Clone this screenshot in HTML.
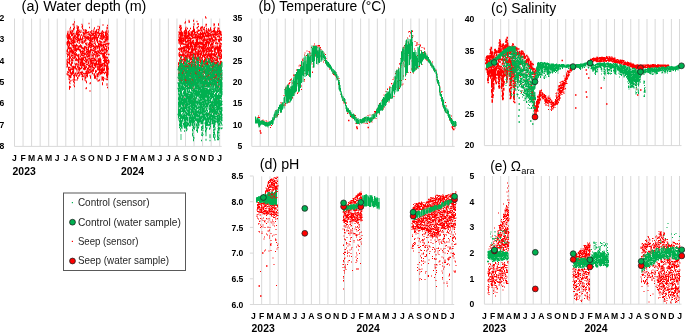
<!DOCTYPE html>
<html><head><meta charset="utf-8"><style>html,body{margin:0;padding:0;background:#fff;width:685px;height:332px;overflow:hidden}svg{display:block;will-change:transform}</style></head>
<body><svg xmlns="http://www.w3.org/2000/svg" width="685" height="332" viewBox="0 0 685 332">
<rect width="685" height="332" fill="#fff"/>
<line x1="14.50" y1="18.5" x2="14.50" y2="146.4" stroke="#d9d9d9" stroke-width="1"/>
<line x1="23.05" y1="18.5" x2="23.05" y2="146.4" stroke="#d9d9d9" stroke-width="1"/>
<line x1="31.60" y1="18.5" x2="31.60" y2="146.4" stroke="#d9d9d9" stroke-width="1"/>
<line x1="40.15" y1="18.5" x2="40.15" y2="146.4" stroke="#d9d9d9" stroke-width="1"/>
<line x1="48.70" y1="18.5" x2="48.70" y2="146.4" stroke="#d9d9d9" stroke-width="1"/>
<line x1="57.25" y1="18.5" x2="57.25" y2="146.4" stroke="#d9d9d9" stroke-width="1"/>
<line x1="65.80" y1="18.5" x2="65.80" y2="146.4" stroke="#d9d9d9" stroke-width="1"/>
<line x1="74.35" y1="18.5" x2="74.35" y2="146.4" stroke="#d9d9d9" stroke-width="1"/>
<line x1="82.90" y1="18.5" x2="82.90" y2="146.4" stroke="#d9d9d9" stroke-width="1"/>
<line x1="91.45" y1="18.5" x2="91.45" y2="146.4" stroke="#d9d9d9" stroke-width="1"/>
<line x1="100.00" y1="18.5" x2="100.00" y2="146.4" stroke="#d9d9d9" stroke-width="1"/>
<line x1="108.55" y1="18.5" x2="108.55" y2="146.4" stroke="#d9d9d9" stroke-width="1"/>
<line x1="117.10" y1="18.5" x2="117.10" y2="146.4" stroke="#d9d9d9" stroke-width="1"/>
<line x1="125.65" y1="18.5" x2="125.65" y2="146.4" stroke="#d9d9d9" stroke-width="1"/>
<line x1="134.20" y1="18.5" x2="134.20" y2="146.4" stroke="#d9d9d9" stroke-width="1"/>
<line x1="142.75" y1="18.5" x2="142.75" y2="146.4" stroke="#d9d9d9" stroke-width="1"/>
<line x1="151.30" y1="18.5" x2="151.30" y2="146.4" stroke="#d9d9d9" stroke-width="1"/>
<line x1="159.85" y1="18.5" x2="159.85" y2="146.4" stroke="#d9d9d9" stroke-width="1"/>
<line x1="168.40" y1="18.5" x2="168.40" y2="146.4" stroke="#d9d9d9" stroke-width="1"/>
<line x1="176.95" y1="18.5" x2="176.95" y2="146.4" stroke="#d9d9d9" stroke-width="1"/>
<line x1="185.50" y1="18.5" x2="185.50" y2="146.4" stroke="#d9d9d9" stroke-width="1"/>
<line x1="194.05" y1="18.5" x2="194.05" y2="146.4" stroke="#d9d9d9" stroke-width="1"/>
<line x1="202.60" y1="18.5" x2="202.60" y2="146.4" stroke="#d9d9d9" stroke-width="1"/>
<line x1="211.15" y1="18.5" x2="211.15" y2="146.4" stroke="#d9d9d9" stroke-width="1"/>
<line x1="219.70" y1="18.5" x2="219.70" y2="146.4" stroke="#d9d9d9" stroke-width="1"/>
<line x1="14.50" y1="146.4" x2="221.70" y2="146.4" stroke="#d9d9d9" stroke-width="1"/>
<text x="4.2" y="21.1" font-size="8.6" font-weight="bold" text-anchor="end" fill="#000" font-family="Liberation Sans, sans-serif">2</text>
<text x="4.2" y="42.43" font-size="8.6" font-weight="bold" text-anchor="end" fill="#000" font-family="Liberation Sans, sans-serif">3</text>
<text x="4.2" y="63.76" font-size="8.6" font-weight="bold" text-anchor="end" fill="#000" font-family="Liberation Sans, sans-serif">4</text>
<text x="4.2" y="85.08999999999999" font-size="8.6" font-weight="bold" text-anchor="end" fill="#000" font-family="Liberation Sans, sans-serif">5</text>
<text x="4.2" y="106.41999999999999" font-size="8.6" font-weight="bold" text-anchor="end" fill="#000" font-family="Liberation Sans, sans-serif">6</text>
<text x="4.2" y="127.74999999999999" font-size="8.6" font-weight="bold" text-anchor="end" fill="#000" font-family="Liberation Sans, sans-serif">7</text>
<text x="4.2" y="149.07999999999998" font-size="8.6" font-weight="bold" text-anchor="end" fill="#000" font-family="Liberation Sans, sans-serif">8</text>
<text x="14.50" y="160.7" font-size="8.6" font-weight="bold" text-anchor="middle" fill="#000" font-family="Liberation Sans, sans-serif">J</text>
<text x="23.05" y="160.7" font-size="8.6" font-weight="bold" text-anchor="middle" fill="#000" font-family="Liberation Sans, sans-serif">F</text>
<text x="31.60" y="160.7" font-size="8.6" font-weight="bold" text-anchor="middle" fill="#000" font-family="Liberation Sans, sans-serif">M</text>
<text x="40.15" y="160.7" font-size="8.6" font-weight="bold" text-anchor="middle" fill="#000" font-family="Liberation Sans, sans-serif">A</text>
<text x="48.70" y="160.7" font-size="8.6" font-weight="bold" text-anchor="middle" fill="#000" font-family="Liberation Sans, sans-serif">M</text>
<text x="57.25" y="160.7" font-size="8.6" font-weight="bold" text-anchor="middle" fill="#000" font-family="Liberation Sans, sans-serif">J</text>
<text x="65.80" y="160.7" font-size="8.6" font-weight="bold" text-anchor="middle" fill="#000" font-family="Liberation Sans, sans-serif">J</text>
<text x="74.35" y="160.7" font-size="8.6" font-weight="bold" text-anchor="middle" fill="#000" font-family="Liberation Sans, sans-serif">A</text>
<text x="82.90" y="160.7" font-size="8.6" font-weight="bold" text-anchor="middle" fill="#000" font-family="Liberation Sans, sans-serif">S</text>
<text x="91.45" y="160.7" font-size="8.6" font-weight="bold" text-anchor="middle" fill="#000" font-family="Liberation Sans, sans-serif">O</text>
<text x="100.00" y="160.7" font-size="8.6" font-weight="bold" text-anchor="middle" fill="#000" font-family="Liberation Sans, sans-serif">N</text>
<text x="108.55" y="160.7" font-size="8.6" font-weight="bold" text-anchor="middle" fill="#000" font-family="Liberation Sans, sans-serif">D</text>
<text x="117.10" y="160.7" font-size="8.6" font-weight="bold" text-anchor="middle" fill="#000" font-family="Liberation Sans, sans-serif">J</text>
<text x="125.65" y="160.7" font-size="8.6" font-weight="bold" text-anchor="middle" fill="#000" font-family="Liberation Sans, sans-serif">F</text>
<text x="134.20" y="160.7" font-size="8.6" font-weight="bold" text-anchor="middle" fill="#000" font-family="Liberation Sans, sans-serif">M</text>
<text x="142.75" y="160.7" font-size="8.6" font-weight="bold" text-anchor="middle" fill="#000" font-family="Liberation Sans, sans-serif">A</text>
<text x="151.30" y="160.7" font-size="8.6" font-weight="bold" text-anchor="middle" fill="#000" font-family="Liberation Sans, sans-serif">M</text>
<text x="159.85" y="160.7" font-size="8.6" font-weight="bold" text-anchor="middle" fill="#000" font-family="Liberation Sans, sans-serif">J</text>
<text x="168.40" y="160.7" font-size="8.6" font-weight="bold" text-anchor="middle" fill="#000" font-family="Liberation Sans, sans-serif">J</text>
<text x="176.95" y="160.7" font-size="8.6" font-weight="bold" text-anchor="middle" fill="#000" font-family="Liberation Sans, sans-serif">A</text>
<text x="185.50" y="160.7" font-size="8.6" font-weight="bold" text-anchor="middle" fill="#000" font-family="Liberation Sans, sans-serif">S</text>
<text x="194.05" y="160.7" font-size="8.6" font-weight="bold" text-anchor="middle" fill="#000" font-family="Liberation Sans, sans-serif">O</text>
<text x="202.60" y="160.7" font-size="8.6" font-weight="bold" text-anchor="middle" fill="#000" font-family="Liberation Sans, sans-serif">N</text>
<text x="211.15" y="160.7" font-size="8.6" font-weight="bold" text-anchor="middle" fill="#000" font-family="Liberation Sans, sans-serif">D</text>
<text x="219.70" y="160.7" font-size="8.6" font-weight="bold" text-anchor="middle" fill="#000" font-family="Liberation Sans, sans-serif">J</text>
<text x="12.6" y="174.6" font-size="10.4" font-weight="bold" text-anchor="start" fill="#000" font-family="Liberation Sans, sans-serif">2023</text>
<text x="121" y="174.6" font-size="10.4" font-weight="bold" text-anchor="start" fill="#000" font-family="Liberation Sans, sans-serif">2024</text>
<text x="21.6" y="10.9" font-size="14" font-weight="normal" text-anchor="start" fill="#000" textLength="124.8" lengthAdjust="spacingAndGlyphs" font-family="Liberation Sans, sans-serif">(a) Water depth (m)</text>
<line x1="251.80" y1="18.5" x2="251.80" y2="146.4" stroke="#d9d9d9" stroke-width="1"/>
<line x1="260.17" y1="18.5" x2="260.17" y2="146.4" stroke="#d9d9d9" stroke-width="1"/>
<line x1="268.54" y1="18.5" x2="268.54" y2="146.4" stroke="#d9d9d9" stroke-width="1"/>
<line x1="276.91" y1="18.5" x2="276.91" y2="146.4" stroke="#d9d9d9" stroke-width="1"/>
<line x1="285.28" y1="18.5" x2="285.28" y2="146.4" stroke="#d9d9d9" stroke-width="1"/>
<line x1="293.65" y1="18.5" x2="293.65" y2="146.4" stroke="#d9d9d9" stroke-width="1"/>
<line x1="302.02" y1="18.5" x2="302.02" y2="146.4" stroke="#d9d9d9" stroke-width="1"/>
<line x1="310.39" y1="18.5" x2="310.39" y2="146.4" stroke="#d9d9d9" stroke-width="1"/>
<line x1="318.76" y1="18.5" x2="318.76" y2="146.4" stroke="#d9d9d9" stroke-width="1"/>
<line x1="327.13" y1="18.5" x2="327.13" y2="146.4" stroke="#d9d9d9" stroke-width="1"/>
<line x1="335.50" y1="18.5" x2="335.50" y2="146.4" stroke="#d9d9d9" stroke-width="1"/>
<line x1="343.87" y1="18.5" x2="343.87" y2="146.4" stroke="#d9d9d9" stroke-width="1"/>
<line x1="352.24" y1="18.5" x2="352.24" y2="146.4" stroke="#d9d9d9" stroke-width="1"/>
<line x1="360.61" y1="18.5" x2="360.61" y2="146.4" stroke="#d9d9d9" stroke-width="1"/>
<line x1="368.98" y1="18.5" x2="368.98" y2="146.4" stroke="#d9d9d9" stroke-width="1"/>
<line x1="377.35" y1="18.5" x2="377.35" y2="146.4" stroke="#d9d9d9" stroke-width="1"/>
<line x1="385.72" y1="18.5" x2="385.72" y2="146.4" stroke="#d9d9d9" stroke-width="1"/>
<line x1="394.09" y1="18.5" x2="394.09" y2="146.4" stroke="#d9d9d9" stroke-width="1"/>
<line x1="402.46" y1="18.5" x2="402.46" y2="146.4" stroke="#d9d9d9" stroke-width="1"/>
<line x1="410.83" y1="18.5" x2="410.83" y2="146.4" stroke="#d9d9d9" stroke-width="1"/>
<line x1="419.20" y1="18.5" x2="419.20" y2="146.4" stroke="#d9d9d9" stroke-width="1"/>
<line x1="427.57" y1="18.5" x2="427.57" y2="146.4" stroke="#d9d9d9" stroke-width="1"/>
<line x1="435.94" y1="18.5" x2="435.94" y2="146.4" stroke="#d9d9d9" stroke-width="1"/>
<line x1="444.31" y1="18.5" x2="444.31" y2="146.4" stroke="#d9d9d9" stroke-width="1"/>
<line x1="452.68" y1="18.5" x2="452.68" y2="146.4" stroke="#d9d9d9" stroke-width="1"/>
<line x1="251.80" y1="146.4" x2="454.68" y2="146.4" stroke="#d9d9d9" stroke-width="1"/>
<text x="242.4" y="21.089999999999982" font-size="8.6" font-weight="bold" text-anchor="end" fill="#000" font-family="Liberation Sans, sans-serif">35</text>
<text x="242.4" y="42.42499999999999" font-size="8.6" font-weight="bold" text-anchor="end" fill="#000" font-family="Liberation Sans, sans-serif">30</text>
<text x="242.4" y="63.76" font-size="8.6" font-weight="bold" text-anchor="end" fill="#000" font-family="Liberation Sans, sans-serif">25</text>
<text x="242.4" y="85.09499999999998" font-size="8.6" font-weight="bold" text-anchor="end" fill="#000" font-family="Liberation Sans, sans-serif">20</text>
<text x="242.4" y="106.42999999999999" font-size="8.6" font-weight="bold" text-anchor="end" fill="#000" font-family="Liberation Sans, sans-serif">15</text>
<text x="242.4" y="127.76499999999999" font-size="8.6" font-weight="bold" text-anchor="end" fill="#000" font-family="Liberation Sans, sans-serif">10</text>
<text x="242.4" y="149.1" font-size="8.6" font-weight="bold" text-anchor="end" fill="#000" font-family="Liberation Sans, sans-serif">5</text>
<text x="258.6" y="10.9" font-size="14" font-weight="normal" text-anchor="start" fill="#000" textLength="127.4" lengthAdjust="spacingAndGlyphs" font-family="Liberation Sans, sans-serif">(b) Temperature (°C)</text>
<line x1="484.40" y1="19" x2="484.40" y2="145.6" stroke="#d9d9d9" stroke-width="1"/>
<line x1="492.53" y1="19" x2="492.53" y2="145.6" stroke="#d9d9d9" stroke-width="1"/>
<line x1="500.66" y1="19" x2="500.66" y2="145.6" stroke="#d9d9d9" stroke-width="1"/>
<line x1="508.79" y1="19" x2="508.79" y2="145.6" stroke="#d9d9d9" stroke-width="1"/>
<line x1="516.92" y1="19" x2="516.92" y2="145.6" stroke="#d9d9d9" stroke-width="1"/>
<line x1="525.05" y1="19" x2="525.05" y2="145.6" stroke="#d9d9d9" stroke-width="1"/>
<line x1="533.18" y1="19" x2="533.18" y2="145.6" stroke="#d9d9d9" stroke-width="1"/>
<line x1="541.31" y1="19" x2="541.31" y2="145.6" stroke="#d9d9d9" stroke-width="1"/>
<line x1="549.44" y1="19" x2="549.44" y2="145.6" stroke="#d9d9d9" stroke-width="1"/>
<line x1="557.57" y1="19" x2="557.57" y2="145.6" stroke="#d9d9d9" stroke-width="1"/>
<line x1="565.70" y1="19" x2="565.70" y2="145.6" stroke="#d9d9d9" stroke-width="1"/>
<line x1="573.83" y1="19" x2="573.83" y2="145.6" stroke="#d9d9d9" stroke-width="1"/>
<line x1="581.96" y1="19" x2="581.96" y2="145.6" stroke="#d9d9d9" stroke-width="1"/>
<line x1="590.09" y1="19" x2="590.09" y2="145.6" stroke="#d9d9d9" stroke-width="1"/>
<line x1="598.22" y1="19" x2="598.22" y2="145.6" stroke="#d9d9d9" stroke-width="1"/>
<line x1="606.35" y1="19" x2="606.35" y2="145.6" stroke="#d9d9d9" stroke-width="1"/>
<line x1="614.48" y1="19" x2="614.48" y2="145.6" stroke="#d9d9d9" stroke-width="1"/>
<line x1="622.61" y1="19" x2="622.61" y2="145.6" stroke="#d9d9d9" stroke-width="1"/>
<line x1="630.74" y1="19" x2="630.74" y2="145.6" stroke="#d9d9d9" stroke-width="1"/>
<line x1="638.87" y1="19" x2="638.87" y2="145.6" stroke="#d9d9d9" stroke-width="1"/>
<line x1="647.00" y1="19" x2="647.00" y2="145.6" stroke="#d9d9d9" stroke-width="1"/>
<line x1="655.13" y1="19" x2="655.13" y2="145.6" stroke="#d9d9d9" stroke-width="1"/>
<line x1="663.26" y1="19" x2="663.26" y2="145.6" stroke="#d9d9d9" stroke-width="1"/>
<line x1="671.39" y1="19" x2="671.39" y2="145.6" stroke="#d9d9d9" stroke-width="1"/>
<line x1="679.52" y1="19" x2="679.52" y2="145.6" stroke="#d9d9d9" stroke-width="1"/>
<line x1="484.40" y1="145.6" x2="681.52" y2="145.6" stroke="#d9d9d9" stroke-width="1"/>
<text x="474.4" y="22.400000000000013" font-size="8.6" font-weight="bold" text-anchor="end" fill="#000" font-family="Liberation Sans, sans-serif">40</text>
<text x="474.4" y="53.90000000000001" font-size="8.6" font-weight="bold" text-anchor="end" fill="#000" font-family="Liberation Sans, sans-serif">35</text>
<text x="474.4" y="85.4" font-size="8.6" font-weight="bold" text-anchor="end" fill="#000" font-family="Liberation Sans, sans-serif">30</text>
<text x="474.4" y="116.9" font-size="8.6" font-weight="bold" text-anchor="end" fill="#000" font-family="Liberation Sans, sans-serif">25</text>
<text x="474.4" y="148.4" font-size="8.6" font-weight="bold" text-anchor="end" fill="#000" font-family="Liberation Sans, sans-serif">20</text>
<text x="491.0" y="12.7" font-size="14" font-weight="normal" text-anchor="start" fill="#000" textLength="65.2" lengthAdjust="spacingAndGlyphs" font-family="Liberation Sans, sans-serif">(c) Salinity</text>
<line x1="253.40" y1="176.3" x2="253.40" y2="304.5" stroke="#d9d9d9" stroke-width="1"/>
<line x1="261.68" y1="176.3" x2="261.68" y2="304.5" stroke="#d9d9d9" stroke-width="1"/>
<line x1="269.97" y1="176.3" x2="269.97" y2="304.5" stroke="#d9d9d9" stroke-width="1"/>
<line x1="278.25" y1="176.3" x2="278.25" y2="304.5" stroke="#d9d9d9" stroke-width="1"/>
<line x1="286.53" y1="176.3" x2="286.53" y2="304.5" stroke="#d9d9d9" stroke-width="1"/>
<line x1="294.81" y1="176.3" x2="294.81" y2="304.5" stroke="#d9d9d9" stroke-width="1"/>
<line x1="303.10" y1="176.3" x2="303.10" y2="304.5" stroke="#d9d9d9" stroke-width="1"/>
<line x1="311.38" y1="176.3" x2="311.38" y2="304.5" stroke="#d9d9d9" stroke-width="1"/>
<line x1="319.66" y1="176.3" x2="319.66" y2="304.5" stroke="#d9d9d9" stroke-width="1"/>
<line x1="327.95" y1="176.3" x2="327.95" y2="304.5" stroke="#d9d9d9" stroke-width="1"/>
<line x1="336.23" y1="176.3" x2="336.23" y2="304.5" stroke="#d9d9d9" stroke-width="1"/>
<line x1="344.51" y1="176.3" x2="344.51" y2="304.5" stroke="#d9d9d9" stroke-width="1"/>
<line x1="352.80" y1="176.3" x2="352.80" y2="304.5" stroke="#d9d9d9" stroke-width="1"/>
<line x1="361.08" y1="176.3" x2="361.08" y2="304.5" stroke="#d9d9d9" stroke-width="1"/>
<line x1="369.36" y1="176.3" x2="369.36" y2="304.5" stroke="#d9d9d9" stroke-width="1"/>
<line x1="377.64" y1="176.3" x2="377.64" y2="304.5" stroke="#d9d9d9" stroke-width="1"/>
<line x1="385.93" y1="176.3" x2="385.93" y2="304.5" stroke="#d9d9d9" stroke-width="1"/>
<line x1="394.21" y1="176.3" x2="394.21" y2="304.5" stroke="#d9d9d9" stroke-width="1"/>
<line x1="402.49" y1="176.3" x2="402.49" y2="304.5" stroke="#d9d9d9" stroke-width="1"/>
<line x1="410.78" y1="176.3" x2="410.78" y2="304.5" stroke="#d9d9d9" stroke-width="1"/>
<line x1="419.06" y1="176.3" x2="419.06" y2="304.5" stroke="#d9d9d9" stroke-width="1"/>
<line x1="427.34" y1="176.3" x2="427.34" y2="304.5" stroke="#d9d9d9" stroke-width="1"/>
<line x1="435.63" y1="176.3" x2="435.63" y2="304.5" stroke="#d9d9d9" stroke-width="1"/>
<line x1="443.91" y1="176.3" x2="443.91" y2="304.5" stroke="#d9d9d9" stroke-width="1"/>
<line x1="452.19" y1="176.3" x2="452.19" y2="304.5" stroke="#d9d9d9" stroke-width="1"/>
<line x1="249.90" y1="304.5" x2="454.19" y2="304.5" stroke="#d9d9d9" stroke-width="1"/>
<line x1="249.9" y1="176.00" x2="253.4" y2="176.00" stroke="#d9d9d9" stroke-width="1"/>
<line x1="249.9" y1="201.70" x2="253.4" y2="201.70" stroke="#d9d9d9" stroke-width="1"/>
<line x1="249.9" y1="227.40" x2="253.4" y2="227.40" stroke="#d9d9d9" stroke-width="1"/>
<line x1="249.9" y1="253.10" x2="253.4" y2="253.10" stroke="#d9d9d9" stroke-width="1"/>
<line x1="249.9" y1="278.80" x2="253.4" y2="278.80" stroke="#d9d9d9" stroke-width="1"/>
<text x="243.4" y="179.1" font-size="8.6" font-weight="bold" text-anchor="end" fill="#000" font-family="Liberation Sans, sans-serif">8.5</text>
<text x="243.4" y="204.79999999999998" font-size="8.6" font-weight="bold" text-anchor="end" fill="#000" font-family="Liberation Sans, sans-serif">8.0</text>
<text x="243.4" y="230.5" font-size="8.6" font-weight="bold" text-anchor="end" fill="#000" font-family="Liberation Sans, sans-serif">7.5</text>
<text x="243.4" y="256.2" font-size="8.6" font-weight="bold" text-anchor="end" fill="#000" font-family="Liberation Sans, sans-serif">7.0</text>
<text x="243.4" y="281.90000000000003" font-size="8.6" font-weight="bold" text-anchor="end" fill="#000" font-family="Liberation Sans, sans-serif">6.5</text>
<text x="243.4" y="307.6" font-size="8.6" font-weight="bold" text-anchor="end" fill="#000" font-family="Liberation Sans, sans-serif">6.0</text>
<text x="253.40" y="318.5" font-size="8.6" font-weight="bold" text-anchor="middle" fill="#000" font-family="Liberation Sans, sans-serif">J</text>
<text x="261.68" y="318.5" font-size="8.6" font-weight="bold" text-anchor="middle" fill="#000" font-family="Liberation Sans, sans-serif">F</text>
<text x="269.97" y="318.5" font-size="8.6" font-weight="bold" text-anchor="middle" fill="#000" font-family="Liberation Sans, sans-serif">M</text>
<text x="278.25" y="318.5" font-size="8.6" font-weight="bold" text-anchor="middle" fill="#000" font-family="Liberation Sans, sans-serif">A</text>
<text x="286.53" y="318.5" font-size="8.6" font-weight="bold" text-anchor="middle" fill="#000" font-family="Liberation Sans, sans-serif">M</text>
<text x="294.81" y="318.5" font-size="8.6" font-weight="bold" text-anchor="middle" fill="#000" font-family="Liberation Sans, sans-serif">J</text>
<text x="303.10" y="318.5" font-size="8.6" font-weight="bold" text-anchor="middle" fill="#000" font-family="Liberation Sans, sans-serif">J</text>
<text x="311.38" y="318.5" font-size="8.6" font-weight="bold" text-anchor="middle" fill="#000" font-family="Liberation Sans, sans-serif">A</text>
<text x="319.66" y="318.5" font-size="8.6" font-weight="bold" text-anchor="middle" fill="#000" font-family="Liberation Sans, sans-serif">S</text>
<text x="327.95" y="318.5" font-size="8.6" font-weight="bold" text-anchor="middle" fill="#000" font-family="Liberation Sans, sans-serif">O</text>
<text x="336.23" y="318.5" font-size="8.6" font-weight="bold" text-anchor="middle" fill="#000" font-family="Liberation Sans, sans-serif">N</text>
<text x="344.51" y="318.5" font-size="8.6" font-weight="bold" text-anchor="middle" fill="#000" font-family="Liberation Sans, sans-serif">D</text>
<text x="352.80" y="318.5" font-size="8.6" font-weight="bold" text-anchor="middle" fill="#000" font-family="Liberation Sans, sans-serif">J</text>
<text x="361.08" y="318.5" font-size="8.6" font-weight="bold" text-anchor="middle" fill="#000" font-family="Liberation Sans, sans-serif">F</text>
<text x="369.36" y="318.5" font-size="8.6" font-weight="bold" text-anchor="middle" fill="#000" font-family="Liberation Sans, sans-serif">M</text>
<text x="377.64" y="318.5" font-size="8.6" font-weight="bold" text-anchor="middle" fill="#000" font-family="Liberation Sans, sans-serif">A</text>
<text x="385.93" y="318.5" font-size="8.6" font-weight="bold" text-anchor="middle" fill="#000" font-family="Liberation Sans, sans-serif">M</text>
<text x="394.21" y="318.5" font-size="8.6" font-weight="bold" text-anchor="middle" fill="#000" font-family="Liberation Sans, sans-serif">J</text>
<text x="402.49" y="318.5" font-size="8.6" font-weight="bold" text-anchor="middle" fill="#000" font-family="Liberation Sans, sans-serif">J</text>
<text x="410.78" y="318.5" font-size="8.6" font-weight="bold" text-anchor="middle" fill="#000" font-family="Liberation Sans, sans-serif">A</text>
<text x="419.06" y="318.5" font-size="8.6" font-weight="bold" text-anchor="middle" fill="#000" font-family="Liberation Sans, sans-serif">S</text>
<text x="427.34" y="318.5" font-size="8.6" font-weight="bold" text-anchor="middle" fill="#000" font-family="Liberation Sans, sans-serif">O</text>
<text x="435.63" y="318.5" font-size="8.6" font-weight="bold" text-anchor="middle" fill="#000" font-family="Liberation Sans, sans-serif">N</text>
<text x="443.91" y="318.5" font-size="8.6" font-weight="bold" text-anchor="middle" fill="#000" font-family="Liberation Sans, sans-serif">D</text>
<text x="452.19" y="318.5" font-size="8.6" font-weight="bold" text-anchor="middle" fill="#000" font-family="Liberation Sans, sans-serif">J</text>
<text x="251.6" y="332.4" font-size="10.4" font-weight="bold" text-anchor="start" fill="#000" font-family="Liberation Sans, sans-serif">2023</text>
<text x="356.6" y="332.4" font-size="10.4" font-weight="bold" text-anchor="start" fill="#000" font-family="Liberation Sans, sans-serif">2024</text>
<text x="259.8" y="168.8" font-size="14" font-weight="normal" text-anchor="start" fill="#000" textLength="39.6" lengthAdjust="spacingAndGlyphs" font-family="Liberation Sans, sans-serif">(d) pH</text>
<line x1="484.40" y1="176" x2="484.40" y2="304.2" stroke="#d9d9d9" stroke-width="1"/>
<line x1="492.53" y1="176" x2="492.53" y2="304.2" stroke="#d9d9d9" stroke-width="1"/>
<line x1="500.66" y1="176" x2="500.66" y2="304.2" stroke="#d9d9d9" stroke-width="1"/>
<line x1="508.79" y1="176" x2="508.79" y2="304.2" stroke="#d9d9d9" stroke-width="1"/>
<line x1="516.92" y1="176" x2="516.92" y2="304.2" stroke="#d9d9d9" stroke-width="1"/>
<line x1="525.05" y1="176" x2="525.05" y2="304.2" stroke="#d9d9d9" stroke-width="1"/>
<line x1="533.18" y1="176" x2="533.18" y2="304.2" stroke="#d9d9d9" stroke-width="1"/>
<line x1="541.31" y1="176" x2="541.31" y2="304.2" stroke="#d9d9d9" stroke-width="1"/>
<line x1="549.44" y1="176" x2="549.44" y2="304.2" stroke="#d9d9d9" stroke-width="1"/>
<line x1="557.57" y1="176" x2="557.57" y2="304.2" stroke="#d9d9d9" stroke-width="1"/>
<line x1="565.70" y1="176" x2="565.70" y2="304.2" stroke="#d9d9d9" stroke-width="1"/>
<line x1="573.83" y1="176" x2="573.83" y2="304.2" stroke="#d9d9d9" stroke-width="1"/>
<line x1="581.96" y1="176" x2="581.96" y2="304.2" stroke="#d9d9d9" stroke-width="1"/>
<line x1="590.09" y1="176" x2="590.09" y2="304.2" stroke="#d9d9d9" stroke-width="1"/>
<line x1="598.22" y1="176" x2="598.22" y2="304.2" stroke="#d9d9d9" stroke-width="1"/>
<line x1="606.35" y1="176" x2="606.35" y2="304.2" stroke="#d9d9d9" stroke-width="1"/>
<line x1="614.48" y1="176" x2="614.48" y2="304.2" stroke="#d9d9d9" stroke-width="1"/>
<line x1="622.61" y1="176" x2="622.61" y2="304.2" stroke="#d9d9d9" stroke-width="1"/>
<line x1="630.74" y1="176" x2="630.74" y2="304.2" stroke="#d9d9d9" stroke-width="1"/>
<line x1="638.87" y1="176" x2="638.87" y2="304.2" stroke="#d9d9d9" stroke-width="1"/>
<line x1="647.00" y1="176" x2="647.00" y2="304.2" stroke="#d9d9d9" stroke-width="1"/>
<line x1="655.13" y1="176" x2="655.13" y2="304.2" stroke="#d9d9d9" stroke-width="1"/>
<line x1="663.26" y1="176" x2="663.26" y2="304.2" stroke="#d9d9d9" stroke-width="1"/>
<line x1="671.39" y1="176" x2="671.39" y2="304.2" stroke="#d9d9d9" stroke-width="1"/>
<line x1="679.52" y1="176" x2="679.52" y2="304.2" stroke="#d9d9d9" stroke-width="1"/>
<line x1="484.40" y1="304.2" x2="681.52" y2="304.2" stroke="#d9d9d9" stroke-width="1"/>
<text x="474.2" y="178.79999999999998" font-size="8.6" font-weight="bold" text-anchor="end" fill="#000" font-family="Liberation Sans, sans-serif">5</text>
<text x="474.2" y="204.49999999999997" font-size="8.6" font-weight="bold" text-anchor="end" fill="#000" font-family="Liberation Sans, sans-serif">4</text>
<text x="474.2" y="230.2" font-size="8.6" font-weight="bold" text-anchor="end" fill="#000" font-family="Liberation Sans, sans-serif">3</text>
<text x="474.2" y="255.89999999999998" font-size="8.6" font-weight="bold" text-anchor="end" fill="#000" font-family="Liberation Sans, sans-serif">2</text>
<text x="474.2" y="281.6" font-size="8.6" font-weight="bold" text-anchor="end" fill="#000" font-family="Liberation Sans, sans-serif">1</text>
<text x="474.2" y="307.3" font-size="8.6" font-weight="bold" text-anchor="end" fill="#000" font-family="Liberation Sans, sans-serif">0</text>
<text x="484.40" y="318.5" font-size="8.6" font-weight="bold" text-anchor="middle" fill="#000" font-family="Liberation Sans, sans-serif">J</text>
<text x="492.53" y="318.5" font-size="8.6" font-weight="bold" text-anchor="middle" fill="#000" font-family="Liberation Sans, sans-serif">F</text>
<text x="500.66" y="318.5" font-size="8.6" font-weight="bold" text-anchor="middle" fill="#000" font-family="Liberation Sans, sans-serif">M</text>
<text x="508.79" y="318.5" font-size="8.6" font-weight="bold" text-anchor="middle" fill="#000" font-family="Liberation Sans, sans-serif">A</text>
<text x="516.92" y="318.5" font-size="8.6" font-weight="bold" text-anchor="middle" fill="#000" font-family="Liberation Sans, sans-serif">M</text>
<text x="525.05" y="318.5" font-size="8.6" font-weight="bold" text-anchor="middle" fill="#000" font-family="Liberation Sans, sans-serif">J</text>
<text x="533.18" y="318.5" font-size="8.6" font-weight="bold" text-anchor="middle" fill="#000" font-family="Liberation Sans, sans-serif">J</text>
<text x="541.31" y="318.5" font-size="8.6" font-weight="bold" text-anchor="middle" fill="#000" font-family="Liberation Sans, sans-serif">A</text>
<text x="549.44" y="318.5" font-size="8.6" font-weight="bold" text-anchor="middle" fill="#000" font-family="Liberation Sans, sans-serif">S</text>
<text x="557.57" y="318.5" font-size="8.6" font-weight="bold" text-anchor="middle" fill="#000" font-family="Liberation Sans, sans-serif">O</text>
<text x="565.70" y="318.5" font-size="8.6" font-weight="bold" text-anchor="middle" fill="#000" font-family="Liberation Sans, sans-serif">N</text>
<text x="573.83" y="318.5" font-size="8.6" font-weight="bold" text-anchor="middle" fill="#000" font-family="Liberation Sans, sans-serif">D</text>
<text x="581.96" y="318.5" font-size="8.6" font-weight="bold" text-anchor="middle" fill="#000" font-family="Liberation Sans, sans-serif">J</text>
<text x="590.09" y="318.5" font-size="8.6" font-weight="bold" text-anchor="middle" fill="#000" font-family="Liberation Sans, sans-serif">F</text>
<text x="598.22" y="318.5" font-size="8.6" font-weight="bold" text-anchor="middle" fill="#000" font-family="Liberation Sans, sans-serif">M</text>
<text x="606.35" y="318.5" font-size="8.6" font-weight="bold" text-anchor="middle" fill="#000" font-family="Liberation Sans, sans-serif">A</text>
<text x="614.48" y="318.5" font-size="8.6" font-weight="bold" text-anchor="middle" fill="#000" font-family="Liberation Sans, sans-serif">M</text>
<text x="622.61" y="318.5" font-size="8.6" font-weight="bold" text-anchor="middle" fill="#000" font-family="Liberation Sans, sans-serif">J</text>
<text x="630.74" y="318.5" font-size="8.6" font-weight="bold" text-anchor="middle" fill="#000" font-family="Liberation Sans, sans-serif">J</text>
<text x="638.87" y="318.5" font-size="8.6" font-weight="bold" text-anchor="middle" fill="#000" font-family="Liberation Sans, sans-serif">A</text>
<text x="647.00" y="318.5" font-size="8.6" font-weight="bold" text-anchor="middle" fill="#000" font-family="Liberation Sans, sans-serif">S</text>
<text x="655.13" y="318.5" font-size="8.6" font-weight="bold" text-anchor="middle" fill="#000" font-family="Liberation Sans, sans-serif">O</text>
<text x="663.26" y="318.5" font-size="8.6" font-weight="bold" text-anchor="middle" fill="#000" font-family="Liberation Sans, sans-serif">N</text>
<text x="671.39" y="318.5" font-size="8.6" font-weight="bold" text-anchor="middle" fill="#000" font-family="Liberation Sans, sans-serif">D</text>
<text x="679.52" y="318.5" font-size="8.6" font-weight="bold" text-anchor="middle" fill="#000" font-family="Liberation Sans, sans-serif">J</text>
<text x="482.8" y="332.4" font-size="10.4" font-weight="bold" text-anchor="start" fill="#000" font-family="Liberation Sans, sans-serif">2023</text>
<text x="584.4" y="332.4" font-size="10.4" font-weight="bold" text-anchor="start" fill="#000" font-family="Liberation Sans, sans-serif">2024</text>
<text x="490.3" y="171" font-size="14" font-weight="normal" text-anchor="start" fill="#000" textLength="30.8" lengthAdjust="spacingAndGlyphs" font-family="Liberation Sans, sans-serif">(e) Ω</text>
<text x="521.3" y="174.4" font-size="9.5" font-weight="normal" text-anchor="start" fill="#000" textLength="13.4" lengthAdjust="spacingAndGlyphs" font-family="Liberation Sans, sans-serif">ara</text>
<path transform="scale(.5)" d="M514 236h2m0-4h2m-2 3h2m-2 12h2m-1 5h2m-1-17h2m3 7h2m-2 2h2m0-4h2m-2 2h2m-1 2h2m1-2h2m1 0h2m-1 9h2m0-7h2m-1 1h2m-1 3h2m-1 0h2m0 7h2m0-4h2m-1-8h2m1-4h2m1-10h2m-2 1h2m-1 4h2m-1-13h2m-2 1h2m0 9h2m-1-1h2m-2 2h2m0-3h2m2-7h2m-2 2h2m-1-19h2m-2 7h2m-1-4h2m-1 2h2m0 1h2m0-20h2m-2 19h2m0-31h2m-2 31h2m-1-33h2m-2 30h2m-2 3h2m-1-35h2m-2 1h2m-2 1h2m0-5h2m-1 17h2m-2 1h2m-1-18h2m-2 33h2m-1-37h2m-2 36h2m-1-34h2m-1-4h2m-2 1h2m-2 12h2m-2 25h2m-1-43h2m-2 4h2m-1-5h2m-1-1h2m-2 16h2m-1-17h2m-2 17h2m0-9h2m-2 29h2m-2 1h2m0-46h2m-2 27h2m-1-26h2m-2 1h2m-2 36h2m-1-23h2m-1-15h2m-1-1h2m-2 2h2m-1 11h2m-1-16h2m-2 35h2m-1-42h2m-2 1h2m-2 1h2m-2 27h2m-1-1h2m-2 20h2m-1-46h2m-2 26h2m-2 18h2m0-53h2m-2 11h2m-1 3h2m-1-16h2m-2 30h2m-1-29h2m-2 27h2m-1-24h2m-1-9h2m-2 47h2m-2 7h2m-1-55h2m-2 4h2m-1-8h2m-1-2h2m-2 3h2m1-11h2m-2 31h2m-2 18h2m-2 3h2m-1-56h2m-2 41h2m1-36h2m-2 35h2m-1-44h2m-2 20h2m-1 3h2m0-12h2m-2 28h2m-2 9h2m-1-47h2m-2 7h2m-2 8h2m-1-14h2m-1 2h2m-2 1h2m-1 33h2m-1-29h2m-2 13h2m-1-29h2m-1 33h2m-1-29h2m-2 45h2m-2 1h2m-1-11h2m-1-42h2m-1 0h2m-1-4h2m-2 4h2m-2 24h2m-1-8h2m-1-14h2m-2 16h2m-1 2h2m0-21h2m-2 2h2m-2 2h2m-2 16h2m0-9h2m-2 16h2m-1-27h2m-1 2h2m-2 0h2m-2 29h2m-2 3h2m-1-34h2m-1 4h2m-2 2h2m-2 5h2m-1-7h2m-2 17h2m-1-13h2m1 4h2m-2 1h2m-1 9h2m-1 11h2m-1-18h2m-2 8h2m-1 7h2m0-12h2m-2 10h2m-2 7h2m-1-9h2m5 21h2m-1-3h2m4 9h2m-2 3h2m-1-2h2m-2 4h2m1 0h2m-2 2h2m-1 1h2m-1-6h2m-1 3h2m-1 7h2m-1 2h2m0 7h2m-2 1h2m-2 1h2m-2 2h2m-1-12h2m-2 4h2m1 22h2m-1 6h2m0 5h2m0 5h2m-2 2h2m0 2h2m-2 1h2m-2 2h2m-1 0h2m2 0h2m-1 16h2m-1 5h2m-1-3h2m0 2h2m1 7h2m-1-2h2m1 5h2m-1-3h2m0 3h2m-1-6h2m0 1h2m-1 4h2m-2 12h2m0-6h2m-2 4h2m-2 2h2m3 1h2m2-6h2m0 2h2m-2 1h2m0-2h2m-1 3h2m0-9h2m-2 4h2m-1-6h2m-2 2h2m-1 10h2m1 0h2m-1-16h2m0 12h2m-1 2h2m-1-15h2m-1 7h2m-1 3h2m-1 0h2m-2 2h2m-1-5h2m-2 7h2m0-15h2m-1 7h2m-2 1h2m0-14h2m-2 0h2m-1 1h2m-2 0h2m-2 1h2m-2 1h2m-2 1h2m-1-4h2m-1 2h2m-2 12h2m-1-4h2m-1-15h2m-1 0h2m0-2h2m-1-2h2m-1-7h2m-2 3h2m-2 0h2m-2 18h2m1-10h2m0-17h2m1 17h2m-1-28h2m-2 0h2m-2 24h2m-1 0h2m-1-5h2m-1 1h2m-1-27h2m-1 21h2m0-26h2m-2 1h2m-2 0h2m-2 0h2m1 11h2m-2 0h2m-2 14h2m-1-30h2m-1 0h2m-2 1h2m1-8h2m-2 29h2m-1-28h2m0-9h2m-1 13h2m-1-16h2m-2 12h2m-2 3h2m-2 22h2m0-18h2m-1-28h2m-2 21h2m-1-11h2m-2 9h2m-1-24h2m-2 1h2m-2 1h2m-1-2h2m-1 21h2m-1-13h2m-2 27h2m-1-41h2m0-8h2m-2 33h2m-2 13h2m-2 3h2m-1-50h2m-1 16h2m-1-26h2m-2 14h2m-2 3h2m-1-9h2m-2 36h2m-1-58h2m-2 2h2m-2 65h2m-1-68h2m-2 5h2m-1-8h2m-2 69h2m-1-72h2m-2 30h2m-2 26h2m-1-58h2m-2 2h2m-2 34h2m-1-39h2m-2 31h2m-1-15h2m-2 26h2m-1 26h2m-1-72h2m-2 45h2m-2 17h2m-1-65h2m-2 0h2m-2 42h2m-1-26h2m-2 13h2m-1-37h2m-2 36h2m-1-28h2m-2 27h2m-2 34h2m-1-81h2m-1 23h2m-1-24h2m-2 9h2m-2 46h2m-1-10h2m-1-42h2m-2 28h2m-2 51h2m-1-81h2m-1 0h2m-2 12h2m-2 9h2m-2 53h2m-1-75h2m-2 8h2m-2 51h2m-1-60h2m-2 1h2m-2 12h2m-1-3h2m-1 43h2m-2 31h2m0-48h2m-2 25h2m-1-40h2m-2 32h2m-1 14h2m-2 9h2m-1-47h2m-2 45h2m-1-50h2m-2 52h2m-1-52h2m-2 3h2m-2 1h2m-2 43h2m-1-47h2m-2 25h2m-1 22h2m-1-10h2m-1-34h2m-1 16h2m-2 27h2m-2 1h2m-1-13h2m-1-30h2m-2 2h2m-2 19h2m-1-10h2m0-6h2m-2 11h2m-2 23h2m1-24h2m-1-9h2m-2 11h2m-1-9h2m-1 6h2m-1 13h2m-1-9h2m-2 11h2m-1-2h2m-1 4h2m-1-1h2m-1-1h2m-1 3h2m-1-1h2m-1 3h2m-1-1h2m1 5h2m-2 3h2m-1 1h2m-1-8h2m-1 9h2m-1 4h2m-2 0h2m-1 3h2m-2 0h2m1 1h2m-1-1h2m-1 8h2m-1 0h2m-2 7h2m-2 4h2m0 7h2m1 15h2m-1-7h2m-2 11h2m0 12h2m-1-13h2m-2 9h2m-1-10h2m-2 15h2m-1 8h2m-1 6h2m1 8h2m-1 0h2m-1-15h2m-2 17h2m0-10h2m-2 13h2m1 2h2m2 14h2m-1-4h2m0-5h2m-2 5h2m-1 11h2m-1 4h2m0-3h2m-2 4h2m-1-6h2m-1 4h2m-2 2h2m-1 3h2m0-6h2" stroke="#ff0000" stroke-width="2.4" fill="none"/>
<path transform="scale(.5)" d="M511 233v14m2-8v8m1-12v11m1-10v11m1-11v10m1-7v12m1-14v18m1-16v15m1-13v11m1-10v8m2-9v8m1-8v8m1-8v8m1-8v8m1-7v8m1-8v8m1-7v8m1-7v8m1-8v9m2-9v8m0-7v8m2-8v8m1-9v11m1-11v8m1-8v8m1-9v8m1-9v8m1-7v8m1-10v8m1-9v8m2-11v13m1-16v11m0-10v13m2-19v12m1-14v12m1-16v8m2-11v16m0-13v10m2-14v16m0-14v8m2-11v12m1-16v9m0-5v8m2-16v8m1-9v13m1-13v16m1-18v18m1-16v16m2-20v14m0-12v12m1-15v9m2-18v22m1-24v13m1-28v11m1-12v16m1-20v34m1-28v24m1-30v35m1-39v37m2-36v33m0-28v30m2-29v23m1-24v30m1-27v25m1-31v30m1-29v27m1-40v37m1-26v22m2-36v35m1-38v38m1-30v24m1-38v39m1-39v36m1-33v29m1-36v39m1-39v24m1-30v21m1-17v31m1-35v46m2-46v45m0-37v21m2-32v41m1-43v28m1-39v44m1-35v18m1-17v19m1-28v41m1-39v27m1-37v27m2-31v43m0-32v21m2-30v35m1-20v24m1-29v19m1-35v43m1-40v35m1-34v29m1-34v45m1-38v41m2-42v24m0-22v41m1-50v22m2-36v30m1-25v28m1-27v20m1-25v43m1-43v43m1-43v30m1-29v21m1-23v17m2-16v29m0-26v33m2-27v15m1-22v35m1-26v22m1-25v16m1-21v31m1-28v17m2-14v23m1-20v17m1-20v14m0-14v18m2-17v19m1-13v8m1-10v8m1-4v8m1-5v9m1-9v14m2-7v8m0-6v9m2-8v10m0-10v10m2-9v11m1-9v8m1-6v8m1-7v8m1-7v8m1-6v8m1-6v8m1-6v8m2-6v8m0-8v10m2-8v8m1-7v9m1-8v8m1-7v8m1-7v8m1-4v8m1-7v12m2-9v8m1 0v8m1-8v19m1-15v17m1-11v13m1-7v8m1-2v8m1-5v9m1-5v8m2-5v10m0-8v8m2-6v8m1-8v10m1-8v8m1-2v8m1-2v8m1-7v11m1-8v10m1-7v8m1-9v8m1-7v8m2-5v8m1-8v11m1-8v8m1-7v8m1-5v8m1-7v8m1-8v8m2-9v11m0-9v8m2-7v10m1-9v8m0-5v8m2-7v10m1-8v10m1-9v8m1-8v10m1-12v12m1-8v8m1-9v9m2-10v8m1-8v8m1-8v8m1-7v8m1-8v8m1-10v8m1-9v10m1-10v9m1-10v9m1-10v11m1-11v8m2-9v8m0-6v10m2-12v13m1-12v8m1-8v8m1-9v8m2-6v9m0-8v8m2-9v10m1-10v8m0-8v9m2-15v12m0-7v8m2-13v10m1-10v8m1-10v10m1-8v8m1-10v9m2-12v8m1-13v15m1-16v9m1-12v11m0-9v10m2-17v16m1-17v18m1-20v20m2-22v16m0-15v15m2-11v10m1-18v20m1-24v23m1-24v21m1-24v21m1-16v15m1-19v16m1-21v20m1-22v24m1-19v17m1-23v19m1-24v22m1-19v19m2-21v18m1-15v17m1-27v25m1-13v9m1-10v10m1-23v24m2-15v13m1-26v25m0-14v16m2-30v15m1-18v21m1-24v28m1-37v33m1-32v27m1-38v34m2-37v44m0-43v17m2-14v38m0-21v23m1-45v44m1-46v41m2-34v29m1-47v50m1-59v55m1-68v26m2-32v27m1-30v25m0-21v62m2-63v24m0-21v22m2-32v45m1-47v65m1-72v56m1-58v68m1-59v49m1-47v56m1-69v54m1-48v25m2-20v42m1-52v30m1-29v40m1-32v30m1-57v32m1-22v72m1-58v61m1-33v29m1-37v41m2-41v39m1-43v42m1-33v23m1-28v36m1-28v25m1-25v24m1-20v20m1-42v44m2-42v28m0-26v27m1-34v41m1-19v15m1-21v19m2-25v29m0-20v17m2-23v19m1-14v11m1-12v11m1-14v12m1-15v15m2-12v13m0-9v8m2-6v8m1-10v11m1-8v8m1-5v8m1-9v10m1-6v8m1-7v8m2-6v8m0-7v9m1-7v8m2-6v8m0-6v8m2-6v8m1-6v8m1-7v9m1-6v8m1-7v8m2-5v8m1-5v10m1-5v8m0-4v11m1-6v10m2-7v11m1-7v8m1-2v14m1-9v16m1-6v8m2-5v11m0-9v13m2-9v16m1-12v15m1-13v17m0-13v12m2-6v11m1-11v13m1-8v10m1-10v11m2-9v11m1-8v8m1-9v13m1-10v13m1-7v8m1-7v11m1-11v12m1-7v9m1-5v8m1-9v11m2-9v13m1-10v8m1-8v8m1-8v11m0-10v10m2-10v11m1-12v11m1-9v8" stroke="#00b050" stroke-width="2" fill="none"/>
<path transform="scale(.5)" d="M133 71h2m-2 3h2m-2 0h2m-2 11h2m-2 3h2m-2 0h2m-2 13h2m-2 1h2m-2 1h2m-2 4h2m-2 13h2m-2 0h2m-2 2h2m-2 4h2m-2 3h2m-2 4h2m-2 1h2m-2 14h2m-1-81h2m-2 1h2m-2 9h2m-2 6h2m-2 1h2m-2 6h2m-2 9h2m-2 3h2m-2 7h2m-2 4h2m-2 10h2m-2 6h2m-2 3h2m-2 12h2m-2 0h2m-2 4h2m-1-85h2m-2 3h2m-2 1h2m-2 3h2m-2 4h2m-2 0h2m-2 1h2m-2 4h2m-2 6h2m-2 3h2m-2 3h2m-2 1h2m-2 2h2m-2 3h2m-2 7h2m-2 5h2m-2 1h2m-2 7h2m-2 1h2m-2 7h2m-2 25h2m-1-78h2m-2 4h2m-2 5h2m-2 3h2m-2 12h2m-2 1h2m-2 12h2m-2 1h2m-2 25h2m-2 3h2m-2 1h2m-2 0h2m-2 6h2m-2 5h2m-2 0h2m-1-80h2m-2 4h2m-2 3h2m-2 8h2m-2 1h2m-2 7h2m-2 3h2m-2 10h2m-2 3h2m-2 11h2m-2 5h2m-2 1h2m-2 9h2m-2 6h2m-2 1h2m-2 12h2m-2 4h2m-1-88h2m-2 2h2m-2 3h2m-2 9h2m-2 5h2m-2 2h2m-2 7h2m-2 0h2m-2 4h2m-2 4h2m-2 1h2m-2 1h2m-2 4h2m-2 3h2m-2 2h2m-2 2h2m-2 0h2m-2 1h2m-2 1h2m-2 2h2m-2 3h2m-2 1h2m-2 13h2m-2 2h2m-2 9h2m-2 2h2m-2 6h2m-2 6h2m-2 8h2m-2 0h2m-2 3h2m-2 2h2m-1-120h2m-2 4h2m-2 4h2m-2 2h2m-2 7h2m-2 0h2m-2 2h2m-2 2h2m-2 6h2m-2 1h2m-2 10h2m-2 1h2m-2 7h2m-2 11h2m-2 2h2m-2 5h2m-2 6h2m-2 7h2m-2 4h2m-2 3h2m-2 0h2m-2 4h2m-2 7h2m-2 1h2m-2 9h2m-2 4h2m-1-112h2m-2 8h2m-2 1h2m-2 10h2m-2 4h2m-2 9h2m-2 9h2m-2 6h2m-2 1h2m-2 12h2m-2 15h2m-2 10h2m-2 3h2m-2 3h2m-2 6h2m-2 1h2m-2 2h2m-2 19h2m-1-111h2m-2 3h2m-2 16h2m-2 5h2m-2 0h2m-2 8h2m-2 4h2m-2 1h2m-2 3h2m-2 1h2m-2 4h2m-2 0h2m-2 4h2m-2 26h2m-2 11h2m-2 1h2m-2 4h2m-2 7h2m-1-95h2m-2 3h2m-2 2h2m-2 7h2m-2 5h2m-2 5h2m-2 10h2m-2 1h2m-2 12h2m-2 1h2m-2 6h2m-2 2h2m-2 5h2m-2 2h2m-2 3h2m-2 0h2m-2 0h2m-2 1h2m-2 7h2m-2 0h2m-2 8h2m-2 4h2m-1-89h2m-2 7h2m-2 13h2m-2 3h2m-2 2h2m-2 4h2m-2 1h2m-2 10h2m-2 2h2m-2 2h2m-2 6h2m-2 9h2m-2 2h2m-2 1h2m-2 3h2m-2 8h2m-2 5h2m-2 9h2m-1-84h2m-2 4h2m-2 2h2m-2 1h2m-2 14h2m-2 18h2m-2 1h2m-2 3h2m-2 8h2m-2 5h2m-2 6h2m-2 12h2m-2 1h2m-2 4h2m-2 3h2m-2 2h2m-1-99h2m-2 13h2m-2 8h2m-2 0h2m-2 5h2m-2 2h2m-2 2h2m-2 2h2m-2 5h2m-2 5h2m-2 1h2m-2 1h2m-2 2h2m-2 5h2m-2 6h2m-2 5h2m-2 6h2m-2 4h2m-2 12h2m-2 2h2m-2 2h2m-2 1h2m-2 8h2m-2 1h2m-2 13h2m-1-103h2m-2 2h2m-2 8h2m-2 7h2m-2 2h2m-2 3h2m-2 4h2m-2 4h2m-2 4h2m-2 4h2m-2 8h2m-2 30h2m-2 5h2m-2 2h2m-2 3h2m-2 3h2m-2 5h2m-2 12h2m-1-115h2m-2 4h2m-2 6h2m-2 19h2m-2 5h2m-2 1h2m-2 0h2m-2 2h2m-2 5h2m-2 2h2m-2 0h2m-2 0h2m-2 4h2m-2 2h2m-2 6h2m-2 2h2m-2 0h2m-2 3h2m-2 5h2m-2 2h2m-2 19h2m-2 1h2m-2 1h2m-2 15h2m-2 4h2m-2 1h2m-2 1h2m-2 6h2m-2 6h2m-1-126h2m-2 11h2m-2 17h2m-2 3h2m-2 7h2m-2 14h2m-2 4h2m-2 15h2m-2 19h2m-2 0h2m-2 1h2m-2 15h2m-2 2h2m-2 3h2m-2 4h2m-2 1h2m-2 6h2m-2 7h2m-1-106h2m-2 0h2m-2 1h2m-2 1h2m-2 0h2m-2 10h2m-2 1h2m-2 0h2m-2 5h2m-2 6h2m-2 3h2m-2 0h2m-2 7h2m-2 0h2m-2 6h2m-2 3h2m-2 2h2m-2 1h2m-2 3h2m-2 11h2m-2 0h2m-2 20h2m-2 2h2m-2 11h2m-1-88h2m-2 5h2m-2 14h2m-2 2h2m-2 2h2m-2 3h2m-2 7h2m-2 0h2m-2 9h2m-2 6h2m-2 9h2m-2 4h2m-2 3h2m-2 11h2m-1-72h2m-2 8h2m-2 13h2m-2 0h2m-2 2h2m-2 3h2m-2 8h2m-2 1h2m-2 9h2m-2 1h2m-2 1h2m-2 8h2m-2 2h2m-2 6h2m-2 1h2m-2 8h2m-2 1h2m-2 4h2m-1-87h2m-2 3h2m-2 2h2m-2 6h2m-2 4h2m-2 10h2m-2 3h2m-2 7h2m-2 1h2m-2 1h2m-2 1h2m-2 0h2m-2 6h2m-2 9h2m-2 3h2m-2 8h2m-2 24h2m-1-100h2m-2 4h2m-2 6h2m-2 2h2m-2 0h2m-2 10h2m-2 17h2m-2 7h2m-2 13h2m-2 8h2m-2 8h2m-2 0h2m-2 1h2m-2 10h2m-2 1h2m-2 2h2m-2 1h2m-2 8h2m-2 10h2m-1-103h2m-2 1h2m-2 3h2m-2 1h2m-2 4h2m-2 1h2m-2 1h2m-2 1h2m-2 3h2m-2 3h2m-2 2h2m-2 4h2m-2 3h2m-2 15h2m-2 0h2m-2 12h2m-2 9h2m-2 13h2m-2 1h2m-2 0h2m-2 13h2m-2 8h2m-2 2h2m-2 0h2m-1-103h2m-2 7h2m-2 0h2m-2 7h2m-2 6h2m-2 6h2m-2 0h2m-2 12h2m-2 3h2m-2 2h2m-2 0h2m-2 13h2m-2 3h2m-2 8h2m-2 1h2m-2 8h2m-2 16h2m-2 0h2m-2 10h2m-1-102h2m-2 2h2m-2 4h2m-2 1h2m-2 4h2m-2 4h2m-2 0h2m-2 3h2m-2 5h2m-2 4h2m-2 14h2m-2 2h2m-2 2h2m-2 12h2m-2 3h2m-2 3h2m-2 2h2m-2 6h2m-2 0h2m-2 5h2m-2 4h2m-2 0h2m-2 4h2m-2 7h2m-2 7h2m-1-92h2m-2 1h2m-2 1h2m-2 1h2m-2 16h2m-2 7h2m-2 8h2m-2 1h2m-2 14h2m-2 0h2m-2 1h2m-2 4h2m-2 7h2m-2 1h2m-2 6h2m-2 8h2m-2 4h2m-2 1h2m-2 1h2m-2 5h2m-2 5h2m-1-89h2m-2 0h2m-2 6h2m-2 13h2m-2 4h2m-2 0h2m-2 6h2m-2 7h2m-2 1h2m-2 18h2m-2 17h2m-2 0h2m-2 1h2m-2 1h2m-2 0h2m-2 2h2m-2 1h2m-2 10h2m-1-85h2m-2 6h2m-2 6h2m-2 1h2m-2 2h2m-2 0h2m-2 13h2m-2 7h2m-2 0h2m-2 2h2m-2 15h2m-2 0h2m-2 1h2m-2 7h2m-2 6h2m-2 8h2m-2 6h2m-1-71h2m-2 3h2m-2 13h2m-2 10h2m-2 5h2m-2 8h2m-2 6h2m-2 1h2m-2 4h2m-2 2h2m-2 2h2m-2 2h2m-2 0h2m-2 1h2m-2 0h2m-2 0h2m-2 6h2m-1-76h2m-2 3h2m-2 14h2m-2 1h2m-2 5h2m-2 0h2m-2 8h2m-2 3h2m-2 0h2m-2 8h2m-2 1h2m-2 1h2m-2 0h2m-2 2h2m-2 3h2m-2 10h2m-2 5h2m-2 3h2m-2 3h2m-2 6h2m-2 8h2m-2 3h2m-2 1h2m-1-79h2m-2 9h2m-2 0h2m-2 13h2m-2 2h2m-2 9h2m-2 7h2m-2 6h2m-2 2h2m-2 5h2m-2 7h2m-2 4h2m-2 1h2m-2 0h2m-2 1h2m-2 12h2m-1-99h2m-2 5h2m-2 26h2m-2 2h2m-2 4h2m-2 9h2m-2 2h2m-2 11h2m-2 3h2m-2 7h2m-2 1h2m-2 1h2m-2 6h2m-2 9h2m-2 8h2m-2 2h2m-2 8h2m-1-101h2m-2 1h2m-2 4h2m-2 18h2m-2 3h2m-2 5h2m-2 19h2m-2 1h2m-2 2h2m-2 6h2m-2 0h2m-2 5h2m-2 1h2m-2 0h2m-2 2h2m-2 2h2m-2 2h2m-2 0h2m-2 1h2m-2 0h2m-2 4h2m-2 3h2m-2 14h2m-2 4h2m-2 3h2m-2 1h2m-2 5h2m-2 1h2m-1-94h2m-2 7h2m-2 14h2m-2 0h2m-2 10h2m-2 1h2m-2 5h2m-2 2h2m-2 2h2m-2 1h2m-2 4h2m-2 5h2m-2 4h2m-2 5h2m-2 2h2m-2 1h2m-2 0h2m-2 1h2m-2 2h2m-2 21h2m-1-92h2m-2 5h2m-2 3h2m-2 4h2m-2 25h2m-2 1h2m-2 5h2m-2 0h2m-2 14h2m-2 0h2m-2 2h2m-2 8h2m-2 3h2m-2 0h2m-2 7h2m-2 1h2m-2 9h2m-1-82h2m-2 6h2m-2 6h2m-2 5h2m-2 2h2m-2 19h2m-2 4h2m-2 4h2m-2 1h2m-2 2h2m-2 16h2m-2 1h2m-2 1h2m-2 15h2m-2 6h2m-1-85h2m-2 5h2m-2 11h2m-2 0h2m-2 10h2m-2 2h2m-2 2h2m-2 2h2m-2 0h2m-2 8h2m-2 7h2m-2 6h2m-2 6h2m-2 0h2m-2 4h2m-2 1h2m-2 1h2m-2 2h2m-2 1h2m-2 3h2m-1-79h2m-2 0h2m-2 2h2m-2 5h2m-2 0h2m-2 7h2m-2 1h2m-2 6h2m-2 2h2m-2 10h2m-2 4h2m-2 0h2m-2 4h2m-2 5h2m-2 3h2m-2 6h2m-2 12h2m-2 0h2m-2 4h2m-2 17h2m-2 3h2m-2 5h2m-2 2h2m-2 2h2m-1-100h2m-2 1h2m-2 2h2m-2 2h2m-2 14h2m-2 8h2m-2 7h2m-2 14h2m-2 7h2m-2 3h2m-2 5h2m-2 12h2m-2 3h2m-2 9h2m-2 0h2m-2 8h2m-2 1h2m-1-94h2m-2 2h2m-2 0h2m-2 2h2m-2 4h2m-2 3h2m-2 2h2m-2 2h2m-2 4h2m-2 7h2m-2 26h2m-2 4h2m-2 3h2m-2 1h2m-2 2h2m-2 0h2m-2 9h2m-2 2h2m-2 8h2m-2 1h2m-2 1h2m-2 2h2m-2 6h2m-2 2h2m-2 7h2m-2 15h2m-1-116h2m-2 0h2m-2 4h2m-2 1h2m-2 0h2m-2 9h2m-2 14h2m-2 6h2m-2 3h2m-2 5h2m-2 2h2m-2 5h2m-2 11h2m-2 8h2m-2 5h2m-2 12h2m-2 5h2m-2 13h2m-2 1h2m-2 11h2m-1-111h2m-2 11h2m-2 1h2m-2 9h2m-2 4h2m-2 1h2m-2 4h2m-2 6h2m-2 6h2m-2 2h2m-2 2h2m-2 0h2m-2 1h2m-2 8h2m-2 2h2m-2 2h2m-2 1h2m-2 15h2m-2 1h2m-2 3h2m-2 5h2m-1-75h2m-2 25h2m-2 4h2m-2 4h2m-2 6h2m-2 0h2m-2 1h2m-2 0h2m-2 6h2m-2 9h2m-2 8h2m-2 9h2m-2 3h2m-2 0h2m-2 3h2m-2 1h2m-1-88h2m-2 4h2m-2 4h2m-2 4h2m-2 0h2m-2 2h2m-2 27h2m-2 2h2m-2 5h2m-2 5h2m-2 19h2m-2 1h2m-2 4h2m-2 4h2m-1-82h2m-2 10h2m-2 2h2m-2 13h2m-2 5h2m-2 2h2m-2 3h2m-2 1h2m-2 1h2m-2 1h2m-2 2h2m-2 7h2m-2 1h2m-2 1h2m-2 11h2m-2 3h2m-2 4h2m-2 5h2m-2 2h2m-2 4h2m-2 3h2m-2 1h2m-1-99h2m-2 17h2m-2 4h2m-2 11h2m-2 8h2m-2 0h2m-2 1h2m-2 3h2m-2 2h2m-2 10h2m-2 3h2m-2 4h2m-2 3h2m-2 0h2m-2 4h2m-2 4h2m-2 10h2m-2 2h2m-2 13h2m-1-91h2m-2 13h2m-2 2h2m-2 6h2m-2 5h2m-2 4h2m-2 5h2m-2 2h2m-2 10h2m-2 1h2m-2 7h2m-2 7h2m-2 16h2m-2 1h2m-2 5h2m-2 1h2m-2 0h2m-2 5h2m-1-74h2m-2 4h2m-2 0h2m-2 11h2m-2 0h2m-2 1h2m-2 4h2m-2 1h2m-2 0h2m-2 0h2m-2 1h2m-2 1h2m-2 12h2m-2 0h2m-2 1h2m-2 5h2m-2 4h2m-2 3h2m-2 5h2m-2 4h2m-2 3h2m-2 0h2m-2 3h2m-2 5h2m-2 1h2m-2 4h2m-2 1h2m-2 6h2m-2 16h2m-2 15h2m-1-118h2m-2 6h2m-2 1h2m-2 1h2m-2 2h2m-2 4h2m-2 1h2m-2 2h2m-2 2h2m-2 2h2m-2 1h2m-2 9h2m-2 4h2m-2 2h2m-2 3h2m-2 18h2m-2 1h2m-2 30h2m-2 1h2m-2 2h2m-2 10h2m-1-100h2m-2 11h2m-2 4h2m-2 1h2m-2 5h2m-2 0h2m-2 1h2m-2 2h2m-2 1h2m-2 10h2m-2 8h2m-2 10h2m-2 4h2m-2 2h2m-2 2h2m-2 1h2m-2 5h2m-2 3h2m-2 1h2m-2 1h2m-2 4h2m-2 1h2m-2 1h2m-1-82h2m-2 4h2m-2 1h2m-2 4h2m-2 9h2m-2 1h2m-2 13h2m-2 5h2m-2 1h2m-2 17h2m-2 4h2m-2 2h2m-2 3h2m-2 1h2m-2 5h2m-2 11h2m-1-77h2m-2 1h2m-2 4h2m-2 4h2m-2 1h2m-2 8h2m-2 4h2m-2 2h2m-2 2h2m-2 0h2m-2 7h2m-2 1h2m-2 0h2m-2 12h2m-2 9h2m-2 3h2m-2 2h2m-2 16h2m-1-74h2m-2 2h2m-2 8h2m-2 1h2m-2 10h2m-2 16h2m-2 6h2m-2 6h2m-2 12h2m-2 1h2m-2 3h2m-2 1h2m-2 6h2m-2 2h2m-2 4h2m-2 1h2m-1-85h2m-2 6h2m-2 1h2m-2 0h2m-2 1h2m-2 0h2m-2 6h2m-2 7h2m-2 10h2m-2 8h2m-2 7h2m-2 3h2m-2 5h2m-2 5h2m-2 5h2m-2 10h2m-1-69h2m-2 0h2m-2 3h2m-2 5h2m-2 16h2m-2 2h2m-2 4h2m-2 4h2m-2 0h2m-2 7h2m-2 4h2m-2 4h2m-2 10h2m-2 9h2m-2 4h2m-2 1h2m-2 2h2m-1-83h2m-2 4h2m-2 3h2m-2 5h2m-2 1h2m-2 1h2m-2 5h2m-2 1h2m-2 8h2m-2 5h2m-2 10h2m-2 17h2m-2 2h2m-2 2h2m-2 4h2m-2 3h2m-2 5h2m-2 0h2m-2 13h2m-2 0h2m-2 2h2m-1-94h2m-2 15h2m-2 5h2m-2 1h2m-2 1h2m-2 1h2m-2 1h2m-2 1h2m-2 14h2m-2 5h2m-2 4h2m-2 0h2m-2 5h2m-2 8h2m-2 3h2m-2 11h2m-2 6h2m-2 11h2m-2 2h2m-2 1h2m-2 2h2m-2 2h2m-2 1h2m-1-89h2m-2 7h2m-2 2h2m-2 0h2m-2 8h2m-2 0h2m-2 2h2m-2 8h2m-2 3h2m-2 1h2m-2 1h2m-2 1h2m-2 0h2m-2 5h2m-2 1h2m-2 21h2m-2 1h2m-2 3h2m-2 20h2m-2 4h2m-2 0h2m-1-92h2m-2 3h2m-2 4h2m-2 19h2m-2 6h2m-2 1h2m-2 7h2m-2 1h2m-2 1h2m-2 5h2m-2 4h2m-2 5h2m-2 2h2m-2 9h2m-2 3h2m-2 1h2m-2 8h2m-2 3h2m-2 0h2m-2 8h2m-2 3h2m-1-88h2m-2 1h2m-2 3h2m-2 0h2m-2 3h2m-2 1h2m-2 3h2m-2 13h2m-2 6h2m-2 14h2m-2 6h2m-2 7h2m-2 2h2m-2 1h2m-2 3h2m-2 10h2m-1-81h2m-2 0h2m-2 3h2m-2 1h2m-2 10h2m-2 2h2m-2 0h2m-2 4h2m-2 12h2m-2 1h2m-2 11h2m-2 0h2m-2 1h2m-2 1h2m-2 2h2m-2 14h2m-2 3h2m-2 18h2m-1-77h2m-2 4h2m-2 6h2m-2 4h2m-2 2h2m-2 0h2m-2 13h2m-2 8h2m-2 6h2m-2 1h2m-2 4h2m-2 13h2m-2 0h2m-2 1h2m-2 1h2m-2 5h2m-2 14h2m-2 0h2m-2 1h2m-2 2h2m-2 2h2m-2 4h2m-2 2h2m-1-94h2m-2 10h2m-2 2h2m-2 3h2m-2 1h2m-2 4h2m-2 8h2m-2 3h2m-2 11h2m-2 6h2m-2 9h2m-2 7h2m-2 0h2m-2 9h2m-2 12h2m-2 2h2m-1-99h2m-2 6h2m-2 6h2m-2 1h2m-2 17h2m-2 0h2m-2 9h2m-2 1h2m-2 8h2m-2 1h2m-2 4h2m-2 5h2m-2 1h2m-2 6h2m-2 12h2m-2 2h2m-2 0h2m-2 3h2m-2 5h2m-2 8h2m-2 5h2m-2 9h2m-1-98h2m-2 7h2m-2 3h2m-2 13h2m-2 2h2m-2 2h2m-2 14h2m-2 5h2m-2 0h2m-2 8h2m-2 3h2m-2 3h2m-2 3h2m-2 2h2m-2 9h2m-2 8h2m-2 0h2m-2 1h2m-2 1h2m-1-89h2m-2 2h2m-2 6h2m-2 21h2m-2 1h2m-2 4h2m-2 2h2m-2 0h2m-2 1h2m-2 7h2m-2 1h2m-2 14h2m-2 4h2m-2 12h2m-2 5h2m-2 6h2m-2 5h2m-2 11h2m-1-107h2m-2 0h2m-2 2h2m-2 12h2m-2 2h2m-2 12h2m-2 6h2m-2 5h2m-2 2h2m-2 2h2m-2 2h2m-2 1h2m-2 5h2m-2 0h2m-2 1h2m-2 5h2m-2 0h2m-2 7h2m-2 2h2m-2 3h2m-2 1h2m-2 4h2m-2 1h2m-2 2h2m-2 1h2m-2 2h2m-2 3h2m-2 5h2m-2 18h2m-1-93h2m-2 10h2m-2 7h2m-2 5h2m-2 1h2m-2 26h2m-2 4h2m-2 0h2m-2 3h2m-2 2h2m-2 4h2m-2 6h2m-2 3h2m-2 2h2m-2 4h2m-2 3h2m-1-75h2m-2 0h2m-2 4h2m-2 1h2m-2 6h2m-2 1h2m-2 4h2m-2 3h2m-2 0h2m-2 11h2m-2 1h2m-2 4h2m-2 11h2m-2 5h2m-2 8h2m-2 3h2m-2 0h2m-2 6h2m-2 5h2m-2 3h2m-1-81h2m-2 9h2m-2 11h2m-2 7h2m-2 7h2m-2 1h2m-2 5h2m-2 13h2m-2 4h2m-2 3h2m-2 2h2m-2 1h2m-2 9h2m-2 2h2m-2 5h2m-2 1h2m-1-81h2m-2 3h2m-2 2h2m-2 0h2m-2 3h2m-2 4h2m-2 0h2m-2 6h2m-2 5h2m-2 3h2m-2 6h2m-2 8h2m-2 24h2m-2 2h2m-2 1h2m-2 5h2m-2 2h2m-2 4h2m-2 2h2m-1-83h2m-2 8h2m-2 3h2m-2 17h2m-2 7h2m-2 2h2m-2 8h2m-2 21h2m-2 3h2m-2 9h2m-2 0h2m-2 4h2m-2 2h2m-2 7h2m-2 3h2m-2 3h2m-1-98h2m-2 5h2m-2 7h2m-2 0h2m-2 4h2m-2 1h2m-2 21h2m-2 1h2m-2 1h2m-2 5h2m-2 5h2m-2 16h2m-2 2h2m-2 6h2m-2 0h2m-2 1h2m-2 1h2m-2 3h2m-2 0h2m-2 2h2m-2 2h2m-2 10h2m-2 2h2m-2 1h2m-2 8h2m-2 3h2m-1-119h2m-2 14h2m-2 1h2m-2 5h2m-2 7h2m-2 8h2m-2 4h2m-2 0h2m-2 2h2m-2 2h2m-2 3h2m-2 14h2m-2 6h2m-2 11h2m-2 1h2m-2 1h2m-2 2h2m-2 14h2m-2 10h2m-1-90h2m-2 4h2m-2 3h2m-2 1h2m-2 3h2m-2 0h2m-2 13h2m-2 1h2m-2 10h2m-2 7h2m-2 6h2m-2 2h2m-2 6h2m-2 6h2m-2 12h2m-2 2h2m-2 4h2m-2 0h2m-2 10h2m-2 4h2m-2 0h2m-2 2h2m-1-96h2m-2 7h2m-2 2h2m-2 9h2m-2 10h2m-2 1h2m-2 1h2m-2 7h2m-2 1h2m-2 6h2m-2 1h2m-2 2h2m-2 3h2m-2 6h2m-2 6h2m-2 6h2m-2 3h2m-2 9h2m-2 12h2m-1-84h2m-2 10h2m-2 1h2m-2 5h2m-2 7h2m-2 0h2m-2 0h2m-2 3h2m-2 6h2m-2 2h2m-2 3h2m-2 8h2m-2 1h2m-2 1h2m-2 3h2m-2 2h2m-2 1h2m-2 1h2m-2 3h2m-2 7h2m-2 3h2m-2 7h2m-1-71h2m-2 3h2m-2 5h2m-2 1h2m-2 4h2m-2 9h2m-2 1h2m-2 0h2m-2 13h2m-2 3h2m-2 7h2m-2 9h2m-2 1h2m-1-67h2m-2 1h2m-2 0h2m-2 1h2m-2 0h2m-2 2h2m-2 2h2m-2 10h2m-2 1h2m-2 0h2m-2 0h2m-2 9h2m-2 1h2m-2 7h2m-2 7h2m-2 10h2m-2 4h2m-2 4h2m-2 1h2m-2 6h2m-2 14h2m-1-82h2m-2 4h2m-2 1h2m-2 4h2m-2 3h2m-2 4h2m-2 9h2m-2 12h2m-2 3h2m-2 11h2m-2 2h2m-2 3h2m-2 2h2m-2 3h2m-2 5h2m-2 15h2m-2 14h2m-1-96h2m-2 4h2m-2 4h2m-2 7h2m-2 1h2m-2 2h2m-2 13h2m-2 4h2m-2 2h2m-2 3h2m-2 2h2m-2 5h2m-2 11h2m-2 4h2m-2 2h2m-2 6h2m-2 3h2m-2 3h2m-2 2h2m-2 8h2m-2 2h2m-2 1h2m-1-96h2m-2 3h2m-2 15h2m-2 2h2m-2 3h2m-2 2h2m-2 3h2m-2 4h2m-2 1h2m-2 6h2m-2 2h2m-2 8h2m-2 4h2m-2 0h2m-2 7h2m-2 6h2m-2 12h2m-2 4h2m-2 3h2m-2 1h2m-2 4h2m-2 3h2m-2 0h2m-2 0h2m-2 5h2m-2 1h2m-2 0h2m-2 5h2m-2 9h2m-2 2h2m-1-119h2m-2 5h2m-2 12h2m-2 33h2m-2 14h2m-2 1h2m-2 11h2m-2 1h2m-2 1h2m-2 3h2m-2 1h2m-2 3h2m-2 3h2m-2 4h2m-2 1h2m-2 7h2m-2 2h2m-2 2h2m-2 4h2m-2 16h2m-1-113h2m-2 2h2m-2 1h2m-2 0h2m-2 5h2m-2 1h2m-2 2h2m-2 3h2m-2 1h2m-2 2h2m-2 8h2m-2 4h2m-2 30h2m-2 1h2m-2 4h2m-2 0h2m-2 1h2m-2 0h2m-2 7h2m-2 2h2m-2 0h2m-2 6h2m-2 3h2m-2 1h2m-2 3h2m-1-61h2m-2 7h2m-2 3h2m-2 11h2m-2 0h2m-2 11h2m-2 1h2m-2 1h2m-2 1h2m-2 15h2m-1-51h2m-2 22h2m-2 13h2m-2 3h2m137-45h2m-2 18h2m-2 28h2m-2 3h2m-2 4h2m-2 1h2m-2 1h2m-2 12h2m-1-83h2m-2 1h2m-2 4h2m-2 0h2m-2 1h2m-2 2h2m-2 1h2m-2 0h2m-2 2h2m-2 4h2m-2 0h2m-2 4h2m-2 1h2m-2 2h2m-2 12h2m-2 0h2m-2 9h2m-2 2h2m-2 2h2m-2 16h2m-2 9h2m-2 0h2m-2 5h2m-2 1h2m-2 4h2m-2 2h2m-2 6h2m-2 0h2m-2 1h2m-2 0h2m-2 0h2m-2 1h2m-2 4h2m-2 0h2m-1-105h2m-2 11h2m-2 2h2m-2 9h2m-2 5h2m-2 16h2m-2 2h2m-2 5h2m-2 4h2m-2 4h2m-2 8h2m-2 11h2m-2 3h2m-2 6h2m-2 5h2m-2 3h2m-2 5h2m-1-103h2m-2 3h2m-2 6h2m-2 5h2m-2 2h2m-2 8h2m-2 3h2m-2 3h2m-2 3h2m-2 4h2m-2 8h2m-2 1h2m-2 3h2m-2 11h2m-2 8h2m-2 4h2m-2 3h2m-2 7h2m-2 3h2m-2 3h2m-2 13h2m-2 2h2m-2 2h2m-2 1h2m-2 1h2m-2 2h2m-2 2h2m-1-109h2m-2 4h2m-2 8h2m-2 5h2m-2 1h2m-2 2h2m-2 3h2m-2 4h2m-2 2h2m-2 0h2m-2 1h2m-2 0h2m-2 8h2m-2 0h2m-2 1h2m-2 5h2m-2 1h2m-2 11h2m-2 0h2m-2 6h2m-2 1h2m-2 6h2m-2 3h2m-2 3h2m-2 1h2m-2 0h2m-2 1h2m-2 2h2m-2 5h2m-2 10h2m-2 10h2m-1-105h2m-2 7h2m-2 2h2m-2 0h2m-2 3h2m-2 1h2m-2 3h2m-2 3h2m-2 0h2m-2 2h2m-2 4h2m-2 3h2m-2 2h2m-2 2h2m-2 3h2m-2 11h2m-2 5h2m-2 7h2m-2 7h2m-2 12h2m-2 3h2m-2 7h2m-2 3h2m-2 1h2m-2 4h2m-2 0h2m-2 3h2m-2 0h2m-2 10h2m-2 6h2m-1-110h2m-2 7h2m-2 7h2m-2 6h2m-2 2h2m-2 9h2m-2 1h2m-2 8h2m-2 5h2m-2 9h2m-2 1h2m-2 3h2m-2 6h2m-2 2h2m-2 3h2m-2 6h2m-2 5h2m-2 3h2m-2 1h2m-2 0h2m-2 10h2m-2 1h2m-2 4h2m-2 1h2m-2 1h2m-2 4h2m-2 0h2m-2 1h2m-1-97h2m-2 3h2m-2 4h2m-2 0h2m-2 4h2m-2 5h2m-2 3h2m-2 3h2m-2 8h2m-2 3h2m-2 2h2m-2 4h2m-2 15h2m-2 0h2m-2 3h2m-2 9h2m-2 9h2m-2 1h2m-2 2h2m-2 3h2m-2 2h2m-2 0h2m-2 1h2m-2 0h2m-2 9h2m-1-92h2m-2 3h2m-2 2h2m-2 6h2m-2 0h2m-2 5h2m-2 4h2m-2 10h2m-2 1h2m-2 11h2m-2 1h2m-2 2h2m-2 18h2m-2 1h2m-2 3h2m-2 6h2m-2 6h2m-2 4h2m-2 2h2m-2 0h2m-2 2h2m-2 4h2m-2 4h2m-1-89h2m-2 4h2m-2 3h2m-2 1h2m-2 1h2m-2 1h2m-2 5h2m-2 2h2m-2 15h2m-2 5h2m-2 3h2m-2 8h2m-2 0h2m-2 11h2m-2 1h2m-2 2h2m-2 0h2m-2 5h2m-2 0h2m-2 1h2m-2 3h2m-2 4h2m-2 2h2m-2 1h2m-2 2h2m-2 3h2m-2 4h2m-1-83h2m-2 4h2m-2 3h2m-2 11h2m-2 1h2m-2 2h2m-2 0h2m-2 4h2m-2 1h2m-2 6h2m-2 2h2m-2 9h2m-2 5h2m-2 3h2m-2 4h2m-2 3h2m-2 1h2m-2 8h2m-2 4h2m-2 1h2m-2 2h2m-2 16h2m-1-102h2m-2 3h2m-2 3h2m-2 7h2m-2 0h2m-2 2h2m-2 0h2m-2 2h2m-2 7h2m-2 6h2m-2 2h2m-2 1h2m-2 3h2m-2 6h2m-2 0h2m-2 0h2m-2 1h2m-2 1h2m-2 5h2m-2 3h2m-2 2h2m-2 12h2m-2 6h2m-2 6h2m-2 1h2m-2 6h2m-2 11h2m-2 6h2m-2 29h2m-2 17h2m-1-150h2m-2 5h2m-2 4h2m-2 3h2m-2 4h2m-2 18h2m-2 2h2m-2 1h2m-2 3h2m-2 8h2m-2 5h2m-2 1h2m-2 3h2m-2 1h2m-2 3h2m-2 2h2m-2 6h2m-2 1h2m-2 1h2m-2 2h2m-2 3h2m-2 1h2m-2 0h2m-2 0h2m-2 0h2m-2 2h2m-2 15h2m-2 1h2m-2 2h2m-1-113h2m-2 16h2m-2 1h2m-2 2h2m-2 0h2m-2 1h2m-2 8h2m-2 8h2m-2 7h2m-2 4h2m-2 0h2m-2 10h2m-2 12h2m-2 4h2m-2 2h2m-2 14h2m-2 11h2m-2 1h2m-2 9h2m-2 6h2m-2 8h2m-2 1h2m-1-127h2m-2 14h2m-2 2h2m-2 1h2m-2 4h2m-2 3h2m-2 3h2m-2 1h2m-2 3h2m-2 2h2m-2 3h2m-2 1h2m-2 3h2m-2 5h2m-2 4h2m-2 0h2m-2 1h2m-2 7h2m-2 5h2m-2 5h2m-2 1h2m-2 1h2m-2 0h2m-2 2h2m-2 3h2m-2 4h2m-2 10h2m-2 2h2m-2 6h2m-2 6h2m-2 7h2m-2 2h2m-2 0h2m-2 3h2m-2 3h2m-2 0h2m-2 1h2m-2 4h2m-2 7h2m-1-118h2m-2 4h2m-2 12h2m-2 15h2m-2 3h2m-2 6h2m-2 2h2m-2 15h2m-2 3h2m-2 6h2m-2 3h2m-2 4h2m-2 2h2m-2 8h2m-2 0h2m-2 4h2m-2 9h2m-2 6h2m-2 0h2m-2 2h2m-2 1h2m-2 1h2m-2 2h2m-2 0h2m-2 24h2m-1-126h2m-2 2h2m-2 2h2m-2 1h2m-2 2h2m-2 4h2m-2 2h2m-2 3h2m-2 6h2m-2 1h2m-2 6h2m-2 3h2m-2 2h2m-2 5h2m-2 4h2m-2 9h2m-2 1h2m-2 2h2m-2 2h2m-2 2h2m-2 6h2m-2 5h2m-2 3h2m-2 11h2m-2 2h2m-2 1h2m-2 6h2m-2 6h2m-2 3h2m-2 1h2m-2 2h2m-1-102h2m-2 0h2m-2 3h2m-2 0h2m-2 6h2m-2 0h2m-2 1h2m-2 2h2m-2 7h2m-2 1h2m-2 6h2m-2 12h2m-2 0h2m-2 5h2m-2 2h2m-2 2h2m-2 1h2m-2 2h2m-2 1h2m-2 12h2m-2 4h2m-2 1h2m-2 8h2m-2 3h2m-2 1h2m-2 1h2m-2 5h2m-2 12h2m-2 66h2m-1-171h2m-2 14h2m-2 3h2m-2 1h2m-2 6h2m-2 0h2m-2 1h2m-2 1h2m-2 6h2m-2 2h2m-2 1h2m-2 2h2m-2 2h2m-2 7h2m-2 8h2m-2 1h2m-2 4h2m-2 16h2m-2 3h2m-2 17h2m-2 56h2m-1-131h2m-2 1h2m-2 0h2m-2 2h2m-2 2h2m-2 5h2m-2 3h2m-2 7h2m-2 6h2m-2 1h2m-2 1h2m-2 4h2m-2 1h2m-2 2h2m-2 21h2m-2 8h2m-2 1h2m-2 4h2m-2 1h2m-2 0h2m-2 6h2m-2 3h2m-2 1h2m-2 1h2m-2 3h2m-1-98h2m-2 3h2m-2 3h2m-2 3h2m-2 1h2m-2 8h2m-2 5h2m-2 1h2m-2 1h2m-2 4h2m-2 1h2m-2 1h2m-2 0h2m-2 1h2m-2 2h2m-2 3h2m-2 2h2m-2 3h2m-2 22h2m-2 4h2m-2 1h2m-2 3h2m-2 1h2m-2 3h2m-2 1h2m-2 2h2m-2 3h2m-2 1h2m-2 6h2m-2 3h2m-1-114h2m-2 3h2m-2 21h2m-2 2h2m-2 1h2m-2 1h2m-2 5h2m-2 3h2m-2 4h2m-2 2h2m-2 6h2m-2 0h2m-2 4h2m-2 0h2m-2 4h2m-2 1h2m-2 10h2m-2 4h2m-2 0h2m-2 1h2m-2 2h2m-2 1h2m-2 6h2m-2 4h2m-2 0h2m-2 1h2m-2 0h2m-2 5h2m-2 5h2m-2 5h2m-2 4h2m-2 2h2m-2 2h2m-2 11h2m-2 5h2m-2 6h2m-1-128h2m-2 17h2m-2 9h2m-2 7h2m-2 4h2m-2 5h2m-2 0h2m-2 12h2m-2 1h2m-2 6h2m-2 19h2m-2 1h2m-2 0h2m-2 4h2m-2 0h2m-2 11h2m-2 9h2m-2 44h2m-1-126h2m-2 2h2m-2 2h2m-2 4h2m-2 6h2m-2 13h2m-2 2h2m-2 0h2m-2 2h2m-2 7h2m-2 5h2m-2 2h2m-2 2h2m-2 3h2m-2 3h2m-2 6h2m-2 3h2m-2 3h2m-2 1h2m-2 5h2m-2 4h2m-2 7h2m-2 2h2m-2 2h2m-2 4h2m-2 6h2m-2 4h2m-1-110h2m-2 0h2m-2 20h2m-2 2h2m-2 3h2m-2 2h2m-2 1h2m-2 0h2m-2 1h2m-2 1h2m-2 2h2m-2 3h2m-2 2h2m-2 1h2m-2 0h2m-2 10h2m-2 0h2m-2 2h2m-2 3h2m-2 2h2m-2 0h2m-2 7h2m-2 6h2m-2 4h2m-2 3h2m-2 6h2m-2 6h2m-2 0h2m-2 3h2m-2 4h2m-2 6h2m-2 4h2m-2 0h2m-2 2h2m-2 2h2m-2 11h2m-1-112h2m-2 6h2m-2 8h2m-2 0h2m-2 8h2m-2 5h2m-2 12h2m-2 2h2m-2 1h2m-2 2h2m-2 1h2m-2 1h2m-2 6h2m-2 1h2m-2 1h2m-2 1h2m-2 10h2m-2 3h2m-2 14h2m-2 6h2m-2 7h2m-1-93h2m-2 1h2m-2 0h2m-2 3h2m-2 2h2m-2 13h2m-2 3h2m-2 3h2m-2 2h2m-2 5h2m-2 2h2m-2 1h2m-2 0h2m-2 1h2m-2 0h2m-2 8h2m-2 6h2m-2 0h2m-2 7h2m-2 1h2m-2 6h2m-2 5h2m-2 1h2m-2 10h2m-2 21h2m-2 29h2m-1-132h2m-2 1h2m-2 4h2m-2 4h2m-2 4h2m-2 0h2m-2 5h2m-2 4h2m-2 10h2m-2 1h2m-2 3h2m-2 3h2m-2 1h2m-2 1h2m-2 4h2m-2 0h2m-2 4h2m-2 6h2m-2 0h2m-2 9h2m-2 2h2m-2 3h2m-2 7h2m-2 12h2m-2 2h2m-2 2h2m-2 1h2m-2 1h2m-2 0h2m-2 5h2m-1-101h2m-2 3h2m-2 2h2m-2 1h2m-2 4h2m-2 3h2m-2 1h2m-2 8h2m-2 2h2m-2 6h2m-2 3h2m-2 2h2m-2 3h2m-2 4h2m-2 1h2m-2 5h2m-2 5h2m-2 5h2m-2 2h2m-2 3h2m-2 4h2m-2 2h2m-2 3h2m-2 27h2m-2 1h2m-2 5h2m-2 47h2m-1-151h2m-2 11h2m-2 1h2m-2 7h2m-2 0h2m-2 1h2m-2 5h2m-2 12h2m-2 1h2m-2 1h2m-2 5h2m-2 3h2m-2 4h2m-2 5h2m-2 2h2m-2 3h2m-2 21h2m-2 4h2m-2 1h2m-2 3h2m-2 1h2m-2 4h2m-2 14h2m-2 3h2m-2 0h2m-2 1h2m-2 4h2m-2 46h2m-1-185h2m-2 1h2m-2 11h2m-2 3h2m-2 2h2m-2 3h2m-2 9h2m-2 11h2m-2 4h2m-2 1h2m-2 1h2m-2 2h2m-2 10h2m-2 0h2m-2 1h2m-2 0h2m-2 9h2m-2 1h2m-2 5h2m-2 2h2m-2 4h2m-2 11h2m-2 2h2m-2 3h2m-2 2h2m-2 1h2m-2 12h2m-2 6h2m-2 0h2m-2 4h2m-2 2h2m-2 15h2m-2 24h2m-1-155h2m-2 1h2m-2 14h2m-2 0h2m-2 5h2m-2 7h2m-2 1h2m-2 9h2m-2 2h2m-2 1h2m-2 5h2m-2 4h2m-2 9h2m-2 0h2m-2 5h2m-2 1h2m-2 0h2m-2 1h2m-2 9h2m-2 2h2m-2 2h2m-2 6h2m-2 3h2m-2 6h2m-2 7h2m-2 9h2m-2 8h2m-2 2h2m-2 0h2m-1-108h2m-2 3h2m-2 3h2m-2 2h2m-2 8h2m-2 15h2m-2 2h2m-2 0h2m-2 4h2m-2 0h2m-2 1h2m-2 2h2m-2 10h2m-2 6h2m-2 2h2m-2 2h2m-2 1h2m-2 1h2m-2 0h2m-2 7h2m-2 0h2m-2 3h2m-2 13h2m-2 15h2m-2 7h2m-2 1h2m-2 31h2m-1-133h2m-2 5h2m-2 2h2m-2 2h2m-2 15h2m-2 1h2m-2 0h2m-2 2h2m-2 1h2m-2 8h2m-2 7h2m-2 1h2m-2 24h2m-2 4h2m-2 0h2m-2 8h2m-2 0h2m-2 7h2m-2 8h2m-1-91h2m-2 2h2m-2 0h2m-2 5h2m-2 9h2m-2 1h2m-2 0h2m-2 3h2m-2 4h2m-2 1h2m-2 4h2m-2 4h2m-2 2h2m-2 4h2m-2 0h2m-2 1h2m-2 2h2m-2 2h2m-2 3h2m-2 8h2m-2 1h2m-2 0h2m-2 4h2m-2 1h2m-2 4h2m-2 4h2m-2 5h2m-2 1h2m-2 2h2m-2 1h2m-2 2h2m-2 1h2m-2 1h2m-2 1h2m-2 8h2m-1-95h2m-2 4h2m-2 5h2m-2 6h2m-2 7h2m-2 4h2m-2 2h2m-2 4h2m-2 2h2m-2 5h2m-2 3h2m-2 1h2m-2 8h2m-2 1h2m-2 2h2m-2 1h2m-2 0h2m-2 11h2m-2 3h2m-2 2h2m-2 19h2m-2 3h2m-2 1h2m-2 1h2m-2 8h2m-1-98h2m-2 5h2m-2 4h2m-2 3h2m-2 0h2m-2 3h2m-2 1h2m-2 0h2m-2 1h2m-2 0h2m-2 2h2m-2 3h2m-2 1h2m-2 5h2m-2 10h2m-2 10h2m-2 0h2m-2 1h2m-2 1h2m-2 20h2m-2 1h2m-2 0h2m-2 3h2m-2 2h2m-2 3h2m-2 5h2m-2 5h2m-2 0h2m-2 11h2m-2 1h2m-1-128h2m-2 13h2m-2 7h2m-2 6h2m-2 1h2m-2 0h2m-2 1h2m-2 1h2m-2 4h2m-2 1h2m-2 8h2m-2 2h2m-2 7h2m-2 10h2m-2 8h2m-2 3h2m-2 5h2m-2 8h2m-2 8h2m-2 1h2m-2 1h2m-2 4h2m-2 1h2m-2 2h2m-2 5h2m-2 19h2m-2 3h2m-1-124h2m-2 7h2m-2 9h2m-2 0h2m-2 0h2m-2 2h2m-2 6h2m-2 1h2m-2 4h2m-2 2h2m-2 0h2m-2 2h2m-2 1h2m-2 7h2m-2 0h2m-2 0h2m-2 1h2m-2 16h2m-2 3h2m-2 1h2m-2 9h2m-2 2h2m-2 2h2m-2 1h2m-2 8h2m-2 4h2m-2 5h2m-2 0h2m-2 12h2m-2 5h2m-2 3h2m-2 0h2m-2 6h2m-2 6h2m-2 10h2m-1-123h2m-2 0h2m-2 15h2m-2 10h2m-2 2h2m-2 7h2m-2 4h2m-2 1h2m-2 3h2m-2 0h2m-2 0h2m-2 10h2m-2 5h2m-2 4h2m-2 8h2m-2 1h2m-2 1h2m-2 5h2m-2 4h2m-2 4h2m-2 3h2m-2 10h2m-2 0h2m-2 4h2m-2 1h2m-1-114h2m-2 5h2m-2 8h2m-2 1h2m-2 6h2m-2 4h2m-2 1h2m-2 16h2m-2 14h2m-2 2h2m-2 3h2m-2 2h2m-2 2h2m-2 0h2m-2 10h2m-2 6h2m-2 6h2m-2 0h2m-2 2h2m-2 11h2m-2 3h2m-2 4h2m-2 1h2m-2 2h2m-2 5h2m-2 3h2m-1-96h2m-2 2h2m-2 1h2m-2 3h2m-2 1h2m-2 2h2m-2 1h2m-2 6h2m-2 2h2m-2 3h2m-2 0h2m-2 2h2m-2 1h2m-2 1h2m-2 0h2m-2 7h2m-2 1h2m-2 6h2m-2 6h2m-2 3h2m-2 8h2m-2 5h2m-2 2h2m-2 1h2m-2 0h2m-2 5h2m-2 5h2m-2 2h2m-2 6h2m-2 1h2m-2 3h2m-1-94h2m-2 24h2m-2 2h2m-2 5h2m-2 0h2m-2 0h2m-2 4h2m-2 7h2m-2 1h2m-2 4h2m-2 6h2m-2 1h2m-2 5h2m-2 19h2m-2 2h2m-2 0h2m-2 1h2m-2 1h2m-2 1h2m-2 3h2m-2 4h2m-2 4h2m-2 20h2m-1-114h2m-2 6h2m-2 2h2m-2 4h2m-2 0h2m-2 2h2m-2 2h2m-2 5h2m-2 4h2m-2 7h2m-2 0h2m-2 1h2m-2 4h2m-2 12h2m-2 0h2m-2 5h2m-2 1h2m-2 8h2m-2 6h2m-2 10h2m-2 9h2m-2 0h2m-2 9h2m-1-101h2m-2 8h2m-2 0h2m-2 1h2m-2 5h2m-2 5h2m-2 0h2m-2 9h2m-2 3h2m-2 13h2m-2 1h2m-2 5h2m-2 1h2m-2 4h2m-2 0h2m-2 2h2m-2 6h2m-2 2h2m-2 0h2m-2 1h2m-2 8h2m-2 6h2m-2 3h2m-2 0h2m-2 5h2m-2 2h2m-2 0h2m-2 3h2m-2 2h2m-2 0h2m-2 1h2m-2 23h2m-1-121h2m-2 4h2m-2 9h2m-2 1h2m-2 4h2m-2 5h2m-2 15h2m-2 0h2m-2 1h2m-2 10h2m-2 3h2m-2 0h2m-2 2h2m-2 1h2m-2 8h2m-2 1h2m-2 7h2m-2 5h2m-2 2h2m-2 2h2m-2 1h2m-2 2h2m-2 9h2m-2 0h2m-2 18h2m-1-104h2m-2 6h2m-2 0h2m-2 7h2m-2 3h2m-2 8h2m-2 2h2m-2 0h2m-2 1h2m-2 8h2m-2 1h2m-2 8h2m-2 4h2m-2 7h2m-2 5h2m-2 4h2m-2 2h2m-2 5h2m-2 1h2m-2 5h2m-2 12h2m-2 0h2m-2 5h2m-2 1h2m-2 0h2m-2 5h2m-2 2h2m-1-109h2m-2 3h2m-2 4h2m-2 2h2m-2 5h2m-2 1h2m-2 5h2m-2 6h2m-2 9h2m-2 5h2m-2 7h2m-2 2h2m-2 0h2m-2 3h2m-2 9h2m-2 1h2m-2 6h2m-2 0h2m-2 4h2m-2 6h2m-2 1h2m-2 4h2m-2 6h2m-2 6h2m-2 8h2m-2 3h2m-2 3h2m-2 1h2m-1-110h2m-2 11h2m-2 4h2m-2 1h2m-2 2h2m-2 3h2m-2 1h2m-2 10h2m-2 3h2m-2 7h2m-2 2h2m-2 3h2m-2 1h2m-2 9h2m-2 1h2m-2 2h2m-2 5h2m-2 5h2m-2 1h2m-2 1h2m-2 4h2m-2 10h2m-2 2h2m-2 1h2m-2 19h2m-2 2h2m-2 6h2m-1-105h2m-2 1h2m-2 6h2m-2 9h2m-2 2h2m-2 8h2m-2 3h2m-2 1h2m-2 17h2m-2 1h2m-2 11h2m-2 9h2m-2 6h2m-2 5h2m-2 2h2m-2 1h2m-1-88h2m-2 8h2m-2 1h2m-2 0h2m-2 1h2m-2 4h2m-2 6h2m-2 5h2m-2 4h2m-2 1h2m-2 1h2m-2 3h2m-2 0h2m-2 2h2m-2 2h2m-2 0h2m-2 1h2m-2 2h2m-2 3h2m-2 0h2m-2 2h2m-2 2h2m-2 0h2m-2 3h2m-2 2h2m-2 10h2m-2 2h2m-2 4h2m-2 7h2m-2 3h2m-2 5h2m-2 1h2m-2 8h2m-2 1h2m-2 4h2m-2 7h2m-1-108h2m-2 0h2m-2 1h2m-2 10h2m-2 5h2m-2 3h2m-2 1h2m-2 5h2m-2 1h2m-2 3h2m-2 4h2m-2 6h2m-2 4h2m-2 0h2m-2 1h2m-2 3h2m-2 19h2m-2 1h2m-2 4h2m-2 6h2m-2 1h2m-2 4h2m-2 1h2m-2 4h2m-2 34h2m-2 9h2m-1-131h2m-2 5h2m-2 0h2m-2 4h2m-2 2h2m-2 7h2m-2 1h2m-2 4h2m-2 2h2m-2 0h2m-2 10h2m-2 1h2m-2 1h2m-2 5h2m-2 0h2m-2 13h2m-2 2h2m-2 3h2m-2 4h2m-2 2h2m-2 2h2m-2 0h2m-2 6h2m-2 12h2m-2 1h2m-2 0h2m-2 1h2m-2 3h2m-2 55h2m-1-134h2m-2 1h2m-2 9h2m-2 2h2m-2 2h2m-2 0h2m-2 8h2m-2 7h2m-2 5h2m-2 2h2m-2 2h2m-2 4h2m-2 6h2m-2 7h2m-2 3h2m-2 5h2m-2 7h2m-2 5h2m-2 1h2m-2 1h2m-2 12h2m-2 3h2m-2 1h2m-2 1h2m-1-127h2m-2 33h2m-2 3h2m-2 2h2m-2 13h2m-2 1h2m-2 7h2m-2 1h2m-2 0h2m-2 2h2m-2 4h2m-2 8h2m-2 1h2m-2 0h2m-2 2h2m-2 5h2m-2 0h2m-2 2h2m-2 2h2m-2 2h2m-2 3h2m-2 2h2m-2 5h2m-2 1h2m-2 7h2m-2 20h2m-2 3h2m-2 0h2m-2 1h2m-2 1h2m-2 8h2m-1-137h2m-2 13h2m-2 1h2m-2 1h2m-2 1h2m-2 9h2m-2 3h2m-2 4h2m-2 2h2m-2 2h2m-2 8h2m-2 8h2m-2 2h2m-2 9h2m-2 22h2m-2 0h2m-2 2h2m-2 2h2m-2 2h2m-2 2h2m-2 11h2m-2 0h2m-2 10h2m-2 0h2m-2 3h2m-2 16h2m-2 0h2m-2 11h2m-1-131h2m-2 8h2m-2 4h2m-2 4h2m-2 6h2m-2 0h2m-2 2h2m-2 10h2m-2 1h2m-2 2h2m-2 0h2m-2 1h2m-2 0h2m-2 2h2m-2 3h2m-2 6h2m-2 3h2m-2 3h2m-2 1h2m-2 4h2m-2 5h2m-2 4h2m-2 2h2m-2 2h2m-2 3h2m-2 1h2m-2 1h2m-2 3h2m-2 8h2m-2 29h2m-2 5h2m-1-112h2m-2 3h2m-2 2h2m-2 6h2m-2 6h2m-2 0h2m-2 3h2m-2 4h2m-2 11h2m-2 12h2m-2 3h2m-2 0h2m-2 1h2m-2 2h2m-2 12h2m-2 1h2m-2 4h2m-2 0h2m-2 0h2m-2 12h2m-2 2h2m-2 3h2m-2 4h2m-2 3h2m-2 0h2m-2 1h2m-1-89h2m-2 4h2m-2 1h2m-2 2h2m-2 6h2m-2 4h2m-2 3h2m-2 9h2m-2 3h2m-2 5h2m-2 7h2m-2 5h2m-2 9h2m-2 1h2m-2 1h2m-2 1h2m-2 0h2m-2 3h2m-2 8h2m-2 10h2m-2 4h2m-2 2h2m-2 0h2m-2 1h2m-2 37h2m-1-128h2m-2 5h2m-2 1h2m-2 3h2m-2 17h2m-2 8h2m-2 1h2m-2 1h2m-2 3h2m-2 9h2m-2 1h2m-2 5h2m-2 4h2m-2 4h2m-2 5h2m-2 0h2m-2 0h2m-2 1h2m-2 1h2m-2 2h2m-2 4h2m-2 19h2m-1-100h2m-2 3h2m-2 5h2m-2 1h2m-2 3h2m-2 1h2m-2 3h2m-2 4h2m-2 0h2m-2 6h2m-2 3h2m-2 1h2m-2 2h2m-2 2h2m-2 4h2m-2 3h2m-2 8h2m-2 2h2m-2 1h2m-2 7h2m-2 1h2m-2 5h2m-2 1h2m-2 15h2m-2 1h2m-2 3h2m-2 4h2m-2 1h2m-2 1h2m-2 2h2m-2 1h2m-2 3h2m-2 2h2m-2 1h2m-1-85h2m-2 8h2m-2 0h2m-2 4h2m-2 3h2m-2 9h2m-2 0h2m-2 1h2m-2 2h2m-2 4h2m-2 4h2m-2 1h2m-2 1h2m-2 0h2m-2 1h2m-2 8h2m-2 4h2m-2 0h2m-2 9h2m-2 1h2m-2 1h2m-2 1h2m-2 2h2m-2 12h2m-2 1h2m-2 0h2m-2 7h2m-2 0h2m-2 2h2m-2 2h2m-1-99h2m-2 5h2m-2 4h2m-2 6h2m-2 3h2m-2 6h2m-2 9h2m-2 1h2m-2 6h2m-2 1h2m-2 5h2m-2 4h2m-2 1h2m-2 25h2m-2 6h2m-2 4h2m-2 9h2m-2 2h2m-2 2h2m-2 52h2m-2 15h2m-1-168h2m-2 7h2m-2 3h2m-2 1h2m-2 10h2m-2 3h2m-2 12h2m-2 4h2m-2 9h2m-2 0h2m-2 3h2m-2 4h2m-2 2h2m-2 3h2m-2 2h2m-2 2h2m-2 2h2m-2 7h2m-2 0h2m-2 3h2m-2 1h2m-2 1h2m-2 10h2m-2 0h2m-2 4h2m-2 0h2m-2 6h2m-2 0h2m-2 6h2m-2 5h2m-1-114h2m-2 3h2m-2 10h2m-2 1h2m-2 8h2m-2 1h2m-2 2h2m-2 0h2m-2 9h2m-2 2h2m-2 4h2m-2 6h2m-2 6h2m-2 5h2m-2 2h2m-2 4h2m-2 6h2m-2 2h2m-2 2h2m-2 10h2m-2 2h2m-2 4h2m-2 7h2m-2 2h2m-2 0h2m-2 2h2m-2 8h2m-2 4h2m-2 1h2m-1-109h2m-2 2h2m-2 3h2m-2 4h2m-2 0h2m-2 4h2m-2 4h2m-2 0h2m-2 5h2m-2 7h2m-2 0h2m-2 0h2m-2 7h2m-2 1h2m-2 3h2m-2 3h2m-2 7h2m-2 1h2m-2 6h2m-2 2h2m-2 1h2m-2 20h2m-2 6h2m-2 5h2m-2 7h2m-1-94h2m-2 0h2m-2 6h2m-2 4h2m-2 1h2m-2 3h2m-2 9h2m-2 1h2m-2 1h2m-2 1h2m-2 4h2m-2 3h2m-2 0h2m-2 1h2m-2 1h2m-2 7h2m-2 3h2m-2 3h2m-2 2h2m-2 0h2m-2 2h2m-2 5h2m-2 0h2m-2 0h2m-2 3h2m-2 1h2m-2 7h2m-2 6h2m-2 11h2m-2 0h2m-2 1h2m-2 5h2m-1-85h2m-2 14h2m-2 3h2m-2 8h2m-2 0h2m-2 7h2m-2 12h2m-2 2h2m-2 13h2m-2 16h2m-2 4h2m-2 1h2m-2 2h2m-2 1h2m-2 4h2m-2 3h2m-2 6h2m-1-103h2m-2 6h2m-2 8h2m-2 3h2m-2 0h2m-2 1h2m-2 1h2m-2 5h2m-2 2h2m-2 4h2m-2 2h2m-2 0h2m-2 1h2m-2 7h2m-2 5h2m-2 1h2m-2 0h2m-2 10h2m-2 4h2m-2 3h2m-2 5h2m-2 2h2m-2 2h2m-2 0h2m-2 3h2m-2 3h2m-2 1h2m-2 0h2m-2 4h2m-2 0h2m-2 9h2m-2 8h2m-2 52h2m-1-152h2m-2 4h2m-2 3h2m-2 4h2m-2 7h2m-2 6h2m-2 0h2m-2 3h2m-2 1h2m-2 0h2m-2 11h2m-2 6h2m-2 1h2m-2 2h2m-2 5h2m-2 5h2m-2 3h2m-2 3h2m-2 3h2m-2 2h2m-2 0h2m-2 7h2m-2 1h2m-2 1h2m-2 10h2m-2 6h2m-2 68h2m-1-164h2m-2 2h2m-2 7h2m-2 2h2m-2 8h2m-2 5h2m-2 9h2m-2 15h2m-2 1h2m-2 5h2m-2 6h2m-2 1h2m-2 5h2m-2 1h2m-2 4h2m-2 0h2m-2 2h2m-2 1h2m-2 9h2m-2 4h2m-2 2h2m-2 2h2m-2 3h2m-2 8h2m-2 7h2m-1-122h2m-2 3h2m-2 6h2m-2 4h2m-2 1h2m-2 1h2m-2 1h2m-2 5h2m-2 5h2m-2 6h2m-2 2h2m-2 1h2m-2 12h2m-2 2h2m-2 1h2m-2 10h2m-2 11h2m-2 8h2m-2 1h2m-2 1h2m-2 2h2m-2 2h2m-2 0h2m-2 7h2m-2 6h2m-2 20h2m-2 3h2m-1-120h2m-2 9h2m-2 2h2m-2 3h2m-2 0h2m-2 5h2m-2 1h2m-2 12h2m-2 16h2m-2 3h2m-2 3h2m-2 4h2m-2 3h2m-2 2h2m-2 5h2m-2 8h2m-2 1h2m-2 1h2m-2 2h2m-2 5h2m-2 5h2m-2 0h2m-2 0h2m-2 1h2m-2 1h2m-2 0h2m-2 6h2m-2 2h2m-2 0h2m-2 6h2m-2 2h2m-2 11h2m-2 1h2m-1-114h2m-2 7h2m-2 2h2m-2 2h2m-2 2h2m-2 1h2m-2 3h2m-2 2h2m-2 3h2m-2 15h2m-2 6h2m-2 7h2m-2 0h2m-2 2h2m-2 1h2m-2 4h2m-2 5h2m-2 4h2m-2 4h2m-2 2h2m-2 2h2m-2 5h2m-2 12h2m-2 9h2m-2 1h2m-2 9h2m-2 5h2m-1-100h2m-2 9h2m-2 8h2m-2 8h2m-2 3h2m-2 1h2m-2 0h2m-2 1h2m-2 4h2m-2 6h2m-2 1h2m-2 2h2m-2 8h2m-2 0h2m-2 5h2m-2 19h2m-2 5h2m-2 0h2m-2 3h2m-2 2h2m-2 2h2m-2 6h2m-2 3h2m-2 0h2m-2 3h2m-1-105h2m-2 3h2m-2 1h2m-2 1h2m-2 0h2m-2 6h2m-2 1h2m-2 0h2m-2 0h2m-2 6h2m-2 1h2m-2 2h2m-2 1h2m-2 11h2m-2 22h2m-2 2h2m-2 9h2m-2 6h2m-2 0h2m-2 0h2m-2 2h2m-2 2h2m-2 1h2m-2 11h2m-2 1h2m-2 3h2m-2 2h2m-1-94h2m-2 0h2m-2 6h2m-2 9h2m-2 15h2m-2 1h2m-2 1h2m-2 10h2m-2 1h2m-2 0h2m-2 2h2m-2 5h2m-2 5h2m-2 2h2m-2 4h2m-2 3h2m-2 12h2m-2 2h2m-2 3h2m-2 4h2m-2 7h2m-2 2h2m-1-94h2m-2 0h2m-2 4h2m-2 18h2m-2 4h2m-2 9h2m-2 7h2m-2 8h2m-2 0h2m-2 0h2m-2 1h2m-2 2h2m-2 3h2m-2 7h2m-2 0h2m-2 5h2m-2 1h2m-2 2h2m-2 3h2m-2 4h2m-2 4h2m-2 3h2m-2 3h2m-2 8h2m-2 0h2m-1-99h2m-2 1h2m-2 3h2m-2 4h2m-2 4h2m-2 14h2m-2 6h2m-2 0h2m-2 3h2m-2 3h2m-2 2h2m-2 1h2m-2 13h2m-2 3h2m-2 3h2m-2 1h2m-2 0h2m-2 3h2m-2 2h2m-2 1h2m-2 1h2m-2 4h2m-2 25h2m-2 2h2m-2 5h2m-2 8h2m-2 25h2m-1-142h2m-2 3h2m-2 1h2m-2 2h2m-2 17h2m-2 8h2m-2 6h2m-2 0h2m-2 3h2m-2 2h2m-2 5h2m-2 1h2m-2 1h2m-2 0h2m-2 6h2m-2 6h2m-2 0h2m-2 6h2m-2 9h2m-2 6h2m-2 9h2m-2 0h2m-2 3h2m-2 7h2m-2 2h2m-2 0h2m-2 11h2m-2 2h2m-2 1h2m-2 7h2m-2 50h2m-1-182h2m-2 2h2m-2 13h2m-2 5h2m-2 4h2m-2 7h2m-2 3h2m-2 14h2m-2 3h2m-2 3h2m-2 2h2m-2 0h2m-2 2h2m-2 2h2m-2 16h2m-2 6h2m-2 5h2m-2 3h2m-2 1h2m-2 2h2m-2 3h2m-2 4h2m-2 1h2m-2 0h2m-2 3h2m-2 8h2m-2 13h2m-2 1h2m-2 1h2m-1-118h2m-2 10h2m-2 7h2m-2 5h2m-2 3h2m-2 1h2m-2 12h2m-2 0h2m-2 4h2m-2 0h2m-2 0h2m-2 1h2m-2 0h2m-2 2h2m-2 7h2m-2 1h2m-2 0h2m-2 2h2m-2 16h2m-2 5h2m-2 3h2m-2 8h2m-2 1h2m-2 5h2m-2 1h2m-2 6h2m-2 1h2m-2 0h2m-2 2h2m-2 13h2m-1-112h2m-2 3h2m-2 9h2m-2 0h2m-2 6h2m-2 4h2m-2 8h2m-2 2h2m-2 4h2m-2 1h2m-2 1h2m-2 3h2m-2 4h2m-2 4h2m-2 2h2m-2 5h2m-2 0h2m-2 21h2m-2 5h2m-2 1h2m-2 3h2m-2 1h2m-2 8h2m-2 2h2m-2 52h2m-1-143h2m-2 3h2m-2 5h2m-2 3h2m-2 2h2m-2 1h2m-2 5h2m-2 1h2m-2 3h2m-2 1h2m-2 5h2m-2 5h2m-2 0h2m-2 0h2m-2 5h2m-2 4h2m-2 5h2m-2 0h2m-2 0h2m-2 4h2m-2 7h2m-2 4h2m-2 3h2m-2 3h2m-2 0h2m-2 10h2m-2 0h2m-2 2h2m-2 80h2m-1-165h2m-2 3h2m-2 13h2m-2 8h2m-2 7h2m-2 3h2m-2 4h2m-2 4h2m-2 1h2m-2 7h2m-2 4h2m-2 6h2m-2 2h2m-2 1h2m-2 3h2m-2 2h2m-2 4h2m-2 6h2m-2 1h2m-2 6h2m-2 1h2m-2 1h2m-2 10h2m-2 35h2m-1-131h2m-2 2h2m-2 1h2m-2 2h2m-2 9h2m-2 14h2m-2 1h2m-2 6h2m-2 2h2m-2 6h2m-2 1h2m-2 15h2m-2 10h2m-2 6h2m-2 2h2m-2 7h2m-2 5h2m-2 1h2m-2 0h2m-2 6h2m-1-90h2m-2 5h2m-2 0h2m-2 5h2m-2 8h2m-2 13h2m-2 2h2m-2 7h2m-2 3h2m-2 3h2m-2 0h2m-2 8h2m-2 2h2m-2 1h2m-2 2h2m-2 0h2m-2 7h2m-2 6h2m-2 6h2m-2 1h2m-2 5h2m-2 1h2m-2 5h2" stroke="#ff0000" stroke-width="2.6" fill="none"/>
<path transform="scale(.5)" d="M355 139h2m-2 16h2m-2 11h2m-2 11h2m-2 52h2m-1-93h2m-2 13h2m-2 1h2m-2 1h2m-2 6h2m-2 9h2m-2 2h2m-2 2h2m-2 2h2m-2 5h2m-2 3h2m-2 0h2m-2 0h2m-2 2h2m-2 0h2m-2 1h2m-2 5h2m-2 8h2m-2 0h2m-2 1h2m-2 2h2m-2 6h2m-2 0h2m-2 1h2m-2 1h2m-2 0h2m-2 2h2m-2 1h2m-2 4h2m-2 4h2m-2 0h2m-2 1h2m-2 1h2m-2 3h2m-2 1h2m-2 3h2m-2 2h2m-2 1h2m-2 3h2m-2 1h2m-2 1h2m-1-101h2m-2 1h2m-2 3h2m-2 1h2m-2 3h2m-2 1h2m-2 2h2m-2 3h2m-2 3h2m-2 1h2m-2 1h2m-2 8h2m-2 5h2m-2 5h2m-2 1h2m-2 2h2m-2 2h2m-2 5h2m-2 1h2m-2 3h2m-2 2h2m-2 1h2m-2 2h2m-2 3h2m-2 6h2m-2 0h2m-2 3h2m-2 5h2m-2 2h2m-2 3h2m-2 2h2m-2 1h2m-2 5h2m-2 1h2m-2 1h2m-2 4h2m-2 3h2m-2 1h2m-2 7h2m-2 3h2m-1-113h2m-2 0h2m-2 5h2m-2 2h2m-2 5h2m-2 1h2m-2 9h2m-2 0h2m-2 4h2m-2 1h2m-2 1h2m-2 0h2m-2 3h2m-2 4h2m-2 5h2m-2 1h2m-2 4h2m-2 2h2m-2 1h2m-2 2h2m-2 5h2m-2 0h2m-2 0h2m-2 7h2m-2 2h2m-2 1h2m-2 1h2m-2 0h2m-2 3h2m-2 2h2m-2 0h2m-2 2h2m-2 4h2m-2 1h2m-2 3h2m-2 3h2m-2 1h2m-2 0h2m-2 7h2m-2 2h2m-2 3h2m-2 3h2m-2 3h2m-2 2h2m-2 5h2m-2 5h2m-2 1h2m-2 6h2m-2 0h2m-2 1h2m-2 1h2m-2 4h2m-1-131h2m-2 1h2m-2 3h2m-2 2h2m-2 0h2m-2 2h2m-2 0h2m-2 4h2m-2 2h2m-2 0h2m-2 3h2m-2 7h2m-2 2h2m-2 4h2m-2 3h2m-2 1h2m-2 5h2m-2 2h2m-2 0h2m-2 1h2m-2 4h2m-2 1h2m-2 1h2m-2 3h2m-2 4h2m-2 2h2m-2 1h2m-2 0h2m-2 15h2m-2 1h2m-2 3h2m-2 1h2m-2 4h2m-2 0h2m-2 4h2m-2 3h2m-2 6h2m-2 4h2m-2 7h2m-2 1h2m-2 1h2m-2 5h2m-2 5h2m-2 3h2m-2 0h2m-2 1h2m-2 3h2m-1-127h2m-2 0h2m-2 7h2m-2 1h2m-2 4h2m-2 2h2m-2 6h2m-2 3h2m-2 2h2m-2 3h2m-2 5h2m-2 5h2m-2 3h2m-2 9h2m-2 5h2m-2 3h2m-2 0h2m-2 2h2m-2 0h2m-2 0h2m-2 3h2m-2 3h2m-2 4h2m-2 1h2m-2 1h2m-2 1h2m-2 9h2m-2 2h2m-2 1h2m-2 1h2m-2 1h2m-2 2h2m-2 0h2m-2 0h2m-2 0h2m-2 1h2m-2 1h2m-2 4h2m-2 0h2m-2 3h2m-2 1h2m-2 4h2m-2 1h2m-2 3h2m-2 3h2m-2 1h2m-2 2h2m-2 1h2m-2 2h2m-2 1h2m-2 2h2m-2 4h2m-2 5h2m-2 1h2m-2 2h2m-2 5h2m-2 1h2m-1-145h2m-2 6h2m-2 7h2m-2 1h2m-2 1h2m-2 9h2m-2 1h2m-2 5h2m-2 6h2m-2 2h2m-2 1h2m-2 0h2m-2 0h2m-2 3h2m-2 9h2m-2 2h2m-2 1h2m-2 4h2m-2 4h2m-2 0h2m-2 2h2m-2 3h2m-2 3h2m-2 1h2m-2 2h2m-2 2h2m-2 3h2m-2 6h2m-2 4h2m-2 0h2m-2 1h2m-2 1h2m-2 1h2m-2 3h2m-2 6h2m-2 0h2m-2 3h2m-2 6h2m-2 11h2m-2 7h2m-2 3h2m-2 2h2m-2 1h2m-2 3h2m-2 1h2m-2 11h2m-2 8h2m-2 4h2m-2 4h2m-2 0h2m-1-164h2m-2 13h2m-2 2h2m-2 3h2m-2 2h2m-2 5h2m-2 0h2m-2 2h2m-2 0h2m-2 6h2m-2 7h2m-2 2h2m-2 0h2m-2 2h2m-2 5h2m-2 3h2m-2 0h2m-2 2h2m-2 5h2m-2 2h2m-2 0h2m-2 3h2m-2 4h2m-2 1h2m-2 2h2m-2 3h2m-2 2h2m-2 7h2m-2 1h2m-2 3h2m-2 0h2m-2 1h2m-2 2h2m-2 3h2m-2 0h2m-2 8h2m-2 1h2m-2 7h2m-2 0h2m-2 7h2m-2 3h2m-2 3h2m-2 6h2m-2 1h2m-2 5h2m-2 0h2m-2 1h2m-2 3h2m-2 3h2m-1-133h2m-2 5h2m-2 3h2m-2 11h2m-2 0h2m-2 1h2m-2 2h2m-2 5h2m-2 0h2m-2 3h2m-2 2h2m-2 0h2m-2 2h2m-2 0h2m-2 1h2m-2 2h2m-2 8h2m-2 1h2m-2 4h2m-2 0h2m-2 0h2m-2 1h2m-2 4h2m-2 14h2m-2 4h2m-2 1h2m-2 0h2m-2 2h2m-2 2h2m-2 6h2m-2 2h2m-2 2h2m-2 7h2m-2 2h2m-2 2h2m-2 1h2m-2 1h2m-2 0h2m-2 10h2m-2 1h2m-2 0h2m-2 0h2m-2 2h2m-2 1h2m-2 9h2m-2 5h2m-2 3h2m-2 3h2m-1-129h2m-2 0h2m-2 2h2m-2 2h2m-2 1h2m-2 1h2m-2 0h2m-2 2h2m-2 1h2m-2 0h2m-2 1h2m-2 1h2m-2 2h2m-2 1h2m-2 0h2m-2 7h2m-2 0h2m-2 3h2m-2 2h2m-2 2h2m-2 5h2m-2 0h2m-2 0h2m-2 5h2m-2 5h2m-2 0h2m-2 0h2m-2 3h2m-2 2h2m-2 0h2m-2 0h2m-2 2h2m-2 2h2m-2 0h2m-2 11h2m-2 0h2m-2 3h2m-2 1h2m-2 1h2m-2 3h2m-2 1h2m-2 1h2m-2 0h2m-2 4h2m-2 3h2m-2 2h2m-2 1h2m-2 5h2m-2 3h2m-2 4h2m-2 5h2m-2 4h2m-2 5h2m-2 1h2m-2 2h2m-2 2h2m-1-111h2m-2 0h2m-2 2h2m-2 2h2m-2 19h2m-2 4h2m-2 5h2m-2 5h2m-2 8h2m-2 0h2m-2 11h2m-2 0h2m-2 1h2m-2 1h2m-2 9h2m-2 0h2m-2 1h2m-2 1h2m-2 4h2m-2 1h2m-2 1h2m-2 1h2m-2 4h2m-2 3h2m-2 7h2m-2 11h2m-2 0h2m-2 2h2m-2 4h2m-2 0h2m-2 4h2m-1-111h2m-2 6h2m-2 2h2m-2 5h2m-2 2h2m-2 1h2m-2 3h2m-2 4h2m-2 5h2m-2 0h2m-2 6h2m-2 1h2m-2 0h2m-2 8h2m-2 1h2m-2 0h2m-2 1h2m-2 1h2m-2 0h2m-2 1h2m-2 1h2m-2 5h2m-2 2h2m-2 6h2m-2 2h2m-2 4h2m-2 3h2m-2 0h2m-2 0h2m-2 1h2m-2 0h2m-2 2h2m-2 0h2m-2 2h2m-2 2h2m-2 6h2m-2 2h2m-2 1h2m-2 1h2m-2 2h2m-2 2h2m-2 1h2m-2 3h2m-2 4h2m-2 5h2m-2 12h2m-2 2h2m-1-114h2m-2 1h2m-2 9h2m-2 6h2m-2 1h2m-2 2h2m-2 0h2m-2 0h2m-2 3h2m-2 4h2m-2 1h2m-2 3h2m-2 1h2m-2 2h2m-2 3h2m-2 4h2m-2 2h2m-2 8h2m-2 0h2m-2 2h2m-2 14h2m-2 0h2m-2 3h2m-2 1h2m-2 1h2m-2 2h2m-2 2h2m-2 1h2m-2 0h2m-2 3h2m-2 1h2m-2 4h2m-2 1h2m-2 1h2m-2 3h2m-2 1h2m-2 1h2m-2 4h2m-2 0h2m-2 1h2m-2 1h2m-2 0h2m-2 2h2m-2 3h2m-2 12h2m-2 3h2m-2 1h2m-1-129h2m-2 3h2m-2 5h2m-2 1h2m-2 6h2m-2 2h2m-2 7h2m-2 7h2m-2 0h2m-2 1h2m-2 4h2m-2 2h2m-2 4h2m-2 1h2m-2 4h2m-2 5h2m-2 1h2m-2 2h2m-2 3h2m-2 5h2m-2 0h2m-2 1h2m-2 2h2m-2 0h2m-2 1h2m-2 6h2m-2 3h2m-2 0h2m-2 2h2m-2 3h2m-2 0h2m-2 3h2m-2 7h2m-2 1h2m-2 0h2m-2 1h2m-2 1h2m-2 1h2m-2 0h2m-2 2h2m-2 1h2m-2 1h2m-2 6h2m-2 4h2m-2 3h2m-2 0h2m-2 2h2m-2 1h2m-2 1h2m-2 1h2m-2 4h2m-2 1h2m-2 9h2m-2 7h2m-1-133h2m-2 0h2m-2 7h2m-2 1h2m-2 0h2m-2 2h2m-2 1h2m-2 0h2m-2 1h2m-2 2h2m-2 6h2m-2 3h2m-2 1h2m-2 10h2m-2 0h2m-2 0h2m-2 6h2m-2 2h2m-2 6h2m-2 0h2m-2 5h2m-2 0h2m-2 3h2m-2 6h2m-2 1h2m-2 0h2m-2 7h2m-2 1h2m-2 0h2m-2 1h2m-2 2h2m-2 14h2m-2 6h2m-2 7h2m-2 0h2m-2 0h2m-2 7h2m-2 2h2m-2 5h2m-2 3h2m-2 0h2m-2 1h2m-2 3h2m-2 2h2m-2 2h2m-2 1h2m-1-139h2m-2 11h2m-2 2h2m-2 5h2m-2 0h2m-2 5h2m-2 2h2m-2 0h2m-2 3h2m-2 1h2m-2 7h2m-2 4h2m-2 0h2m-2 0h2m-2 10h2m-2 1h2m-2 0h2m-2 0h2m-2 1h2m-2 6h2m-2 4h2m-2 5h2m-2 2h2m-2 1h2m-2 3h2m-2 2h2m-2 6h2m-2 3h2m-2 2h2m-2 2h2m-2 4h2m-2 1h2m-2 3h2m-2 0h2m-2 1h2m-2 1h2m-2 2h2m-2 5h2m-2 3h2m-2 1h2m-2 0h2m-2 0h2m-2 5h2m-2 4h2m-2 3h2m-2 0h2m-2 4h2m-2 0h2m-2 0h2m-2 7h2m-2 3h2m-1-136h2m-2 9h2m-2 1h2m-2 10h2m-2 4h2m-2 2h2m-2 1h2m-2 2h2m-2 1h2m-2 9h2m-2 2h2m-2 7h2m-2 1h2m-2 3h2m-2 1h2m-2 3h2m-2 1h2m-2 6h2m-2 2h2m-2 1h2m-2 2h2m-2 2h2m-2 2h2m-2 5h2m-2 1h2m-2 3h2m-2 0h2m-2 4h2m-2 1h2m-2 1h2m-2 1h2m-2 2h2m-2 3h2m-2 0h2m-2 3h2m-2 4h2m-2 9h2m-2 0h2m-2 1h2m-2 5h2m-2 2h2m-2 1h2m-2 0h2m-2 4h2m-2 1h2m-2 1h2m-2 5h2m-2 1h2m-2 2h2m-2 3h2m-2 2h2m-2 1h2m-1-133h2m-2 7h2m-2 1h2m-2 1h2m-2 6h2m-2 1h2m-2 2h2m-2 1h2m-2 1h2m-2 7h2m-2 1h2m-2 2h2m-2 1h2m-2 3h2m-2 3h2m-2 5h2m-2 0h2m-2 4h2m-2 0h2m-2 5h2m-2 1h2m-2 4h2m-2 11h2m-2 0h2m-2 3h2m-2 0h2m-2 1h2m-2 0h2m-2 2h2m-2 2h2m-2 1h2m-2 1h2m-2 3h2m-2 3h2m-2 2h2m-2 1h2m-2 0h2m-2 1h2m-2 5h2m-2 3h2m-2 0h2m-2 1h2m-2 2h2m-2 1h2m-2 0h2m-2 9h2m-2 2h2m-2 1h2m-2 1h2m-2 0h2m-2 2h2m-2 2h2m-2 9h2m-2 0h2m-2 9h2m-2 2h2m-2 4h2m-1-138h2m-2 6h2m-2 0h2m-2 4h2m-2 0h2m-2 3h2m-2 0h2m-2 6h2m-2 5h2m-2 1h2m-2 2h2m-2 2h2m-2 1h2m-2 8h2m-2 2h2m-2 8h2m-2 2h2m-2 4h2m-2 11h2m-2 8h2m-2 10h2m-2 0h2m-2 3h2m-2 3h2m-2 2h2m-2 5h2m-2 5h2m-2 1h2m-2 1h2m-2 3h2m-2 6h2m-2 3h2m-2 1h2m-2 4h2m-2 3h2m-2 4h2m-2 1h2m-2 2h2m-2 5h2m-2 1h2m-1-140h2m-2 2h2m-2 1h2m-2 2h2m-2 17h2m-2 1h2m-2 2h2m-2 1h2m-2 1h2m-2 3h2m-2 2h2m-2 2h2m-2 1h2m-2 1h2m-2 0h2m-2 2h2m-2 2h2m-2 0h2m-2 1h2m-2 0h2m-2 1h2m-2 1h2m-2 0h2m-2 2h2m-2 2h2m-2 2h2m-2 2h2m-2 1h2m-2 1h2m-2 2h2m-2 1h2m-2 2h2m-2 1h2m-2 0h2m-2 1h2m-2 3h2m-2 1h2m-2 0h2m-2 4h2m-2 3h2m-2 3h2m-2 2h2m-2 3h2m-2 4h2m-2 0h2m-2 5h2m-2 4h2m-2 0h2m-2 10h2m-2 0h2m-2 14h2m-2 3h2m-2 2h2m-2 1h2m-2 5h2m-2 3h2m-2 2h2m-1-128h2m-2 6h2m-2 7h2m-2 0h2m-2 1h2m-2 5h2m-2 1h2m-2 1h2m-2 8h2m-2 0h2m-2 2h2m-2 4h2m-2 1h2m-2 1h2m-2 2h2m-2 3h2m-2 3h2m-2 7h2m-2 1h2m-2 8h2m-2 2h2m-2 3h2m-2 5h2m-2 3h2m-2 5h2m-2 3h2m-2 0h2m-2 2h2m-2 2h2m-2 6h2m-2 1h2m-2 1h2m-2 5h2m-2 5h2m-2 1h2m-2 3h2m-2 17h2m-1-117h2m-2 6h2m-2 0h2m-2 4h2m-2 0h2m-2 3h2m-2 2h2m-2 1h2m-2 0h2m-2 1h2m-2 1h2m-2 1h2m-2 0h2m-2 4h2m-2 1h2m-2 9h2m-2 1h2m-2 0h2m-2 2h2m-2 2h2m-2 1h2m-2 7h2m-2 8h2m-2 0h2m-2 0h2m-2 8h2m-2 4h2m-2 2h2m-2 1h2m-2 9h2m-2 5h2m-2 2h2m-2 4h2m-2 0h2m-2 2h2m-2 3h2m-2 22h2m-2 2h2m-2 0h2m-1-126h2m-2 9h2m-2 3h2m-2 3h2m-2 1h2m-2 1h2m-2 9h2m-2 1h2m-2 1h2m-2 1h2m-2 0h2m-2 2h2m-2 0h2m-2 3h2m-2 2h2m-2 4h2m-2 2h2m-2 2h2m-2 1h2m-2 2h2m-2 5h2m-2 1h2m-2 3h2m-2 0h2m-2 1h2m-2 1h2m-2 1h2m-2 2h2m-2 5h2m-2 1h2m-2 4h2m-2 5h2m-2 1h2m-2 3h2m-2 1h2m-2 4h2m-2 2h2m-2 0h2m-2 0h2m-2 1h2m-2 1h2m-2 9h2m-2 7h2m-2 2h2m-2 1h2m-2 4h2m-2 2h2m-2 1h2m-2 0h2m-2 2h2m-2 1h2m-2 0h2m-2 0h2m-2 1h2m-2 4h2m-2 5h2m-1-131h2m-2 4h2m-2 1h2m-2 6h2m-2 3h2m-2 2h2m-2 0h2m-2 0h2m-2 2h2m-2 5h2m-2 0h2m-2 3h2m-2 6h2m-2 0h2m-2 5h2m-2 3h2m-2 3h2m-2 3h2m-2 1h2m-2 5h2m-2 0h2m-2 1h2m-2 1h2m-2 1h2m-2 1h2m-2 1h2m-2 4h2m-2 1h2m-2 2h2m-2 0h2m-2 5h2m-2 6h2m-2 2h2m-2 6h2m-2 2h2m-2 4h2m-2 4h2m-2 3h2m-2 2h2m-2 2h2m-2 3h2m-2 1h2m-2 3h2m-2 0h2m-2 3h2m-2 1h2m-2 5h2m-2 0h2m-2 1h2m-2 1h2m-2 3h2m-2 0h2m-2 1h2m-2 2h2m-2 1h2m-1-111h2m-2 2h2m-2 3h2m-2 1h2m-2 8h2m-2 0h2m-2 1h2m-2 1h2m-2 2h2m-2 9h2m-2 8h2m-2 0h2m-2 2h2m-2 5h2m-2 8h2m-2 1h2m-2 0h2m-2 6h2m-2 2h2m-2 2h2m-2 0h2m-2 2h2m-2 3h2m-2 6h2m-2 1h2m-2 18h2m-2 1h2m-2 3h2m-2 4h2m-2 0h2m-2 1h2m-2 0h2m-2 2h2m-2 2h2m-2 3h2m-2 4h2m-2 4h2m-2 0h2m-2 3h2m-1-122h2m-2 1h2m-2 0h2m-2 0h2m-2 4h2m-2 3h2m-2 1h2m-2 2h2m-2 2h2m-2 1h2m-2 1h2m-2 7h2m-2 5h2m-2 3h2m-2 5h2m-2 1h2m-2 0h2m-2 3h2m-2 3h2m-2 3h2m-2 2h2m-2 0h2m-2 8h2m-2 4h2m-2 0h2m-2 0h2m-2 0h2m-2 5h2m-2 1h2m-2 6h2m-2 2h2m-2 1h2m-2 1h2m-2 2h2m-2 5h2m-2 6h2m-2 12h2m-2 3h2m-2 0h2m-2 8h2m-2 3h2m-2 2h2m-1-117h2m-2 5h2m-2 2h2m-2 5h2m-2 1h2m-2 1h2m-2 8h2m-2 1h2m-2 2h2m-2 3h2m-2 2h2m-2 1h2m-2 2h2m-2 6h2m-2 0h2m-2 1h2m-2 3h2m-2 3h2m-2 12h2m-2 3h2m-2 0h2m-2 3h2m-2 2h2m-2 2h2m-2 3h2m-2 0h2m-2 1h2m-2 9h2m-2 3h2m-2 3h2m-2 0h2m-2 2h2m-2 0h2m-2 3h2m-2 3h2m-2 10h2m-2 2h2m-2 1h2m-2 4h2m-2 0h2m-2 1h2m-2 1h2m-2 2h2m-2 1h2m-2 3h2m-2 1h2m-2 0h2m-1-124h2m-2 10h2m-2 1h2m-2 0h2m-2 2h2m-2 1h2m-2 7h2m-2 2h2m-2 0h2m-2 6h2m-2 0h2m-2 1h2m-2 7h2m-2 1h2m-2 1h2m-2 4h2m-2 0h2m-2 2h2m-2 2h2m-2 1h2m-2 3h2m-2 3h2m-2 5h2m-2 0h2m-2 7h2m-2 1h2m-2 7h2m-2 4h2m-2 1h2m-2 0h2m-2 1h2m-2 2h2m-2 1h2m-2 1h2m-2 1h2m-2 1h2m-2 1h2m-2 2h2m-2 5h2m-2 4h2m-2 3h2m-2 1h2m-2 1h2m-2 1h2m-2 4h2m-2 5h2m-2 5h2m-2 0h2m-1-118h2m-2 10h2m-2 0h2m-2 0h2m-2 4h2m-2 2h2m-2 2h2m-2 3h2m-2 4h2m-2 0h2m-2 2h2m-2 1h2m-2 8h2m-2 0h2m-2 0h2m-2 2h2m-2 1h2m-2 4h2m-2 0h2m-2 13h2m-2 6h2m-2 1h2m-2 1h2m-2 3h2m-2 3h2m-2 4h2m-2 2h2m-2 0h2m-2 3h2m-2 4h2m-2 4h2m-2 1h2m-2 5h2m-2 3h2m-2 2h2m-2 10h2m-2 3h2m-2 2h2m-2 2h2m-2 2h2m-1-123h2m-2 2h2m-2 9h2m-2 2h2m-2 4h2m-2 3h2m-2 0h2m-2 2h2m-2 7h2m-2 7h2m-2 7h2m-2 3h2m-2 3h2m-2 3h2m-2 0h2m-2 4h2m-2 1h2m-2 4h2m-2 5h2m-2 1h2m-2 1h2m-2 1h2m-2 0h2m-2 0h2m-2 1h2m-2 1h2m-2 1h2m-2 3h2m-2 1h2m-2 0h2m-2 0h2m-2 4h2m-2 0h2m-2 7h2m-2 0h2m-2 4h2m-2 3h2m-2 2h2m-2 1h2m-2 5h2m-2 1h2m-2 8h2m-2 1h2m-2 3h2m-2 10h2m-2 1h2m-2 2h2m-2 0h2m-2 3h2m-2 8h2m-2 2h2m-2 7h2m-2 2h2m-1-155h2m-2 4h2m-2 3h2m-2 0h2m-2 6h2m-2 0h2m-2 7h2m-2 1h2m-2 1h2m-2 2h2m-2 1h2m-2 1h2m-2 2h2m-2 1h2m-2 2h2m-2 3h2m-2 3h2m-2 3h2m-2 1h2m-2 3h2m-2 0h2m-2 8h2m-2 3h2m-2 4h2m-2 7h2m-2 1h2m-2 4h2m-2 4h2m-2 2h2m-2 5h2m-2 2h2m-2 2h2m-2 1h2m-2 3h2m-2 0h2m-2 5h2m-2 5h2m-2 2h2m-2 3h2m-2 1h2m-2 3h2m-2 1h2m-2 4h2m-2 5h2m-2 0h2m-2 1h2m-2 1h2m-2 0h2m-2 3h2m-2 2h2m-2 1h2m-2 3h2m-2 2h2m-2 8h2m-2 7h2m-2 4h2m-2 5h2m-2 0h2m-2 1h2m-1-162h2m-2 6h2m-2 13h2m-2 0h2m-2 0h2m-2 5h2m-2 5h2m-2 0h2m-2 1h2m-2 1h2m-2 4h2m-2 4h2m-2 1h2m-2 7h2m-2 0h2m-2 2h2m-2 3h2m-2 4h2m-2 0h2m-2 6h2m-2 7h2m-2 1h2m-2 4h2m-2 13h2m-2 7h2m-2 3h2m-2 0h2m-2 0h2m-2 1h2m-2 1h2m-2 1h2m-2 1h2m-2 6h2m-2 1h2m-2 4h2m-2 3h2m-2 2h2m-2 1h2m-2 1h2m-2 5h2m-2 2h2m-2 2h2m-2 0h2m-2 1h2m-2 0h2m-2 1h2m-2 3h2m-2 2h2m-2 8h2m-2 1h2m-2 3h2m-2 18h2m-2 4h2m-2 2h2m-1-166h2m-2 7h2m-2 3h2m-2 5h2m-2 5h2m-2 2h2m-2 1h2m-2 3h2m-2 1h2m-2 1h2m-2 2h2m-2 0h2m-2 0h2m-2 2h2m-2 1h2m-2 2h2m-2 3h2m-2 1h2m-2 2h2m-2 5h2m-2 0h2m-2 0h2m-2 2h2m-2 4h2m-2 3h2m-2 8h2m-2 3h2m-2 0h2m-2 0h2m-2 6h2m-2 1h2m-2 4h2m-2 1h2m-2 1h2m-2 4h2m-2 0h2m-2 2h2m-2 0h2m-2 4h2m-2 0h2m-2 2h2m-2 1h2m-2 0h2m-2 0h2m-2 1h2m-2 3h2m-2 3h2m-2 2h2m-2 7h2m-2 6h2m-2 1h2m-2 4h2m-2 1h2m-2 0h2m-2 2h2m-2 5h2m-2 1h2m-2 7h2m-2 5h2m-2 21h2m-1-156h2m-2 4h2m-2 6h2m-2 5h2m-2 1h2m-2 5h2m-2 5h2m-2 2h2m-2 2h2m-2 5h2m-2 2h2m-2 3h2m-2 1h2m-2 1h2m-2 1h2m-2 1h2m-2 5h2m-2 0h2m-2 9h2m-2 2h2m-2 1h2m-2 2h2m-2 10h2m-2 2h2m-2 4h2m-2 3h2m-2 2h2m-2 3h2m-2 2h2m-2 0h2m-2 0h2m-2 1h2m-2 1h2m-2 3h2m-2 0h2m-2 3h2m-2 1h2m-2 1h2m-2 0h2m-2 0h2m-2 7h2m-2 2h2m-2 3h2m-2 1h2m-2 2h2m-2 0h2m-2 3h2m-2 6h2m-2 5h2m-2 1h2m-2 9h2m-1-139h2m-2 8h2m-2 0h2m-2 1h2m-2 0h2m-2 4h2m-2 6h2m-2 1h2m-2 6h2m-2 9h2m-2 7h2m-2 4h2m-2 1h2m-2 3h2m-2 3h2m-2 0h2m-2 3h2m-2 0h2m-2 7h2m-2 3h2m-2 3h2m-2 1h2m-2 1h2m-2 12h2m-2 1h2m-2 2h2m-2 3h2m-2 0h2m-2 1h2m-2 4h2m-2 5h2m-2 1h2m-2 1h2m-2 2h2m-2 4h2m-2 2h2m-2 0h2m-2 2h2m-2 1h2m-2 0h2m-2 6h2m-2 3h2m-2 6h2m-2 4h2m-2 4h2m-1-121h2m-2 1h2m-2 4h2m-2 4h2m-2 7h2m-2 0h2m-2 2h2m-2 2h2m-2 0h2m-2 0h2m-2 6h2m-2 1h2m-2 1h2m-2 3h2m-2 4h2m-2 0h2m-2 2h2m-2 2h2m-2 4h2m-2 1h2m-2 4h2m-2 1h2m-2 2h2m-2 2h2m-2 2h2m-2 2h2m-2 6h2m-2 0h2m-2 0h2m-2 3h2m-2 3h2m-2 1h2m-2 3h2m-2 4h2m-2 1h2m-2 0h2m-2 1h2m-2 2h2m-2 0h2m-2 5h2m-2 2h2m-2 0h2m-2 2h2m-2 3h2m-2 1h2m-2 5h2m-2 3h2m-2 2h2m-2 0h2m-2 1h2m-2 0h2m-2 2h2m-1-100h2m-2 1h2m-2 0h2m-2 12h2m-2 1h2m-2 3h2m-2 8h2m-2 6h2m-2 1h2m-2 1h2m-2 4h2m-2 3h2m-2 0h2m-2 4h2m-2 9h2m-2 0h2m-2 4h2m-2 1h2m-2 2h2m-2 1h2m-2 1h2m-2 18h2m-2 0h2m-2 8h2m-2 2h2m-2 0h2m-2 2h2m-2 7h2m-2 2h2m-2 0h2m-1-119h2m-2 4h2m-2 6h2m-2 5h2m-2 2h2m-2 0h2m-2 2h2m-2 4h2m-2 6h2m-2 2h2m-2 1h2m-2 2h2m-2 3h2m-2 1h2m-2 4h2m-2 3h2m-2 3h2m-2 4h2m-2 0h2m-2 2h2m-2 5h2m-2 6h2m-2 0h2m-2 1h2m-2 0h2m-2 2h2m-2 0h2m-2 3h2m-2 1h2m-2 2h2m-2 8h2m-2 0h2m-2 2h2m-2 0h2m-2 6h2m-2 0h2m-2 3h2m-2 1h2m-2 1h2m-2 1h2m-2 5h2m-2 1h2m-2 2h2m-2 6h2m-2 6h2m-2 3h2m-2 8h2m-2 2h2m-2 10h2m-1-145h2m-2 7h2m-2 2h2m-2 0h2m-2 9h2m-2 2h2m-2 2h2m-2 3h2m-2 1h2m-2 0h2m-2 0h2m-2 2h2m-2 3h2m-2 1h2m-2 2h2m-2 1h2m-2 3h2m-2 1h2m-2 6h2m-2 3h2m-2 3h2m-2 0h2m-2 0h2m-2 4h2m-2 6h2m-2 5h2m-2 0h2m-2 2h2m-2 1h2m-2 2h2m-2 5h2m-2 11h2m-2 3h2m-2 0h2m-2 3h2m-2 13h2m-2 3h2m-2 1h2m-2 3h2m-2 0h2m-2 1h2m-2 0h2m-2 4h2m-2 2h2m-2 1h2m-2 1h2m-2 4h2m-2 5h2m-2 4h2m-2 2h2m-2 2h2m-2 2h2m-2 3h2m-1-143h2m-2 7h2m-2 4h2m-2 2h2m-2 0h2m-2 1h2m-2 0h2m-2 1h2m-2 1h2m-2 1h2m-2 2h2m-2 11h2m-2 0h2m-2 3h2m-2 1h2m-2 0h2m-2 4h2m-2 3h2m-2 1h2m-2 2h2m-2 5h2m-2 0h2m-2 4h2m-2 1h2m-2 0h2m-2 1h2m-2 0h2m-2 4h2m-2 0h2m-2 1h2m-2 0h2m-2 12h2m-2 2h2m-2 1h2m-2 13h2m-2 3h2m-2 0h2m-2 8h2m-2 1h2m-2 6h2m-2 0h2m-2 6h2m-2 4h2m-2 7h2m-2 1h2m-2 4h2m-2 0h2m-2 9h2m-2 2h2m-2 0h2m-2 4h2m-2 1h2m-2 1h2m-2 2h2m-1-145h2m-2 11h2m-2 1h2m-2 1h2m-2 7h2m-2 3h2m-2 0h2m-2 4h2m-2 6h2m-2 2h2m-2 2h2m-2 3h2m-2 1h2m-2 0h2m-2 2h2m-2 3h2m-2 5h2m-2 0h2m-2 1h2m-2 2h2m-2 4h2m-2 2h2m-2 4h2m-2 2h2m-2 1h2m-2 2h2m-2 4h2m-2 5h2m-2 2h2m-2 1h2m-2 1h2m-2 2h2m-2 1h2m-2 7h2m-2 1h2m-2 0h2m-2 3h2m-2 1h2m-2 7h2m-2 2h2m-2 6h2m-2 0h2m-2 1h2m-2 1h2m-2 5h2m-2 0h2m-2 1h2m-2 5h2m-2 5h2m-2 1h2m-2 4h2m-2 1h2m-2 1h2m-1-141h2m-2 8h2m-2 1h2m-2 3h2m-2 4h2m-2 2h2m-2 0h2m-2 2h2m-2 3h2m-2 5h2m-2 0h2m-2 1h2m-2 3h2m-2 0h2m-2 1h2m-2 5h2m-2 1h2m-2 4h2m-2 1h2m-2 2h2m-2 3h2m-2 1h2m-2 1h2m-2 0h2m-2 4h2m-2 5h2m-2 1h2m-2 0h2m-2 0h2m-2 0h2m-2 1h2m-2 1h2m-2 1h2m-2 0h2m-2 3h2m-2 7h2m-2 1h2m-2 1h2m-2 9h2m-2 4h2m-2 2h2m-2 8h2m-2 0h2m-2 1h2m-2 6h2m-2 1h2m-2 4h2m-2 6h2m-2 6h2m-2 3h2m-2 2h2m-2 2h2m-2 3h2m-2 2h2m-2 5h2m-1-137h2m-2 17h2m-2 1h2m-2 2h2m-2 6h2m-2 8h2m-2 1h2m-2 10h2m-2 0h2m-2 5h2m-2 3h2m-2 1h2m-2 1h2m-2 1h2m-2 3h2m-2 0h2m-2 1h2m-2 1h2m-2 2h2m-2 4h2m-2 0h2m-2 2h2m-2 7h2m-2 6h2m-2 5h2m-2 2h2m-2 2h2m-2 5h2m-2 4h2m-2 2h2m-2 1h2m-2 0h2m-2 3h2m-2 1h2m-2 3h2m-2 2h2m-2 1h2m-2 0h2m-2 4h2m-2 3h2m-2 0h2m-2 5h2m-2 5h2m-2 3h2m-2 0h2m-1-116h2m-2 9h2m-2 3h2m-2 3h2m-2 0h2m-2 3h2m-2 5h2m-2 1h2m-2 1h2m-2 2h2m-2 0h2m-2 2h2m-2 0h2m-2 4h2m-2 4h2m-2 6h2m-2 6h2m-2 1h2m-2 1h2m-2 1h2m-2 0h2m-2 1h2m-2 2h2m-2 0h2m-2 0h2m-2 0h2m-2 5h2m-2 6h2m-2 2h2m-2 1h2m-2 1h2m-2 2h2m-2 8h2m-2 0h2m-2 4h2m-2 6h2m-2 1h2m-2 3h2m-2 0h2m-2 0h2m-2 1h2m-2 2h2m-2 0h2m-2 3h2m-2 2h2m-2 3h2m-2 4h2m-2 0h2m-1-107h2m-2 7h2m-2 4h2m-2 1h2m-2 6h2m-2 5h2m-2 0h2m-2 5h2m-2 3h2m-2 8h2m-2 0h2m-2 3h2m-2 4h2m-2 1h2m-2 6h2m-2 2h2m-2 4h2m-2 1h2m-2 9h2m-2 1h2m-2 3h2m-2 3h2m-2 0h2m-2 0h2m-2 2h2m-2 9h2m-2 1h2m-2 2h2m-2 10h2m-2 1h2m-2 4h2m-2 0h2m-1-115h2m-2 5h2m-2 2h2m-2 3h2m-2 0h2m-2 2h2m-2 1h2m-2 1h2m-2 5h2m-2 1h2m-2 4h2m-2 5h2m-2 3h2m-2 1h2m-2 1h2m-2 2h2m-2 2h2m-2 7h2m-2 6h2m-2 2h2m-2 0h2m-2 1h2m-2 3h2m-2 5h2m-2 5h2m-2 1h2m-2 1h2m-2 0h2m-2 3h2m-2 2h2m-2 4h2m-2 4h2m-2 1h2m-2 5h2m-2 2h2m-2 3h2m-2 1h2m-2 3h2m-2 3h2m-2 7h2m-2 5h2m-2 2h2m-2 2h2m-1-116h2m-2 0h2m-2 4h2m-2 0h2m-2 1h2m-2 1h2m-2 2h2m-2 0h2m-2 4h2m-2 1h2m-2 5h2m-2 3h2m-2 1h2m-2 1h2m-2 4h2m-2 0h2m-2 8h2m-2 5h2m-2 0h2m-2 2h2m-2 3h2m-2 3h2m-2 0h2m-2 3h2m-2 0h2m-2 3h2m-2 1h2m-2 1h2m-2 2h2m-2 2h2m-2 2h2m-2 3h2m-2 0h2m-2 2h2m-2 2h2m-2 1h2m-2 5h2m-2 1h2m-2 1h2m-2 1h2m-2 1h2m-2 7h2m-2 1h2m-2 2h2m-2 11h2m-2 1h2m-2 3h2m-2 5h2m-2 4h2m-2 1h2m-2 0h2m-2 1h2m-2 3h2m-2 2h2m-1-126h2m-2 4h2m-2 1h2m-2 4h2m-2 0h2m-2 7h2m-2 0h2m-2 1h2m-2 3h2m-2 0h2m-2 5h2m-2 2h2m-2 4h2m-2 1h2m-2 1h2m-2 4h2m-2 6h2m-2 1h2m-2 3h2m-2 4h2m-2 1h2m-2 0h2m-2 1h2m-2 5h2m-2 3h2m-2 3h2m-2 2h2m-2 5h2m-2 1h2m-2 2h2m-2 0h2m-2 4h2m-2 7h2m-2 3h2m-2 3h2m-2 0h2m-2 8h2m-2 0h2m-2 4h2m-2 0h2m-2 2h2m-2 8h2m-2 3h2m-2 5h2m-2 2h2m-2 2h2m-2 8h2m-2 1h2m-2 4h2m-2 0h2m-2 1h2m-2 10h2m-2 11h2m-1-157h2m-2 4h2m-2 8h2m-2 3h2m-2 0h2m-2 0h2m-2 5h2m-2 2h2m-2 2h2m-2 2h2m-2 0h2m-2 3h2m-2 3h2m-2 2h2m-2 3h2m-2 3h2m-2 2h2m-2 7h2m-2 0h2m-2 6h2m-2 0h2m-2 6h2m-2 3h2m-2 3h2m-2 2h2m-2 7h2m-2 5h2m-2 1h2m-2 2h2m-2 6h2m-2 1h2m-2 1h2m-2 1h2m-2 1h2m-2 1h2m-2 2h2m-2 0h2m-2 1h2m-2 0h2m-2 11h2m-2 3h2m-2 7h2m-2 4h2m-2 0h2m-2 10h2m-2 9h2m-1-144h2m-2 2h2m-2 2h2m-2 0h2m-2 1h2m-2 10h2m-2 3h2m-2 0h2m-2 3h2m-2 1h2m-2 8h2m-2 4h2m-2 6h2m-2 0h2m-2 1h2m-2 2h2m-2 3h2m-2 4h2m-2 2h2m-2 0h2m-2 1h2m-2 1h2m-2 2h2m-2 2h2m-2 0h2m-2 1h2m-2 3h2m-2 3h2m-2 1h2m-2 4h2m-2 1h2m-2 3h2m-2 1h2m-2 1h2m-2 5h2m-2 0h2m-2 6h2m-2 5h2m-2 3h2m-2 0h2m-2 1h2m-2 2h2m-2 5h2m-2 3h2m-2 1h2m-2 5h2m-2 6h2m-2 4h2m-2 2h2m-2 7h2m-2 4h2m-2 9h2m-2 5h2m-1-144h2m-2 5h2m-2 5h2m-2 3h2m-2 5h2m-2 6h2m-2 1h2m-2 2h2m-2 0h2m-2 2h2m-2 1h2m-2 2h2m-2 3h2m-2 3h2m-2 1h2m-2 2h2m-2 6h2m-2 1h2m-2 2h2m-2 6h2m-2 6h2m-2 1h2m-2 4h2m-2 2h2m-2 0h2m-2 2h2m-2 5h2m-2 1h2m-2 1h2m-2 6h2m-2 4h2m-2 3h2m-2 4h2m-2 3h2m-2 3h2m-2 2h2m-2 3h2m-2 1h2m-2 0h2m-2 5h2m-2 3h2m-2 0h2m-2 1h2m-2 1h2m-2 2h2m-2 1h2m-2 4h2m-2 2h2m-2 1h2m-2 1h2m-2 2h2m-2 0h2m-2 4h2m-2 8h2m-1-137h2m-2 4h2m-2 2h2m-2 11h2m-2 0h2m-2 6h2m-2 0h2m-2 8h2m-2 3h2m-2 3h2m-2 1h2m-2 3h2m-2 1h2m-2 1h2m-2 0h2m-2 1h2m-2 3h2m-2 2h2m-2 2h2m-2 3h2m-2 4h2m-2 0h2m-2 1h2m-2 5h2m-2 0h2m-2 3h2m-2 7h2m-2 2h2m-2 0h2m-2 4h2m-2 5h2m-2 4h2m-2 0h2m-2 1h2m-2 0h2m-2 6h2m-2 1h2m-2 5h2m-2 2h2m-2 0h2m-2 1h2m-2 0h2m-2 2h2m-2 0h2m-2 2h2m-1-106h2m-2 2h2m-2 1h2m-2 4h2m-2 2h2m-2 13h2m-2 1h2m-2 5h2m-2 1h2m-2 3h2m-2 6h2m-2 1h2m-2 5h2m-2 4h2m-2 4h2m-2 6h2m-2 1h2m-2 1h2m-2 1h2m-2 5h2m-2 1h2m-2 1h2m-2 2h2m-2 1h2m-2 1h2m-2 1h2m-2 1h2m-2 2h2m-2 2h2m-2 4h2m-2 2h2m-2 3h2m-2 2h2m-2 5h2m-2 0h2m-2 1h2m-2 1h2m-2 0h2m-2 2h2m-2 2h2m-1-109h2m-2 0h2m-2 1h2m-2 7h2m-2 0h2m-2 3h2m-2 16h2m-2 0h2m-2 3h2m-2 1h2m-2 0h2m-2 4h2m-2 1h2m-2 1h2m-2 2h2m-2 0h2m-2 1h2m-2 1h2m-2 3h2m-2 1h2m-2 6h2m-2 5h2m-2 2h2m-2 2h2m-2 1h2m-2 3h2m-2 2h2m-2 2h2m-2 3h2m-2 2h2m-2 0h2m-2 5h2m-2 5h2m-2 7h2m-2 2h2m-2 6h2m-2 5h2m-2 0h2m-2 3h2m-2 5h2m-2 1h2m-1-112h2m-2 3h2m-2 3h2m-2 1h2m-2 8h2m-2 5h2m-2 5h2m-2 1h2m-2 1h2m-2 0h2m-2 1h2m-2 0h2m-2 0h2m-2 2h2m-2 7h2m-2 2h2m-2 0h2m-2 5h2m-2 2h2m-2 1h2m-2 4h2m-2 0h2m-2 3h2m-2 1h2m-2 8h2m-2 2h2m-2 2h2m-2 1h2m-2 6h2m-2 1h2m-2 1h2m-2 1h2m-2 1h2m-2 4h2m-2 4h2m-2 10h2m-2 1h2m-2 1h2m-2 3h2m-2 3h2m-2 1h2m-2 2h2m-2 1h2m-2 3h2m-2 0h2m-2 2h2m-2 1h2m-2 6h2m-2 1h2m-1-125h2m-2 2h2m-2 15h2m-2 5h2m-2 2h2m-2 1h2m-2 1h2m-2 0h2m-2 1h2m-2 0h2m-2 4h2m-2 0h2m-2 3h2m-2 2h2m-2 10h2m-2 0h2m-2 5h2m-2 0h2m-2 0h2m-2 4h2m-2 7h2m-2 0h2m-2 2h2m-2 3h2m-2 0h2m-2 1h2m-2 2h2m-2 0h2m-2 1h2m-2 1h2m-2 9h2m-2 1h2m-2 3h2m-2 0h2m-2 1h2m-2 0h2m-2 6h2m-2 8h2m-2 1h2m-2 5h2m-2 7h2m-2 3h2m-2 2h2m-2 4h2m-2 5h2m-2 3h2m-2 2h2m-2 1h2m-2 6h2m-2 2h2m-1-133h2m-2 1h2m-2 2h2m-2 0h2m-2 2h2m-2 3h2m-2 4h2m-2 1h2m-2 2h2m-2 1h2m-2 0h2m-2 0h2m-2 1h2m-2 14h2m-2 0h2m-2 1h2m-2 3h2m-2 1h2m-2 15h2m-2 3h2m-2 1h2m-2 3h2m-2 3h2m-2 3h2m-2 2h2m-2 1h2m-2 1h2m-2 0h2m-2 1h2m-2 1h2m-2 1h2m-2 0h2m-2 1h2m-2 4h2m-2 3h2m-2 4h2m-2 4h2m-2 1h2m-2 2h2m-2 9h2m-2 9h2m-2 3h2m-2 2h2m-2 0h2m-2 3h2m-2 0h2m-2 12h2m-2 0h2m-2 4h2m-2 3h2m-2 2h2m-2 2h2m-2 2h2m-2 8h2m-2 1h2m-1-161h2m-2 5h2m-2 6h2m-2 2h2m-2 2h2m-2 2h2m-2 2h2m-2 0h2m-2 5h2m-2 3h2m-2 5h2m-2 6h2m-2 1h2m-2 0h2m-2 1h2m-2 0h2m-2 5h2m-2 0h2m-2 3h2m-2 0h2m-2 1h2m-2 5h2m-2 4h2m-2 3h2m-2 4h2m-2 2h2m-2 1h2m-2 3h2m-2 1h2m-2 2h2m-2 0h2m-2 17h2m-2 3h2m-2 5h2m-2 1h2m-2 6h2m-2 1h2m-2 1h2m-2 0h2m-2 1h2m-2 0h2m-2 3h2m-2 1h2m-2 6h2m-2 1h2m-2 3h2m-2 0h2m-2 3h2m-2 0h2m-2 2h2m-2 2h2m-2 2h2m-2 0h2m-2 5h2m-2 3h2m-1-141h2m-2 5h2m-2 18h2m-2 2h2m-2 2h2m-2 1h2m-2 2h2m-2 5h2m-2 1h2m-2 0h2m-2 1h2m-2 4h2m-2 3h2m-2 4h2m-2 3h2m-2 1h2m-2 3h2m-2 9h2m-2 1h2m-2 7h2m-2 3h2m-2 1h2m-2 7h2m-2 1h2m-2 4h2m-2 0h2m-2 1h2m-2 0h2m-2 5h2m-2 1h2m-2 2h2m-2 2h2m-2 0h2m-2 0h2m-2 4h2m-2 4h2m-2 1h2m-2 0h2m-2 2h2m-2 2h2m-2 3h2m-2 0h2m-2 2h2m-2 4h2m-2 1h2m-2 0h2m-2 4h2m-2 3h2m-2 3h2m-2 6h2m-1-124h2m-2 1h2m-2 3h2m-2 1h2m-2 0h2m-2 1h2m-2 4h2m-2 5h2m-2 3h2m-2 5h2m-2 0h2m-2 1h2m-2 6h2m-2 0h2m-2 2h2m-2 1h2m-2 3h2m-2 2h2m-2 4h2m-2 4h2m-2 3h2m-2 0h2m-2 0h2m-2 1h2m-2 2h2m-2 3h2m-2 1h2m-2 7h2m-2 2h2m-2 0h2m-2 2h2m-2 7h2m-2 4h2m-2 3h2m-2 8h2m-2 0h2m-2 1h2m-2 0h2m-2 6h2m-2 0h2m-2 1h2m-2 3h2m-2 4h2m-2 9h2m-2 1h2m-2 1h2m-2 1h2m-1-116h2m-2 4h2m-2 4h2m-2 2h2m-2 1h2m-2 0h2m-2 1h2m-2 3h2m-2 1h2m-2 1h2m-2 7h2m-2 2h2m-2 7h2m-2 5h2m-2 1h2m-2 3h2m-2 0h2m-2 8h2m-2 0h2m-2 2h2m-2 8h2m-2 2h2m-2 4h2m-2 1h2m-2 1h2m-2 0h2m-2 2h2m-2 1h2m-2 3h2m-2 2h2m-2 19h2m-2 6h2m-2 2h2m-2 0h2m-2 2h2m-2 2h2m-2 2h2m-2 1h2m-2 0h2m-2 9h2m-1-130h2m-2 2h2m-2 1h2m-2 5h2m-2 2h2m-2 0h2m-2 0h2m-2 4h2m-2 2h2m-2 2h2m-2 1h2m-2 5h2m-2 8h2m-2 2h2m-2 0h2m-2 0h2m-2 2h2m-2 8h2m-2 1h2m-2 0h2m-2 0h2m-2 3h2m-2 2h2m-2 9h2m-2 1h2m-2 1h2m-2 5h2m-2 3h2m-2 3h2m-2 3h2m-2 3h2m-2 1h2m-2 2h2m-2 0h2m-2 5h2m-2 20h2m-2 0h2m-2 0h2m-2 1h2m-2 2h2m-2 7h2m-2 1h2m-2 2h2m-2 3h2m-2 7h2m-1-128h2m-2 6h2m-2 2h2m-2 2h2m-2 2h2m-2 3h2m-2 0h2m-2 3h2m-2 0h2m-2 4h2m-2 3h2m-2 9h2m-2 4h2m-2 1h2m-2 0h2m-2 4h2m-2 5h2m-2 4h2m-2 6h2m-2 3h2m-2 1h2m-2 1h2m-2 1h2m-2 2h2m-2 0h2m-2 6h2m-2 1h2m-2 1h2m-2 0h2m-2 9h2m-2 2h2m-2 3h2m-2 1h2m-2 2h2m-2 2h2m-2 1h2m-2 2h2m-2 8h2m-2 1h2m-2 0h2m-2 0h2m-2 1h2m-2 8h2m-2 1h2m-2 1h2m-2 7h2m-2 4h2m-2 1h2m-1-132h2m-2 7h2m-2 7h2m-2 4h2m-2 4h2m-2 0h2m-2 3h2m-2 6h2m-2 5h2m-2 0h2m-2 2h2m-2 2h2m-2 1h2m-2 2h2m-2 1h2m-2 2h2m-2 3h2m-2 0h2m-2 4h2m-2 0h2m-2 3h2m-2 4h2m-2 2h2m-2 1h2m-2 2h2m-2 1h2m-2 0h2m-2 1h2m-2 1h2m-2 1h2m-2 7h2m-2 0h2m-2 2h2m-2 4h2m-2 1h2m-2 10h2m-2 8h2m-2 4h2m-2 1h2m-2 1h2m-2 7h2m-2 1h2m-2 1h2m-2 2h2m-2 1h2m-2 8h2m-2 0h2m-2 12h2m-2 1h2m-1-138h2m-2 20h2m-2 2h2m-2 1h2m-2 5h2m-2 5h2m-2 1h2m-2 0h2m-2 1h2m-2 2h2m-2 2h2m-2 0h2m-2 4h2m-2 0h2m-2 7h2m-2 3h2m-2 0h2m-2 1h2m-2 4h2m-2 3h2m-2 2h2m-2 2h2m-2 1h2m-2 2h2m-2 0h2m-2 2h2m-2 11h2m-2 0h2m-2 2h2m-2 0h2m-2 2h2m-2 8h2m-2 4h2m-2 1h2m-2 2h2m-2 1h2m-2 1h2m-2 2h2m-2 6h2m-2 1h2m-2 4h2m-2 5h2m-2 0h2m-2 1h2m-2 3h2m-2 2h2m-2 3h2m-2 2h2m-2 5h2m-2 1h2m-2 13h2m-2 0h2m-2 2h2m-2 3h2m-2 6h2m-1-156h2m-2 4h2m-2 1h2m-2 0h2m-2 1h2m-2 6h2m-2 3h2m-2 1h2m-2 0h2m-2 5h2m-2 0h2m-2 5h2m-2 3h2m-2 1h2m-2 1h2m-2 6h2m-2 2h2m-2 2h2m-2 0h2m-2 0h2m-2 1h2m-2 7h2m-2 4h2m-2 3h2m-2 1h2m-2 0h2m-2 4h2m-2 2h2m-2 1h2m-2 0h2m-2 3h2m-2 0h2m-2 1h2m-2 4h2m-2 3h2m-2 1h2m-2 1h2m-2 2h2m-2 5h2m-2 0h2m-2 3h2m-2 3h2m-2 3h2m-2 11h2m-2 4h2m-2 3h2m-2 1h2m-2 1h2m-2 7h2m-2 4h2m-2 4h2m-1-127h2m-2 5h2m-2 3h2m-2 2h2m-2 5h2m-2 5h2m-2 1h2m-2 1h2m-2 5h2m-2 2h2m-2 0h2m-2 1h2m-2 11h2m-2 9h2m-2 2h2m-2 3h2m-2 7h2m-2 1h2m-2 1h2m-2 0h2m-2 0h2m-2 2h2m-2 1h2m-2 1h2m-2 10h2m-2 0h2m-2 1h2m-2 13h2m-2 2h2m-2 2h2m-2 2h2m-2 0h2m-2 1h2m-2 1h2m-2 0h2m-2 3h2m-2 3h2m-2 1h2m-2 6h2m-2 1h2m-2 3h2m-2 4h2m-1-117h2m-2 7h2m-2 2h2m-2 0h2m-2 1h2m-2 0h2m-2 0h2m-2 1h2m-2 0h2m-2 2h2m-2 6h2m-2 2h2m-2 3h2m-2 1h2m-2 0h2m-2 6h2m-2 4h2m-2 3h2m-2 1h2m-2 1h2m-2 1h2m-2 1h2m-2 10h2m-2 2h2m-2 1h2m-2 5h2m-2 1h2m-2 0h2m-2 1h2m-2 1h2m-2 4h2m-2 8h2m-2 1h2m-2 2h2m-2 2h2m-2 2h2m-2 4h2m-2 0h2m-2 2h2m-2 4h2m-2 1h2m-2 5h2m-2 1h2m-2 1h2m-2 0h2m-2 1h2m-2 1h2m-2 6h2m-1-107h2m-2 12h2m-2 8h2m-2 3h2m-2 2h2m-2 2h2m-2 0h2m-2 3h2m-2 1h2m-2 1h2m-2 2h2m-2 5h2m-2 4h2m-2 4h2m-2 0h2m-2 9h2m-2 3h2m-2 0h2m-2 3h2m-2 2h2m-2 9h2m-2 0h2m-2 0h2m-2 3h2m-2 2h2m-2 1h2m-2 2h2m-2 3h2m-2 6h2m-2 1h2m-2 2h2m-2 8h2m-2 1h2m-2 1h2m-2 2h2m-2 0h2m-2 3h2m-1-112h2m-2 0h2m-2 4h2m-2 8h2m-2 6h2m-2 1h2m-2 1h2m-2 1h2m-2 3h2m-2 1h2m-2 0h2m-2 1h2m-2 3h2m-2 3h2m-2 1h2m-2 1h2m-2 2h2m-2 2h2m-2 0h2m-2 2h2m-2 2h2m-2 1h2m-2 4h2m-2 0h2m-2 5h2m-2 0h2m-2 4h2m-2 7h2m-2 2h2m-2 3h2m-2 8h2m-2 1h2m-2 2h2m-2 3h2m-2 1h2m-2 9h2m-2 3h2m-2 3h2m-2 6h2m-2 1h2m-2 1h2m-2 5h2m-2 3h2m-2 2h2m-2 1h2m-2 1h2m-2 1h2m-2 1h2m-1-121h2m-2 1h2m-2 3h2m-2 5h2m-2 2h2m-2 1h2m-2 0h2m-2 7h2m-2 0h2m-2 3h2m-2 3h2m-2 1h2m-2 1h2m-2 1h2m-2 0h2m-2 5h2m-2 0h2m-2 1h2m-2 2h2m-2 3h2m-2 4h2m-2 3h2m-2 0h2m-2 0h2m-2 3h2m-2 2h2m-2 7h2m-2 1h2m-2 3h2m-2 1h2m-2 6h2m-2 0h2m-2 5h2m-2 4h2m-2 2h2m-2 4h2m-2 1h2m-2 2h2m-2 4h2m-2 2h2m-2 0h2m-2 4h2m-2 12h2m-2 1h2m-2 6h2m-1-116h2m-2 1h2m-2 2h2m-2 7h2m-2 0h2m-2 1h2m-2 1h2m-2 3h2m-2 2h2m-2 1h2m-2 0h2m-2 1h2m-2 8h2m-2 1h2m-2 5h2m-2 2h2m-2 7h2m-2 0h2m-2 0h2m-2 4h2m-2 1h2m-2 1h2m-2 6h2m-2 3h2m-2 4h2m-2 1h2m-2 5h2m-2 2h2m-2 2h2m-2 2h2m-2 1h2m-2 4h2m-2 1h2m-2 7h2m-2 2h2m-2 1h2m-2 5h2m-2 2h2m-2 5h2m-2 3h2m-2 2h2m-2 2h2m-2 6h2m-2 6h2m-2 1h2m-2 4h2m-2 1h2m-2 3h2m-2 5h2m-2 5h2m-2 4h2m-2 1h2m-2 0h2m-2 1h2m-2 2h2m-2 1h2m-1-152h2m-2 5h2m-2 2h2m-2 0h2m-2 5h2m-2 1h2m-2 3h2m-2 5h2m-2 5h2m-2 2h2m-2 9h2m-2 3h2m-2 1h2m-2 4h2m-2 2h2m-2 1h2m-2 3h2m-2 5h2m-2 6h2m-2 7h2m-2 1h2m-2 2h2m-2 3h2m-2 1h2m-2 5h2m-2 1h2m-2 1h2m-2 3h2m-2 3h2m-2 2h2m-2 3h2m-2 2h2m-2 1h2m-2 2h2m-2 3h2m-2 1h2m-2 0h2m-2 3h2m-2 1h2m-2 1h2m-2 6h2m-2 1h2m-2 6h2m-2 4h2m-2 1h2m-2 1h2m-2 0h2m-2 1h2m-2 2h2m-2 10h2m-1-119h2m-2 1h2m-2 2h2m-2 1h2m-2 4h2m-2 1h2m-2 1h2m-2 5h2m-2 1h2m-2 6h2m-2 1h2m-2 1h2m-2 15h2m-2 0h2m-2 0h2m-2 2h2m-2 6h2m-2 2h2m-2 0h2m-2 6h2m-2 2h2m-2 0h2m-2 3h2m-2 1h2m-2 2h2m-2 3h2m-2 3h2m-2 6h2m-2 15h2m-2 1h2m-2 0h2m-2 7h2m-2 4h2m-2 2h2m-2 1h2m-2 2h2m-2 3h2m-2 6h2m-2 6h2m-2 3h2m-2 8h2m-2 1h2m-1-146h2m-2 1h2m-2 0h2m-2 3h2m-2 1h2m-2 4h2m-2 1h2m-2 1h2m-2 0h2m-2 1h2m-2 1h2m-2 7h2m-2 0h2m-2 6h2m-2 0h2m-2 2h2m-2 3h2m-2 0h2m-2 2h2m-2 1h2m-2 2h2m-2 1h2m-2 8h2m-2 1h2m-2 2h2m-2 0h2m-2 1h2m-2 0h2m-2 2h2m-2 9h2m-2 8h2m-2 0h2m-2 8h2m-2 0h2m-2 3h2m-2 1h2m-2 5h2m-2 5h2m-2 1h2m-2 3h2m-2 3h2m-2 4h2m-2 4h2m-2 0h2m-2 1h2m-2 1h2m-2 4h2m-2 3h2m-2 3h2m-2 1h2m-2 6h2m-2 1h2m-2 0h2m-2 0h2m-2 3h2m-2 11h2m-2 3h2m-2 1h2m-2 6h2m-1-150h2m-2 10h2m-2 1h2m-2 5h2m-2 15h2m-2 0h2m-2 0h2m-2 2h2m-2 4h2m-2 3h2m-2 0h2m-2 0h2m-2 2h2m-2 2h2m-2 3h2m-2 10h2m-2 1h2m-2 2h2m-2 1h2m-2 0h2m-2 1h2m-2 1h2m-2 0h2m-2 0h2m-2 3h2m-2 1h2m-2 5h2m-2 3h2m-2 1h2m-2 1h2m-2 2h2m-2 1h2m-2 10h2m-2 0h2m-2 2h2m-2 1h2m-2 4h2m-2 6h2m-2 4h2m-2 1h2m-2 0h2m-2 4h2m-1-112h2m-2 0h2m-2 2h2m-2 3h2m-2 1h2m-2 1h2m-2 1h2m-2 5h2m-2 2h2m-2 1h2m-2 5h2m-2 1h2m-2 4h2m-2 6h2m-2 4h2m-2 5h2m-2 1h2m-2 1h2m-2 1h2m-2 0h2m-2 1h2m-2 5h2m-2 2h2m-2 5h2m-2 2h2m-2 10h2m-2 0h2m-2 4h2m-2 2h2m-2 3h2m-2 0h2m-2 3h2m-2 4h2m-2 4h2m-2 6h2m-2 0h2m-2 0h2m-2 3h2m-2 15h2m-2 1h2m-1-100h2m-2 0h2m-2 1h2m-2 0h2m-2 13h2m-2 0h2m-2 5h2m-2 1h2m-2 2h2m-2 0h2m-2 1h2m-2 2h2m-2 4h2m-2 1h2m-2 1h2m-2 1h2m-2 4h2m-2 1h2m-2 1h2m-2 1h2m-2 3h2m-2 0h2m-2 2h2m-2 2h2m-2 1h2m-2 2h2m-2 2h2m-2 1h2m-2 0h2m-2 2h2m-2 2h2m-2 2h2m-2 2h2m-2 1h2m-2 1h2m-2 1h2m-2 1h2m-2 6h2m-2 4h2m-2 5h2m-2 1h2m-2 2h2m-2 3h2m-2 4h2m-2 5h2m-1-109h2m-2 2h2m-2 4h2m-2 2h2m-2 2h2m-2 0h2m-2 1h2m-2 2h2m-2 6h2m-2 9h2m-2 5h2m-2 8h2m-2 1h2m-2 3h2m-2 0h2m-2 4h2m-2 4h2m-2 2h2m-2 1h2m-2 6h2m-2 11h2m-2 6h2m-2 1h2m-2 0h2m-2 2h2m-2 0h2m-2 1h2m-2 0h2m-2 0h2m-2 2h2m-2 7h2m-2 2h2m-2 10h2m-2 1h2m-2 5h2m-2 0h2m-2 3h2m-1-116h2m-2 5h2m-2 8h2m-2 3h2m-2 1h2m-2 0h2m-2 0h2m-2 0h2m-2 1h2m-2 0h2m-2 1h2m-2 1h2m-2 1h2m-2 2h2m-2 3h2m-2 0h2m-2 4h2m-2 2h2m-2 1h2m-2 1h2m-2 1h2m-2 1h2m-2 12h2m-2 2h2m-2 0h2m-2 8h2m-2 10h2m-2 0h2m-2 1h2m-2 2h2m-2 5h2m-2 0h2m-2 3h2m-2 0h2m-2 3h2m-2 4h2m-2 4h2m-2 3h2m-2 0h2m-2 1h2m-2 3h2m-2 1h2m-2 1h2m-2 1h2m-2 5h2m-2 1h2m-2 3h2m-2 0h2m-2 1h2m-2 1h2m-2 3h2m-2 1h2m-2 3h2m-2 1h2m-2 19h2m-2 2h2m-2 4h2m-2 3h2m-2 1h2m-2 4h2m-2 1h2m-1-165h2m-2 12h2m-2 3h2m-2 5h2m-2 1h2m-2 7h2m-2 1h2m-2 2h2m-2 9h2m-2 1h2m-2 0h2m-2 1h2m-2 4h2m-2 1h2m-2 6h2m-2 0h2m-2 6h2m-2 1h2m-2 2h2m-2 1h2m-2 1h2m-2 0h2m-2 0h2m-2 2h2m-2 0h2m-2 0h2m-2 3h2m-2 8h2m-2 1h2m-2 0h2m-2 7h2m-2 0h2m-2 2h2m-2 3h2m-2 4h2m-2 4h2m-2 3h2m-2 4h2m-2 8h2m-2 4h2m-2 1h2m-2 6h2m-2 0h2m-2 1h2m-2 2h2m-2 1h2m-2 6h2m-2 4h2m-2 5h2m-2 4h2m-2 3h2m-2 2h2m-2 1h2m-2 1h2m-2 6h2m-1-138h2m-2 2h2m-2 3h2m-2 1h2m-2 3h2m-2 4h2m-2 0h2m-2 2h2m-2 0h2m-2 12h2m-2 0h2m-2 2h2m-2 2h2m-2 3h2m-2 1h2m-2 9h2m-2 2h2m-2 1h2m-2 0h2m-2 0h2m-2 5h2m-2 5h2m-2 0h2m-2 3h2m-2 3h2m-2 2h2m-2 1h2m-2 1h2m-2 4h2m-2 1h2m-2 1h2m-2 1h2m-2 2h2m-2 1h2m-2 0h2m-2 1h2m-2 1h2m-2 1h2m-2 2h2m-2 1h2m-2 17h2m-2 7h2m-2 1h2m-2 0h2m-2 6h2m-2 5h2m-2 2h2m-2 1h2m-2 17h2m-2 4h2m-2 0h2m-1-147h2m-2 1h2m-2 3h2m-2 5h2m-2 1h2m-2 0h2m-2 6h2m-2 1h2m-2 2h2m-2 3h2m-2 7h2m-2 3h2m-2 2h2m-2 1h2m-2 1h2m-2 2h2m-2 5h2m-2 0h2m-2 13h2m-2 2h2m-2 0h2m-2 5h2m-2 1h2m-2 3h2m-2 1h2m-2 4h2m-2 3h2m-2 3h2m-2 2h2m-2 1h2m-2 0h2m-2 2h2m-2 1h2m-2 3h2m-2 2h2m-2 2h2m-2 2h2m-2 1h2m-2 2h2m-2 3h2m-2 0h2m-2 2h2m-2 1h2m-2 0h2m-2 4h2m-2 3h2m-2 3h2m-2 3h2m-2 12h2m-2 1h2m-2 5h2m-2 6h2m-2 6h2m-1-146h2m-2 1h2m-2 2h2m-2 1h2m-2 4h2m-2 0h2m-2 2h2m-2 1h2m-2 1h2m-2 0h2m-2 3h2m-2 2h2m-2 1h2m-2 4h2m-2 0h2m-2 4h2m-2 1h2m-2 10h2m-2 0h2m-2 10h2m-2 2h2m-2 4h2m-2 8h2m-2 2h2m-2 1h2m-2 7h2m-2 1h2m-2 6h2m-2 6h2m-2 1h2m-2 0h2m-2 0h2m-2 1h2m-2 1h2m-2 4h2m-2 1h2m-2 8h2m-2 3h2m-2 3h2m-2 3h2m-2 1h2m-2 0h2m-2 1h2m-2 5h2m-2 1h2m-2 0h2m-2 1h2m-2 7h2m-1-125h2m-2 4h2m-2 2h2m-2 3h2m-2 3h2m-2 3h2m-2 3h2m-2 1h2m-2 11h2m-2 1h2m-2 1h2m-2 0h2m-2 1h2m-2 4h2m-2 2h2m-2 7h2m-2 2h2m-2 2h2m-2 1h2m-2 4h2m-2 5h2m-2 1h2m-2 5h2m-2 0h2m-2 4h2m-2 3h2m-2 0h2m-2 1h2m-2 1h2m-2 5h2m-2 2h2m-2 4h2m-2 1h2m-2 12h2m-2 0h2m-2 1h2m-2 3h2m-2 3h2m-2 0h2m-2 10h2m-2 4h2m-2 5h2m-2 1h2m-1-123h2m-2 1h2m-2 0h2m-2 0h2m-2 0h2m-2 2h2m-2 0h2m-2 2h2m-2 4h2m-2 3h2m-2 9h2m-2 5h2m-2 2h2m-2 1h2m-2 2h2m-2 4h2m-2 4h2m-2 2h2m-2 2h2m-2 6h2m-2 1h2m-2 0h2m-2 1h2m-2 0h2m-2 6h2m-2 1h2m-2 2h2m-2 2h2m-2 6h2m-2 4h2m-2 3h2m-2 7h2m-2 7h2m-2 2h2m-2 0h2m-2 1h2m-2 0h2m-2 1h2m-2 1h2m-2 10h2m-2 6h2m-1-114h2m-2 5h2m-2 1h2m-2 0h2m-2 2h2m-2 5h2m-2 8h2m-2 1h2m-2 5h2m-2 10h2m-2 1h2m-2 0h2m-2 2h2m-2 1h2m-2 2h2m-2 3h2m-2 0h2m-2 3h2m-2 1h2m-2 0h2m-2 2h2m-2 6h2m-2 4h2m-2 3h2m-2 7h2m-2 4h2m-2 1h2m-2 0h2m-2 0h2m-2 0h2m-2 3h2m-2 1h2m-2 7h2m-2 1h2m-2 2h2m-2 1h2m-2 0h2m-2 4h2m-2 8h2m-2 5h2m-2 2h2m-2 1h2m-1-115h2m-2 3h2m-2 5h2m-2 1h2m-2 4h2m-2 4h2m-2 6h2m-2 1h2m-2 0h2m-2 1h2m-2 9h2m-2 1h2m-2 1h2m-2 3h2m-2 2h2m-2 3h2m-2 0h2m-2 2h2m-2 1h2m-2 1h2m-2 5h2m-2 4h2m-2 3h2m-2 1h2m-2 3h2m-2 1h2m-2 1h2m-2 5h2m-2 4h2m-2 1h2m-2 2h2m-2 0h2m-2 3h2m-2 2h2m-2 5h2m-2 2h2m-2 6h2m-2 0h2m-2 2h2m-2 3h2m-2 3h2m-2 3h2m-2 2h2m-2 1h2m-2 9h2m-2 1h2m-2 10h2m-1-132h2m-2 3h2m-2 3h2m-2 1h2m-2 1h2m-2 8h2m-2 4h2m-2 2h2m-2 1h2m-2 1h2m-2 2h2m-2 0h2m-2 4h2m-2 1h2m-2 3h2m-2 6h2m-2 0h2m-2 3h2m-2 0h2m-2 2h2m-2 1h2m-2 1h2m-2 2h2m-2 4h2m-2 0h2m-2 1h2m-2 4h2m-2 3h2m-2 3h2m-2 14h2m-2 6h2m-2 7h2m-2 4h2m-2 1h2m-2 8h2m-2 0h2m-2 2h2m-2 4h2m-2 1h2m-2 0h2m-2 0h2m-2 4h2m-2 1h2m-2 9h2m-2 6h2" stroke="#00b050" stroke-width="2.6" fill="none"/>
<path transform="scale(.5)" d="M517 572h3m-1-310h3m-2 4h3m-3 326h3m1-86h3m5 26h3m5-42h3m7-10h3m143-239h3m13 13h3m-2 3h3m19-2h3m165-1h3m-2 3h3m-1 2h3m61-139h3m-3 7h3m-2-11h3m-3 9h3m-3 12h3m-3 2h3m-2-26h3m-3 10h3m-3 2h3m-3 4h3m-3 1h3m-3 1h3m-3 8h3m-2-23h3m-3 2h3m-3 1h3m-3 1h3m-3 4h3m-3 0h3m-3 3h3m-3 1h3m-3 2h3m-3 10h3m-3 4h3m-2-32h3m-3 3h3m-3 0h3m-3 0h3m-3 7h3m-3 4h3m-3 2h3m-3 7h3m-3 4h3m-3 1h3m-3 1h3m-3 5h3m-3 1h3m-3 2h3m-3 0h3m-3 9h3m-3 3h3m-2-48h3m-3 9h3m-3 6h3m-3 3h3m-3 0h3m-3 3h3m-3 8h3m-3 3h3m-3 2h3m-3 6h3m-3 3h3m-3 4h3m-3 5h3m-2-53h3m-3 2h3m-3 3h3m-3 5h3m-3 2h3m-3 6h3m-3 7h3m-3 12h3m-3 1h3m-3 1h3m-2-39h3m-3 4h3m-3 17h3m-3 2h3m-3 8h3m-3 3h3m-3 6h3m-2-40h3m-3 7h3m-3 3h3m-3 3h3m-3 2h3m-3 1h3m-3 1h3m-3 5h3m-3 6h3m-3 0h3m-3 8h3m-2-49h3m-3 8h3m-3 4h3m-3 1h3m-3 0h3m-3 3h3m-3 4h3m-3 6h3m-3 7h3m-3 2h3m-3 12h3m-2-46h3m-3 3h3m-3 1h3m-3 22h3m-3 4h3m-3 5h3m-3 5h3m-3 3h3m-3 8h3m-3 2h3m-3 3h3m-2-61h3m-3 2h3m-3 15h3m-3 4h3m-3 0h3m-3 0h3m-3 4h3m-3 17h3m-3 0h3m-3 2h3m-3 2h3m-3 3h3m-3 1h3m-3 0h3m-3 1h3m-3 0h3m-3 6h3m-2-46h3m-3 2h3m-3 2h3m-3 0h3m-3 5h3m-3 7h3m-3 1h3m-3 5h3m-3 4h3m-3 2h3m-3 5h3m-3 4h3m-3 4h3m-3 2h3m-3 10h3m-3 1h3m-3 3h3m-3 3h3m-3 2h3m-3 0h3m-3 3h3m-3 1h3m-3 2h3m-3 6h3m-3 2h3m-3 2h3m-3 10h3m-2-90h3m-3 2h3m-3 2h3m-3 13h3m-3 1h3m-3 3h3m-3 7h3m-3 1h3m-3 1h3m-3 6h3m-3 6h3m-3 1h3m-3 5h3m-3 11h3m-3 3h3m-3 13h3m-3 0h3m-3 7h3m-3 1h3m-3 0h3m-3 2h3m-3 3h3m-3 8h3m-3 1h3m-3 3h3m-2-92h3m-3 5h3m-3 17h3m-3 7h3m-3 0h3m-3 0h3m-3 1h3m-3 2h3m-3 3h3m-3 0h3m-3 0h3m-3 2h3m-3 2h3m-3 1h3m-3 5h3m-3 1h3m-3 5h3m-3 9h3m-3 1h3m-3 4h3m-3 0h3m-3 15h3m-3 3h3m-2-83h3m-3 1h3m-3 1h3m-3 1h3m-3 7h3m-3 8h3m-3 9h3m-3 1h3m-3 4h3m-3 1h3m-3 2h3m-3 1h3m-3 3h3m-3 3h3m-3 8h3m-3 0h3m-3 0h3m-3 6h3m-3 14h3m-3 8h3m-2-72h3m-3 17h3m-3 5h3m-3 1h3m-3 1h3m-3 0h3m-3 2h3m-3 4h3m-3 1h3m-3 2h3m-3 7h3m-3 1h3m-3 1h3m-3 7h3m-3 3h3m-3 4h3m-3 2h3m-3 2h3m-2-73h3m-3 2h3m-3 3h3m-3 4h3m-3 4h3m-3 2h3m-3 1h3m-3 12h3m-3 5h3m-3 1h3m-3 2h3m-3 1h3m-3 1h3m-3 1h3m-3 3h3m-3 0h3m-3 3h3m-3 0h3m-3 1h3m-3 3h3m-3 1h3m-3 4h3m-2-59h3m-3 18h3m-3 0h3m-3 6h3m-3 2h3m-3 3h3m-3 4h3m-3 6h3m-3 6h3m-3 5h3m-3 1h3m-3 2h3m-3 1h3m-3 5h3m-2-60h3m-3 2h3m-3 2h3m-3 1h3m-3 14h3m-3 0h3m-3 11h3m-3 8h3m-3 1h3m-3 4h3m-3 5h3m-3 1h3m-3 4h3m-3 2h3m-3 2h3m-2-50h3m-3 9h3m-3 8h3m-3 12h3m-3 9h3m-3 4h3m-3 1h3m-3 1h3m-3 10h3m-3 3h3m-2-61h3m-3 2h3m-3 0h3m-3 7h3m-3 5h3m-3 2h3m-3 3h3m-3 1h3m-3 2h3m-3 4h3m-3 0h3m-3 7h3m-3 1h3m-3 2h3m-3 2h3m-3 9h3m-3 1h3m-3 15h3m-3 2h3m-2-62h3m-3 4h3m-3 6h3m-3 2h3m-3 1h3m-3 15h3m-3 0h3m-3 0h3m-3 4h3m-3 13h3m-3 6h3m-2-52h3m-3 15h3m-3 9h3m-3 3h3m-3 1h3m-3 17h3m-3 1h3m-2-23h3m-3 0h3m-3 6h3m-3 10h3m-3 3h3m-3 0h3m-3 1h3m-2-46h3m-3 0h3m-3 12h3m-3 6h3m-3 1h3m-3 0h3m-3 8h3m-3 1h3m-3 1h3m-3 0h3m-3 6h3m-3 5h3m-3 2h3m-3 4h3m-3 3h3m-3 1h3m-3 13h3m-2-67h3m-3 4h3m-3 2h3m-3 2h3m-3 9h3m-3 1h3m-3 0h3m-3 1h3m-3 3h3m-3 3h3m-3 1h3m-3 14h3m-3 7h3m-3 5h3m-3 1h3m-3 4h3m-3 2h3m-3 1h3m-3 2h3m-3 8h3m-3 6h3m-2-87h3m-3 6h3m-3 4h3m-3 4h3m-3 3h3m-3 2h3m-3 5h3m-3 2h3m-3 3h3m-3 9h3m-3 8h3m-3 11h3m-3 1h3m-3 2h3m-3 2h3m-3 1h3m-3 2h3m-3 3h3m-3 5h3m-3 2h3m-3 2h3m-3 0h3m-3 4h3m-3 4h3m-3 5h3m-2-96h3m-3 5h3m-3 1h3m-3 4h3m-3 7h3m-3 1h3m-3 1h3m-3 12h3m-3 3h3m-3 10h3m-3 9h3m-3 4h3m-3 2h3m-3 5h3m-3 4h3m-3 7h3m-3 19h3m-2-91h3m-3 4h3m-3 1h3m-3 18h3m-3 4h3m-3 1h3m-3 6h3m-3 2h3m-3 0h3m-3 0h3m-3 5h3m-3 9h3m-3 1h3m-3 0h3m-3 4h3m-3 1h3m-3 1h3m-3 2h3m-3 0h3m-3 3h3m-3 3h3m-3 3h3m-2-62h3m-3 2h3m-3 1h3m-3 0h3m-3 1h3m-3 1h3m-3 4h3m-3 1h3m-3 0h3m-3 0h3m-3 2h3m-3 3h3m-3 4h3m-3 2h3m-3 9h3m-3 25h3m-3 0h3m-3 5h3m-2-43h3m-3 27h3m-3 6h3m-3 0h3m-3 3h3m-3 3h3m-3 2h3m-3 10h3m-3 1h3m-2-56h3m-3 0h3m-3 5h3m-3 13h3m-3 20h3m-3 1h3m-3 3h3m-3 5h3m-3 3h3m-3 5h3m-3 2h3m-3 0h3m-3 3h3m-3 0h3m-3 4h3m-3 2h3m-3 1h3m-3 1h3m-3 1h3m-3 3h3m-3 0h3m-3 1h3m-3 1h3m-3 1h3m-2-84h3m-3 5h3m-3 20h3m-3 10h3m-3 8h3m-3 6h3m-3 3h3m-3 6h3m-3 4h3m-3 3h3m-3 3h3m-3 10h3m-3 11h3m-3 10h3m-2-102h3m-3 2h3m-3 2h3m-3 11h3m-3 2h3m-3 3h3m-3 3h3m-3 14h3m-3 14h3m-3 1h3m-3 0h3m-3 16h3m-3 5h3m-3 21h3m-3 3h3m-3 2h3m-3 0h3m-3 5h3m-3 3h3m-3 2h3m-2-111h3m-3 7h3m-3 8h3m-3 8h3m-3 4h3m-3 5h3m-3 2h3m-3 1h3m-3 1h3m-3 19h3m-3 3h3m-3 0h3m-3 7h3m-3 3h3m-3 4h3m-3 8h3m-3 4h3m-3 8h3m-3 7h3m-3 3h3m-3 7h3m-2-106h3m-3 5h3m-3 3h3m-3 7h3m-3 6h3m-3 20h3m-3 11h3m-3 1h3m-3 4h3m-3 3h3m-3 2h3m-3 0h3m-3 10h3m-3 3h3m-3 3h3m-3 8h3m-3 3h3m-2-83h3m-3 5h3m-3 1h3m-3 5h3m-3 10h3m-3 2h3m-3 1h3m-3 7h3m-3 8h3m-3 3h3m-3 11h3m-3 0h3m-3 2h3m-3 12h3m-2-70h3m-3 18h3m-3 8h3m-3 20h3m-3 0h3m-3 4h3m-3 4h3m-3 3h3m-2-59h3m-3 5h3m-3 17h3m-3 25h3m-2-55h3m-3 6h3m-3 3h3m-3 1h3m-3 1h3m-3 9h3m-3 2h3m-3 4h3m-3 9h3m-3 2h3m-3 4h3m-3 17h3m-3 8h3m-3 1h3m-2-72h3m-3 3h3m-3 9h3m-3 1h3m-3 1h3m-3 1h3m-3 13h3m-3 8h3m-3 1h3m-3 5h3m-3 14h3m-3 3h3m-3 0h3m-3 2h3m-3 6h3m-3 5h3m-2-69h3m-3 2h3m-3 23h3m-3 10h3m-3 5h3m-3 3h3m-3 17h3m-3 1h3m-3 3h3m-3 8h3m-3 3h3m-3 4h3m-3 1h3m-3 2h3m-2-89h3m-3 1h3m-3 5h3m-3 5h3m-3 1h3m-3 2h3m-3 5h3m-3 5h3m-3 6h3m-3 5h3m-3 0h3m-3 18h3m-3 11h3m-3 5h3m-3 3h3m-3 3h3m-3 4h3m-3 4h3m-2-71h3m-3 1h3m-3 3h3m-3 1h3m-3 8h3m-3 8h3m-3 5h3m-3 1h3m-3 22h3m-3 4h3m-3 2h3m-3 7h3m-2-46h3m-3 8h3m-3 9h3m-3 2h3m-3 3h3m-2-28h3m-3 4h3m-3 2h3m-3 3h3m-3 15h3m-3 2h3m-3 7h3m-3 2h3m-2-39h3m-3 2h3m-3 0h3m-3 1h3m-3 7h3m-3 4h3m-3 9h3m-3 19h3m-3 7h3m-3 10h3m-2-56h3m-3 22h3m-3 3h3m-3 1h3m-3 2h3m-3 7h3m-3 1h3m-3 4h3m-3 2h3m-3 9h3m-3 1h3m-3 3h3m-3 7h3m-3 13h3m-3 7h3m-3 3h3m-3 0h3m-3 1h3m-2-88h3m-3 3h3m-3 0h3m-3 30h3m-3 3h3m-3 4h3m-3 1h3m-3 1h3m-3 3h3m-3 3h3m-3 1h3m-3 5h3m-3 9h3m-3 5h3m-3 2h3m-3 1h3m-3 3h3m-3 1h3m-3 14h3m-3 2h3m-3 0h3m-3 5h3m-3 7h3m-2-100h3m-3 1h3m-3 6h3m-3 2h3m-3 17h3m-3 12h3m-3 11h3m-3 3h3m-3 1h3m-3 3h3m-3 8h3m-3 0h3m-3 5h3m-3 10h3m-3 1h3m-3 0h3m-3 7h3m-3 3h3m-3 1h3m-3 6h3m-3 2h3m-2-94h3m-3 5h3m-3 9h3m-3 1h3m-3 4h3m-3 2h3m-3 1h3m-3 7h3m-3 6h3m-3 1h3m-3 2h3m-3 1h3m-3 1h3m-3 11h3m-3 1h3m-3 5h3m-3 4h3m-3 1h3m-3 6h3m-3 1h3m-3 4h3m-3 0h3m-3 17h3m-2-95h3m-3 1h3m-3 3h3m-3 20h3m-3 6h3m-3 3h3m-3 7h3m-3 7h3m-3 6h3m-3 2h3m-3 4h3m-3 2h3m-3 2h3m-3 1h3m-3 10h3m-2-79h3m-3 1h3m-3 1h3m-3 7h3m-3 1h3m-3 0h3m-3 13h3m-3 2h3m-3 17h3m-3 7h3m-3 3h3m-3 1h3m-3 1h3m-3 8h3m-2-66h3m-3 8h3m-3 12h3m-3 6h3m-3 15h3m-3 8h3m-3 2h3m-3 9h3m-2-59h3m-3 4h3m-3 4h3m-3 9h3m-3 3h3m-3 12h3m-3 4h3m-3 3h3m-3 1h3m-3 2h3m-3 4h3m-3 7h3m-3 6h3m-3 5h3m-3 9h3m-3 1h3m-3 4h3m-3 7h3m-2-78h3m-3 11h3m-3 0h3m-3 4h3m-3 13h3m-3 14h3m-3 2h3m-3 2h3m-3 1h3m-3 3h3m-3 6h3m-3 9h3m-3 1h3m-3 10h3m-3 13h3m-3 2h3m-3 6h3m-3 3h3m-3 7h3m-2-99h3m-3 3h3m-3 6h3m-3 11h3m-3 0h3m-3 1h3m-3 3h3m-3 1h3m-3 9h3m-3 1h3m-3 1h3m-3 4h3m-3 3h3m-3 1h3m-3 2h3m-3 4h3m-3 1h3m-3 1h3m-3 0h3m-3 0h3m-3 4h3m-3 0h3m-3 3h3m-3 6h3m-3 6h3m-3 5h3m-3 3h3m-3 0h3m-3 4h3m-3 3h3m-3 3h3m-3 1h3m-3 4h3m-3 1h3m-2-97h3m-3 2h3m-3 17h3m-3 5h3m-3 5h3m-3 2h3m-3 11h3m-3 2h3m-3 4h3m-3 7h3m-3 7h3m-3 4h3m-3 4h3m-3 5h3m-3 0h3m-3 1h3m-3 1h3m-3 26h3m-2-80h3m-3 9h3m-3 2h3m-3 7h3m-3 15h3m-3 8h3m-3 5h3m-2-45h3m-3 3h3m-3 4h3m-3 2h3m27 44h3m-2-14h3m-3 1h3m-3 2h3m-3 2h3m-3 2h3m-2-7h3m-3 12h3m-3 7h3m-3 5h3m-3 2h3m-2-11h3m-3 3h3m-3 0h3m-3 1h3m-3 2h3m-2-1h3m-3 3h3m-3 3h3m-3 7h3m-2-16h3m-3 9h3m-3 1h3m-3 1h3m-3 0h3m-3 3h3m-3 4h3m-2-13h3m-3 7h3m-3 4h3m-3 7h3m-3 5h3m-2-15h3m-3 1h3m-3 1h3m-3 8h3m-3 3h3m-3 2h3m-3 6h3m-3 0h3m-2-4h3m-3 7h3m-3 3h3m-3 4h3m-2-14h3m-3 7h3m-3 3h3m-3 6h3m-3 1h3m-2-16h3m-3 3h3m-3 1h3m-3 1h3m-3 1h3m-3 1h3m-3 9h3m-3 1h3m-2-17h3m-3 11h3m-3 4h3m-2-25h3m-3 2h3m-3 2h3m-3 2h3m-3 2h3m-3 8h3m-3 2h3m-2-18h3m-3 7h3m-3 3h3m-3 0h3m-3 3h3m-3 3h3m-2-26h3m-3 1h3m-3 5h3m-3 3h3m-3 3h3m-3 7h3m-3 10h3m-2-21h3m-3 6h3m-3 1h3m-3 5h3m-3 1h3m-2-12h3m-3 5h3m-2-17h3m-3 4h3m-3 1h3m-3 3h3m-3 2h3m-3 1h3m-3 4h3m-3 0h3m-2-21h3m-3 3h3m-3 3h3m-3 3h3m-3 6h3m-3 2h3m-2-11h3m-3 2h3m-3 6h3m-3 1h3" stroke="#ff0000" stroke-width="2.6" fill="none"/>
<path transform="scale(.5)" d="M1025 102h3m-3 1h3m-3 1h3m-2-3h3m-3 4h3m-2-12h3m-3 5h3m-3 1h3m-3 1h3m-3 5h3m-1 0h3m-3 5h3m-2-15h3m-3 2h3m-3 12h3m-2-10h3m-3 2h3m-2-5h3m-3 5h3m-2 6h3m-3 2h3m-2-11h3m-3 5h3m-3 1h3m-2 3h3m-3 1h3m-3 0h3m-2-10h3m-3 13h3m-2-5h3m-3 1h3m-3 2h3m-2-6h3m-3 5h3m-2 4h3m-3 2h3m-2-7h3m-3 8h3m-2-10h3m-3 0h3m-3 5h3m-2-8h3m-3 5h3m-2 6h3m-3 2h3m-2-12h3m-3 5h3m-3 6h3m-2-8h3m-2 7h3m-3 1h3m-3 0h3m-2-6h3m-3 3h3m-3 1h3m-3 1h3m-3 4h3m-3 6h3m-1-7h3m-3 8h3m-2-11h3m-3 9h3m-3 4h3m-2-4h3m-2-11h3m-3 8h3m-3 6h3m-3 2h3m-2 3h3m-2-16h3m-3 4h3m-3 4h3m-2-2h3m-3 9h3m-2-12h3m-3 6h3m-3 3h3m-3 2h3m-3 3h3m-2-11h3m-3 10h3m-3 3h3m-3 1h3m-2 3h3m-2-5h3m-3 2h3m-2-11h3m-3 3h3m-3 3h3m-3 2h3m-2 1h3m-3 6h3m-2-11h3m-3 5h3m-3 3h3m-2-7h3m-3 8h3m-3 1h3m-3 1h3m-2 4h3m-2-13h3m-3 8h3m-3 2h3m-2 5h3m-3 2h3m-3 2h3m-2-10h3m-3 8h3m-3 8h3m-2-16h3m-3 6h3m-3 5h3m-2-8h3m-3 11h3m-3 6h3m-2-11h3m-3 1h3m-2-6h3m49-21h3m24 69h3m-3 26h3m18-76h3m-3 44h3m-2-36h3m-3 46h3m1-38h3m22 20h3m8 32h3m59-18h3m3-10h3" stroke="#ff0000" stroke-width="2.8" fill="none"/>
<path transform="scale(.5)" d="M513 430h2m-2 3h2m-1-10h2m-2 13h2m-1-7h2m-1-6h2m-2 15h2m-2 10h2m-1-22h2m-2 21h2m-2 16h2m-1-20h2m-2 21h2m-1-34h2m-2 0h2m-2 12h2m-1-12h2m-2 7h2m-2 13h2m-2 5h2m-2 88h2m0-118h2m-2 0h2m-2 0h2m-2 28h2m-1-29h2m-2 1h2m-2 13h2m-2 26h2m-2 3h2m0-39h2m-2 13h2m-2 9h2m-2 4h2m-1-30h2m-2 3h2m-2 9h2m-1 42h2m-1-35h2m-2 31h2m-2 28h2m-1-79h2m-2 5h2m-2 13h2m-2 3h2m-2 11h2m-1 45h2m-1-76h2m-1 7h2m-2 6h2m-2 10h2m-2 21h2m-1-41h2m-2 11h2m-1 32h2m-1-46h2m-2 20h2m-2 10h2m-2 1h2m-2 7h2m0-25h2m-2 3h2m-2 22h2m-2 40h2m-1-78h2m-2 36h2m-2 12h2m-2 4h2m-1-47h2m-2 26h2m-1 34h2m-1-66h2m-2 21h2m-2 23h2m-2 14h2m-2 6h2m-2 14h2m-1-71h2m-2 2h2m-1 14h2m-1-6h2m-2 32h2m-1-47h2m-2 8h2m-2 10h2m-2 7h2m-2 66h2m-1-81h2m-1-9h2m-2 20h2m-2 24h2m-2 59h2m-1-98h2m-2 4h2m-2 17h2m-1-27h2m-1 9h2m-2 4h2m-2 5h2m-2 35h2m-2 25h2m-1-44h2m-2 10h2m-1-18h2m-2 34h2m-2 86h2m-1-146h2m-2 13h2m-2 60h2m-1-61h2m-2 54h2m-1-3h2m-2 7h2m128-37h2m-2 71h2m-2 6h2m-1-100h2m-2 55h2m-2 1h2m-2 16h2m-2 14h2m-2 1h2m-2 7h2m-2 24h2m-2 3h2m-2 5h2m-2 1h2m-2 16h2m-1-126h2m-2 20h2m-2 52h2m-2 17h2m-1-96h2m-2 7h2m-2 7h2m-2 2h2m-2 4h2m-2 13h2m-2 27h2m-2 4h2m-2 8h2m-2 1h2m-2 24h2m-2 4h2m-1-81h2m-2 1h2m-2 13h2m-2 20h2m-2 5h2m-2 12h2m-2 17h2m-2 2h2m-1-103h2m-2 11h2m-2 4h2m-2 7h2m-2 26h2m-2 19h2m-2 6h2m-2 25h2m-2 6h2m-1-108h2m-2 2h2m-2 7h2m-2 6h2m-2 4h2m-2 4h2m-2 88h2m-1-97h2m-2 7h2m-2 36h2m-2 3h2m-2 8h2m-1-42h2m-2 6h2m-2 2h2m-2 13h2m-2 12h2m-2 0h2m-1-56h2m-2 3h2m-2 11h2m-2 4h2m-2 53h2m-2 4h2m-2 1h2m-2 5h2m-2 17h2m-1-73h2m-2 0h2m-2 0h2m-2 36h2m-2 32h2m-1-96h2m-2 24h2m-2 9h2m-2 6h2m-1-29h2m-2 26h2m-2 24h2m-2 17h2m-2 16h2m-1-65h2m-2 56h2m-2 9h2m-1-87h2m-2 0h2m-2 9h2m-2 6h2m-2 18h2m-2 3h2m-2 13h2m-2 7h2m-2 10h2m-1-54h2m-2 3h2m-2 11h2m-2 4h2m-2 14h2m-2 5h2m-1-52h2m-2 8h2m-2 13h2m-2 23h2m-2 32h2m-1-74h2m-2 18h2m-2 15h2m-2 9h2m-2 23h2m-2 15h2m-2 11h2m-1-78h2m-2 14h2m-2 1h2m-2 1h2m-2 33h2m-1-65h2m-2 27h2m-2 84h2m-1-106h2m-2 6h2m-2 25h2m0-39h2m-2 40h2m-2 1h2m-2 13h2m-2 3h2m-1-50h2m-1 6h2m-2 7h2m-2 11h2m-2 9h2m-1-38h2m-2 14h2m-2 11h2m-1 15h2m-2 2h2m-2 43h2m-2 11h2m-1-89h2m-2 6h2m-2 2h2m-2 15h2m-2 11h2m-2 4h2m-2 20h2m-2 12h2m-2 14h2m-2 18h2m-1-103h2m-2 10h2m-2 10h2m-2 7h2m-2 9h2m-2 39h2m-2 12h2m-1-90h2m-2 9h2m-2 5h2m-2 7h2m-2 27h2m-2 37h2m-2 21h2m-1-96h2m-2 5h2m-2 22h2m-2 21h2m-1-65h2m-2 20h2m-2 11h2m-2 5h2m-2 31h2m-2 8h2m-2 38h2m-1-104h2m-2 6h2m-2 9h2m-2 1h2m-2 31h2m-1-51h2m-2 20h2m-2 4h2m-2 5h2m-2 9h2m-2 11h2m-2 14h2m-2 14h2m-1-42h2m-2 9h2m-1-38h2m-2 43h2m-2 48h2m-1-96h2m-2 2h2m-2 9h2m-2 42h2m-1-56h2m-2 36h2m-2 13h2m-2 11h2m-1-58h2m-2 4h2m-2 7h2m-2 30h2m98 25h2m-1-26h2m-2 3h2m-2 17h2m-2 3h2m-1-2h2m-2 6h2m-1-10h2m-2 4h2m-2 1h2m-2 10h2m0-37h2m-2 14h2m-2 6h2m-2 4h2m-1-28h2m-2 16h2m-2 11h2m-1-34h2m-2 32h2m-1-21h2m-2 3h2m-1-14h2m0 2h2m-2 79h2m-2 6h2m-1-74h2m-2 9h2m-2 15h2m-2 38h2m-1-72h2m-2 5h2m-2 33h2m-1-13h2m-2 23h2m-2 33h2m-1-82h2m-2 21h2m-2 1h2m-2 17h2m-2 30h2m-2 23h2m-2 12h2m-1-21h2m-2 5h2m-2 13h2m-1-73h2m-2 9h2m-2 7h2m-2 12h2m0-54h2m-2 43h2m-2 14h2m-2 1h2m-2 0h2m-2 5h2m-2 9h2m-2 13h2m-2 16h2m-1-78h2m-2 27h2m-2 15h2m-2 15h2m-1-83h2m-2 2h2m-2 5h2m-2 7h2m-2 1h2m-2 9h2m-2 12h2m-1-9h2m-2 3h2m-1-5h2m-2 11h2m-2 15h2m-2 2h2m-2 9h2m-2 5h2m-2 5h2m-1-69h2m-2 10h2m-2 5h2m-2 15h2m-1-10h2m-2 8h2m-2 8h2m-2 7h2m-1-45h2m-2 6h2m-2 6h2m-2 45h2m-2 11h2m-2 35h2m-1-94h2m-2 1h2m-2 26h2m-2 3h2m-2 51h2m-1-55h2m-2 22h2m-2 30h2m-1-68h2m-2 27h2m-2 7h2m-2 2h2m-1-54h2m-1 38h2m-2 0h2m-2 5h2m-1-38h2m-2 9h2m-2 4h2m-2 17h2m-2 0h2m-2 60h2m-1-83h2m-2 15h2m-2 1h2m-2 13h2m-2 29h2m-2 24h2m-2 2h2m-2 0h2m-1-33h2m-1-28h2m-2 0h2m-2 15h2m-1-13h2m-2 9h2m-1-33h2m-1-3h2m-2 7h2m-2 6h2m-2 5h2m-1 67h2m-1-84h2m-1 8h2m-2 23h2m-2 14h2m-2 4h2m-1-44h2m-2 1h2m-2 13h2m-2 8h2m-1-31h2m-2 31h2m-2 46h2m-1-83h2m-2 11h2m-1-14h2m-2 4h2m-2 12h2m-2 27h2m-2 6h2m-2 13h2m-2 38h2m-1-75h2m-2 19h2m-2 20h2m-2 10h2m-2 3h2m-2 4h2m-1-75h2m-2 9h2m-2 14h2m-2 18h2m-2 34h2m-2 13h2m-1-93h2m-2 53h2m-2 1h2m-2 8h2m-2 17h2m-2 26h2m-1-100h2m-2 9h2m-2 13h2m-2 35h2m-2 11h2m-2 12h2m-2 4h2m-2 28h2m-1-76h2m-2 33h2m-1-72h2m-1 22h2m-2 22h2m-2 4h2m-1-51h2m-2 4h2m-2 37h2m-2 1h2m-1-25h2m-2 8h2m-2 4h2m-2 25h2m-2 15h2m-1-36h2m-2 13h2m-2 21h2m-1-71h2m-2 17h2m-2 0h2m-2 1h2m-2 2h2m-2 8h2m-2 43h2m-2 7h2m-1-68h2m-2 9h2m-1 14h2m-2 14h2m-1-34h2m-2 22h2m-1-36h2m-2 32h2m-2 5h2m-2 27h2m-2 28h2m-1-91h2m-2 10h2m-2 40h2m-2 25h2m-2 6h2m-2 14h2m-2 9h2m-2 3h2m-1-95h2m-2 2h2m-2 14h2m-2 25h2m-1-35h2m-2 8h2m-2 3h2m-2 3h2m-2 15h2m-2 6h2m-2 12h2m-2 22h2m-1-62h2m-2 58h2m-2 32h2m-1-95h2m-2 2h2m-2 4h2m-2 7h2m-2 41h2m-2 9h2m-1-65h2m-2 17h2m-2 11h2m-2 9h2m-2 0h2m-2 14h2m-2 2h2m-2 2h2m-1-32h2m-2 33h2m0-55h2m-2 14h2m-2 7h2m-1-26h2m-2 19h2m-2 45h2m-2 35h2m-2 3h2m-1-117h2m-2 12h2m-2 2h2m-2 43h2m-2 22h2m-2 43h2m-1-120h2m-2 6h2m-2 36h2m-2 7h2m-2 16h2m-2 2h2m-2 8h2m-1-68h2m-2 6h2m-2 12h2m-2 26h2m-2 13h2m-2 4h2m-1-53h2m-2 17h2m-2 35h2m-2 33h2m-1-90h2m-2 18h2m-2 18h2m-2 18h2m-2 14h2m-2 18h2m-2 2h2m-2 9h2m-1-65h2m-2 2h2m-2 18h2m-1-54h2m-2 13h2m-2 23h2m-2 19h2m-1-47h2m-2 30h2m-2 8h2m-1-55h2m-2 13h2m-1 24h2m-1-34h2m-2 22h2m-2 2h2m-2 0h2m-2 3h2m-2 16h2m-2 10h2m-2 5h2m-1-54h2m-2 12h2m-2 5h2m-2 2h2m-2 16h2m-2 4h2m-1-27h2m-2 13h2m-2 23h2m-2 2h2m-2 4h2m-1-64h2m-2 26h2m-2 1h2m-2 33h2m-2 8h2m-2 26h2m-1-84h2m-2 1h2m-2 5h2m-2 9h2m-2 16h2m-2 20h2m-1-20h2m-2 33h2m-2 21h2m-2 2h2m-1-77h2m-2 8h2m-2 2h2m-2 10h2m-2 36h2m-2 18h2m-1-54h2m-2 43h2m62 13h2m-2 3h2m-2 13h2m-2 2h2m-2 11h2m-2 5h2m-2 8h2m-1-58h2m-2 10h2m-2 0h2m-2 4h2m-2 5h2m-2 0h2m-2 1h2m-2 0h2m-2 2h2m-2 1h2m-2 1h2m-2 7h2m-2 10h2m-2 7h2m-2 4h2m-2 1h2m-2 1h2m-1-46h2m-2 3h2m-2 7h2m-2 0h2m-2 0h2m-2 2h2m-2 1h2m-2 9h2m-2 4h2m-2 2h2m-2 8h2m-2 3h2m-2 10h2m-2 4h2m-1-56h2m-2 8h2m-2 3h2m-2 1h2m-2 2h2m-2 9h2m-2 0h2m-1-29h2m-2 12h2m-2 6h2m-2 2h2m-2 6h2m-2 0h2m-2 0h2m-2 6h2m-1-30h2m-2 0h2m-2 9h2m-2 16h2m-2 9h2m-1-31h2m-2 4h2m-2 17h2m-2 0h2m-2 6h2m-2 1h2m-2 3h2m-2 5h2m-1-20h2m-2 2h2m-2 4h2m-2 4h2m-2 9h2m-2 3h2m-2 1h2m-1-34h2m-2 0h2m-2 6h2m-2 3h2m-2 8h2m-2 2h2m-2 6h2m-2 2h2m-2 1h2m-2 1h2m-2 2h2m-2 4h2m-2 3h2m-1-43h2m-2 12h2m-2 2h2m-2 6h2m-2 1h2m-2 2h2m-2 3h2m-2 12h2m-2 1h2m-1-29h2m-2 1h2m-2 1h2m-2 9h2m-2 1h2m-2 2h2m-2 1h2m-2 4h2m-2 1h2m-2 2h2m-2 6h2m-1-41h2m-2 1h2m-2 2h2m-2 3h2m-2 3h2m-2 8h2m-2 4h2m-2 6h2m-2 2h2m-2 3h2m-2 1h2m-2 20h2m-2 0h2m-2 5h2m-1-56h2m-2 5h2m-2 4h2m-2 3h2m-2 1h2m-2 6h2m-2 9h2m-2 1h2m-2 16h2m-2 4h2m-1-51h2m-2 3h2m-2 17h2m-2 1h2m-2 3h2m-2 0h2m-2 10h2m-2 0h2m-2 2h2m-2 3h2m-1-30h2m-2 0h2m-2 15h2m-2 1h2m-2 13h2m-2 4h2m-2 13h2m-1-59h2m-2 1h2m-2 1h2m-2 15h2m-2 2h2m-2 1h2m-2 2h2m-2 14h2m-2 4h2m-2 2h2m-2 4h2m-2 21h2m-1-39h2m-2 6h2m-2 2h2m-2 14h2m-2 0h2m-1-37h2m-2 4h2m-2 7h2m-2 1h2m-2 4h2m-2 8h2m-2 10h2m-1-44h2m-2 6h2m-2 3h2m-2 15h2m-2 3h2m-2 0h2m-2 3h2m-2 16h2m-2 4h2m-2 0h2m-2 7h2m-1-53h2m-2 2h2m-2 6h2m-2 1h2m-2 22h2m-2 0h2m-2 14h2m-2 1h2m-1-42h2m-2 14h2m-2 15h2m-2 0h2m-1-40h2m-2 1h2m-2 3h2m-2 12h2m-2 11h2m-2 3h2m-2 1h2m-1-21h2m-2 5h2m-2 6h2m-2 0h2m-2 4h2m-2 13h2m-2 2h2m-2 5h2m-1-35h2m-2 7h2m-2 17h2m-2 11h2m-1-35h2m-2 4h2m-2 1h2m-2 2h2m-2 5h2m-2 3h2m-2 5h2m-2 2h2m-2 5h2m-2 3h2m-2 2h2m-1-28h2m-2 1h2m-2 10h2m-2 6h2m-2 3h2m-2 0h2m-2 3h2m-2 3h2m-1-27h2m-2 0h2m-2 3h2m-2 2h2m-2 5h2m-2 5h2m-2 1h2m-2 0h2m-2 8h2m-1-27h2m-2 1h2m-2 1h2m-2 5h2m-2 0h2m-2 4h2m-2 9h2m-2 1h2m-2 7h2m-2 1h2m-2 6h2m-1-45h2m-2 10h2m-2 0h2m-2 15h2m-2 1h2m-2 12h2m-1-34h2m-2 6h2m-2 7h2m-2 1h2m-2 3h2m-2 1h2m-2 8h2m-2 0h2m-2 3h2m-2 0h2m-2 15h2m-1-46h2m-2 6h2m-2 3h2m-2 0h2m-2 1h2m-2 1h2m-2 9h2m-2 3h2m-2 2h2m-2 5h2m-2 15h2m-2 8h2m-1-45h2m-2 4h2m-2 0h2m-2 0h2m-2 21h2m-2 1h2m-1-32h2m-2 3h2m-2 4h2m-2 9h2m-2 1h2m-2 20h2m-1-41h2m-2 1h2m-2 0h2m-2 3h2m-2 2h2m-2 1h2m-2 1h2m-2 8h2m-2 2h2m-2 13h2m-2 18h2m-1-27h2m-2 3h2m-1-20h2m-2 5h2m-2 14h2m-2 0h2m-2 4h2m-2 7h2m-2 1h2m-2 0h2m-1-30h2m-2 0h2m-2 5h2m-2 9h2m-2 0h2m-2 7h2m-2 5h2m-2 7h2m-1-25h2m-2 2h2m-2 3h2m-2 1h2m-2 16h2m-2 1h2m-2 1h2m-2 3h2m-2 1h2m-1-36h2m-2 4h2m-2 5h2m-2 4h2m-2 10h2m-2 9h2m-2 1h2m-2 3h2m-1-43h2m-2 18h2m-2 3h2m-1-22h2m-2 3h2m-2 41h2m12-459h2m-2 50h2m0-46h2m-2 11h2m-2 2h2m-2 3h2m-2 14h2m-2 21h2m-1-47h2m-1 23h2m-1-13h2m-2 8h2m-2 4h2m-1 15h2m-2 1h2m0 7h2m-2 3h2m-1-32h2m-2 19h2m-2 0h2m-1-33h2m-2 38h2m-2 0h2m-1-34h2m-2 3h2m-2 2h2m-2 2h2m-2 24h2m-1-34h2m-2 24h2m-2 25h2m-1-32h2m-2 32h2m-2 17h2m-1-42h2m-2 25h2m-2 5h2m-2 8h2m-1-42h2m-1-8h2m-2 15h2m0-10h2m-2 23h2m-2 16h2m-2 9h2m-1-50h2m-2 7h2m0 7h2m-2 16h2m-1-19h2m0-6h2m-2 27h2m-1-30h2m-2 14h2m0-2h2m-2 31h2m-1-33h2m-2 15h2m-2 6h2m-2 1h2m-2 10h2m-2 1h2m1-16h2m-2 15h2m-2 0h2m-1-6h2m0-13h2m-2 11h2m-2 16h2m-1-37h2m-2 9h2m-2 10h2m-2 7h2m-1-36h2m-2 17h2m-2 49h2m-1-52h2m-2 0h2m-1 15h2m-2 29h2m-2 2h2m76 339h2m-2 1h2m-2 5h2m-2 5h2m-2 5h2m-2 9h2m-1-15h2m-2 3h2m-2 1h2m-2 8h2m-2 9h2m-2 1h2m-2 5h2m-2 8h2m-1-47h2m-2 1h2m-2 5h2m-2 6h2m-2 3h2m-2 5h2m-2 13h2m-2 0h2m-2 3h2m-1-10h2m-2 1h2m-2 2h2m-2 2h2m-2 10h2m-2 0h2m-2 1h2m-2 5h2m-2 0h2m-2 9h2m-2 5h2m-1-78h2m-2 5h2m-2 7h2m-2 4h2m-2 5h2m-2 3h2m-2 8h2m-2 2h2m-2 18h2m-2 8h2m-2 12h2m-1-83h2m-2 5h2m-2 1h2m-2 3h2m-2 2h2m-2 0h2m-2 4h2m-2 2h2m-2 0h2m-2 10h2m-2 4h2m-2 5h2m-2 1h2m-2 4h2m-2 6h2m-2 7h2m-2 3h2m-2 10h2m-2 15h2m-2 0h2m-1-83h2m-2 3h2m-2 3h2m-2 9h2m-2 0h2m-2 4h2m-2 2h2m-2 1h2m-2 9h2m-2 2h2m-2 8h2m-2 5h2m-2 17h2m-2 1h2m-2 3h2m-2 4h2m-2 9h2m-2 2h2m-2 10h2m-1-91h2m-2 0h2m-2 2h2m-2 1h2m-2 0h2m-2 0h2m-2 1h2m-2 1h2m-2 0h2m-2 2h2m-2 4h2m-2 0h2m-2 2h2m-2 2h2m-2 0h2m-2 12h2m-2 14h2m-2 5h2m-2 1h2m-2 6h2m-2 1h2m-2 1h2m-2 9h2m-2 3h2m-2 17h2m-2 4h2m-2 2h2m-2 2h2m-1-91h2m-2 1h2m-2 9h2m-2 1h2m-2 6h2m-2 27h2m-2 15h2m-2 5h2m-2 9h2m-2 6h2m-2 7h2m-2 1h2m-1-83h2m-2 1h2m-2 7h2m-2 0h2m-2 2h2m-2 4h2m-2 1h2m-2 3h2m-2 13h2m-2 2h2m-2 10h2m-2 32h2m-2 1h2m-1-83h2m-2 7h2m-2 5h2m-2 3h2m-2 4h2m-2 2h2m-2 1h2m-2 13h2m-2 0h2m-2 6h2m-2 1h2m-2 0h2m-2 3h2m-2 1h2m-2 5h2m-2 2h2m-2 14h2m-2 6h2m-2 2h2m-2 11h2m-2 7h2m-1-94h2m-2 2h2m-2 6h2m-2 1h2m-2 4h2m-2 2h2m-2 4h2m-2 5h2m-2 10h2m-2 1h2m-2 4h2m-2 2h2m-2 4h2m-2 3h2m-2 14h2m-1-63h2m-2 6h2m-2 3h2m-2 0h2m-2 5h2m-2 3h2m-2 3h2m-2 10h2m-2 4h2m-2 3h2m-2 6h2m-2 1h2m-2 4h2m-2 4h2m-2 7h2m-2 13h2m-2 2h2m-1-76h2m-2 0h2m-2 0h2m-2 5h2m-2 1h2m-2 2h2m-2 1h2m-2 2h2m-2 1h2m-2 0h2m-2 1h2m-2 0h2m-2 0h2m-2 4h2m-2 5h2m-2 16h2m-2 8h2m-2 12h2m-2 2h2m-2 8h2m-2 1h2m-2 7h2m-2 2h2m-2 5h2m-2 7h2m-2 4h2m-1-92h2m-2 1h2m-2 2h2m-2 7h2m-2 2h2m-2 3h2m-2 3h2m-2 3h2m-2 15h2m-2 2h2m-2 0h2m-2 7h2m-2 16h2m-2 0h2m-2 3h2m-2 24h2m-1-91h2m-2 1h2m-2 2h2m-2 7h2m-2 0h2m-2 5h2m-2 0h2m-2 5h2m-2 3h2m-2 1h2m-2 3h2m-2 19h2m-2 4h2m-2 4h2m-2 0h2m-2 8h2m-2 4h2m-1-69h2m-2 5h2m-2 2h2m-2 1h2m-2 0h2m-2 0h2m-2 1h2m-2 1h2m-2 7h2m-2 1h2m-2 5h2m-2 2h2m-2 37h2m-2 14h2m-2 10h2m-2 17h2m-1-99h2m-2 5h2m-2 1h2m-2 1h2m-2 0h2m-2 5h2m-2 2h2m-2 3h2m-2 3h2m-2 3h2m-2 14h2m-2 18h2m-2 2h2m-2 4h2m-2 25h2m-2 15h2m-1-102h2m-2 11h2m-2 1h2m-2 4h2m-2 0h2m-2 1h2m-2 5h2m-2 15h2m-2 1h2m-2 3h2m-2 24h2m-2 5h2m-2 7h2m-2 22h2m-1-95h2m-2 1h2m-2 3h2m-2 1h2m-2 6h2m-2 4h2m-2 1h2m-2 1h2m-2 1h2m-2 0h2m-2 0h2m-2 2h2m-2 3h2m-2 11h2m-2 2h2m-2 9h2m-2 4h2m-2 1h2m-2 1h2m-2 2h2m-2 10h2m-2 5h2m-2 14h2m-1-89h2m-2 3h2m-2 3h2m-2 1h2m-2 2h2m-2 0h2m-2 1h2m-2 5h2m-2 0h2m-2 5h2m-2 10h2m-2 11h2m-2 0h2m-2 2h2m-2 7h2m-2 8h2m-2 0h2m-2 2h2m-2 7h2m-2 18h2m-1-85h2m-2 4h2m-2 1h2m-2 3h2m-2 7h2m-2 3h2m-2 1h2m-2 3h2m-2 3h2m-2 2h2m-2 18h2m-2 3h2m-2 5h2m-2 22h2m-2 2h2m-2 4h2m-2 1h2m-1-89h2m-2 11h2m-2 1h2m-2 4h2m-2 1h2m-2 1h2m-2 3h2m-2 1h2m-2 3h2m-2 0h2m-2 1h2m-2 4h2m-2 22h2m-2 13h2m-2 11h2m-2 3h2m-2 1h2m-2 1h2m-1-80h2m-2 2h2m-2 6h2m-2 1h2m-2 4h2m-2 2h2m-2 9h2m-2 2h2m-2 1h2m-2 2h2m-2 0h2m-2 0h2m-2 1h2m-2 0h2m-2 15h2m-2 0h2m-2 2h2m-2 8h2m-2 3h2m-2 4h2m-2 19h2m-2 24h2m-1-106h2m-2 4h2m-2 1h2m-2 2h2m-2 1h2m-2 1h2m-2 3h2m-2 1h2m-2 7h2m-2 0h2m-2 2h2m-2 6h2m-2 2h2m-2 24h2m-2 2h2m-2 14h2m-2 17h2m-2 0h2m-2 2h2m-2 10h2m-2 1h2m-2 0h2m-1-96h2m-2 2h2m-2 3h2m-2 4h2m-2 0h2m-2 3h2m-2 1h2m-2 2h2m-2 2h2m-2 2h2m-2 2h2m-2 5h2m-2 3h2m-2 19h2m-2 14h2m-2 18h2m-2 7h2m-1-91h2m-2 1h2m-2 2h2m-2 4h2m-2 1h2m-2 1h2m-2 14h2m-2 1h2m-2 3h2m-2 1h2m-2 1h2m-2 1h2m-2 1h2m-2 2h2m-2 15h2m-2 0h2m-2 6h2m-2 4h2m-2 5h2m-2 2h2m-2 1h2m-2 18h2m-2 3h2m-2 14h2m-1-97h2m-2 0h2m-2 0h2m-2 3h2m-2 1h2m-2 4h2m-2 0h2m-2 2h2m-2 1h2m-2 1h2m-2 1h2m-2 0h2m-2 1h2m-2 1h2m-2 1h2m-2 32h2m-2 5h2m-2 5h2m-2 2h2m-2 1h2m-2 6h2m-2 6h2m-2 1h2m-2 5h2m-2 5h2m-2 7h2m-1-93h2m-2 0h2m-2 3h2m-2 1h2m-2 3h2m-2 1h2m-2 3h2m-2 5h2m-2 2h2m-2 1h2m-2 1h2m-2 4h2m-2 1h2m-2 1h2m-2 5h2m-2 25h2m-2 4h2m-2 14h2m-2 29h2m-1-110h2m-2 4h2m-2 5h2m-2 2h2m-2 1h2m-2 1h2m-2 9h2m-2 1h2m-2 0h2m-2 1h2m-2 4h2m-2 1h2m-2 0h2m-2 0h2m-2 1h2m-2 1h2m-2 21h2m-2 7h2m-2 8h2m-2 1h2m-2 4h2m-2 0h2m-2 2h2m-2 11h2m-2 14h2m-2 3h2m-2 4h2m-2 2h2m-2 4h2m-1-106h2m-2 16h2m-2 12h2m-2 1h2m-2 18h2m-2 6h2m-2 19h2m-2 0h2m-1-76h2m-2 2h2m-2 5h2m-2 6h2m-2 1h2m-2 5h2m-2 2h2m-2 3h2m-2 9h2m-2 1h2m-2 0h2m-2 14h2m-2 3h2m-2 2h2m-2 6h2m-2 1h2m-2 0h2m-2 18h2m-2 2h2m-2 1h2m-2 5h2m-2 6h2m-1-92h2m-2 3h2m-2 1h2m-2 1h2m-2 3h2m-2 1h2m-2 1h2m-2 1h2m-2 2h2m-2 8h2m-2 0h2m-2 1h2m-2 0h2m-2 10h2m-2 1h2m-2 0h2m-2 24h2m-2 2h2m-2 3h2m-2 8h2m-2 3h2m-2 1h2m-2 4h2m-2 11h2m-2 17h2m-2 6h2m-1-114h2m-2 5h2m-2 2h2m-2 2h2m-2 0h2m-2 6h2m-2 2h2m-2 2h2m-2 1h2m-2 0h2m-2 4h2m-2 1h2m-2 7h2m-2 0h2m-2 18h2m-2 8h2m-2 15h2m-2 4h2m-2 5h2m-2 2h2m-2 6h2m-2 2h2m-2 1h2m-2 3h2m-2 8h2m-2 6h2m-1-106h2m-2 1h2m-2 3h2m-2 5h2m-2 2h2m-2 2h2m-2 5h2m89-345h2m-1-25h2m-2 26h2m-2 0h2m-2 4h2m-1-32h2m-2 8h2m-2 3h2m-2 4h2m-2 15h2m-2 5h2m-2 7h2m7 316h2m-2 0h2m-2 2h2m-2 1h2m-2 57h2m-1-58h2m-2 17h2m-2 3h2m-2 6h2m-2 36h2m-2 4h2m-2 2h2m-1-76h2m-2 17h2m-2 1h2m-2 36h2m-2 7h2m-2 24h2m-1-86h2m-2 5h2m-2 3h2m-2 3h2m-2 1h2m-2 1h2m-2 12h2m-2 7h2m-2 22h2m-2 8h2m-2 2h2m-1-58h2m-2 7h2m-2 4h2m-2 10h2m-2 29h2m-2 3h2m-1-57h2m-2 1h2m-2 1h2m-2 7h2m-2 3h2m-2 3h2m-2 0h2m-2 5h2m-2 27h2m-2 13h2m-2 12h2m-2 0h2m-2 2h2m-1-74h2m-2 6h2m-2 8h2m-2 10h2m-2 21h2m-2 17h2m-2 32h2m-1-91h2m-2 1h2m-2 3h2m-2 4h2m-2 0h2m-2 2h2m-2 4h2m-2 6h2m-2 24h2m-2 5h2m-2 14h2m-2 9h2m-2 3h2m-1-80h2m-2 5h2m-2 4h2m-2 6h2m-2 4h2m-2 4h2m-2 7h2m-2 27h2m-2 2h2m-2 19h2m-1-84h2m-2 7h2m-2 1h2m-2 5h2m-2 3h2m-2 8h2m-2 31h2m-2 0h2m-2 16h2m-2 9h2m-2 0h2m-2 2h2m-1-71h2m-2 2h2m-2 4h2m-2 5h2m-2 1h2m-1-24h2m-2 3h2m-2 6h2m-2 0h2m-2 5h2m-2 1h2m-2 4h2m-2 13h2m-2 23h2m-2 3h2m-2 6h2m-2 15h2m-1-77h2m-2 4h2m-2 4h2m-2 3h2m-2 2h2m-2 0h2m-2 0h2m-2 48h2m-2 19h2m-2 5h2m-2 2h2m-1-78h2m-2 15h2m-2 42h2m-2 1h2m-2 6h2m-2 3h2m-2 7h2m-1-92h2m-2 15h2m-2 2h2m-2 3h2m-2 13h2m-2 45h2m-2 1h2m-2 15h2m-2 5h2m-2 9h2m-1-107h2m-2 1h2m-2 10h2m-2 0h2m-2 18h2m-2 42h2m-2 1h2m-1-68h2m-2 4h2m-2 6h2m-2 1h2m-2 13h2m-2 4h2m-2 46h2m-2 3h2m-2 49h2m-1-126h2m-2 0h2m-2 0h2m-2 9h2m-2 2h2m-2 4h2m-2 11h2m-2 31h2m-2 13h2m-2 3h2m-1-71h2m-2 6h2m-2 4h2m-2 3h2m-2 10h2m-2 5h2m-2 22h2m-2 3h2m-1-46h2m-2 6h2m-2 12h2m-2 5h2m-2 0h2m-2 44h2m-2 1h2m-2 36h2m-1-97h2m-2 2h2m-2 2h2m-2 2h2m-2 2h2m-2 0h2m-2 45h2m-1-55h2m-2 3h2m-2 1h2m-2 10h2m-2 36h2m-2 3h2m-1-43h2m-2 5h2m-2 41h2m-2 5h2m-2 3h2m-2 3h2m-2 2h2m-1-84h2m-2 5h2m-2 8h2m-2 10h2m-2 0h2m-2 32h2m-2 13h2m-2 6h2m-2 2h2m-1-76h2m-2 12h2m-2 13h2m-2 1h2m-2 37h2m-2 48h2m-1-101h2m-2 5h2m-2 3h2m-2 1h2m-2 10h2m-2 24h2m-2 2h2m-2 0h2m-2 14h2m-2 10h2m-2 0h2m-1-64h2m-2 9h2m-2 2h2m-2 54h2m-1-76h2m-2 10h2m-2 3h2m-2 1h2m-2 7h2m-2 24h2m-2 0h2m-2 9h2m-2 13h2m-2 14h2m-2 5h2m-1-78h2m-2 8h2m-2 3h2m-2 2h2m-2 4h2m-2 1h2m-2 25h2m-2 10h2m-2 2h2m-2 5h2m-2 4h2m-1-79h2m-2 10h2m-2 3h2m-2 3h2m-2 3h2m-2 11h2m-2 41h2m-2 1h2m-1-61h2m-2 7h2m-2 0h2m-2 2h2m-2 38h2m-2 2h2m-2 39h2m-1-101h2m-2 8h2m-2 8h2m-2 2h2m-2 6h2m-2 0h2m-2 3h2m-1-23h2m-2 12h2m-2 36h2m-2 1h2m-2 16h2m-2 12h2m-2 1h2m-2 6h2m-2 10h2m-2 5h2m-1-98h2m-2 16h2m-2 35h2m-2 6h2m-2 7h2m-2 0h2m-2 19h2m-2 1h2m-2 3h2m-2 0h2m-2 11h2m-2 0h2m-2 4h2m-1-105h2m-2 10h2m-2 1h2m-2 1h2m-2 4h2m-2 2h2m-2 1h2m-2 3h2m-2 41h2m-2 17h2m-2 4h2m-2 2h2m-2 5h2m-2 13h2m-1-103h2m-2 6h2m-2 0h2m-2 1h2m-2 4h2m-2 0h2m-2 3h2m-2 6h2m-2 5h2m-2 4h2m-2 12h2m-2 4h2m-2 7h2m-2 3h2m-2 1h2m-2 7h2m-2 8h2m-2 1h2m-2 13h2m-2 2h2m-2 1h2m-2 2h2m-2 7h2m-2 7h2m-2 2h2m-2 15h2m-1-133h2m-2 5h2m-2 7h2m-2 2h2m-2 18h2m-2 2h2m-2 1h2m-2 3h2m-2 30h2m-2 3h2m-2 10h2m-2 3h2m-2 1h2m-2 3h2m-2 3h2m-2 3h2m-2 6h2m-2 8h2m-2 11h2m-2 4h2m-1-112h2m-2 7h2m-2 4h2m-2 5h2m-2 4h2m-2 1h2m-2 5h2m-2 14h2m-2 3h2m-2 10h2m-2 2h2m-2 2h2m-2 1h2m-2 12h2m-2 5h2m-2 2h2m-2 1h2m-2 2h2m-2 9h2m-2 3h2m-2 3h2m-2 1h2m-2 6h2m-2 2h2m-2 8h2m-2 0h2m-1-120h2m-2 0h2m-2 3h2m-2 3h2m-2 16h2m-2 5h2m-2 39h2m-2 2h2m-2 14h2m-2 3h2m-2 2h2m-2 3h2m-2 3h2m-2 2h2m-2 5h2m-2 1h2m-2 2h2m-2 4h2m-2 11h2m-2 6h2m-2 5h2m-1-131h2m-2 1h2m-2 2h2m-2 11h2m-2 2h2m-2 6h2m-2 58h2m-2 11h2m-2 1h2m-2 6h2m-2 1h2m-2 4h2m-2 11h2m-2 6h2m-1-115h2m-2 1h2m-2 2h2m-2 9h2m-2 4h2m-2 0h2m-2 0h2m-2 1h2m-2 1h2m-2 0h2m-2 29h2m-2 4h2m-2 2h2m-2 2h2m-2 13h2m-2 0h2m-2 2h2m-2 3h2m-2 3h2m-2 12h2m-2 3h2m-2 14h2m-2 12h2m-1-122h2m-2 4h2m-2 7h2m-2 0h2m-2 19h2m-2 3h2m-2 0h2m-2 6h2m-2 11h2m-2 1h2m-2 4h2m-2 3h2m-2 0h2m-2 1h2m-2 1h2m-2 1h2m-2 0h2m-2 8h2m-2 3h2m-2 11h2m-2 1h2m-2 4h2m-2 2h2m-2 1h2m-2 4h2m-2 2h2m-2 0h2m-2 5h2m-2 7h2m-2 6h2m-1-107h2m-2 4h2m-2 7h2m-2 9h2m-2 8h2m-2 14h2m-2 17h2m-2 2h2m-2 2h2m-2 2h2m-2 5h2m-2 1h2m-2 10h2m-2 6h2m-2 6h2m-2 3h2m-2 4h2m-2 1h2m-2 3h2m-2 0h2m-2 12h2m-1-111h2m-2 1h2m-2 5h2m-2 1h2m-2 1h2m-2 5h2m-2 6h2m-2 27h2m-2 0h2m-2 1h2m-2 17h2m-2 9h2m-2 3h2m-2 4h2m-2 6h2m-2 4h2m-2 0h2m-2 5h2m-2 4h2m-2 13h2m-2 6h2m-1-119h2m-2 7h2m-2 6h2m-2 43h2m-2 2h2m-2 3h2m-2 2h2m-2 17h2m-2 1h2m-2 1h2m-2 10h2m-2 14h2m-2 3h2m-2 1h2m-2 7h2m-1-127h2m-2 3h2m-2 2h2m-2 3h2m-2 5h2m-2 3h2m-2 2h2m-2 6h2m-2 5h2m-2 1h2m-2 19h2m-2 10h2m-2 4h2m-2 12h2m-2 6h2m-2 3h2m-2 3h2m-2 2h2m-2 0h2m-2 7h2m-2 1h2m-2 0h2m-2 6h2m-2 2h2m-2 0h2m-2 2h2m-2 0h2m-2 1h2m-2 6h2m-2 1h2m-2 0h2m-2 1h2m-2 3h2m-2 10h2m-1-126h2m-2 13h2m-2 3h2m-2 1h2m-2 3h2m-2 10h2m-2 18h2m-2 18h2m-2 0h2m-2 3h2m-2 3h2m-2 13h2m-2 1h2m-2 4h2m-2 4h2m-2 10h2m-2 2h2m-2 5h2m-2 7h2m-2 6h2m-2 9h2m-1-136h2m-2 2h2m-2 17h2m-2 7h2m-2 1h2m-2 2h2m-2 7h2m-2 17h2m-2 4h2m-2 5h2m-2 10h2m-2 5h2m-2 1h2m-2 4h2m-2 8h2m-2 3h2m-2 4h2m-2 8h2m-2 1h2m-2 4h2m-2 0h2m-2 2h2m-2 0h2m-2 5h2m-2 10h2m-2 4h2m-2 2h2m-2 0h2m-2 0h2m-1-121h2m-2 3h2m-2 1h2m-2 15h2m-2 6h2m-2 10h2m-2 9h2m-2 6h2m-2 18h2m-2 3h2m-2 1h2m-2 6h2m-2 10h2m-2 34h2m-2 3h2m-1-123h2m-2 12h2m-2 6h2m-2 14h2m-2 39h2m-2 2h2m-2 6h2m-2 1h2m-2 7h2m-2 9h2m-2 2h2m-2 0h2m-2 9h2m-2 3h2m-2 1h2m-1-112h2m-2 10h2m-2 3h2m-2 0h2m-2 1h2m-2 26h2m-2 6h2m-2 0h2m-2 3h2m-2 26h2m-2 2h2m-2 3h2m-2 7h2m-2 2h2m-2 13h2m-2 5h2m-2 8h2m-1-100h2m-2 2h2m-2 6h2m-2 34h2m-2 8h2m-2 1h2m-2 0h2m-2 4h2m-2 3h2m-2 2h2m-2 3h2m-2 5h2m-2 2h2m-2 0h2m-2 2h2m-2 3h2m-2 5h2m-2 14h2m-2 1h2m-2 17h2m-1-122h2m-2 5h2m-2 2h2m-2 7h2m-2 23h2m-2 15h2m-2 17h2m-2 5h2m-2 3h2m-2 2h2m-2 5h2m-2 12h2m-2 17h2m-2 4h2m-1-122h2m-2 5h2m-2 3h2m-2 8h2m-2 23h2m-2 2h2m-2 2h2m-2 2h2m-2 12h2m-2 5h2m-2 25h2m-2 1h2m-2 9h2m-2 3h2m-1-93h2m-2 7h2m-2 8h2m-2 19h2m-2 4h2m-2 2h2m-2 7h2m-2 1h2m-2 0h2m-2 4h2m-2 10h2m-2 0h2m-2 2h2m-2 1h2m-2 2h2m-2 7h2m-2 0h2m-2 2h2m-2 9h2m-2 4h2m-2 6h2m-1-92h2m-2 2h2m-2 2h2m-2 2h2m-2 25h2m-2 1h2m-2 5h2m-2 11h2m-2 7h2m-2 6h2m-2 4h2m-2 0h2m-2 1h2m-2 2h2m-2 1h2m-2 2h2m-2 2h2m-2 1h2m-2 5h2m-2 11h2m-2 1h2m-2 5h2m-2 1h2m-2 5h2m-2 1h2m-1-74h2m-2 0h2m-2 1h2m-2 6h2m-2 6h2m-2 2h2m-2 2h2m-2 1h2m-2 8h2m-2 4h2m-2 2h2m-2 3h2m-2 20h2m-2 4h2m-2 6h2m-2 6h2m-1-99h2m-2 2h2m-2 24h2m-2 6h2m-2 1h2m-2 0h2m-2 0h2m-2 3h2m-2 1h2m-2 2h2m-2 0h2m-2 4h2m-2 4h2m-2 1h2m-2 6h2m-2 1h2m-2 2h2m-2 19h2m-2 13h2m-2 4h2m-2 2h2m-2 9h2m-2 1h2m-2 1h2m-1-103h2m-2 23h2m-2 3h2m-2 2h2m-2 1h2m-2 4h2m-2 9h2m-2 0h2m-2 9h2m-2 10h2m-2 16h2m-1-79h2m-2 10h2m-2 1h2m-2 23h2m-2 3h2m-2 9h2m-2 1h2m-2 3h2m-2 3h2m-2 1h2m-2 1h2m-2 5h2m-2 4h2m-2 3h2m-2 2h2m-2 1h2m-2 6h2m-2 15h2m-2 7h2m-2 2h2m-2 13h2m-1-111h2m-2 8h2m-2 29h2m-2 5h2m-2 6h2m-2 5h2m-2 4h2m-2 8h2m-2 1h2m-2 8h2m-2 10h2m-2 2h2m-2 27h2m-1-117h2m-2 2h2m-2 0h2m-2 3h2m-2 29h2m-2 7h2m-2 3h2m-2 2h2m-2 5h2m-2 5h2m-2 14h2m-2 7h2m-2 8h2m-2 0h2m-2 0h2m-2 5h2m-2 6h2m-2 3h2m-2 12h2m-1-106h2m-2 22h2m-2 7h2m-2 7h2m-2 19h2m-2 7h2m-2 3h2m-2 8h2m-2 1h2m-2 9h2m-2 2h2m-2 5h2m-2 5h2m-2 1h2m-2 4h2m-1-100h2m-2 2h2m-2 1h2m-2 26h2m-2 1h2m-2 4h2m-2 1h2m-2 0h2m-2 4h2m-2 2h2m-2 0h2m-2 6h2m-2 5h2m-2 4h2m-2 1h2m-2 0h2m-2 2h2m-2 2h2m-2 0h2m-2 1h2m-2 8h2m-2 0h2m-2 4h2m-2 2h2m-2 2h2m-2 4h2m-2 2h2m-2 6h2m-2 1h2m-2 10h2m-2 4h2m-1-115h2m-2 4h2m-2 3h2m-2 2h2m-2 34h2m-2 7h2m-2 15h2m-2 8h2m-2 1h2m-2 1h2m-2 7h2m-2 5h2m-2 19h2m-2 1h2m-1-106h2m-2 6h2m-2 26h2m-2 7h2m-2 4h2m-2 2h2m-2 13h2m-2 1h2m-2 20h2m-2 0h2m-2 0h2m-2 5h2m-2 8h2m-2 1h2m-2 7h2m-2 0h2m-2 2h2m-2 1h2m-2 1h2m-2 0h2m-2 1h2m-1-105h2m-2 6h2m-2 5h2m-2 17h2m-2 5h2m-2 14h2m-2 0h2m-2 27h2m-2 2h2m-2 0h2m-2 16h2m-2 9h2m-2 7h2m-1-108h2m-2 7h2m-2 26h2m-2 5h2m-2 1h2m-2 5h2m-2 1h2m-2 1h2m-2 3h2m-2 1h2m-2 2h2m-2 3h2m-2 8h2m-2 3h2m-2 1h2m-2 7h2m-2 4h2m-2 4h2m-2 1h2m-2 13h2m-2 3h2m-2 0h2m-2 3h2m-2 4h2m-2 6h2m-2 1h2m-1-111h2m-2 30h2m-2 9h2m-2 2h2m-2 5h2m-2 1h2m-2 6h2m-2 9h2m-2 6h2m-2 2h2m-2 11h2m-2 0h2m-2 7h2m-2 1h2m-2 5h2m-2 1h2m-2 10h2m-1-105h2m-2 1h2m-2 35h2m-2 1h2m-2 7h2m-2 9h2m-2 2h2m-2 12h2m-2 3h2m-2 13h2m-2 2h2m-2 2h2m-2 4h2m-2 2h2m-2 3h2m-2 1h2m-2 1h2m-2 11h2m-2 6h2m-2 3h2m-1-84h2m-2 18h2m-2 4h2m-2 1h2m-2 7h2m-2 0h2m-2 1h2m-2 3h2m-2 2h2m-2 0h2m-2 1h2m-2 4h2m-2 11h2m-2 2h2m-2 1h2m-2 6h2m-1-94h2m-2 5h2m-2 1h2m-2 24h2m-2 0h2m-2 1h2m-2 0h2m-2 4h2m-2 8h2m-2 1h2m-2 1h2m-2 1h2m-2 1h2m-2 13h2m-2 1h2m-2 11h2m-2 4h2m-2 10h2m-2 4h2m-2 10h2m-2 8h2m-2 3h2m-2 4h2m-1-115h2m-2 6h2m-2 25h2m-2 2h2m-2 3h2m-2 6h2m-2 20h2m-2 12h2m-2 15h2m-2 2h2m-2 1h2m-2 6h2m-2 6h2m-2 4h2m-2 8h2m-1-117h2m-2 1h2m-2 9h2m-2 25h2m-2 0h2m-2 0h2m-2 2h2m-2 4h2m-2 5h2m-2 1h2m-2 8h2m-2 1h2m-2 0h2m-2 5h2m-2 6h2m-2 2h2m-2 5h2m-2 1h2m-2 2h2m-2 4h2m-2 0h2m-2 9h2m-2 10h2m-2 0h2m-2 1h2m-2 3h2m-1-95h2m-2 1h2m-2 16h2m-2 5h2m-2 2h2m-2 13h2m-2 23h2m-2 3h2m-2 2h2m-2 14h2m-2 4h2m-2 3h2m-2 0h2m-2 2h2m-2 8h2m-2 1h2m-2 8h2m-1-85h2m-2 0h2m-2 0h2m-2 0h2m-2 3h2m-2 0h2m-2 2h2m-2 9h2m-2 3h2m-2 10h2m-2 3h2m-2 1h2m-2 4h2m-2 6h2m-2 7h2m-2 4h2m-2 6h2m-2 3h2m-2 5h2m-2 19h2m-1-120h2m-2 8h2m-2 6h2m-2 29h2m-2 8h2m-2 8h2m-2 8h2m-2 2h2m-2 24h2m-2 7h2m-2 4h2m-2 10h2m-2 0h2m-2 3h2m-1-111h2m-2 5h2m-2 2h2m-2 4h2m-2 20h2m-2 25h2m-2 4h2m-2 1h2m-2 3h2m-2 2h2m-2 0h2m-2 2h2m-2 2h2m-2 1h2m-2 1h2m-2 2h2m-2 22h2m-2 0h2m-1-91h2m-2 34h2m-2 14h2m-2 13h2" stroke="#ff0000" stroke-width="2.2" fill="none"/>
<path transform="scale(.5)" d="M1005 131h2m-1-20h2m-2 2h2m-2 1h2m-2 5h2m-2 1h2m-2 0h2m-2 1h2m-2 3h2m-2 9h2m-1-27h2m-2 5h2m-2 27h2m-1-36h2m-2 5h2m-2 4h2m-2 15h2m-2 5h2m-2 3h2m-2 0h2m-2 6h2m-1-35h2m-2 6h2m-2 6h2m-2 9h2m-2 1h2m-2 1h2m-2 18h2m-1-36h2m-2 3h2m-2 2h2m-2 5h2m-2 3h2m-2 1h2m-2 9h2m-1-31h2m-2 3h2m-2 1h2m-2 3h2m-2 2h2m-2 10h2m-2 10h2m-2 1h2m-2 27h2m-2 8h2m-2 4h2m-1-74h2m-2 5h2m-2 4h2m-2 1h2m-2 1h2m-2 9h2m-2 2h2m-2 7h2m-2 1h2m-2 3h2m-2 2h2m-2 2h2m-2 3h2m-2 0h2m-2 1h2m-2 6h2m-2 6h2m-2 7h2m-2 0h2m-2 4h2m-1-44h2m-2 1h2m-2 11h2m-2 5h2m-2 6h2m-2 8h2m-2 5h2m-2 11h2m-1-63h2m-2 20h2m-2 1h2m-2 5h2m-2 2h2m-2 2h2m-2 3h2m-2 5h2m-1-39h2m-2 4h2m-2 7h2m-2 1h2m-2 16h2m-2 0h2m-1-25h2m-2 1h2m-2 3h2m-2 0h2m-2 2h2m-2 18h2m-2 4h2m-2 5h2m-2 4h2m-1-41h2m-2 14h2m-2 28h2m-2 4h2m-2 2h2m-2 1h2m-1-19h2m-2 2h2m-2 6h2m-2 12h2m-2 0h2m-2 1h2m-2 0h2m-1-48h2m-2 7h2m-2 4h2m-2 15h2m-2 2h2m-2 2h2m-2 3h2m-2 15h2m-2 3h2m-1-39h2m-2 2h2m-2 13h2m-2 4h2m-2 2h2m-2 1h2m-2 4h2m-2 1h2m-2 4h2m-2 1h2m-2 4h2m-2 2h2m-2 1h2m-2 1h2m-2 8h2m-1-62h2m-2 2h2m-2 6h2m-2 2h2m-2 3h2m-2 22h2m-2 5h2m-2 8h2m-1-42h2m-2 2h2m-2 2h2m-2 11h2m-2 20h2m-2 19h2m-2 1h2m-2 0h2m-2 5h2m-2 12h2m-2 4h2m-2 5h2m-2 4h2m-1-83h2m-2 2h2m-2 0h2m-2 5h2m-2 1h2m-2 5h2m-2 0h2m-2 1h2m-2 3h2m-2 16h2m-2 4h2m-2 7h2m-2 18h2m-2 8h2m-2 11h2m-1-90h2m-2 1h2m-2 3h2m-2 0h2m-2 3h2m-2 0h2m-2 3h2m-2 1h2m-2 3h2m-2 12h2m-2 1h2m-2 10h2m-2 1h2m-2 5h2m-2 4h2m-1-42h2m-2 4h2m-2 12h2m-2 3h2m-2 8h2m-1-31h2m-2 5h2m-2 10h2m-2 2h2m-2 6h2m-2 6h2m-2 8h2m-1-26h2m-2 3h2m-2 7h2m-2 3h2m-2 4h2m-2 4h2m-2 2h2m-2 6h2m-2 7h2m-2 10h2m-2 15h2m-2 6h2m-2 13h2m-1-89h2m-2 2h2m-2 7h2m-2 6h2m-2 12h2m-2 6h2m-2 3h2m-2 1h2m-2 7h2m-2 5h2m-2 0h2m-2 4h2m-2 0h2m-2 0h2m-2 3h2m-2 4h2m-2 7h2m-2 0h2m-2 10h2m-2 10h2m-2 5h2m-1-91h2m-2 9h2m-2 2h2m-2 1h2m-2 9h2m-2 4h2m-2 1h2m-2 1h2m-2 0h2m-2 2h2m-2 8h2m-2 3h2m-2 6h2m-2 8h2m-2 3h2m-2 2h2m-2 11h2m-2 4h2m-2 3h2m-1-70h2m-2 3h2m-2 4h2m-2 10h2m-2 0h2m-2 3h2m-2 2h2m-2 4h2m-2 0h2m-2 3h2m-2 2h2m-2 0h2m-2 14h2m-2 0h2m-2 1h2m-2 1h2m-2 9h2m-1-48h2m-2 5h2m-2 11h2m-2 1h2m-2 3h2m-2 1h2m-2 13h2m-2 2h2m-2 5h2m-2 4h2m-2 9h2m-2 8h2m-1-72h2m-2 9h2m-2 4h2m-2 1h2m-2 1h2m-2 1h2m-2 3h2m-2 2h2m-2 1h2m-2 0h2m-2 0h2m-2 2h2m-2 2h2m-2 3h2m-2 4h2m-2 1h2m-2 6h2m-2 2h2m-2 0h2m-2 3h2m-2 2h2m-2 13h2m-1-48h2m-2 4h2m-2 14h2m-2 1h2m-2 7h2m-2 0h2m-2 1h2m-2 1h2m-2 1h2m-2 2h2m-2 2h2m-2 4h2m-2 3h2m-2 12h2m-2 16h2m-2 1h2m-1-70h2m-2 4h2m-2 0h2m-2 0h2m-2 9h2m-2 1h2m-2 2h2m-2 0h2m-2 6h2m-2 5h2m-2 3h2m-2 1h2m-2 1h2m-2 3h2m-2 2h2m-2 1h2m-2 2h2m-2 2h2m-2 2h2m-2 2h2m-2 3h2m-2 6h2m-2 1h2m-2 3h2m-2 10h2m-2 4h2m-1-81h2m-2 2h2m-2 14h2m-2 3h2m-2 1h2m-2 0h2m-2 1h2m-2 12h2m-2 1h2m-2 2h2m-2 0h2m-2 0h2m-2 4h2m-2 1h2m-2 3h2m-2 1h2m-2 1h2m-2 2h2m-2 3h2m-2 13h2m-2 14h2m-1-84h2m-2 5h2m-2 1h2m-2 2h2m-2 0h2m-2 1h2m-2 0h2m-2 6h2m-2 0h2m-2 0h2m-2 1h2m-2 0h2m-2 2h2m-2 2h2m-2 1h2m-2 4h2m-2 1h2m-2 2h2m-2 2h2m-2 1h2m-2 0h2m-2 3h2m-2 12h2m-2 8h2m-2 3h2m-2 4h2m-2 15h2m-1-74h2m-2 18h2m-2 9h2m-2 1h2m-2 4h2m-2 2h2m-2 13h2m-2 15h2m-2 3h2m-2 1h2m-2 7h2m-1-38h2m-2 28h2m-2 1h2m-1-39h2m-2 2h2m-2 7h2m-2 21h2m-1-42h2m-2 5h2m-2 18h2m-2 2h2m-2 13h2m-2 4h2m-2 4h2m-2 1h2m-2 2h2m-2 13h2m-1-42h2m-2 7h2m-2 11h2m-2 4h2m-2 11h2m-2 1h2m-2 9h2m-2 4h2m-1-30h2m-2 2h2m-2 12h2m-2 1h2m-2 2h2m-1-38h2m-2 7h2m-2 4h2m-2 10h2m-2 17h2m-2 8h2m-1-59h2m-2 2h2m-2 2h2m-2 14h2m-2 8h2m-2 16h2m-2 9h2m-2 15h2m-2 5h2m-1-20h2m-2 2h2m-2 13h2m-1-52h2m-2 16h2m-2 12h2m-2 10h2m-2 0h2m-2 10h2m-2 6h2m-1-66h2m-2 7h2m-2 48h2m-2 6h2m-2 5h2m-2 10h2m-1-72h2m-2 1h2m-2 18h2m-2 7h2m-2 7h2m-2 7h2m-2 1h2m-2 8h2m-2 2h2m-2 0h2m-2 2h2m-2 5h2m-1-48h2m-2 1h2m-2 6h2m-2 38h2m-2 12h2m-2 2h2m-1-57h2m-2 10h2m-2 14h2m-1-31h2m-2 19h2m-2 4h2m-2 2h2m-2 2h2m-2 3h2m-2 7h2m-2 2h2m-2 5h2m-2 4h2m-2 11h2m-2 3h2m-2 1h2m-2 3h2m-1-61h2m-2 13h2m-2 1h2m-2 7h2m-2 9h2m-2 10h2m-2 3h2m-2 12h2m-2 9h2m-2 2h2m-1-68h2m-2 18h2m-2 31h2m-1-44h2m-2 2h2m-2 1h2m-2 6h2m-2 1h2m-2 14h2m-2 22h2m-2 2h2m-2 1h2m-1-55h2m-2 8h2m-2 4h2m-2 23h2m-2 2h2m-2 6h2m-2 1h2m-2 12h2m-2 0h2m-2 4h2m-2 8h2m-2 12h2m-1-76h2m-2 0h2m-2 2h2m-2 25h2m-2 2h2m-2 0h2m-2 2h2m-2 18h2m-2 12h2m-2 8h2m-1-56h2m-2 0h2m-2 32h2m-2 4h2m-2 3h2m-1-43h2m-2 9h2m-2 14h2m-2 3h2m-2 2h2m-2 11h2m-2 9h2m-2 14h2m-1-67h2m-2 24h2m-2 1h2m-2 5h2m-2 3h2m-2 3h2m-2 7h2m-2 4h2m-2 14h2m-2 12h2m-1-73h2m-2 3h2m-2 18h2m-2 7h2m-2 0h2m-2 2h2m-2 0h2m-2 0h2m-2 4h2m-1-30h2m-2 2h2m-2 5h2m-2 7h2m-2 21h2m-2 4h2m-2 6h2m-2 4h2m-1-44h2m-2 1h2m-2 12h2m-2 1h2m-2 12h2m-2 3h2m-2 1h2m-2 4h2m-2 2h2m-2 3h2m-2 1h2m-2 22h2m-2 2h2m-1-63h2m-2 19h2m-2 7h2m-2 18h2m-2 2h2m-2 2h2m-2 4h2m-1-60h2m-2 7h2m-2 5h2m-2 2h2m-2 1h2m-2 19h2m-2 9h2m-2 3h2m-2 13h2m-1-48h2m-2 28h2m-2 19h2m-2 9h2m-2 3h2m-2 12h2m-2 3h2m-1-70h2m-2 11h2m-2 11h2m-2 9h2m-2 3h2m-2 11h2m-2 16h2m-1-62h2m-2 3h2m-2 21h2m-2 7h2m-2 4h2m-2 2h2m-2 3h2m-2 16h2m-2 15h2m-2 5h2m-1-74h2m-2 3h2m-2 5h2m-2 3h2m-2 5h2m-2 14h2m-1-20h2m-2 34h2m-2 12h2m3-81h2m-2 2h2m-2 2h2m-2 1h2m-2 5h2m-2 2h2m-2 1h2m-1-15h2m-2 0h2m-2 1h2m-2 1h2m-2 1h2m-2 1h2m-2 1h2m-2 0h2m-2 2h2m-2 1h2m-2 1h2m-2 1h2m-2 1h2m-2 3h2m-2 1h2m-2 1h2m-2 0h2m-2 2h2m-2 0h2m-2 1h2m-2 1h2m-1-21h2m-2 1h2m-2 2h2m-2 1h2m-2 0h2m-2 2h2m-2 0h2m-2 0h2m-2 1h2m-2 4h2m-2 0h2m-2 1h2m-2 3h2m-2 3h2m-2 2h2m-1-18h2m-2 0h2m-2 1h2m-2 2h2m-2 0h2m-2 1h2m-2 0h2m-2 0h2m-2 0h2m-2 0h2m-2 2h2m-2 1h2m-2 1h2m-2 3h2m-2 0h2m-2 1h2m-2 2h2m-1-10h2m-2 5h2m-2 1h2m-1-11h2m-2 0h2m-2 3h2m-2 1h2m-2 0h2m-2 2h2m-2 5h2m-2 0h2m-2 1h2m-2 1h2m-2 1h2m-2 0h2m-2 0h2m-2 0h2m-2 2h2m-2 0h2m-1-16h2m-2 1h2m-2 2h2m-2 0h2m-2 0h2m-2 6h2m-2 5h2m-2 4h2m-2 1h2m-2 1h2m-1-7h2m-1-14h2m-2 0h2m-2 2h2m-2 0h2m-2 0h2m-2 1h2m-2 0h2m-2 0h2m-2 1h2m-2 2h2m-2 1h2m-2 1h2m-2 1h2m-2 1h2m-2 5h2m-1-14h2m-2 0h2m-2 1h2m-2 1h2m-2 0h2m-2 1h2m-2 0h2m-2 1h2m-2 0h2m-2 1h2m-2 0h2m-2 0h2m-2 2h2m-2 3h2m-2 2h2m-2 2h2m-2 0h2m-2 1h2m-2 0h2m-2 1h2m-1-16h2m-2 0h2m-2 1h2m-2 1h2m-2 1h2m-2 3h2m-2 0h2m-2 1h2m-2 0h2m-2 0h2m-2 1h2m-2 1h2m-2 0h2m-2 1h2m-2 0h2m-1-9h2m-1-1h2m-2 0h2m-2 0h2m-1 0h2m-2 0h2m-2 0h2m-2 1h2m-2 3h2m-2 0h2m-2 0h2m-2 0h2m-2 3h2m-2 2h2m-2 0h2m-2 0h2m-2 2h2m-2 0h2m-2 1h2m-2 5h2m-2 3h2m-2 1h2m-1-22h2m-2 4h2m-2 4h2m-2 0h2m-2 0h2m-2 0h2m-2 1h2m-2 0h2m-2 4h2m-2 7h2m-2 3h2m-1-22h2m-2 3h2m-2 0h2m-2 2h2m-2 1h2m-2 1h2m-1-8h2m-2 1h2m-2 0h2m-2 1h2m-2 1h2m-2 0h2m-2 2h2m-2 11h2m-2 1h2m-1-17h2m-2 3h2m-2 2h2m-2 1h2m-2 0h2m-2 3h2m-2 1h2m-2 10h2m-2 0h2m-1-19h2m-2 2h2m-2 0h2m-2 0h2m-1-3h2m-2 0h2m-2 0h2m-2 1h2m-2 1h2m-2 0h2m-2 0h2m-2 1h2m-2 1h2m-2 0h2m-2 1h2m-2 1h2m-2 1h2m-2 3h2m-2 0h2m-2 4h2m-1-12h2m-2 0h2m-2 3h2m-2 1h2m-2 2h2m-2 1h2m-2 0h2m-2 1h2m-2 2h2m-2 0h2m-2 1h2m-2 0h2m-2 2h2m-1-15h2m-2 1h2m-2 1h2m-2 1h2m-2 0h2m-2 0h2m-2 5h2m-2 1h2m-2 1h2m-2 2h2m-2 0h2m-2 2h2m-2 0h2m-1-13h2m-2 0h2m-2 0h2m-2 1h2m-2 0h2m-2 1h2m-2 1h2m-2 0h2m-2 0h2m-2 1h2m-2 1h2m-2 2h2m-2 1h2m-2 2h2m-2 1h2m-2 1h2m-2 0h2m-2 0h2m-2 0h2m-2 1h2m-2 0h2m-2 0h2m-2 4h2m-2 1h2m-1-19h2m-2 1h2m-2 0h2m-2 1h2m-2 7h2m-2 2h2m-2 0h2m-2 1h2m-2 3h2m-2 1h2m-2 3h2m-1-19h2m-2 1h2m-2 3h2m-2 0h2m-2 4h2m-2 1h2m-2 1h2m-1-10h2m-2 1h2m-2 0h2m-2 1h2m-2 2h2m-2 0h2m-2 0h2m-2 0h2m-2 1h2m-2 0h2m-2 4h2m-2 0h2m-2 2h2m-2 1h2m-2 1h2m-1-11h2m-2 2h2m-2 1h2m-2 1h2m-2 5h2m-1-10h2m-2 0h2m-2 1h2m-2 0h2m-2 1h2m-2 3h2m-1-6h2m-2 1h2m-2 2h2m-2 1h2m-2 1h2m-1-5h2m-2 3h2m-2 0h2m-2 0h2m-2 1h2m-2 0h2m-2 3h2m-2 1h2m-2 0h2m-2 1h2m-2 2h2m-1-10h2m-2 0h2m-2 1h2m-2 0h2m-2 1h2m-2 1h2m-2 0h2m-2 1h2m-2 1h2m-2 0h2m-2 3h2m-2 0h2m-2 1h2m-2 2h2m-1-12h2m-2 1h2m-2 1h2m-2 1h2m-2 3h2m-2 1h2m-2 3h2m-1-9h2m-2 4h2m-1-3h2m-2 1h2m-2 1h2m-2 2h2m-2 1h2m-2 2h2m-1-3h2m-2 3h2m-1-8h2m-2 0h2m-2 0h2m-2 0h2m-2 0h2m-2 0h2m-2 1h2m-2 1h2m-2 1h2m-2 0h2m-2 2h2m-2 0h2m-2 0h2m-2 1h2m-1-7h2m-2 1h2m-2 0h2m-2 3h2m-2 0h2m-2 0h2m-2 1h2m-2 1h2m-2 0h2m-2 1h2m-2 4h2m-2 0h2m-1-9h2m-2 2h2m-2 1h2m-2 1h2m-1-4h2m-2 1h2m-2 4h2m-2 1h2m-2 0h2m-2 1h2m-1-9h2m-2 0h2m-2 1h2m-2 0h2m-2 6h2m-1-4h2m-2 2h2m-2 1h2m-1-6h2m-2 2h2m-2 1h2m-2 0h2m-2 3h2m-2 2h2m-2 0h2m-2 4h2m-1-10h2m-2 0h2m-2 3h2m-1-2h2m0 1h2m-2 1h2m-1-2h2m2-2h2m-2 0h2m-2 1h2m-2 1h2m10-1h2m-2 1h2m-1-1h2m-2 0h2m-2 1h2m-2 0h2m1-2h2m-2 2h2m0-1h2m-2 1h2m-2 1h2m-1-2h2m-2 4h2m-2 1h2m2-5h2m-1-1h2m-2 0h2m-2 1h2m-2 1h2m-2 0h2m-2 0h2m-2 2h2m-2 0h2m-1-5h2m-2 1h2m-2 2h2m3-3h2m-1 1h2m-1-1h2m-2 1h2m-2 0h2m-1-2h2m-2 1h2m-2 0h2m-1 1h2m-2 2h2m-1-3h2m-1 1h2m-2 0h2m-2 2h2m-2 2h2m1-3h2m-2 0h2m-1-3h2m-2 1h2m-2 2h2m-1-3h2m-2 1h2m1 1h2m-1-4h2m-2 1h2m4 2h2m-1 0h2m-2 1h2m-2 0h2m-2 0h2m-2 1h2m-1-2h2m-2 0h2m5 4h2m-2 0h2m-1-4h2m-2 1h2m-2 2h2m-2 0h2m-2 4h2m-2 1h2m-2 1h2m-1-6h2m1-2h2m-2 1h2m-2 3h2m-2 1h2m-2 0h2m-2 6h2m-2 1h2m-1-13h2m-2 3h2m-2 0h2m-2 0h2m-2 1h2m-2 0h2m-2 4h2m-2 2h2m-2 0h2m-2 1h2m-2 1h2m-2 3h2m-1-12h2m-2 3h2m-2 3h2m0-8h2m-2 7h2m-2 2h2m-1-9h2m-2 3h2m-2 1h2m-2 3h2m5-4h2m-1-2h2m-2 0h2m-2 1h2m-2 0h2m-2 1h2m-2 1h2m-2 3h2m-2 6h2m-2 0h2m-1-10h2m-2 0h2m-2 4h2m2-7h2m-2 2h2m-2 1h2m-2 2h2m-2 0h2m-2 0h2m-2 3h2m-2 3h2m-2 1h2m-2 7h2m-2 2h2m-2 4h2m-1-26h2m-2 1h2m-2 1h2m-2 0h2m-2 0h2m-2 3h2m-2 4h2m-2 0h2m-2 4h2m-2 1h2m-2 9h2m-1-15h2m-2 1h2m-2 0h2m-2 1h2m-2 2h2m-2 2h2m-2 2h2m-1-10h2m-2 6h2m1-8h2m-1-2h2m-2 1h2m-2 1h2m-2 2h2m-2 0h2m-2 1h2m-2 0h2m-2 1h2m-2 2h2m-2 3h2m-1-6h2m-2 1h2m-1-3h2m-2 6h2m-2 1h2m-2 2h2m-1-13h2m-2 4h2m-2 1h2m-2 7h2m0-10h2m-2 1h2m-2 2h2m-2 1h2m-2 1h2m-2 4h2m-1 2h2m-1-11h2m-1 0h2m-2 1h2m-2 3h2m-2 0h2m-2 0h2m-2 2h2m-2 4h2m2-7h2m-2 1h2m-2 0h2m-1 0h2m-2 1h2m-2 0h2m-2 2h2m-1-7h2m-2 1h2m-2 0h2m-2 1h2m-2 0h2m-2 2h2m-2 5h2m-1-10h2m-2 1h2m-2 0h2m-2 0h2m-2 6h2m-2 3h2m-2 0h2m-2 1h2m-1-11h2m-2 0h2m-2 0h2m-2 0h2m-2 1h2m-2 1h2m-2 0h2m-2 2h2m-2 2h2m-2 0h2m-2 2h2m-2 2h2m-2 1h2m-1-10h2m-2 1h2m-2 0h2m-2 1h2m-2 2h2m-2 1h2m-2 1h2m-2 0h2m-2 3h2m-2 3h2m1-13h2m-1 3h2m-2 1h2m-2 1h2m0-1h2m-2 4h2m-2 3h2m-1-12h2m-2 0h2m-2 3h2m-2 1h2m-2 0h2m-2 1h2m-2 0h2m-2 4h2m-2 10h2m-1-17h2m-2 4h2m-2 2h2m-2 6h2m-2 0h2m-1-13h2m-2 2h2m-2 2h2m-2 0h2m-2 2h2m-2 3h2m-2 0h2m-1-8h2m-2 0h2m-2 0h2m-2 0h2m-2 0h2m-2 1h2m-2 0h2m-2 1h2m-2 0h2m-2 2h2m-2 2h2m-2 1h2m-2 3h2m-2 2h2m-1-10h2m-2 1h2m-2 0h2m-2 1h2m-2 3h2m-2 1h2m-2 4h2m-2 2h2m-1-11h2m-2 2h2m-2 1h2m-2 0h2m-1-1h2m-1-1h2m-2 1h2m-2 1h2m-2 0h2m-2 0h2m-2 3h2m-2 1h2m-2 1h2m0-7h2m-2 0h2m-2 6h2m-2 2h2m-2 1h2m-2 2h2m-2 2h2m-2 0h2m-1-12h2m-2 1h2m-2 2h2m-2 1h2m-2 0h2m-2 0h2m-2 6h2m-1-10h2m-2 3h2m-2 0h2m-1 1h2m-2 0h2m-2 3h2m-2 1h2m-2 1h2m-1-7h2m-2 5h2m-2 0h2m-2 0h2m1 8h2m-1-2h2m-2 1h2m-2 1h2m-2 0h2m-2 0h2m-2 0h2m-2 2h2m-2 4h2m-2 1h2m-1-10h2m-2 4h2m-2 0h2m-2 9h2m-2 5h2m-2 1h2m-2 2h2m-1-30h2m-2 1h2m-2 8h2m-2 4h2m-2 1h2m-2 19h2m-1-24h2m-2 1h2m-2 3h2m-2 1h2m-2 0h2m-2 1h2m-2 1h2m-2 2h2m-1-12h2m-2 8h2m-2 0h2m-2 0h2m-2 5h2m-2 0h2m-2 0h2m-2 1h2m-2 0h2m-2 1h2m-2 4h2m-2 3h2m-2 2h2m-1-28h2m-2 2h2m-2 7h2m-2 0h2m-2 0h2m-2 2h2m-2 1h2m-2 0h2m-2 0h2m-2 1h2m-2 0h2m-2 1h2m-2 1h2m-2 1h2m-2 0h2m-2 0h2m-2 1h2m-2 0h2m-2 0h2m-2 2h2m-2 0h2m-2 1h2m-2 1h2m-1-11h2m-2 3h2m-2 2h2m-2 1h2m-2 1h2m-2 4h2m-2 2h2m-2 2h2m-2 0h2m-2 1h2m-2 0h2m-2 2h2m-1-14h2m-2 1h2m-2 0h2m-2 0h2m-2 1h2m-2 1h2m-2 2h2m-2 0h2m-2 0h2m-2 0h2m-2 0h2m-2 1h2m-2 4h2m-2 2h2m-2 1h2m-2 0h2m-1-13h2m-1-1h2m-2 2h2m-2 2h2m-2 1h2m-2 1h2m-2 4h2m-2 2h2m-2 1h2m-2 1h2m-2 0h2m-1-15h2m-2 2h2m-2 3h2m-2 0h2m-2 4h2m-2 1h2m-2 1h2m-1-10h2m-2 0h2m-2 6h2m-2 7h2m-2 1h2m-1-13h2m-2 2h2m-2 3h2m-2 1h2m-2 1h2m-2 1h2m-2 3h2m-2 3h2m-2 1h2m-1-18h2m-2 3h2m-2 0h2m-1-4h2m-2 0h2m-2 6h2m-2 5h2m-1-16h2m-2 9h2m-2 4h2m-2 4h2m-2 2h2m-2 13h2m-1-31h2m-2 6h2m-2 1h2m-2 1h2m-2 0h2m-2 5h2m-2 3h2m-2 2h2m-2 5h2m-2 0h2m-2 4h2m-2 7h2m-2 0h2m-2 1h2m-1-36h2m-2 6h2m-2 0h2m-2 1h2m-2 0h2m-2 2h2m-2 0h2m-2 2h2m-2 2h2m-2 2h2m-2 0h2m-2 1h2m-2 4h2m-2 3h2m-2 10h2m-1-30h2m-2 1h2m-2 0h2m-2 1h2m-2 0h2m-2 2h2m-2 4h2m-2 1h2m-2 0h2m-1-9h2m-2 1h2m-2 0h2m-2 3h2m-2 0h2m-2 1h2m-2 1h2m-2 1h2m-2 1h2m-1-10h2m-2 5h2m-2 1h2m-2 1h2m-2 1h2m-2 2h2m-2 5h2m-2 1h2m-2 9h2m-2 2h2m-2 4h2m-1-39h2m-2 6h2m-2 1h2m-2 1h2m-2 1h2m-2 1h2m-2 2h2m-2 2h2m-2 1h2m-2 6h2m-2 1h2m-2 2h2m-2 2h2m-2 1h2m-2 10h2m-2 0h2m-2 3h2m-2 2h2m-1-41h2m-2 6h2m-2 0h2m-2 0h2m-2 0h2m-2 2h2m-2 1h2m-2 1h2m-2 1h2m-2 1h2m-2 1h2m-2 0h2m-2 1h2m-2 1h2m-2 0h2m-2 2h2m-2 2h2m-2 3h2m-2 0h2m-1-18h2m-2 3h2m-2 7h2m-2 0h2m-2 1h2m-2 0h2m-2 1h2m-1-7h2m-2 4h2m-2 1h2m-2 0h2m-1-10h2m-2 2h2m-2 0h2m-2 2h2m-2 4h2m-2 6h2m5-15h2m-2 13h2m-2 2h2m-2 0h2m-2 1h2m-2 2h2m-2 17h2m-2 8h2m-2 1h2m-1-30h2m-2 1h2m-2 7h2m-2 6h2m-2 1h2m-2 3h2m-2 2h2m-2 1h2m-2 6h2m-2 3h2m-1-50h2m-2 32h2m-2 5h2m-2 1h2m-2 2h2m-2 2h2m7-42h2m-2 3h2m-1-4h2m-2 0h2m-2 3h2m-2 2h2m-1-1h2m-2 1h2m-1-6h2m-2 2h2m-2 3h2m-2 1h2m-2 1h2m-1-6h2m-2 0h2m-2 0h2m0 7h2m-2 0h2m-1-7h2m-2 5h2m-2 2h2m-1-8h2m-2 0h2m-1 0h2m-2 1h2m-1-1h2m-2 3h2m-1-3h2m-2 1h2m-2 1h2m-2 3h2m-1-5h2m-2 1h2m-2 0h2m-2 0h2m-2 1h2m-1-2h2m-2 4h2m-2 3h2m-1-8h2m-2 7h2m-1-5h2m-2 1h2m-2 1h2m-2 0h2m-2 1h2m-2 1h2m-1-6h2m-2 6h2m-2 1h2m-1-6h2m-1 1h2m-1-2h2m-1 0h2m-2 0h2m-1 1h2m-2 1h2m2-2h2m-2 5h2m-2 0h2m-2 0h2m-2 1h2m-1-7h2m-2 0h2m-2 5h2m-2 1h2m1-5h2m-2 2h2m-1-2h2m-2 0h2m-2 3h2m-1 1h2m-2 2h2m-1-6h2m-2 1h2m-2 1h2m-2 0h2m-2 0h2m-1-1h2m-2 3h2m1-2h2m-2 0h2m-2 1h2m-2 3h2m-1-6h2m0-1h2m-2 3h2m-1 1h2m0-5h2m-2 2h2m-2 3h2m-1-1h2m3-1h2m-1-3h2m-2 0h2m0 1h2m-1 1h2m-2 1h2m-2 1h2m1-4h2m-1 0h2m-1-1h2m-2 1h2m-2 2h2" stroke="#00b050" stroke-width="2.2" fill="none"/>
<path transform="scale(.5)" d="M972 130h3m-3 3h3m-3 2h3m-3 0h3m-2-7h3m-3 2h3m-3 2h3m-3 1h3m-2-5h3m-3 0h3m-3 1h3m-3 2h3m-3 2h3m-3 1h3m-2-6h3m-2-3h3m-3 1h3m-3 2h3m-3 1h3m-3 0h3m-3 2h3m-3 2h3m-2-3h3m-3 2h3m-2-6h3m-3 0h3m-3 3h3m-3 1h3m-3 1h3m-3 1h3m-3 0h3m-3 0h3m-2-2h3m-3 1h3m-2-9h3m-3 1h3m-3 4h3m-3 2h3m-2-5h3m-3 0h3m-3 1h3m-3 6h3m-2-10h3m-3 1h3m-3 3h3m-3 2h3m-3 0h3m-3 0h3m-3 2h3m-3 0h3m-2-6h3m-2-1h3m-3 2h3m-3 1h3m-2-5h3m-3 1h3m-3 1h3m-3 2h3m-3 3h3m-2-9h3m-3 4h3m-3 0h3m-3 1h3m-2-3h3m-3 2h3m-3 1h3m-3 2h3m-2-6h3m-3 1h3m-3 0h3m-3 1h3m-2-3h3m-3 2h3m-3 2h3m-3 2h3m-2-6h3m-3 3h3m-2-6h3m-3 1h3m-3 3h3m-3 0h3m-3 3h3m-3 0h3m-2-5h3m-2-3h3m-3 0h3m-3 1h3m-3 2h3m-3 0h3m-2-5h3m-3 2h3m-3 1h3m-3 1h3m-3 0h3m-3 1h3m-3 1h3m-3 0h3m-2-5h3m-3 1h3m-2-4h3m-3 1h3m-3 1h3m-3 3h3m-3 0h3m-3 1h3m-2-2h3m-3 2h3m-2-7h3m-3 0h3m-3 2h3m-3 2h3m-2-5h3m-3 2h3m-3 1h3m-3 5h3m-2-10h3m-3 4h3m-3 2h3m-2-5h3m-3 0h3m-3 2h3m-3 0h3m-3 1h3m-2-3h3m-3 0h3m-3 1h3m-3 3h3m-2-7h3m-3 4h3m-3 1h3m-3 1h3m-2-7h3m-3 1h3m-3 1h3m-3 2h3m-3 1h3m-3 1h3m-2-5h3m-3 2h3m-2-5h3m-3 2h3m-3 0h3m-3 1h3m-3 1h3m-3 1h3m-2-4h3m-2-3h3m-3 3h3m-2-2h3m-3 1h3m-3 0h3m-3 2h3m-3 0h3m-2-4h3m-3 0h3m-3 1h3m-3 1h3m-2-3h3m-3 1h3m-3 4h3m-2-5h3m-3 1h3m-3 1h3m-3 2h3m-2-2h3m-3 1h3m-2-5h3m-3 3h3m-3 3h3m-3 0h3m-3 0h3m-3 0h3m-2-7h3m-3 4h3m-2 1h3m-2-6h3m-3 3h3m-3 1h3m-3 0h3m-3 2h3m-3 1h3m-3 0h3m-2-5h3m-3 0h3m-3 1h3m-2-3h3m-3 0h3m-3 1h3m-3 4h3m-3 1h3m-2-6h3m-3 1h3m-3 3h3m-3 1h3m-3 2h3m-2-7h3m-3 0h3m-3 4h3m-2-4h3m-3 1h3m-3 2h3m-2 3h3m-3 0h3m-3 1h3m-3 7h3m-3 5h3m-3 5h3m-3 0h3m-3 8h3m-2-31h3m-3 1h3m-3 5h3m-3 7h3m-3 20h3m-3 1h3m-3 10h3m-2-45h3m-3 0h3m-3 1h3m-3 2h3m-3 1h3m-3 2h3m-3 2h3m-3 9h3m-3 11h3m-3 1h3m-3 2h3m-3 4h3m-2-34h3m-3 0h3m-3 2h3m-3 0h3m-3 1h3m-3 2h3m-3 0h3m-3 26h3m-3 14h3m-3 2h3m-2-46h3m-3 4h3m-3 2h3m-3 8h3m-3 33h3m-3 0h3m-3 2h3m-2-51h3m-3 1h3m-3 2h3m-3 0h3m-3 2h3m-3 5h3m-3 1h3m-3 23h3m-3 1h3m-2-35h3m-3 6h3m-3 9h3m-3 6h3m-3 0h3m-3 4h3m-3 4h3m-3 2h3m-3 6h3m-2-31h3m-3 25h3m-3 0h3m-3 4h3m-3 15h3m-3 8h3m-2-47h3m-3 2h3m-3 4h3m-3 24h3m-3 1h3m-3 15h3m-2-45h3m-3 22h3m-3 8h3m-3 8h3m-3 3h3m-3 7h3m-2-21h3m-3 14h3m-3 6h3m-3 4h3m-2-42h3m-3 1h3m-3 5h3m-3 5h3m-3 4h3m-3 2h3m-3 2h3m-3 17h3m-2-17h3m-3 1h3m-3 19h3m-3 2h3m-3 4h3m-2-49h3m-3 4h3m-3 11h3m-3 20h3m-3 1h3m-3 2h3m-3 0h3m-3 83h3m-2-121h3m-3 5h3m-3 9h3m-3 4h3m-3 8h3m-3 8h3m-3 19h3m-3 32h3m-3 12h3m-3 12h3m-3 24h3m-2-134h3m-3 9h3m-3 4h3m-3 3h3m-3 9h3m-3 29h3m-2-48h3m-3 4h3m-3 2h3m-3 19h3m-3 7h3m-3 16h3m-2-49h3m-3 2h3m-3 4h3m-3 17h3m-3 5h3m-3 7h3m-3 7h3m-3 4h3m-2-36h3m-3 2h3m-3 1h3m-3 13h3m-3 3h3m-3 5h3m-3 2h3m-3 16h3m-2-54h3m-3 11h3m-3 20h3m-3 13h3m-3 6h3m-3 10h3m-2-51h3m-3 2h3m-3 5h3m-3 11h3m-3 35h3m-2-61h3m-3 5h3m-3 3h3m-3 7h3m-3 2h3m-3 1h3m-3 8h3m-3 0h3m-3 3h3m-3 8h3m-2-24h3m-3 12h3m-3 2h3m-3 7h3m-3 1h3m-3 5h3m-3 1h3m-3 5h3m-3 10h3m-3 3h3m-2-37h3m-3 0h3m-3 4h3m-3 8h3m-3 28h3m-2-52h3m-3 1h3m-3 8h3m-3 4h3m-3 13h3m-3 5h3m-3 0h3m-3 8h3m-2-36h3m-3 4h3m-3 7h3m-3 12h3m-3 4h3m-3 7h3m-3 1h3m-3 21h3m-2-61h3m-3 8h3m-3 37h3m-3 14h3m-3 1h3m-2-55h3m-3 14h3m-3 22h3m-3 0h3m-3 4h3m-3 1h3m-3 5h3m-3 9h3m-3 5h3m-2-52h3m-3 10h3m-3 0h3m-3 4h3m-3 5h3m-3 3h3m-3 0h3m-3 4h3m-3 11h3m-3 6h3m-3 12h3m-2-40h3m-3 3h3m-3 10h3m-3 25h3m-2-60h3m-3 13h3m-3 2h3m-3 21h3m-3 0h3m-3 4h3m-3 5h3m-3 7h3m-3 5h3m-3 1h3m-3 7h3m-2-64h3m-3 30h3m-3 3h3m-3 16h3m-3 4h3m-2-50h3m-3 1h3m-3 5h3m-3 0h3m-3 28h3m-3 8h3m-3 0h3m-3 9h3m-2-30h3m-3 5h3m-3 6h3m-3 9h3m-3 3h3m-3 6h3m-3 6h3m-3 3h3m-3 4h3m-2-62h3m-3 12h3m-3 13h3m-3 34h3m-2-42h3m-3 3h3m-3 1h3m-3 15h3m-3 5h3m-3 6h3m-3 4h3m-3 4h3m-3 2h3m-3 3h3m-3 4h3m-3 2h3m-2-57h3m-3 2h3m-3 3h3m-3 5h3m-3 11h3m-3 13h3m-3 22h3m-3 1h3m-3 4h3m-3 0h3m-2-64h3m-3 12h3m-3 13h3m-3 5h3m-3 9h3m-3 17h3m-3 47h3m-2-97h3m-3 3h3m-3 7h3m-3 2h3m-3 19h3m-3 7h3m-3 16h3m-2-44h3m-3 10h3m-3 1h3m-3 8h3m-3 2h3m-3 18h3m-3 6h3m-3 3h3m-2-56h3m-3 13h3m-3 6h3m-3 1h3m-3 1h3m-3 13h3m-3 16h3m-3 1h3m-3 5h3m-2-59h3m-3 18h3m-3 12h3m-3 0h3m-3 4h3m-3 19h3m-3 14h3m-3 37h3m-2-89h3m-3 10h3m-3 6h3m-3 5h3m-3 2h3m-3 5h3m-3 8h3m-2-48h3m-3 31h3m-3 10h3m-3 8h3m-3 1h3m-3 7h3m-3 4h3m-3 3h3m-3 4h3m-2-53h3m-3 1h3m-3 11h3m-3 29h3m-2-47h3m-3 4h3m-3 3h3m-3 2h3m-3 2h3m-3 7h3m-3 2h3m-3 10h3m-3 4h3m-3 3h3m-3 1h3m-2-38h3m-3 0h3m-3 8h3m-3 2h3m-3 0h3m-3 3h3m-3 0h3m-3 1h3m-3 26h3m-3 3h3m-3 17h3m-2-70h3m-3 6h3m-3 2h3m-3 4h3m-3 4h3m-3 2h3m-2-13h3m-3 6h3m-3 1h3m-3 2h3m-3 3h3m-2-27h3m-3 3h3m-3 6h3m-3 9h3m-3 3h3m-3 3h3m-3 0h3m-2-26h3m-3 7h3m-3 1h3m-3 0h3m-3 5h3m-3 2h3m-3 2h3m-3 5h3m-2-28h3m-3 1h3m-3 2h3m-3 2h3m-2-7h3m-3 2h3m-3 6h3m-3 3h3m-3 6h3" stroke="#00b050" stroke-width="2.8" fill="none"/>
<path transform="scale(.5)" d="M513 404h2m-2 16h2m-1-11h2m-2 1h2m-2 1h2m-2 1h2m-2 0h2m-2 3h2m-2 2h2m-2 3h2m-2 3h2m-1-18h2m-2 12h2m-2 0h2m-2 1h2m-2 5h2m-1-15h2m-2 1h2m-2 3h2m-2 2h2m-2 1h2m-2 1h2m-1-11h2m-2 0h2m-2 1h2m-2 1h2m-2 3h2m-2 14h2m-1-16h2m-2 1h2m-2 4h2m-2 2h2m-2 1h2m-2 4h2m-1-16h2m-2 4h2m-2 11h2m-2 1h2m-2 0h2m-2 3h2m-2 2h2m-1-17h2m-2 10h2m-2 1h2m-2 3h2m-2 0h2m-1-15h2m-2 1h2m-2 2h2m-2 5h2m-2 3h2m-2 1h2m-2 6h2m-1-18h2m-2 3h2m-2 2h2m-2 3h2m-2 6h2m-2 2h2m-1-9h2m-2 2h2m-2 1h2m-2 1h2m-2 1h2m-2 2h2m-2 1h2m-2 3h2m-1-19h2m-2 1h2m-2 18h2m-2 0h2m-1-18h2m-2 1h2m-2 4h2m-2 0h2m-2 4h2m-2 10h2m-1-21h2m-2 2h2m-2 1h2m-2 7h2m-2 1h2m-2 1h2m-2 2h2m-2 4h2m-1-14h2m-2 5h2m-2 2h2m-2 4h2m-2 3h2m-1-18h2m-2 2h2m-2 1h2m-2 4h2m-2 1h2m-2 9h2m-2 1h2m-2 3h2m-2 2h2m-1-22h2m-2 0h2m-2 5h2m-2 1h2m-2 1h2m-2 8h2m-1-38h2m-2 2h2m-2 0h2m-2 2h2m-2 23h2m-2 7h2m-2 5h2m-2 4h2m-1-50h2m-2 0h2m-2 5h2m-2 1h2m-2 25h2m-2 2h2m-2 0h2m-2 2h2m-2 2h2m-2 4h2m-2 0h2m-2 3h2m-2 3h2m-2 0h2m-2 3h2m-2 1h2m-1-49h2m-2 4h2m-2 24h2m-2 4h2m-2 6h2m-2 6h2m-2 3h2m-2 1h2m-1-47h2m-2 0h2m-2 1h2m-2 2h2m-2 1h2m-2 1h2m-2 23h2m-2 18h2m-2 1h2m-2 2h2m-2 1h2m-1-59h2m-2 1h2m-2 2h2m-2 8h2m-2 2h2m-2 23h2m-2 1h2m-2 0h2m-2 2h2m-2 4h2m-2 10h2m-1-57h2m-2 11h2m-2 1h2m-2 3h2m-2 25h2m-2 0h2m-2 1h2m-2 1h2m-2 0h2m-2 5h2m-2 3h2m-2 6h2m-2 2h2m-2 0h2m-2 1h2m-2 3h2m-1-65h2m-2 2h2m-2 1h2m-2 1h2m-2 8h2m-2 2h2m-2 0h2m-2 41h2m-2 8h2m-1-61h2m-2 0h2m-2 5h2m-2 5h2m-2 0h2m-2 4h2m-2 3h2m-2 24h2m-2 3h2m-2 1h2m-2 2h2m-2 6h2m-2 3h2m-2 0h2m-2 5h2m-2 1h2m-1-66h2m-2 0h2m-2 11h2m-2 7h2m-2 2h2m-2 33h2m-2 3h2m-2 2h2m-2 2h2m-2 1h2m-2 1h2m-1-62h2m-2 3h2m-2 1h2m-2 5h2m-2 4h2m-2 1h2m-2 4h2m-2 27h2m-2 1h2m-2 13h2m-1-61h2m-2 4h2m-2 7h2m-2 3h2m-2 6h2m-2 28h2m-2 4h2m-2 8h2m-2 1h2m-2 3h2m-2 5h2m-2 1h2m-2 0h2m-1-69h2m-2 2h2m-2 10h2m-2 2h2m-2 0h2m-2 5h2m-2 28h2m-2 2h2m-2 3h2m-2 3h2m-2 1h2m-2 1h2m-2 3h2m-2 4h2m-2 1h2m-1-67h2m-2 2h2m-2 5h2m-2 1h2m-2 2h2m-2 1h2m-2 5h2m-2 39h2m-2 9h2m-2 5h2m-2 1h2m-1-60h2m-2 1h2m-2 1h2m-2 1h2m-2 4h2m-2 6h2m-2 27h2m-2 3h2m-2 6h2m-2 2h2m-2 4h2m-2 6h2m-2 0h2m-1-69h2m-2 1h2m-2 3h2m-2 1h2m-2 4h2m-2 0h2m-2 1h2m-2 4h2m-2 36h2m-2 4h2m-2 2h2m-2 3h2m-2 4h2m-1-65h2m-2 1h2m-2 7h2m-2 1h2m-2 1h2m-2 2h2m-2 6h2m-2 3h2m-2 29h2m-2 2h2m-2 1h2m-2 3h2m-2 7h2m-2 5h2m-2 0h2m-2 3h2m-1-66h2m-2 5h2m-2 3h2m-2 8h2m-2 30h2m-2 6h2m-2 1h2m-2 7h2m-2 1h2m-2 0h2m-2 2h2m-1-70h2m-2 4h2m-2 1h2m-2 2h2m-2 1h2m-2 3h2m-2 4h2m-2 4h2m-2 35h2m-2 1h2m-2 3h2m-2 9h2m-2 1h2m-2 5h2m-2 0h2m-2 2h2m-1-68h2m-2 1h2m-2 4h2m-2 2h2m-2 0h2m-2 2h2m-2 4h2m-2 36h2m-2 5h2m-2 3h2m-2 4h2m-2 2h2m-2 4h2m-1-75h2m-2 6h2m-2 6h2m-2 6h2m-2 5h2m-2 0h2m-2 1h2m-2 0h2m-2 30h2m-2 1h2m-2 0h2m-2 5h2m-2 3h2m-2 2h2m-2 7h2m-2 0h2m-1-70h2m-2 7h2m-2 1h2m-2 9h2m-2 2h2m-2 1h2m-2 0h2m-2 32h2m-2 1h2m-2 6h2m-2 1h2m-2 12h2m-1-57h2m-2 1h2m-2 1h2m-2 0h2m-2 3h2m-2 2h2m-2 32h2m-2 5h2m-2 8h2m-2 2h2m-2 3h2m-2 0h2m-1-72h2m-2 8h2m-2 1h2m-2 1h2m-2 9h2m-2 35h2m-2 5h2m-2 7h2m-2 2h2m-2 4h2m-2 3h2m-2 0h2m-1-78h2m-2 1h2m-2 5h2m-2 1h2m-2 1h2m-2 0h2m-2 5h2m-2 0h2m-2 0h2m-2 1h2m-2 4h2m-2 1h2m-2 2h2m-2 2h2m-2 1h2m-2 41h2m-2 0h2m-2 9h2m-2 3h2m-1-76h2m-2 8h2m-2 47h2m-2 2h2m-2 0h2m-2 1h2m-2 1h2m-2 7h2m-1-50h2m-2 1h2m-2 54h2m-2 5h2m128-12h2m-2 5h2m-2 17h2m-2 0h2m-1-19h2m-2 11h2m-2 5h2m-2 1h2m-2 1h2m-2 1h2m-2 0h2m-2 3h2m-1-23h2m-2 2h2m-2 2h2m-2 3h2m-2 3h2m-2 1h2m-2 9h2m-1-21h2m-2 5h2m-2 0h2m-2 1h2m-2 13h2m-2 4h2m-1-23h2m-2 7h2m-2 2h2m-2 0h2m-2 1h2m-2 7h2m-2 4h2m-2 0h2m-1-23h2m-2 1h2m-2 4h2m-2 4h2m-2 1h2m-2 3h2m-2 0h2m-2 9h2m-2 2h2m-2 0h2m-1-24h2m-2 6h2m-2 1h2m-2 6h2m-2 0h2m-2 3h2m-2 0h2m-2 0h2m-2 1h2m-1-14h2m-2 0h2m-2 10h2m-2 2h2m-2 2h2m-2 7h2m-1-32h2m-2 1h2m-2 3h2m-2 8h2m-2 2h2m-2 8h2m-2 0h2m-2 3h2m-2 5h2m-2 2h2m-2 2h2m-1-33h2m-2 3h2m-2 5h2m-2 10h2m-2 3h2m-2 2h2m-2 2h2m-2 7h2m-1-33h2m-2 1h2m-2 7h2m-2 3h2m-2 5h2m-2 0h2m-2 4h2m-2 9h2m-1-34h2m-2 4h2m-2 4h2m-2 0h2m-2 1h2m-2 1h2m-2 7h2m-2 2h2m-2 1h2m-2 1h2m-2 5h2m-2 4h2m-2 2h2m-1-30h2m-2 4h2m-2 1h2m-2 2h2m-2 3h2m-2 0h2m-2 3h2m-2 0h2m-2 1h2m-2 0h2m-2 1h2m-2 2h2m-2 5h2m-2 5h2m-2 1h2m-2 3h2m-2 0h2m-1-32h2m-2 7h2m-2 8h2m-2 3h2m-2 0h2m-2 5h2m-1-26h2m-2 4h2m-2 5h2m-2 6h2m-2 2h2m-2 5h2m-2 1h2m-2 1h2m-2 6h2m-2 10h2m-2 1h2m-1-39h2m-2 6h2m-2 2h2m-2 1h2m-2 4h2m-2 8h2m-2 8h2m-2 1h2m-2 5h2m-2 0h2m-1-39h2m-2 3h2m-2 3h2m-2 1h2m-2 10h2m-2 2h2m-2 2h2m-2 7h2m-2 4h2m-2 2h2m-2 1h2m-2 7h2m-2 0h2m-1-42h2m-2 1h2m-2 0h2m-2 3h2m-2 6h2m-2 15h2m-2 2h2m-2 1h2m-2 1h2m-2 1h2m-2 1h2m-2 5h2m-2 5h2m-1-41h2m-2 0h2m-2 5h2m-2 4h2m-2 1h2m-2 0h2m-2 7h2m-2 10h2m-2 3h2m-2 4h2m-2 3h2m-2 3h2m-1-40h2m-2 5h2m-2 10h2m-2 1h2m-2 10h2m-2 7h2m-2 1h2m-2 1h2m-2 3h2m-2 3h2m-1-45h2m-2 6h2m-2 2h2m-2 1h2m-2 11h2m-2 1h2m-2 9h2m-2 1h2m-2 1h2m-2 2h2m-2 2h2m-2 0h2m-2 8h2m-1-44h2m-2 1h2m-2 2h2m-2 2h2m-2 2h2m-2 16h2m-2 8h2m-2 3h2m-2 0h2m-2 1h2m-2 7h2m-2 3h2m-1-45h2m-2 1h2m-2 4h2m-2 6h2m-2 1h2m-2 12h2m-2 7h2m-2 0h2m-2 1h2m-2 3h2m-2 2h2m-2 1h2m-2 0h2m-2 4h2m-1-36h2m-2 1h2m-2 0h2m-2 1h2m-2 13h2m-2 2h2m-2 16h2m-2 0h2m-2 6h2m-1-47h2m-2 3h2m-2 5h2m-2 2h2m-2 2h2m-2 10h2m-2 4h2m-2 1h2m-2 2h2m-2 2h2m-2 1h2m-2 7h2m-2 1h2m-2 3h2m-2 3h2m-1-43h2m-2 1h2m-2 4h2m-2 1h2m-2 1h2m-2 0h2m-2 1h2m-2 10h2m-2 4h2m-2 9h2m-2 0h2m-2 9h2m-2 1h2m-1-47h2m-2 2h2m-2 1h2m-2 0h2m-2 24h2m-2 2h2m-2 0h2m-2 5h2m-2 0h2m-2 5h2m-2 1h2m-2 4h2m-1-43h2m-2 7h2m-2 2h2m-2 0h2m-2 5h2m-2 10h2m-2 2h2m-2 0h2m-2 2h2m-2 5h2m-2 4h2m-2 1h2m-2 1h2m-2 4h2m-2 4h2m-1-49h2m-2 1h2m-2 0h2m-2 4h2m-2 10h2m-2 12h2m-2 8h2m-2 1h2m-2 8h2m-2 1h2m-2 6h2m-1-52h2m-2 2h2m-2 1h2m-2 2h2m-2 0h2m-2 0h2m-2 2h2m-2 4h2m-2 24h2m-2 0h2m-2 5h2m-2 1h2m-2 2h2m-2 4h2m-2 2h2m-1-51h2m-2 3h2m-2 8h2m-2 0h2m-2 1h2m-2 0h2m-2 17h2m-2 3h2m-2 1h2m-2 0h2m-2 7h2m-2 12h2m-1-52h2m-2 0h2m-2 1h2m-2 3h2m-2 11h2m-2 1h2m-2 12h2m-2 4h2m-2 4h2m-2 1h2m-2 5h2m-2 6h2m-2 3h2m-1-48h2m-2 6h2m-2 18h2m-2 2h2m-2 3h2m-2 6h2m-2 1h2m-2 1h2m-2 1h2m-2 7h2m-2 3h2m-2 0h2m-1-53h2m-2 2h2m-2 2h2m-2 0h2m-2 1h2m-2 6h2m-2 1h2m-2 3h2m-2 18h2m-2 1h2m-2 12h2m-2 0h2m-1-46h2m-2 1h2m-2 4h2m-2 4h2m-2 2h2m-2 0h2m-2 4h2m-2 14h2m-2 2h2m-2 1h2m-2 10h2m-2 3h2m-2 4h2m-2 0h2m-2 4h2m-1-50h2m-2 5h2m-2 0h2m-2 31h2m-2 1h2m-2 0h2m-2 5h2m-2 1h2m-2 4h2m-2 4h2m-1-56h2m-2 3h2m-2 1h2m-2 0h2m-2 2h2m-2 3h2m-2 0h2m-2 1h2m-2 2h2m-2 19h2m-2 6h2m-2 1h2m-2 1h2m-2 1h2m-2 4h2m-2 2h2m-2 4h2m-2 1h2m-2 2h2m-2 0h2m-1-50h2m-2 1h2m-2 1h2m-2 6h2m-2 3h2m-2 25h2m-2 5h2m-2 10h2m-1-41h2m-2 25h2m-2 13h2m-2 5h2m98 7h2m-2 0h2m-2 6h2m-2 2h2m-2 4h2m-1-17h2m-2 0h2m-2 1h2m-2 5h2m-2 0h2m-2 4h2m-1-36h2m-2 1h2m-2 3h2m-2 0h2m-2 5h2m-2 17h2m-2 1h2m-2 2h2m-2 7h2m-2 1h2m-2 1h2m-2 3h2m-1-48h2m-2 6h2m-2 2h2m-2 2h2m-2 6h2m-2 0h2m-2 19h2m-2 0h2m-2 6h2m-2 0h2m-2 2h2m-2 2h2m-2 1h2m-2 0h2m-1-41h2m-2 6h2m-2 2h2m-2 2h2m-2 17h2m-2 2h2m-2 2h2m-2 9h2m-2 3h2m-2 0h2m-2 2h2m-1-47h2m-2 0h2m-2 3h2m-2 1h2m-2 1h2m-2 3h2m-2 0h2m-2 25h2m-2 1h2m-2 14h2m-2 0h2m-2 0h2m-2 3h2m-1-56h2m-2 5h2m-2 0h2m-2 4h2m-2 1h2m-2 1h2m-2 0h2m-2 3h2m-2 4h2m-2 12h2m-2 1h2m-2 0h2m-2 4h2m-2 1h2m-2 0h2m-2 10h2m-2 4h2m-1-47h2m-2 1h2m-2 3h2m-2 4h2m-2 0h2m-2 1h2m-2 6h2m-2 13h2m-2 1h2m-2 9h2m-2 6h2m-2 3h2m-2 1h2m-2 5h2m-2 0h2m-1-44h2m-2 4h2m-2 0h2m-2 20h2m-2 3h2m-2 1h2m-2 6h2m-2 4h2m-1-50h2m-2 1h2m-2 1h2m-2 0h2m-2 1h2m-2 3h2m-2 4h2m-2 5h2m-2 1h2m-2 16h2m-2 4h2m-2 1h2m-2 6h2m-2 2h2m-1-45h2m-2 8h2m-2 2h2m-2 1h2m-2 1h2m-2 20h2m-2 3h2m-2 3h2m-2 1h2m-2 3h2m-2 3h2m-2 0h2m-2 7h2m-2 1h2m-1-51h2m-2 1h2m-2 1h2m-2 0h2m-2 2h2m-2 4h2m-2 2h2m-2 3h2m-2 2h2m-2 12h2m-2 9h2m-2 6h2m-2 2h2m-2 2h2m-2 0h2m-1-47h2m-2 2h2m-2 5h2m-2 25h2m-2 1h2m-2 2h2m-2 1h2m-2 1h2m-2 2h2m-2 1h2m-2 1h2m-2 3h2m-2 0h2m-2 1h2m-2 1h2m-2 2h2m-1-49h2m-2 3h2m-2 2h2m-2 2h2m-2 4h2m-2 0h2m-2 4h2m-2 15h2m-2 3h2m-2 3h2m-2 10h2m-1-48h2m-2 2h2m-2 3h2m-2 4h2m-2 2h2m-2 1h2m-2 2h2m-2 1h2m-2 1h2m-2 1h2m-2 15h2m-2 1h2m-2 4h2m-2 2h2m-2 0h2m-2 5h2m-2 5h2m-2 2h2m-2 1h2m-2 4h2m-2 1h2m-1-55h2m-2 6h2m-2 1h2m-2 4h2m-2 1h2m-2 16h2m-2 4h2m-2 1h2m-2 15h2m-1-49h2m-2 1h2m-2 5h2m-2 2h2m-2 2h2m-2 2h2m-2 1h2m-2 22h2m-2 3h2m-2 1h2m-2 4h2m-2 2h2m-2 5h2m-2 1h2m-2 4h2m-1-53h2m-2 0h2m-2 1h2m-2 24h2m-2 3h2m-2 6h2m-2 1h2m-2 4h2m-2 6h2m-2 2h2m-1-48h2m-2 0h2m-2 1h2m-2 5h2m-2 5h2m-2 1h2m-2 0h2m-2 18h2m-2 1h2m-2 0h2m-2 4h2m-2 1h2m-2 4h2m-2 2h2m-2 9h2m-1-54h2m-2 1h2m-2 3h2m-2 0h2m-2 2h2m-2 1h2m-2 1h2m-2 0h2m-2 22h2m-2 3h2m-2 1h2m-2 2h2m-2 5h2m-2 1h2m-2 4h2m-2 5h2m-2 1h2m-2 3h2m-1-52h2m-2 3h2m-2 3h2m-2 6h2m-2 19h2m-2 0h2m-2 5h2m-2 9h2m-2 4h2m-2 2h2m-1-52h2m-2 0h2m-2 0h2m-2 9h2m-2 1h2m-2 2h2m-2 2h2m-2 0h2m-2 12h2m-2 6h2m-2 3h2m-2 1h2m-2 2h2m-2 5h2m-2 7h2m-2 1h2m-2 2h2m-1-50h2m-2 0h2m-2 8h2m-2 0h2m-2 16h2m-2 3h2m-2 1h2m-2 3h2m-2 2h2m-2 1h2m-2 2h2m-2 5h2m-2 6h2m-2 3h2m-1-50h2m-2 2h2m-2 3h2m-2 1h2m-2 15h2m-2 5h2m-2 4h2m-2 0h2m-2 2h2m-2 4h2m-2 6h2m-2 7h2m-2 1h2m-1-54h2m-2 4h2m-2 2h2m-2 2h2m-2 1h2m-2 2h2m-2 1h2m-2 2h2m-2 13h2m-2 4h2m-2 2h2m-2 13h2m-2 3h2m-2 3h2m-2 0h2m-1-46h2m-2 2h2m-2 5h2m-2 0h2m-2 13h2m-2 0h2m-2 0h2m-2 13h2m-2 1h2m-2 3h2m-2 7h2m-2 4h2m-2 0h2m-1-47h2m-2 2h2m-2 14h2m-2 8h2m-2 1h2m-2 5h2m-2 4h2m-2 4h2m-2 7h2m-1-48h2m-2 1h2m-2 1h2m-2 1h2m-2 2h2m-2 4h2m-2 11h2m-2 3h2m-2 3h2m-2 2h2m-2 5h2m-2 8h2m-2 0h2m-2 6h2m-1-50h2m-2 1h2m-2 6h2m-2 1h2m-2 4h2m-2 18h2m-2 1h2m-2 2h2m-2 0h2m-2 2h2m-2 11h2m-2 0h2m-2 2h2m-2 3h2m-2 3h2m-2 0h2m-1-55h2m-2 1h2m-2 0h2m-2 10h2m-2 14h2m-2 6h2m-2 4h2m-2 6h2m-2 4h2m-2 1h2m-2 7h2m-2 2h2m-2 1h2m-1-58h2m-2 1h2m-2 1h2m-2 0h2m-2 0h2m-2 6h2m-2 2h2m-2 12h2m-2 6h2m-2 4h2m-2 2h2m-2 5h2m-2 4h2m-2 0h2m-2 4h2m-2 7h2m-2 7h2m-1-55h2m-2 1h2m-2 3h2m-2 3h2m-2 0h2m-2 9h2m-2 6h2m-2 1h2m-2 1h2m-2 6h2m-2 3h2m-2 1h2m-2 4h2m-2 4h2m-2 5h2m-2 3h2m-2 1h2m-2 1h2m-1-57h2m-2 1h2m-2 3h2m-2 1h2m-2 1h2m-2 0h2m-2 1h2m-2 3h2m-2 2h2m-2 11h2m-2 1h2m-2 2h2m-2 6h2m-2 4h2m-2 4h2m-2 0h2m-2 4h2m-2 5h2m-2 1h2m-2 0h2m-2 4h2m-2 1h2m-2 2h2m-1-62h2m-2 4h2m-2 9h2m-2 1h2m-2 11h2m-2 9h2m-2 4h2m-2 9h2m-2 13h2m-2 1h2m-2 1h2m-2 0h2m-2 2h2m-2 2h2m-1-67h2m-2 3h2m-2 4h2m-2 1h2m-2 1h2m-2 4h2m-2 1h2m-2 10h2m-2 2h2m-2 5h2m-2 1h2m-2 2h2m-2 6h2m-2 5h2m-2 1h2m-2 0h2m-2 7h2m-2 1h2m-2 1h2m-2 5h2m-2 2h2m-2 6h2m-1-66h2m-2 3h2m-2 0h2m-2 0h2m-2 6h2m-2 1h2m-2 18h2m-2 6h2m-2 1h2m-2 1h2m-2 2h2m-2 1h2m-2 4h2m-2 8h2m-2 4h2m-2 0h2m-2 6h2m-2 2h2m-2 4h2m-1-63h2m-2 5h2m-2 1h2m-2 3h2m-2 10h2m-2 7h2m-2 3h2m-2 2h2m-2 4h2m-2 5h2m-2 2h2m-2 2h2m-2 1h2m-2 1h2m-2 6h2m-2 4h2m-2 2h2m-2 1h2m-2 9h2m-2 0h2m-1-76h2m-2 3h2m-2 2h2m-2 2h2m-2 0h2m-2 7h2m-2 0h2m-2 0h2m-2 2h2m-2 9h2m-2 8h2m-2 7h2m-2 4h2m-2 17h2m-2 9h2m-2 0h2m-1-71h2m-2 7h2m-2 2h2m-2 8h2m-2 1h2m-2 8h2m-2 3h2m-2 0h2m-2 2h2m-2 12h2m-2 3h2m-2 3h2m-2 1h2m-2 4h2m-2 2h2m-2 1h2m-2 0h2m-2 4h2m-2 3h2m-2 2h2m-2 1h2m-2 1h2m-2 1h2m-2 0h2m-2 7h2m-1-73h2m-2 4h2m-2 10h2m-2 0h2m-2 1h2m-2 8h2m-2 5h2m-2 2h2m-2 0h2m-2 2h2m-2 6h2m-2 1h2m-2 8h2m-2 8h2m-2 10h2m-2 7h2m-2 0h2m-2 2h2m-1-76h2m-2 1h2m-2 1h2m-2 3h2m-2 2h2m-2 4h2m-2 2h2m-2 1h2m-2 0h2m-2 3h2m-2 0h2m-2 13h2m-2 2h2m-2 2h2m-2 2h2m-2 8h2m-2 8h2m-2 8h2m-2 1h2m-2 1h2m-2 1h2m-2 0h2m-2 12h2m-1-75h2m-2 5h2m-2 3h2m-2 0h2m-2 4h2m-2 0h2m-2 4h2m-2 8h2m-2 1h2m-2 1h2m-2 8h2m-2 3h2m-2 2h2m-2 7h2m-2 2h2m-2 0h2m-2 5h2m-2 17h2m-2 2h2m-2 0h2m-2 3h2m-2 1h2m-2 1h2m-1-76h2m-2 6h2m-2 1h2m-2 8h2m-2 1h2m-2 0h2m-2 7h2m-2 2h2m-2 0h2m-2 3h2m-2 0h2m-2 3h2m-2 1h2m-2 1h2m-2 0h2m-2 3h2m-2 1h2m-2 5h2m-2 1h2m-2 3h2m-2 6h2m-2 1h2m-2 7h2m-2 1h2m-2 4h2m-2 7h2m-1-73h2m-2 4h2m-2 0h2m-2 1h2m-2 1h2m-2 4h2m-2 1h2m-2 3h2m-2 3h2m-2 12h2m-2 5h2m-2 4h2m-2 1h2m-2 5h2m-2 0h2m-2 2h2m-2 0h2m-2 2h2m-2 9h2m-2 4h2m-2 7h2m-2 0h2m-1-62h2m-2 4h2m-2 0h2m-2 2h2m-2 1h2m-2 0h2m-2 1h2m-2 5h2m-2 8h2m-2 5h2m-2 12h2m-2 8h2m-2 5h2m-2 6h2m-2 0h2m-2 4h2m-2 2h2m-2 3h2m-2 4h2m-2 1h2m-1-76h2m-2 1h2m-2 3h2m-2 4h2m-2 5h2m-2 1h2m-2 8h2m-2 4h2m-2 3h2m-2 0h2m-2 1h2m-2 4h2m-2 2h2m-2 2h2m-2 4h2m-2 12h2m-2 3h2m-2 1h2m-2 4h2m-2 8h2m-2 2h2m-2 3h2m-1-75h2m-2 4h2m-2 4h2m-2 3h2m-2 0h2m-2 1h2m-2 0h2m-2 5h2m-2 1h2m-2 4h2m-2 1h2m-2 4h2m-2 5h2m-2 0h2m-2 2h2m-2 1h2m-2 4h2m-2 2h2m-2 0h2m-2 2h2m-2 1h2m-2 3h2m-2 6h2m-2 5h2m-2 1h2m-2 3h2m-2 6h2m-2 5h2m-2 2h2m-2 0h2m-1-79h2m-2 2h2m-2 4h2m-2 0h2m-2 1h2m-2 1h2m-2 2h2m-2 1h2m-2 2h2m-2 5h2m-2 7h2m-2 6h2m-2 4h2m-2 2h2m-2 2h2m-2 0h2m-2 2h2m-2 9h2m-2 0h2m-2 1h2m-2 4h2m-2 2h2m-2 5h2m-2 5h2m-2 0h2m-1-69h2m-2 5h2m-2 0h2m-2 5h2m-2 5h2m-2 15h2m-2 1h2m-2 0h2m-2 3h2m-2 3h2m-2 10h2m-2 3h2m-2 3h2m-2 2h2m-2 8h2m-2 1h2m-2 1h2m-2 1h2m-2 8h2m-2 2h2m-2 1h2m-2 6h2m-1-77h2m-2 0h2m-2 1h2m-2 1h2m-2 6h2m-2 1h2m-2 4h2m-2 1h2m-2 2h2m-2 5h2m-2 12h2m-2 1h2m-2 3h2m-2 3h2m-2 13h2m-2 1h2m-2 1h2m-2 2h2m-2 5h2m-2 6h2m-2 2h2m-1-77h2m-2 6h2m-2 8h2m-2 0h2m-2 1h2m-2 0h2m-2 3h2m-2 0h2m-2 5h2m-2 3h2m-2 0h2m-2 2h2m-2 5h2m-2 0h2m-2 5h2m-2 2h2m-2 1h2m-2 4h2m-2 3h2m-2 9h2m-2 2h2m-2 12h2m-2 4h2m-2 7h2m-2 1h2m-2 1h2m-1-83h2m-2 4h2m-2 5h2m-2 4h2m-2 2h2m-2 0h2m-2 2h2m-2 1h2m-2 3h2m-2 2h2m-2 4h2m-2 0h2m-2 1h2m-2 7h2m-2 21h2m-2 0h2m-2 1h2m-2 1h2m-2 5h2m-2 4h2m-2 4h2m-2 1h2m-2 2h2m-2 0h2m-2 0h2m-2 3h2m-2 1h2m-2 7h2m-1-84h2m-2 6h2m-2 5h2m-2 0h2m-2 8h2m-2 0h2m-2 8h2m-2 2h2m-2 4h2m-2 0h2m-2 5h2m-2 4h2m-2 1h2m-2 5h2m-2 4h2m-2 11h2m-2 2h2m-2 2h2m-2 1h2m-2 2h2m-2 1h2m-2 2h2m-2 1h2m-2 1h2m-2 1h2m-2 2h2m-1-78h2m-2 0h2m-2 1h2m-2 4h2m-2 2h2m-2 1h2m-2 2h2m-2 0h2m-2 1h2m-2 6h2m-2 5h2m-2 4h2m-2 3h2m-2 3h2m-2 18h2m-2 7h2m-2 1h2m-2 0h2m-2 14h2m-2 1h2m-2 2h2m-2 1h2m-1-77h2m-2 7h2m-2 1h2m-2 1h2m-2 4h2m-2 1h2m-2 2h2m-2 0h2m-2 4h2m-2 1h2m-2 1h2m-2 1h2m-2 2h2m-2 1h2m-2 9h2m-2 9h2m-2 0h2m-2 2h2m-2 0h2m-2 3h2m-2 4h2m-2 1h2m-2 0h2m-2 4h2m-2 6h2m-2 3h2m-2 4h2m-2 1h2m-2 1h2m-1-73h2m-2 5h2m-2 3h2m-2 7h2m-2 1h2m-2 9h2m-2 5h2m-2 3h2m-2 3h2m-2 11h2m-2 1h2m-2 2h2m-2 2h2m-2 0h2m-2 6h2m-1-56h2m-2 3h2m-2 0h2m-2 1h2m-2 0h2m-2 1h2m-2 2h2m-2 10h2m-2 0h2m-2 4h2m-2 0h2m-2 1h2m-2 4h2m-2 0h2m-2 5h2m-2 3h2m-2 0h2m-2 1h2m-2 1h2m-2 2h2m-2 2h2m-2 6h2m-2 8h2m-2 2h2m-2 1h2m-2 13h2m-1-70h2m-2 1h2m-2 3h2m-2 2h2m-2 3h2m-2 2h2m-2 1h2m-2 5h2m-2 3h2m-2 1h2m-2 3h2m-2 0h2m-2 6h2m-2 6h2m-2 5h2m-2 5h2m-2 3h2m-2 4h2m-2 2h2m-2 1h2m-2 11h2m-1-69h2m-2 1h2m-2 0h2m-2 4h2m-2 0h2m-2 5h2m-2 7h2m-2 0h2m-2 3h2m-2 7h2m-2 5h2m-2 1h2m-2 1h2m-2 1h2m-2 3h2m-2 0h2m-2 4h2m-2 1h2m-2 0h2m-2 7h2m-2 10h2m-2 5h2m-1-56h2m-2 1h2m-2 1h2m-2 8h2m-2 2h2m-2 6h2m-2 7h2m-2 4h2m-2 6h2m-2 0h2m-2 3h2m-2 1h2m-2 5h2m-2 3h2m-2 4h2m-2 6h2m-1-64h2m-2 3h2m-2 1h2m-2 1h2m-2 10h2m-2 9h2m-2 4h2m-2 4h2m-2 0h2m-2 5h2m-2 3h2m-2 3h2m-2 1h2m-2 4h2m-2 5h2m-2 2h2m-2 2h2m-2 1h2m-2 1h2m-2 0h2m-2 1h2m-2 2h2m-2 1h2m-1-66h2m-2 3h2m-2 6h2m-2 1h2m-2 4h2m-2 4h2m-2 20h2m-2 3h2m-2 0h2m-2 5h2m-2 1h2m-2 8h2m-2 0h2m-2 3h2m-2 4h2m-2 2h2m-1-64h2m-2 4h2m-2 2h2m-2 2h2m-2 1h2m-2 2h2m-2 0h2m-2 2h2m-2 3h2m-2 0h2m-2 6h2m-2 11h2m-2 1h2m-2 1h2m-2 5h2m-2 2h2m-2 0h2m-2 7h2m-2 5h2m-2 9h2m-2 2h2m-2 0h2m-2 2h2m-2 0h2m-1-65h2m-2 2h2m-2 1h2m-2 2h2m-2 5h2m-2 1h2m-2 2h2m-2 3h2m-2 3h2m-2 6h2m-2 3h2m-2 1h2m-2 11h2m-2 4h2m-2 2h2m-2 1h2m-2 0h2m-2 8h2m-2 2h2m-2 1h2m-2 2h2m-2 3h2m-1-60h2m-2 0h2m-2 0h2m-2 0h2m-2 2h2m-2 0h2m-2 1h2m-2 10h2m-2 5h2m-2 1h2m-2 8h2m-2 2h2m-2 0h2m-2 4h2m-2 1h2m-2 3h2m-2 1h2m-2 3h2m-2 14h2m-2 5h2m-2 3h2m-2 0h2m-1-64h2m-2 1h2m-2 2h2m-2 2h2m-2 5h2m-2 1h2m-2 10h2m-2 0h2m-2 6h2m-2 3h2m-2 1h2m-2 7h2m-2 2h2m-2 3h2m-2 6h2m-2 4h2m-2 2h2m-2 2h2m-2 3h2m-2 2h2m-2 1h2m-1-62h2m-2 7h2m-2 3h2m-2 1h2m-2 5h2m-2 9h2m-2 3h2m-2 1h2m-2 1h2m-2 1h2m-2 15h2m-2 2h2m-2 2h2m-2 1h2m-2 7h2m-2 0h2m-2 3h2m-2 1h2m-1-65h2m-2 0h2m-2 3h2m-2 0h2m-2 6h2m-2 0h2m-2 4h2m-2 11h2m-2 0h2m-2 6h2m-2 2h2m-2 9h2m-2 2h2m-2 2h2m-2 6h2m-2 3h2m-2 11h2m-2 1h2m-2 0h2m-1-67h2m-2 2h2m-2 6h2m-2 4h2m-2 4h2m-2 5h2m-2 4h2m-2 20h2m-2 0h2m-2 2h2m-2 5h2m-2 10h2m-2 4h2m-1-62h2m-2 0h2m-2 4h2m-2 1h2m-2 3h2m-2 1h2m-2 8h2m-2 3h2m-2 1h2m-2 1h2m-2 2h2m-2 7h2m-2 4h2m-2 1h2m-2 3h2m-2 9h2m-2 1h2m-2 1h2m-2 2h2m-2 4h2m-2 0h2m-2 0h2m-2 0h2m-1-60h2m-2 1h2m-2 1h2m-2 4h2m-2 0h2m-2 1h2m-2 4h2m-2 6h2m-2 1h2m-2 5h2m-2 6h2m-2 2h2m-2 2h2m-2 7h2m-2 3h2m-2 5h2m-2 2h2m-2 6h2m-2 1h2m-2 1h2m-2 7h2m-2 0h2m-1-65h2m-2 10h2m-2 2h2m-2 2h2m-2 7h2m-2 8h2m-2 3h2m-2 2h2m-2 2h2m-2 1h2m-2 4h2m-2 6h2m-2 2h2m-2 1h2m-2 1h2m-2 1h2m-2 8h2m-2 1h2m-2 0h2m-2 3h2m-1-65h2m-2 5h2m-2 0h2m-2 2h2m-2 3h2m-2 1h2m-2 1h2m-2 2h2m-2 6h2m-2 2h2m-2 2h2m-2 1h2m-2 1h2m-2 7h2m-2 7h2m-2 11h2m-2 2h2m-2 1h2m-2 4h2m-2 5h2m-2 0h2m-1-63h2m-2 4h2m-2 4h2m-2 4h2m-2 0h2m-2 3h2m-2 4h2m-2 1h2m-2 0h2m-2 6h2m-2 11h2m-2 9h2m-2 7h2m-2 1h2m-2 4h2m-2 3h2m-2 5h2m-1-67h2m-2 9h2m-2 5h2m-2 2h2m-2 2h2m-2 1h2m-2 1h2m-2 3h2m-2 11h2m-2 2h2m-2 1h2m-2 0h2m-2 1h2m-2 5h2m-2 3h2m-2 1h2m-2 2h2m-2 0h2m-2 2h2m-2 7h2m-2 2h2m-2 3h2m-2 0h2m-2 1h2m-2 1h2m-1-62h2m-2 1h2m-2 7h2m-2 0h2m-2 1h2m-2 0h2m-2 1h2m-2 2h2m-2 4h2m-2 0h2m-2 10h2m-2 7h2m-2 7h2m-2 0h2m-2 2h2m-2 2h2m-2 2h2m-2 3h2m-2 7h2m-2 5h2m-2 0h2m-1-59h2m-2 5h2m-2 0h2m-2 1h2m-2 1h2m-2 21h2m-2 1h2m-2 9h2m-2 2h2m-2 1h2m-2 1h2m-2 2h2m-2 8h2m-2 9h2m-1-64h2m-2 1h2m-2 1h2m-2 6h2m-2 1h2m-2 3h2m-2 3h2m-2 8h2m-2 3h2m-2 4h2m-2 1h2m-2 3h2m-2 1h2m-2 7h2m-2 0h2m-2 3h2m-2 0h2m-2 4h2m-2 2h2m-2 4h2m-2 10h2m-1-68h2m-2 1h2m-2 1h2m-2 0h2m-2 5h2m-2 4h2m-2 1h2m-2 1h2m-2 0h2m-2 6h2m-2 6h2m-2 4h2m-2 1h2m-2 3h2m-2 4h2m-2 10h2m-2 13h2m-2 3h2m-2 0h2m-2 2h2m-2 0h2m-1-61h2m-2 4h2m-2 2h2m-2 5h2m-2 2h2m-2 1h2m-2 1h2m-2 1h2m-2 5h2m-2 3h2m-2 9h2m-2 3h2m-2 1h2m-2 3h2m-2 0h2m-2 2h2m-2 2h2m-2 3h2m-2 7h2m-2 1h2m-1-57h2m-2 1h2m-2 9h2m-2 1h2m-2 4h2m-2 0h2m-2 1h2m-2 1h2m-2 5h2m-2 1h2m-2 4h2m-2 0h2m-2 5h2m-2 6h2m-2 5h2m-2 1h2m-2 7h2m-2 1h2m-2 5h2m-2 4h2m-2 1h2m-2 1h2m-1-66h2m-2 3h2m-2 1h2m-2 2h2m-2 2h2m-2 2h2m-2 1h2m-2 8h2m-2 1h2m-2 2h2m-2 5h2m-2 7h2m-2 2h2m-2 6h2m-2 2h2m-2 0h2m-2 4h2m-2 7h2m-2 1h2m-2 8h2m-2 2h2m-1-65h2m-2 0h2m-2 6h2m-2 2h2m-2 2h2m-2 8h2m-2 1h2m-2 2h2m-2 2h2m-2 3h2m-2 12h2m-2 2h2m-2 3h2m-2 8h2m-2 3h2m-2 9h2m-2 1h2m-1-65h2m-2 6h2m-2 1h2m-2 6h2m-2 0h2m-2 4h2m-2 2h2m-2 2h2m-2 3h2m-2 1h2m-2 2h2m-2 2h2m-2 3h2m-2 6h2m-2 5h2m-2 1h2m-2 1h2m-2 1h2m-2 2h2m-2 1h2m-2 12h2m-2 2h2m-1-61h2m-2 3h2m-2 2h2m-2 2h2m-2 0h2m-2 0h2m-2 0h2m-2 1h2m-2 2h2m-2 4h2m-2 1h2m-2 5h2m-2 5h2m-2 0h2m-2 3h2m-2 7h2m-2 1h2m-2 5h2m-2 3h2m-2 2h2m-2 2h2m-2 10h2m-2 6h2m-2 2h2m-1-67h2m-2 1h2m-2 9h2m-2 1h2m-2 1h2m-2 9h2m-2 5h2m-2 5h2m-2 1h2m-2 5h2m-2 0h2m-2 5h2m-2 3h2m-2 3h2m-2 6h2m-2 6h2m-2 7h2m-1-65h2m-2 2h2m-2 0h2m-2 0h2m-2 1h2m-2 9h2m-2 3h2m-2 5h2m-2 1h2m-2 2h2m-2 3h2m-2 2h2m-2 11h2m-2 2h2m-2 6h2m-2 5h2m-2 0h2m-2 4h2m-2 5h2m-2 4h2m-2 0h2m-1-71h2m-2 3h2m-2 8h2m-2 5h2m-2 4h2m-2 1h2m-2 4h2m-2 6h2m-2 4h2m-2 2h2m-2 6h2m-2 0h2m-2 0h2m-2 1h2m-2 1h2m-2 2h2m-2 10h2m-2 7h2m-2 1h2m-2 0h2m-2 1h2m-1-66h2m-2 15h2m-2 4h2m-2 4h2m-2 29h2m64 62h2m-2 0h2m0-5h2m-1-3h2m-2 6h2m-2 6h2m-1-1h2m-1-11h2m-2 1h2m-2 8h2m-1-4h2m-2 2h2m-1-25h2m-2 17h2m-2 8h2m-2 1h2m-2 1h2m-2 1h2m0-14h2m-2 8h2m-2 2h2m-2 2h2m-1-15h2m-2 4h2m-2 5h2m-2 3h2m-2 2h2m-1-41h2m-2 24h2m-2 13h2m-2 2h2m-1-18h2m-2 15h2m-2 3h2m-2 5h2m-2 1h2m-2 2h2m-1-3h2m-1-27h2m-2 3h2m-2 6h2m-2 8h2m-1-8h2m-2 1h2m-2 11h2m-1-17h2m-2 3h2m-2 6h2m-2 5h2m-2 1h2m-2 5h2m-2 1h2m-2 0h2m-2 2h2m-2 0h2m-1-23h2m-2 1h2m-2 14h2m-2 3h2m-2 3h2m-2 2h2m-2 2h2m-1-40h2m-2 2h2m-2 3h2m-2 2h2m-2 2h2m-2 2h2m-2 3h2m-2 4h2m-2 7h2m-2 1h2m-2 1h2m-2 1h2m-1-64h2m-2 40h2m-2 5h2m-2 6h2m-2 3h2m-2 4h2m-2 1h2m-2 1h2m-2 1h2m-2 3h2m-2 5h2m-1-44h2m-2 0h2m-2 10h2m-2 8h2m-2 1h2m-2 4h2m-2 4h2m-2 19h2m-1-46h2m-2 3h2m-2 2h2m-2 4h2m-2 22h2m-2 1h2m-2 1h2m-2 6h2m-2 0h2m-2 2h2m-2 2h2m-2 2h2m-1-44h2m-2 5h2m-2 3h2m-2 8h2m-2 0h2m-2 2h2m-2 0h2m-2 1h2m-2 2h2m-2 2h2m-2 8h2m-2 0h2m-2 2h2m-2 6h2m-2 0h2m-1-42h2m-2 1h2m-2 0h2m-2 5h2m-2 4h2m-2 6h2m-2 5h2m-2 3h2m-2 21h2m-2 2h2m-2 4h2m-2 1h2m-1-59h2m-2 9h2m-2 7h2m-2 0h2m-2 0h2m-2 3h2m-2 5h2m-2 15h2m-2 5h2m-2 5h2m-2 2h2m-2 4h2m-2 1h2m-1-59h2m-2 5h2m-2 6h2m-2 2h2m-2 9h2m-2 8h2m-2 2h2m-2 3h2m-2 5h2m-2 5h2m-2 2h2m-2 4h2m-2 4h2m-2 0h2m-2 1h2m-2 8h2m-1-59h2m-2 10h2m-2 0h2m-2 4h2m-2 22h2m-2 1h2m-2 2h2m-2 5h2m-2 7h2m-1-50h2m-2 0h2m-2 2h2m-2 2h2m-2 3h2m-2 0h2m-2 0h2m-2 2h2m-2 0h2m-2 0h2m-2 8h2m-2 1h2m-2 3h2m-2 0h2m-2 12h2m-2 3h2m-2 5h2m-2 3h2m-2 5h2m-1-48h2m-2 2h2m-2 1h2m-2 8h2m-2 13h2m-2 7h2m-2 0h2m-2 2h2m-2 4h2m-2 4h2m-2 2h2m-2 0h2m-2 2h2m-2 8h2m-2 2h2m-1-93h2m-2 21h2m-2 3h2m-2 0h2m-2 1h2m-2 1h2m-2 1h2m-2 4h2m-2 4h2m-2 3h2m-2 10h2m-2 5h2m-2 1h2m-2 0h2m-2 11h2m-2 4h2m-2 1h2m-2 3h2m-2 2h2m-2 12h2m-2 2h2m-2 1h2m-2 1h2m-1-71h2m-2 0h2m-2 23h2m-2 1h2m-2 9h2m-2 1h2m-2 1h2m-2 0h2m-2 1h2m-2 8h2m-2 11h2m-2 6h2m-2 2h2m-2 10h2m-1-71h2m-2 2h2m-2 1h2m-2 1h2m-2 3h2m-2 6h2m-2 1h2m-2 9h2m-2 6h2m-2 3h2m-2 0h2m-2 4h2m-2 0h2m-2 8h2m-2 2h2m-2 2h2m-2 16h2m-2 7h2m-1-81h2m-2 1h2m-2 3h2m-2 9h2m-2 15h2m-2 12h2m-2 1h2m-2 0h2m-2 11h2m-2 2h2m-2 8h2m-2 6h2m-2 1h2m-2 2h2m-2 8h2m-1-78h2m-2 7h2m-2 1h2m-2 0h2m-2 5h2m-2 7h2m-2 7h2m-2 8h2m-2 1h2m-2 3h2m-2 3h2m-2 2h2m-2 2h2m-2 4h2m-2 7h2m-2 2h2m-2 6h2m-2 1h2m-2 6h2m-2 2h2m-2 9h2m-1-88h2m-2 2h2m-2 4h2m-2 2h2m-2 6h2m-2 1h2m-2 2h2m-2 0h2m-2 1h2m-2 3h2m-2 3h2m-2 4h2m-2 10h2m-2 5h2m-2 15h2m-2 5h2m-2 10h2m-1-78h2m-2 2h2m-2 6h2m-2 2h2m-2 9h2m-2 0h2m-2 2h2m-2 0h2m-2 1h2m-2 6h2m-2 0h2m-2 7h2m-2 3h2m-2 10h2m-2 1h2m-2 1h2m-2 2h2m-2 1h2m-2 2h2m-2 1h2m-2 9h2m-2 0h2m-2 11h2m-2 9h2m-2 3h2m-2 0h2m-1-115h2m-2 30h2m-2 7h2m-2 10h2m-2 6h2m-2 8h2m-2 1h2m-2 0h2m-2 4h2m-2 7h2m-2 2h2m-2 4h2m-2 0h2m-2 15h2m-2 5h2m-2 1h2m-2 2h2m-2 3h2m-2 1h2m-2 3h2m-2 3h2m-1-130h2m-2 10h2m-2 24h2m-2 14h2m-2 4h2m-2 1h2m-2 4h2m-2 4h2m-2 2h2m-2 2h2m-2 0h2m-2 4h2m-2 2h2m-2 4h2m-2 0h2m-2 14h2m-2 1h2m-2 1h2m-2 3h2m-2 4h2m-2 4h2m-2 4h2m-2 3h2m-2 7h2m-2 4h2m-2 6h2m-2 4h2m-2 6h2m-1-110h2m-2 23h2m-2 5h2m-2 3h2m-2 1h2m-2 1h2m-2 0h2m-2 3h2m-2 7h2m-2 0h2m-2 4h2m-2 4h2m-2 14h2m-2 2h2m-2 12h2m-2 3h2m-2 5h2m-2 5h2m-2 1h2m-2 4h2m-2 2h2m-2 2h2m-1-121h2m-2 10h2m-2 23h2m-2 0h2m-2 5h2m-2 11h2m-2 4h2m-2 4h2m-2 1h2m-2 2h2m-2 9h2m-2 11h2m-2 11h2m-2 0h2m-2 2h2m-2 2h2m-2 1h2m-2 6h2m-2 2h2m-2 3h2m-2 9h2m-2 3h2m-2 2h2m-2 4h2m-2 3h2m-1-100h2m-2 6h2m-2 31h2m-2 3h2m-2 25h2m-2 20h2m-2 1h2m60-305h2m-1 3h2m-2 2h2m-2 3h2m-1-7h2m-2 1h2m-2 3h2m-2 1h2m-2 1h2m-2 1h2m-2 1h2m-1-10h2m-2 1h2m-2 9h2m-2 0h2m-2 2h2m-1-7h2m-2 0h2m-2 5h2m-2 2h2m-2 3h2m-1-9h2m-2 1h2m-2 0h2m-2 0h2m-2 2h2m-2 4h2m-2 1h2m-2 1h2m-2 1h2m-1-8h2m-2 0h2m-2 0h2m-2 2h2m-2 0h2m-2 8h2m-1-10h2m-2 5h2m-2 3h2m-2 1h2m-1-6h2m-2 1h2m-2 0h2m-2 2h2m-1-5h2m-2 6h2m-2 0h2m-2 5h2m-1-9h2m-2 2h2m-2 1h2m-2 0h2m-2 1h2m-2 1h2m-2 2h2m-2 4h2m-2 1h2m-2 4h2m-1-16h2m-2 2h2m-2 2h2m-2 4h2m-2 1h2m-2 0h2m-2 1h2m-2 4h2m-1-13h2m-2 3h2m-2 0h2m-2 3h2m-2 4h2m-2 1h2m-2 0h2m-2 1h2m-2 5h2m-2 2h2m-1-14h2m-2 0h2m-2 2h2m-2 2h2m-2 2h2m-2 0h2m-2 1h2m-2 1h2m-1-5h2m-2 0h2m-2 2h2m-2 4h2m-1-6h2m-2 5h2m-1-11h2m-2 2h2m-2 1h2m-2 1h2m-2 1h2m-2 2h2m-2 1h2m-2 1h2m-2 2h2m-2 1h2m-2 1h2m-2 4h2m-1-10h2m-2 7h2m-2 0h2m-2 0h2m-2 4h2m-2 7h2m-1-27h2m-2 4h2m-2 1h2m-2 4h2m-2 0h2m-2 0h2m-2 2h2m-2 1h2m-2 0h2m-1-4h2m-2 0h2m-2 2h2m-2 3h2m-1-9h2m-2 1h2m-2 6h2m-2 1h2m-2 1h2m-2 0h2m-1-6h2m-2 6h2m-2 3h2m-1-8h2m-2 1h2m-2 0h2m-2 7h2m-2 5h2m-2 6h2m-1-17h2m-2 2h2m-2 0h2m-2 0h2m-2 1h2m-2 0h2m-2 4h2m-2 0h2m-2 1h2m-2 3h2m-2 1h2m-2 2h2m-2 5h2m-1-19h2m-2 0h2m-2 1h2m-2 1h2m-2 3h2m-2 0h2m-2 6h2m-2 5h2m-1-13h2m-2 3h2m-2 3h2m-1-5h2m-2 2h2m-2 0h2m-2 2h2m-2 2h2m-2 1h2m-2 0h2m-2 3h2m-2 0h2m-2 2h2m-1-13h2m-2 2h2m-2 2h2m-2 6h2m-1-8h2m-2 4h2m-2 1h2m-2 0h2m-1-3h2m-2 1h2m-1-7h2m-2 1h2m-2 2h2m-2 9h2m-1-16h2m-2 2h2m-2 4h2m-2 1h2m-2 0h2m-2 2h2m-2 2h2m-1-23h2m-2 5h2m-2 11h2m-2 3h2m-2 0h2m-2 2h2m-1-22h2m-2 4h2m-2 0h2m-2 4h2m-2 1h2m-2 0h2m-2 2h2m-2 0h2m-2 4h2m-2 3h2m-2 2h2m-2 0h2m-2 1h2m-1-10h2m-2 1h2m-2 1h2m-2 3h2m-2 4h2m-2 3h2m-1-14h2m-2 5h2m-2 2h2m-2 0h2m-2 0h2m-2 1h2m-2 3h2m-2 2h2m-2 0h2m-1-29h2m-2 2h2m-2 5h2m-2 6h2m-2 1h2m-2 6h2m-2 4h2m-2 2h2m-2 1h2m-1-34h2m-2 4h2m-2 10h2m-2 1h2m-2 5h2m-2 1h2m-2 5h2m-2 0h2m-2 7h2m-1-32h2m-2 4h2m-2 0h2m-2 2h2m-2 0h2m-2 3h2m-2 1h2m-2 6h2m-2 2h2m-2 2h2m-2 1h2m-2 1h2m-2 1h2m-2 1h2m-2 0h2m-2 0h2m-2 2h2m-2 2h2m-1-30h2m-2 1h2m-2 8h2m-2 1h2m-2 0h2m-2 1h2m-2 2h2m-2 1h2m-2 4h2m-2 3h2m-2 1h2m-2 2h2m-2 5h2m-1-35h2m-2 8h2m-2 2h2m-2 1h2m-2 1h2m-2 1h2m-2 0h2m-2 1h2m-2 0h2m-2 0h2m-2 2h2m-2 1h2m-2 3h2m-2 1h2m-2 1h2m-2 1h2m-2 3h2m-2 4h2m-2 2h2m-1-27h2m-2 1h2m-2 4h2m-2 0h2m-2 6h2m-2 0h2m-2 2h2m-2 1h2m-2 2h2m-1-22h2m-2 3h2m-2 2h2m-2 6h2m-2 1h2m-2 1h2m-2 4h2m-2 1h2m-2 2h2m-2 0h2m-2 0h2m-2 2h2m-2 2h2m-1-18h2m-2 0h2m-2 1h2m-2 1h2m-2 4h2m-2 1h2m-2 4h2m-2 2h2m-2 1h2m-2 1h2m-1-22h2m-2 8h2m-2 3h2m-2 6h2m-2 2h2m-2 1h2m-2 1h2m-2 5h2m-1-22h2m-2 1h2m-2 2h2m-2 0h2m-2 4h2m-2 1h2m-2 1h2m-2 0h2m-2 3h2m-1-17h2m-2 1h2m-2 1h2m-2 1h2m-2 1h2m-2 1h2m-2 3h2m-2 0h2m-2 1h2m-2 3h2m-2 1h2m-2 3h2m-2 2h2m-2 2h2m-2 3h2m-1-21h2m-2 2h2m-2 2h2m-2 1h2m-2 0h2m-2 3h2m-2 0h2m-2 3h2m-2 1h2m-2 3h2m-2 0h2m-1-27h2m-2 17h2m-2 0h2m-2 1h2m-2 1h2m-2 2h2m-2 1h2m-2 0h2m-2 0h2m-2 4h2m-2 0h2m-2 6h2m-2 3h2m-1-26h2m-2 4h2m-2 1h2m-2 0h2m-2 2h2m-2 6h2m-1-18h2m-2 1h2m-2 2h2m-2 1h2m-2 4h2m-2 2h2m-2 2h2m-2 0h2m-2 1h2m-2 1h2m-2 8h2m-1-20h2m-2 0h2m-2 0h2m-2 3h2m-2 0h2m-2 0h2m-2 1h2m-2 0h2m-2 2h2m-2 0h2m-2 13h2m-1-23h2m-2 3h2m-2 0h2m-2 3h2m-2 3h2m-2 0h2m-2 4h2m-1-21h2m-2 3h2m-2 0h2m-2 0h2m-2 2h2m-2 2h2m-2 1h2m-2 1h2m-2 4h2m-2 1h2m-2 4h2m-1-17h2m-2 0h2m-2 4h2m-2 6h2m-2 2h2m-2 8h2m-1-25h2m-2 2h2m-2 6h2m-2 1h2m-2 0h2m-2 1h2m-2 0h2m-2 4h2m-2 1h2m-1-14h2m-2 7h2m-2 0h2m-2 2h2m-2 0h2m-2 1h2m-2 1h2m-1-11h2m-2 1h2m-2 1h2m-2 1h2m-2 3h2m-2 2h2m-2 1h2m-1-11h2m-2 7h2m-2 2h2m-1-8h2m-2 3h2m-2 5h2m-1-12h2m-2 1h2m-2 3h2m-2 1h2m-2 1h2m-2 1h2m-1-8h2m-2 4h2m-1-4h2m-2 1h2m-2 1h2m-2 0h2m-1-2h2m-2 4h2m-2 1h2m-1-9h2m-2 1h2m-2 2h2m-2 1h2m-1-4h2m-2 3h2m-1-2h2m-2 3h2m-2 1h2m-1-6h2m-2 1h2m-1 0h2m30-9h2m-1-5h2m-2 0h2m-2 1h2m-2 1h2m-2 1h2m-1-4h2m-2 0h2m-2 4h2m-2 0h2m-2 1h2m-2 1h2m-2 0h2m-1-5h2m-2 5h2m-1-5h2m-2 0h2m-2 1h2m-2 3h2m-2 0h2m-2 0h2m-1-6h2m-2 1h2m-2 0h2m-2 1h2m-2 1h2m-2 3h2m-1-6h2m-2 2h2m-2 1h2m-2 0h2m-2 0h2m-2 0h2m-2 3h2m-1-7h2m-2 3h2m-2 1h2m-2 0h2m-2 1h2m-1-4h2m-2 0h2m-2 2h2m-2 0h2m-2 2h2m-2 1h2m-2 0h2m-1-5h2m-2 1h2m-2 2h2m-2 1h2m-2 0h2m-1-5h2m-2 1h2m-2 1h2m-2 0h2m-2 2h2m-2 1h2m-1-4h2m-2 3h2m-2 0h2m-2 1h2m-2 1h2m-1-5h2m-2 2h2m-2 0h2m-2 0h2m-2 1h2m-2 2h2m-1-6h2m-2 0h2m-2 0h2m-2 2h2m-2 1h2m-2 2h2m-2 0h2m-2 0h2m-2 0h2m-2 1h2m-2 1h2m-1-9h2m-2 3h2m-2 0h2m-2 2h2m-2 2h2m-2 1h2m-2 2h2m-1-9h2m-2 4h2m-2 1h2m-2 0h2m-1-5h2m-2 2h2m-2 3h2m-2 1h2m-2 0h2m-2 2h2m-1-6h2m-2 0h2m-2 1h2m-2 0h2m-2 4h2m-2 0h2m-2 1h2m-1-5h2m-2 4h2m-2 1h2m-1-8h2m-2 0h2m-2 0h2m-2 1h2m-2 1h2m-2 4h2m-2 1h2m-2 0h2m-2 0h2m-2 0h2m-1-4h2m-2 0h2m-2 2h2m-2 1h2m-2 3h2m-1-9h2m-2 1h2m-2 3h2m-2 2h2m-2 0h2m-2 0h2m-2 2h2m-1-8h2m-2 0h2m-2 2h2m-2 0h2m-2 1h2m-2 2h2m-2 0h2m-2 1h2m-1-3h2m-2 2h2m-2 0h2m-2 1h2m-2 1h2m-2 1h2m-1-9h2m-2 0h2m-2 2h2m-2 0h2m-2 1h2m-2 2h2m-2 0h2m-2 3h2m-2 0h2m-1-7h2m-2 2h2m-2 0h2m-2 1h2m-2 0h2m-2 1h2m-1-4h2m-2 1h2m-2 3h2m-2 1h2m-2 2h2m-2 1h2m-2 0h2m-1-5h2m-2 2h2m-2 1h2m-2 1h2m-1-7h2m-2 1h2m-2 0h2m-2 0h2m-2 1h2m-2 1h2m-2 0h2m-2 1h2m-2 2h2m-2 1h2m-2 1h2m-1-8h2m-2 3h2m-2 0h2m-2 3h2m-2 1h2m-1-7h2m-2 1h2m-2 1h2m-2 0h2m-2 3h2m-2 1h2m-1-5h2m-2 0h2m-2 1h2m-2 1h2m-2 2h2m-2 1h2m-2 1h2m-1-5h2m-2 4h2m-2 2h2m-1-10h2m-2 2h2m-2 1h2m-2 0h2m-2 1h2m-2 0h2m-2 0h2m-2 4h2m-2 2h2m-1-9h2m-2 0h2m-2 1h2m-2 0h2m-2 1h2m-2 1h2m-2 4h2m-1-7h2m-2 2h2m-2 1h2m-2 3h2m-2 0h2m-1-4h2m-2 0h2m-2 0h2m-2 0h2m-2 2h2m-2 2h2m-2 0h2m-2 1h2m-2 0h2m-1-5h2m-2 1h2m-2 0h2m-2 2h2m-2 3h2m-2 0h2m-1-9h2m-2 3h2m-2 2h2m-2 1h2m-2 0h2m-2 1h2m-2 1h2m-2 2h2m-1-8h2m-2 2h2m-2 1h2m-1-4h2m-2 2h2m-2 0h2m-2 1h2m-2 1h2m-2 2h2m-2 1h2m-2 0h2m-2 1h2m-1-6h2m-2 3h2m-2 2h2m-2 1h2m-1-6h2m-2 2h2m-2 0h2m-2 0h2m-2 1h2m-2 1h2m-2 1h2m-2 1h2m-1-8h2m-2 3h2m-2 1h2m-2 3h2m-2 1h2m-1-8h2m-2 3h2m-2 3h2m-2 1h2m-2 0h2m-2 1h2m-2 0h2m-2 1h2m-1-7h2m-2 3h2m-2 0h2m-2 3h2m-2 2h2m-2 0h2m-1-7h2m-2 1h2m-2 1h2m-2 4h2m-2 0h2m-1-4h2m-2 2h2m-2 0h2m-2 2h2m-2 1h2m-1-8h2m-2 0h2m-2 2h2m-2 2h2m-2 1h2m-2 0h2m-2 2h2m-1-5h2m-2 1h2m-2 2h2m-2 1h2m-2 0h2m-2 2h2m-2 1h2m-1-9h2m-2 2h2m-2 0h2m-2 2h2m-2 4h2m-2 0h2m-2 0h2m-1-4h2m-2 1h2m-2 0h2m-2 1h2m-2 0h2m-2 2h2m-2 1h2m-1-3h2m-2 1h2m-2 1h2m-2 0h2m-1-4h2m-2 0h2m-2 1h2m-2 1h2m-2 3h2m-2 0h2m-1-6h2m-2 3h2m-2 0h2m-2 1h2m-2 1h2m-2 1h2m-2 1h2m-2 0h2m-1-7h2m-2 4h2m-2 3h2m-1-6h2m-2 1h2m-2 0h2m-2 1h2m-2 1h2m-2 1h2m-1-4h2m-2 2h2m-2 2h2m-2 0h2m-2 1h2m-1-2h2m-2 1h2m-2 0h2m-2 0h2m-2 1h2m-2 1h2m-2 1h2m-1-5h2m-2 0h2m-2 2h2m-2 1h2m-2 0h2m-2 2h2m-1-7h2m-2 3h2m-2 1h2m-2 2h2m-2 0h2m-2 0h2m-1-6h2m-2 1h2m-2 1h2m-2 4h2m-1-5h2m-2 1h2m-2 1h2m-2 2h2m-2 0h2m-2 0h2m-2 2h2m-1-6h2m-2 1h2m-2 4h2m-2 0h2m-2 0h2m-2 1h2m-1-7h2m-2 4h2m-2 0h2m-2 1h2m-2 4h2m-1-8h2m-2 3h2m-2 0h2m-2 1h2m-1-4h2m-2 0h2m-2 1h2m-2 1h2m-2 1h2m-2 0h2m-2 2h2m-2 1h2m-1-5h2m-2 0h2m-2 1h2m-2 0h2m-2 5h2m-2 2h2m-2 1h2m-1-10h2m-2 1h2m-2 1h2m-2 1h2m-2 0h2m-2 5h2m-2 0h2m-1-4h2m-2 1h2m-2 1h2m-2 2h2m-2 0h2m-2 1h2m-1-5h2m-2 0h2m-2 1h2m-2 1h2m-2 1h2m-2 1h2m-1-5h2m-2 3h2m-2 0h2m-2 2h2m-1-3h2m-2 0h2m-2 1h2m-2 1h2m-2 1h2m-2 1h2m-1-4h2m-2 2h2m-2 0h2m-2 0h2m-2 1h2m-2 1h2m-1-5h2m-2 1h2m-2 3h2m-2 0h2m-2 1h2m-1-6h2m-2 0h2m-2 4h2m-2 1h2m-2 1h2m-2 0h2m-2 1h2m-2 0h2m-1-6h2m-2 1h2m-2 2h2m-2 3h2m-2 0h2m-2 0h2m-1-6h2m-2 1h2m-2 1h2m-2 1h2m-2 1h2m-2 2h2m-2 0h2m-1-5h2m-2 3h2m-2 0h2m-2 3h2m-2 1h2m-1-7h2m-2 2h2m-2 1h2m-1-3h2m-2 1h2m-2 0h2m-2 2h2m-2 0h2m-2 1h2m-2 2h2m-1-4h2m-2 2h2m-2 2h2m-2 1h2m-1-7h2m-2 0h2m-2 2h2m-2 1h2m-2 1h2m-2 1h2m-2 1h2m-2 1h2m-1-5h2m-2 1h2m-2 1h2m-2 1h2m-2 3h2m-1-6h2m-2 2h2m-2 1h2m-2 0h2m-2 1h2m-2 0h2m-1-2h2m-2 0h2m-2 1h2m-2 2h2m-2 1h2m-2 1h2m-1-7h2m-2 0h2m-2 2h2m-2 1h2m-2 2h2m-1-5h2m-2 1h2m-2 5h2m-2 1h2m-2 1h2m-1-6h2m-2 1h2m-2 1h2m-2 1h2m-2 1h2m-2 0h2m-1-4h2m-2 3h2m-2 0h2m-2 0h2m-2 1h2m-2 1h2m-2 2h2m-1-7h2m-2 0h2m-2 2h2m-2 1h2m-2 3h2m-1-4h2m-2 1h2m-2 1h2m-2 0h2m-2 2h2m-2 0h2m-1-5h2m-2 1h2m-2 3h2m-1-4h2m-2 1h2m-2 1h2m-2 1h2m-2 3h2m-2 0h2m-1-8h2m-2 3h2m-2 2h2m-2 2h2m-1-6h2m-2 0h2m-2 1h2m-2 1h2m-2 1h2m-2 1h2m-2 1h2m-2 1h2m-1-5h2m-2 1h2m-2 0h2m-2 1h2m-2 1h2m-1-4h2m-2 3h2m-2 3h2m-2 0h2m-1-5h2m-2 1h2m-2 1h2m-2 1h2m-1-2h2m-2 2h2m-2 0h2m-2 1h2m-2 1h2m-2 0h2m-1-6h2m-2 0h2m-2 1h2m-2 2h2m-2 1h2m-1-4h2m-2 0h2m-2 0h2m-2 1h2m-2 0h2m-2 3h2m-2 1h2m-2 0h2m-2 1h2m-1-3h2m-2 0h2m-2 1h2m-1-4h2m-2 3h2m-2 0h2m-2 2h2m-1-5h2m-2 0h2m-2 1h2m-2 1h2m-2 1h2m-2 0h2m-1-3h2m-2 1h2m-2 4h2m-1-5h2m-2 0h2m-2 0h2m-2 1h2m-2 2h2m-2 1h2m-2 1h2m-1-4h2m-2 1h2m-2 1h2m-2 1h2m-1-4h2m-2 5h2m-1-5h2m-2 3h2m-2 1h2m-1-4h2m-2 1h2m-2 0h2m-2 2h2m-2 1h2m-2 1h2m-2 0h2m-1-5h2m-2 1h2m-2 1h2m-2 1h2m-2 2h2m-1-5h2m-2 1h2m-2 1h2m-2 1h2m-2 0h2m-1-2h2m-2 0h2m-2 4h2m-1-5h2m-1 0h2m-2 0h2m-2 1h2m-2 0h2m-2 0h2m-2 1h2m-2 1h2m-2 1h2m-2 0h2m-2 1h2m-1-6h2m-2 1h2m-2 1h2m-2 2h2m-2 1h2m-1-4h2m-2 2h2m-2 1h2m-2 1h2m-1-4h2m-2 2h2m-2 1h2m-2 2h2m-2 0h2m-1-1h2m-2 0h2m-2 0h2m-2 0h2m-1-3h2m-2 2h2m-2 0h2m-2 0h2m-2 1h2m-2 1h2m-1-5h2m-2 2h2m-2 1h2m-2 2h2m-1-3h2m-2 2h2m-1-4h2m-2 1h2m-2 0h2m-2 3h2m-2 0h2m-1-4h2m-2 1h2m-2 2h2m-2 1h2m-2 1h2m-1-6h2m-2 2h2m-1 0h2m-2 0h2m-2 0h2m-2 1h2m-2 0h2m-2 1h2m-2 1h2m-1-5h2m-2 1h2m-2 3h2m-2 0h2m-1-2h2m-2 0h2m-2 1h2m-2 2h2m-2 1h2m-1-5h2m-2 0h2m-2 1h2m-2 1h2m-2 1h2m-1-4h2m-2 4h2m-2 1h2m-1-4h2m-2 2h2m-2 1h2m-2 1h2m-1-2h2m-2 1h2m-2 2h2m-1-4h2m-2 1h2m-2 1h2m-2 2h2m-2 0h2m-1-2h2m-2 2h2m-1-5h2m-2 0h2m-2 2h2m-2 0h2m-2 2h2m-2 0h2m-2 1h2m-1-6h2m-2 4h2m-2 2h2m-1-5h2m-2 1h2m-2 1h2m-2 2h2m-2 0h2m-1-4h2m-2 1h2m-2 1h2m-2 3h2m-1-5h2m-2 0h2m-2 0h2m-2 1h2m-2 1h2m-1-2h2m-2 0h2m-2 1h2m-2 1h2m-2 2h2m-1-4h2m-2 4h2m-2 0h2m-1-4h2m-2 2h2m-2 0h2m-2 2h2m-1-3h2m-2 2h2m-2 1h2m-1-4h2m-2 1h2m-2 0h2m-2 2h2m-2 0h2m-1-2h2m-2 0h2m-2 2h2m-1-3h2m-2 2h2m-2 1h2m-2 0h2m-1-3h2m-2 0h2m-2 4h2m-1-4h2m-2 1h2m-2 1h2m-2 2h2m-2 0h2m-2 1h2m-1-5h2m-2 1h2m-2 1h2m-2 3h2m-1-4h2m-2 1h2m-1-2h2m-2 1h2m-2 1h2m-2 0h2m-2 1h2m-2 2h2m-1-2h2m-2 1h2m-2 1h2m-1-4h2m-2 0h2m-2 2h2m-2 1h2m-1-4h2m-2 3h2m-2 1h2m-1-4h2m-2 1h2m-2 3h2m-1-4h2m-2 1h2m-2 3h2m-1-4h2m-2 1h2m-1 1h2" stroke="#ff0000" stroke-width="2.4" fill="none"/>
<path transform="scale(.5)" d="M974 523h2m-1-20h2m-2 0h2m-2 0h2m-2 1h2m-2 0h2m-2 0h2m-2 1h2m-2 3h2m-2 0h2m-2 2h2m-2 1h2m-2 1h2m-2 0h2m-2 3h2m-2 7h2m-2 1h2m-2 1h2m-1-17h2m-2 0h2m-2 0h2m-2 1h2m-2 0h2m-2 3h2m-2 2h2m-2 0h2m-2 1h2m-2 0h2m-2 2h2m-2 1h2m-2 0h2m-2 6h2m-1-21h2m-2 1h2m-2 1h2m-2 0h2m-2 1h2m-2 1h2m-2 1h2m-2 2h2m-2 0h2m-2 3h2m-2 0h2m-2 1h2m-2 4h2m-2 0h2m-1-15h2m-2 1h2m-2 1h2m-2 0h2m-2 2h2m-2 1h2m-2 1h2m-2 2h2m-2 1h2m-2 3h2m-2 2h2m-2 0h2m-2 0h2m-2 2h2m-1-16h2m-2 1h2m-2 0h2m-2 0h2m-2 1h2m-2 0h2m-2 4h2m-2 1h2m-2 4h2m-2 2h2m-2 1h2m-1-48h2m-2 33h2m-2 4h2m-2 0h2m-2 0h2m-2 1h2m-2 0h2m-2 0h2m-2 1h2m-2 0h2m-2 1h2m-2 3h2m-2 1h2m-2 1h2m-2 1h2m-2 1h2m-2 3h2m-1-54h2m-2 10h2m-2 27h2m-2 0h2m-2 1h2m-2 1h2m-2 4h2m-2 0h2m-2 0h2m-2 3h2m-2 0h2m-2 1h2m-2 2h2m-2 0h2m-2 1h2m-2 0h2m-2 1h2m-2 0h2m-1-29h2m-2 15h2m-2 3h2m-2 1h2m-2 1h2m-2 0h2m-2 1h2m-2 2h2m-2 1h2m-2 1h2m-2 3h2m-2 0h2m-2 2h2m-2 1h2m-2 1h2m-1-28h2m-2 11h2m-2 3h2m-2 1h2m-2 1h2m-2 0h2m-2 1h2m-2 1h2m-2 0h2m-2 1h2m-2 3h2m-2 1h2m-2 4h2m-2 1h2m-2 2h2m-2 0h2m-1-43h2m-2 1h2m-2 24h2m-2 1h2m-2 2h2m-2 0h2m-2 1h2m-2 0h2m-2 2h2m-2 1h2m-2 1h2m-2 1h2m-2 0h2m-2 1h2m-2 3h2m-2 0h2m-2 8h2m-1-46h2m-2 26h2m-2 1h2m-2 1h2m-2 2h2m-2 2h2m-2 2h2m-2 1h2m-2 0h2m-2 1h2m-2 3h2m-2 0h2m-2 2h2m-2 0h2m-2 1h2m-2 4h2m-1-45h2m-2 23h2m-2 0h2m-2 0h2m-2 2h2m-2 0h2m-2 0h2m-2 2h2m-2 0h2m-2 1h2m-2 1h2m-2 2h2m-2 0h2m-2 0h2m-2 2h2m-2 3h2m-2 1h2m-2 4h2m-2 1h2m-2 2h2m-1-32h2m-2 1h2m-2 14h2m-2 1h2m-2 0h2m-2 2h2m-2 1h2m-2 0h2m-2 1h2m-2 0h2m-2 0h2m-2 1h2m-2 2h2m-2 1h2m-2 0h2m-2 3h2m-2 2h2m-1-16h2m-2 5h2m-2 1h2m-2 0h2m-2 1h2m-2 6h2m-2 3h2m-2 0h2m-2 1h2m-2 2h2m-1-59h2m-2 1h2m-2 7h2m-2 6h2m-2 26h2m-2 4h2m-2 0h2m-2 1h2m-2 0h2m-2 2h2m-2 0h2m-2 1h2m-2 0h2m-2 1h2m-2 1h2m-2 0h2m-2 0h2m-2 0h2m-2 3h2m-2 1h2m-2 4h2m-2 1h2m-1-45h2m-2 4h2m-2 18h2m-2 9h2m-2 0h2m-2 1h2m-2 3h2m-2 2h2m-2 1h2m-2 0h2m-2 3h2m-2 1h2m-1-38h2m-2 21h2m-2 6h2m-2 1h2m-2 1h2m-2 2h2m-2 2h2m-2 0h2m-2 1h2m-2 0h2m-2 1h2m-2 2h2m-2 2h2m-1-19h2m-2 2h2m-2 1h2m-2 0h2m-2 1h2m-2 2h2m-2 1h2m-2 0h2m-2 3h2m-2 1h2m-2 0h2m-2 1h2m-2 2h2m-2 1h2m-2 1h2m-2 0h2m-1-16h2m-2 1h2m-2 1h2m-2 5h2m-2 1h2m-2 0h2m-2 0h2m-2 1h2m-2 0h2m-2 0h2m-2 1h2m-2 2h2m-2 0h2m-2 3h2m-2 1h2m-2 3h2m-1-45h2m-2 22h2m-2 5h2m-2 2h2m-2 1h2m-2 1h2m-2 1h2m-2 2h2m-2 1h2m-2 0h2m-2 0h2m-2 1h2m-2 1h2m-2 1h2m-2 5h2m-2 1h2m-2 4h2m-2 0h2m-1-46h2m-2 27h2m-2 0h2m-2 0h2m-2 1h2m-2 2h2m-2 0h2m-2 1h2m-2 1h2m-2 1h2m-2 1h2m-2 1h2m-2 0h2m-2 2h2m-2 0h2m-2 2h2m-2 0h2m-2 1h2m-2 0h2m-2 4h2m-2 0h2m-2 0h2m-2 1h2m-1-55h2m-2 10h2m-2 28h2m-2 2h2m-2 1h2m-2 2h2m-2 2h2m-2 5h2m-2 0h2m-2 1h2m-2 1h2m-2 2h2m-2 0h2m-2 0h2m-1-55h2m-2 37h2m-2 2h2m-2 0h2m-2 2h2m-2 0h2m-2 0h2m-2 1h2m-2 1h2m-2 2h2m-2 1h2m-2 1h2m-2 5h2m-2 1h2m-2 0h2m-2 1h2m-2 1h2m-1-40h2m-2 12h2m-2 10h2m-2 0h2m-2 3h2m-2 1h2m-2 2h2m-2 1h2m-2 0h2m-2 4h2m-2 0h2m-2 0h2m-2 4h2m-2 0h2m-2 0h2m-2 3h2m-1-21h2m-2 4h2m-2 1h2m-2 1h2m-2 3h2m-2 0h2m-2 3h2m-2 1h2m-2 1h2m-2 1h2m-2 0h2m-2 1h2m-2 1h2m-2 1h2m-1-43h2m-2 2h2m-2 24h2m-2 1h2m-2 0h2m-2 0h2m-2 0h2m-2 2h2m-2 2h2m-2 0h2m-2 0h2m-2 2h2m-2 0h2m-2 1h2m-2 0h2m-2 2h2m-2 1h2m-2 1h2m-2 0h2m-2 4h2m-1-56h2m-2 41h2m-2 1h2m-2 0h2m-2 1h2m-2 0h2m-2 1h2m-2 0h2m-2 0h2m-2 1h2m-2 0h2m-2 3h2m-2 2h2m-2 0h2m-2 1h2m-2 2h2m-2 4h2m-2 2h2m-1-12h2m-2 1h2m-2 2h2m-2 1h2m-2 2h2m-2 0h2m-2 2h2m-2 1h2m-2 0h2m-1-32h2m-2 11h2m-2 10h2m-2 0h2m-2 1h2m-2 1h2m-2 1h2m-2 0h2m-2 2h2m-2 0h2m-2 3h2m-2 4h2m-2 1h2m-2 2h2m-1-58h2m-2 40h2m-2 1h2m-2 0h2m-2 0h2m-2 1h2m-2 0h2m-2 0h2m-2 0h2m-2 1h2m-2 0h2m-2 2h2m-2 1h2m-2 3h2m-2 1h2m-2 0h2m-2 1h2m-2 3h2m-1-13h2m-2 0h2m-2 0h2m-2 3h2m-2 2h2m-2 2h2m-2 3h2m-2 3h2m-2 1h2m-2 1h2m-2 1h2m-1-58h2m-2 40h2m-2 3h2m-2 1h2m-2 0h2m-2 1h2m-2 1h2m-2 3h2m-2 3h2m-2 1h2m-2 2h2m-2 0h2m-2 2h2m-2 0h2m-1-52h2m-2 14h2m-2 24h2m-2 2h2m-2 1h2m-2 2h2m-2 1h2m-2 0h2m-2 2h2m-2 2h2m-1-45h2m-2 15h2m-2 20h2m-2 2h2m-2 1h2m-2 0h2m-2 2h2m-2 3h2m-2 1h2m-2 0h2m-2 1h2m-2 0h2m-2 3h2m-2 1h2m-1-35h2m-2 3h2m-2 18h2m-2 2h2m-2 1h2m-2 0h2m-2 1h2m-2 1h2m-2 1h2m-2 0h2m-2 0h2m-2 1h2m-2 0h2m-2 1h2m-2 4h2m-1-56h2m-2 44h2m-2 0h2m-2 0h2m-2 4h2m-2 2h2m-2 2h2m-2 0h2m-2 1h2m-2 1h2m-2 1h2m-2 0h2m-2 1h2m-1-53h2m-2 41h2m-2 1h2m-2 0h2m-2 0h2m-2 1h2m-2 1h2m-2 2h2m-2 1h2m-2 0h2m-2 1h2m-2 3h2m-2 1h2m-2 1h2m-2 1h2m-1-14h2m-2 1h2m-2 1h2m-2 1h2m-2 2h2m-2 8h2m-1-32h2m-2 1h2m-2 19h2m-2 0h2m-2 1h2m-2 1h2m-2 0h2m-2 1h2m-2 3h2m-2 2h2m-2 0h2m-2 0h2m-2 1h2m-2 3h2m-2 1h2m-2 1h2m-2 1h2m-2 0h2m-1-45h2m-2 30h2m-2 2h2m-2 0h2m-2 4h2m-2 6h2m-2 1h2m-2 1h2m-1-12h2m-2 1h2m-2 1h2m-2 1h2m-2 1h2m-2 2h2m-2 0h2m-2 0h2m-2 1h2m-2 0h2m-2 1h2m-2 1h2m-2 1h2m-1-1h2m56-389h2m-2 1h2m-2 3h2m-2 1h2m-2 4h2m-1-9h2m-2 1h2m-2 3h2m-2 0h2m-2 1h2m-2 1h2m-2 0h2m-2 0h2m-2 0h2m-1-8h2m-2 3h2m-2 0h2m-2 1h2m-2 2h2m-2 1h2m-2 2h2m-1-7h2m-2 1h2m-2 0h2m-2 0h2m-2 1h2m-2 5h2m-1-8h2m-2 2h2m-2 1h2m-2 1h2m-2 1h2m-2 2h2m-2 0h2m-2 0h2m-2 3h2m-1-10h2m-2 0h2m-2 1h2m-2 0h2m-2 5h2m-2 2h2m-2 0h2m-1-9h2m-2 0h2m-2 2h2m-2 1h2m-2 0h2m-2 2h2m-2 2h2m-2 0h2m-1-2h2m-2 2h2m-2 1h2m-2 1h2m-2 0h2m-2 0h2m-2 1h2m-2 0h2m-2 1h2m-1-11h2m-2 0h2m-2 3h2m-2 1h2m-2 1h2m-2 0h2m-2 2h2m-1-5h2m-2 1h2m-2 0h2m-2 3h2m-2 0h2m-2 2h2m-2 2h2m-1-9h2m-2 3h2m-2 0h2m-2 0h2m-2 2h2m-2 0h2m-2 1h2m-2 2h2m-1-9h2m-2 3h2m-2 3h2m-2 2h2m-2 2h2m-1-8h2m-2 1h2m-2 0h2m-2 0h2m-2 1h2m-2 0h2m-2 0h2m-2 1h2m-2 0h2m-2 2h2m-2 1h2m-1-5h2m-2 3h2m-2 1h2m-2 1h2m-2 0h2m-2 2h2m-1-10h2m-2 2h2m-2 0h2m-2 1h2m-2 0h2m-1-2h2m-2 1h2m-2 1h2m-2 0h2m-2 0h2m-2 2h2m-2 0h2m-2 3h2m-1-7h2m-2 1h2m-2 1h2m-2 2h2m-2 0h2m-2 1h2m-1-3h2m-2 2h2m-2 1h2m-2 1h2m-2 0h2m-2 1h2m-2 0h2m-2 1h2m-2 0h2m-1-7h2m-2 3h2m-2 2h2m-2 2h2m-1-8h2m-2 0h2m-2 2h2m-2 0h2m-2 1h2m-2 5h2m-2 1h2m-2 0h2m-1-9h2m-2 2h2m-2 0h2m-2 1h2m-2 6h2m-1-8h2m-2 1h2m-2 1h2m-2 2h2m-2 0h2m-2 2h2m-2 1h2m-1-5h2m-2 3h2m-2 0h2m-2 1h2m-2 0h2m-2 2h2m-1-8h2m-2 4h2m-2 1h2m-2 1h2m-2 0h2m-2 1h2m-2 1h2m-2 0h2m-1-6h2m-2 0h2m-2 2h2m-2 1h2m-2 0h2m-1-2h2m-2 1h2m-2 3h2m-1-4h2m-2 0h2m-2 2h2m-2 1h2m-2 0h2m-2 1h2m-2 2h2m-1-8h2m-2 1h2m-2 1h2m-2 1h2m-2 1h2m-2 1h2m-2 0h2m-2 0h2m-2 0h2m-2 2h2m-1-4h2m-2 3h2m-2 2h2m-1-8h2m-2 1h2m-2 4h2m-2 1h2m-2 0h2m-2 1h2m-1-6h2m-2 1h2m-2 2h2m-2 0h2m-2 1h2m-2 2h2m-1-7h2m-2 1h2m-2 0h2m-2 2h2m-2 1h2m-2 0h2m-1-4h2m-2 1h2m-2 0h2m-2 2h2m-2 1h2m-2 1h2m-2 1h2m-2 1h2m-1-4h2m-2 2h2m-2 0h2m-2 1h2m-2 0h2m-1-4h2m-2 0h2m-2 1h2m-2 2h2m-1-4h2m-2 0h2m-2 3h2m-1-3h2m-2 0h2m-2 2h2m-2 1h2m-2 0h2m-2 3h2m-1-5h2m-2 1h2m-2 1h2m-2 1h2m-2 1h2m-2 0h2m-1-6h2m-2 5h2m-2 0h2m-2 2h2m-1-5h2m-2 1h2m-2 0h2m-2 0h2m-2 2h2m-2 0h2m-2 0h2m-2 1h2m-1-4h2m-2 2h2m-2 1h2m-2 1h2m-2 0h2m-1-5h2m-2 5h2m-1-4h2m-2 1h2m-2 0h2m-2 1h2m-2 1h2m-2 1h2m-2 1h2m-2 0h2m-2 0h2m-1-5h2m-2 1h2m-2 0h2m-2 3h2m-2 1h2m-2 0h2m-2 0h2m-1-6h2m-2 1h2m-2 3h2m-2 1h2m-2 0h2m-1-5h2m-2 1h2m-2 1h2m-2 1h2m-2 0h2m-2 2h2m-1-3h2m-2 1h2m-2 1h2m-2 0h2m-2 1h2m-1-2h2m-2 2h2m-2 0h2m-2 0h2m-1-5h2m-2 2h2m-2 1h2m-2 2h2m-2 0h2m-1-5h2m-2 1h2m-2 1h2m-2 2h2m-2 1h2m-2 0h2m-2 0h2m-1-5h2m-2 1h2m-2 4h2m-1-5h2m-2 0h2m-2 3h2m-2 2h2m-2 0h2m-2 0h2m-1-5h2m-2 0h2m-2 1h2m-2 1h2m-2 3h2m-1-1h2m-2 0h2m-2 1h2m-2 0h2m-1-4h2m-2 1h2m-2 3h2m-2 0h2m-1-2h2m-2 0h2m-1 0h2m-2 1h2m-2 0h2m-2 1h2m-2 0h2m-2 0h2m-2 0h2m-1-4h2m-2 2h2m-2 1h2m-2 2h2m-1-5h2m-2 1h2m-2 1h2m-1-1h2m-2 2h2m-2 0h2m-2 2h2m-2 0h2m-1-5h2m-2 1h2m-2 1h2m-2 0h2m-2 1h2m-2 0h2m-2 1h2m-1-5h2m-2 2h2m-2 0h2m-2 2h2m-1-3h2m-2 3h2m-2 1h2m-1-4h2m-2 1h2m-2 1h2m-2 0h2m-2 2h2m-2 0h2m-2 0h2m-1-4h2m-2 0h2m-2 2h2m-1-2h2m-2 0h2m-2 1h2m-2 0h2m-2 1h2m-2 0h2m-1-2h2m-2 1h2m-2 0h2m-2 2h2m-2 2h2m-2 0h2m-1-4h2m-2 0h2m-2 1h2m-1-2h2m-2 1h2m-2 0h2m-2 1h2m-2 1h2m-2 2h2m-2 0h2m-1-4h2m-2 0h2m-2 2h2m-2 1h2m-1 0h2m-2 1h2m-1-5h2m-2 5h2m-2 0h2m-2 0h2m-2 0h2m-2 1h2m-2 384h2m-2 2h2m-2 9h2m-2 0h2m-1-400h2m-2 0h2m-2 0h2m-2 3h2m-2 0h2m-2 384h2m-2 2h2m-2 3h2m-2 3h2m-2 1h2m-2 5h2m-2 2h2m-1-403h2m-2 2h2m-2 1h2m-2 0h2m-2 0h2m-2 1h2m-2 1h2m-2 383h2m-2 2h2m-2 0h2m-2 1h2m-2 1h2m-2 3h2m-2 0h2m-2 0h2m-2 2h2m-1-397h2m-2 2h2m-2 1h2m-2 384h2m-2 0h2m-2 1h2m-2 0h2m-2 1h2m-2 5h2m-2 0h2m-2 2h2m-2 1h2m-2 2h2m-2 1h2m-1-399h2m-2 0h2m-2 3h2m-2 383h2m-2 0h2m-2 1h2m-2 7h2m-2 1h2m-2 1h2m-2 2h2m-2 2h2m-2 0h2m-2 2h2m-2 0h2m-2 1h2m-1-405h2m-2 2h2m-2 1h2m-2 0h2m-2 2h2m-2 382h2m-2 0h2m-2 2h2m-2 1h2m-2 1h2m-2 3h2m-2 2h2m-2 1h2m-2 1h2m-2 0h2m-2 4h2m-1-402h2m-2 0h2m-2 0h2m-2 1h2m-2 4h2m-2 0h2m-2 382h2m-2 4h2m-2 0h2m-2 0h2m-2 1h2m-2 1h2m-2 1h2m-2 1h2m-2 0h2m-2 2h2m-2 2h2m-2 3h2m-2 1h2m-2 2h2m-1-406h2m-2 0h2m-2 3h2m-2 1h2m-2 0h2m-2 384h2m-2 2h2m-2 1h2m-2 1h2m-2 3h2m-2 2h2m-2 1h2m-2 1h2m-2 1h2m-2 1h2m-2 2h2m-2 3h2m-1-406h2m-2 0h2m-2 0h2m-2 1h2m-2 2h2m-2 2h2m-2 382h2m-2 1h2m-2 2h2m-2 3h2m-2 1h2m-2 0h2m-2 3h2m-2 0h2m-2 0h2m-2 1h2m-2 1h2m-2 1h2m-2 0h2m-2 1h2m-2 2h2m-2 0h2m-2 1h2m-1-13h2m-2 0h2m-2 1h2m-2 3h2m-2 1h2m-2 1h2m-2 0h2m-2 1h2m-1-398h2m-2 1h2m-2 2h2m-2 0h2m-2 1h2m-2 1h2m-2 0h2m-2 383h2m-2 1h2m-2 1h2m-2 2h2m-2 6h2m-2 4h2m-2 1h2m-1-402h2m-2 0h2m-2 2h2m-2 1h2m-2 383h2m-2 1h2m-2 5h2m-2 0h2m-2 3h2m-2 0h2m-2 3h2m-2 1h2m-2 0h2m-2 1h2m-2 1h2m-2 4h2m-1-406h2m-2 1h2m-2 3h2m-2 1h2m-2 387h2m-2 0h2m-2 3h2m-2 1h2m-2 0h2m-2 1h2m-2 1h2m-2 3h2m-2 0h2m-2 0h2m-2 0h2m-2 4h2m-2 1h2m-1-404h2m-2 1h2m-2 0h2m-2 1h2m-2 0h2m-2 391h2m-2 1h2m-2 2h2m-2 2h2m-2 1h2m-2 1h2m-2 1h2m-2 0h2m-1-403h2m-2 0h2m-2 3h2m-2 1h2m-2 385h2m-2 2h2m-2 0h2m-2 1h2m-2 1h2m-2 6h2m-2 0h2m-2 3h2m-2 1h2m-2 1h2m-2 0h2m-1-404h2m-2 2h2m-2 1h2m-2 1h2m-2 385h2m-2 1h2m-2 2h2m-2 1h2m-2 2h2m-2 2h2m-2 1h2m-2 3h2m-2 0h2m-2 1h2m-2 0h2m-2 2h2m-2 2h2m-1-408h2m-2 0h2m-2 3h2m-2 0h2m-2 1h2m-2 2h2m-2 383h2m-2 1h2m-2 1h2m-2 0h2m-2 1h2m-2 0h2m-2 3h2m-2 0h2m-2 3h2m-2 0h2m-2 0h2m-2 1h2m-2 1h2m-2 0h2m-2 1h2m-2 0h2m-2 1h2m-2 6h2m-1-406h2m-2 1h2m-2 0h2m-2 2h2m-2 1h2m-2 384h2m-2 1h2m-2 1h2m-2 4h2m-2 0h2m-2 2h2m-2 2h2m-2 1h2m-2 6h2m-1-404h2m-2 1h2m-2 1h2m-2 385h2m-2 2h2m-2 0h2m-2 0h2m-2 2h2m-2 1h2m-2 4h2m-2 0h2m-2 3h2m-2 0h2m-2 0h2m-1-401h2m-2 1h2m-2 3h2m-2 1h2m-2 384h2m-2 3h2m-2 1h2m-2 0h2m-2 1h2m-2 1h2m-2 2h2m-2 1h2m-2 0h2m-2 1h2m-2 0h2m-2 1h2m-2 3h2m-2 2h2m-2 3h2m-1-408h2m-2 1h2m-2 0h2m-2 0h2m-2 1h2m-2 1h2m-2 387h2m-2 0h2m-2 2h2m-2 2h2m-2 5h2m-2 2h2m-2 0h2m-2 2h2m-2 0h2m-2 1h2m-2 1h2m-2 1h2m-2 0h2m-1-406h2m-2 2h2m-2 1h2m-2 1h2m-2 385h2m-2 4h2m-2 0h2m-2 1h2m-2 1h2m-2 3h2m-2 0h2m-2 1h2m-2 1h2m-2 1h2m-2 0h2m-2 0h2m-2 1h2m-2 0h2m-2 0h2m-2 3h2m-1-406h2m-2 0h2m-2 1h2m-2 2h2m-2 0h2m-2 389h2m-2 3h2m-2 1h2m-2 1h2m-2 1h2m-2 3h2m-2 2h2m-2 0h2m-2 0h2m-2 3h2m-2 0h2m-2 1h2m-2 2h2m-1-409h2m-2 2h2m-2 3h2m-2 384h2m-2 4h2m-2 1h2m-2 1h2m-2 0h2m-2 3h2m-2 2h2m-2 1h2m-2 2h2m-2 2h2m-1-406h2m-2 1h2m-2 0h2m-2 1h2m-2 3h2m-2 385h2m-2 1h2m-2 5h2m-2 1h2m-2 3h2m-2 4h2m-2 0h2m-2 0h2m-2 1h2m-2 1h2m-1-403h2m-2 1h2m-2 1h2m-2 0h2m-2 0h2m-2 387h2m-2 2h2m-2 1h2m-2 1h2m-2 1h2m-2 2h2m-2 0h2m-2 2h2m-2 2h2m-2 1h2m-1-404h2m-2 0h2m-2 2h2m-2 1h2m-2 0h2m-2 3h2m-2 387h2m-2 3h2m-2 3h2m-2 0h2m-2 1h2m-2 1h2m-2 1h2m-2 1h2m-2 0h2m-2 1h2m-2 3h2m-1-407h2m-2 2h2m-2 0h2m-2 0h2m-2 0h2m-2 392h2m-2 0h2m-2 1h2m-2 2h2m-2 1h2m-2 3h2m-2 1h2m-2 2h2m-2 0h2m-2 0h2m-2 2h2m-2 0h2m-1-407h2m-2 3h2m-2 0h2m-2 0h2m-2 388h2m-2 5h2m-2 1h2m-2 2h2m-2 1h2m-2 1h2m-2 0h2m-2 1h2m-2 1h2m-2 3h2m-2 2h2m-1-408h2m-2 0h2m-2 3h2m-2 1h2m-2 1h2m-2 386h2m-2 3h2m-2 1h2m-2 1h2m-2 0h2m-2 2h2m-2 2h2m-2 1h2m-2 2h2m-2 1h2m-2 1h2m-2 1h2m-2 1h2m-2 0h2m-2 2h2m-1-410h2m-2 1h2m-2 0h2m-2 3h2m-2 1h2m-2 1h2m-2 387h2m-2 2h2m-2 1h2m-2 0h2m-2 1h2m-2 1h2m-2 0h2m-2 3h2m-2 1h2m-2 1h2m-2 1h2m-2 1h2m-2 1h2m-2 1h2m-2 0h2m-2 3h2m-1-407h2m-2 1h2m-2 1h2m-2 390h2m-2 1h2m-2 7h2m-2 2h2m-2 1h2m-2 0h2m-2 2h2m-2 0h2m-2 1h2m-2 0h2m-1-407h2m-2 0h2m-2 2h2m-2 0h2m-2 0h2m-2 2h2m-2 385h2m-2 6h2m-2 1h2m-2 1h2m-2 1h2m-2 1h2m-2 1h2m-2 5h2m-2 0h2m-2 3h2m-2 1h2m-1-411h2m-2 0h2m-2 2h2m-2 2h2m-2 388h2m-2 1h2m-2 0h2m-2 1h2m-2 3h2m-2 0h2m-2 1h2m-2 2h2m-2 2h2m-2 0h2m-2 2h2m-2 2h2m-2 1h2m-2 1h2m-2 1h2m-2 0h2m-2 1h2m-2 1h2m-1-411h2m-2 1h2m-2 3h2m-2 1h2m-2 388h2m-2 3h2m-2 1h2m-2 0h2m-2 3h2m-2 2h2m-2 0h2m-2 0h2m-2 1h2m-2 2h2m-2 0h2m-2 0h2m-2 0h2m-2 1h2m-2 0h2m-1-405h2m-2 1h2m-2 1h2m-2 393h2m-2 0h2m-2 2h2m-2 0h2m-2 0h2m-2 3h2m-2 1h2m-2 1h2m-2 0h2m-2 5h2m-2 1h2m-1-400h2m-2 4h2m-2 382h2m-2 0h2m-2 4h2m-2 1h2m-2 0h2m-2 2h2m-2 1h2m-2 1h2m-2 0h2m-2 1h2m-2 1h2m-2 1h2m-2 1h2m-2 1h2m-2 2h2m-1-407h2m-2 4h2m-2 0h2m-2 0h2m-2 1h2m-2 2h2m-2 2h2m-2 362h2m-2 15h2m-2 1h2m-2 1h2m-2 1h2m-2 2h2m-2 0h2m-2 2h2m-2 0h2m-2 4h2m-2 0h2m-2 1h2m-2 0h2m-2 1h2m-2 0h2m-2 0h2m-2 1h2m-2 0h2m-2 1h2m-2 0h2m-2 3h2m-2 3h2m-1-405h2m-2 1h2m-2 0h2m-2 2h2m-2 1h2m-2 0h2m-2 4h2m-2 371h2m-2 0h2m-2 2h2m-2 2h2m-2 3h2m-2 0h2m-2 2h2m-2 0h2m-2 2h2m-2 1h2m-2 3h2m-2 1h2m-2 2h2m-2 0h2m-2 2h2m-2 3h2m-2 2h2m-1-404h2m-2 1h2m-2 3h2m-2 1h2m-2 369h2m-2 7h2m-2 0h2m-2 3h2m-2 1h2m-2 1h2m-2 1h2m-2 1h2m-2 0h2m-2 1h2m-2 1h2m-2 0h2m-2 2h2m-2 3h2m-2 1h2m-2 2h2m-2 4h2m-1-403h2m-2 7h2m-2 0h2m-2 1h2m-2 1h2m-2 1h2m-2 0h2m-2 1h2m-2 1h2m-2 376h2m-2 0h2m-2 2h2m-2 0h2m-2 2h2m-2 0h2m-2 1h2m-2 1h2m-2 0h2m-2 2h2m-2 2h2m-2 1h2m-2 1h2m-2 0h2m-2 1h2m-2 0h2m-2 0h2m-2 4h2m-1-405h2m-2 2h2m-2 0h2m-2 3h2m-2 1h2m-2 2h2m-2 3h2m-2 346h2m-2 22h2m-2 4h2m-2 0h2m-2 1h2m-2 1h2m-2 2h2m-2 0h2m-2 1h2m-2 4h2m-2 0h2m-2 2h2m-2 1h2m-2 3h2m-2 1h2m-2 5h2m-2 1h2m-1-404h2m-2 0h2m-2 1h2m-2 0h2m-2 1h2m-2 0h2m-2 1h2m-2 1h2m-2 0h2m-2 2h2m-2 2h2m-2 0h2m-2 1h2m-2 1h2m-2 0h2m-2 344h2m-2 8h2m-2 4h2m-2 9h2m-2 2h2m-2 0h2m-2 1h2m-2 0h2m-2 1h2m-2 1h2m-2 1h2m-2 0h2m-2 1h2m-2 1h2m-2 2h2m-2 1h2m-2 1h2m-2 1h2m-2 1h2m-2 1h2m-2 1h2m-2 5h2m-2 1h2m-1-392h2m-2 0h2m-2 1h2m-2 1h2m-2 0h2m-2 0h2m-2 1h2m-2 0h2m-2 348h2m-2 20h2m-2 1h2m-2 0h2m-2 2h2m-2 1h2m-2 3h2m-2 0h2m-2 1h2m-2 0h2m-2 1h2m-2 0h2m-2 2h2m-2 7h2m-2 0h2m-2 3h2m-1-396h2m-2 4h2m-2 352h2m-2 4h2m-2 8h2m-2 7h2m-2 0h2m-2 0h2m-2 0h2m-2 1h2m-2 0h2m-2 2h2m-2 0h2m-2 1h2m-2 0h2m-2 1h2m-2 3h2m-2 7h2m-2 1h2m-2 3h2m-1-396h2m-2 1h2m-2 3h2m-2 3h2m-2 1h2m-2 0h2m-2 368h2m-2 0h2m-2 1h2m-2 0h2m-2 0h2m-2 1h2m-2 1h2m-2 0h2m-2 1h2m-2 0h2m-2 1h2m-2 2h2m-2 1h2m-2 1h2m-2 1h2m-2 0h2m-2 4h2m-2 4h2m-2 1h2m-2 2h2m-2 2h2m-2 1h2m-2 1h2m-2 2h2m-1-403h2m-2 3h2m-2 1h2m-2 0h2m-2 1h2m-2 351h2m-2 4h2m-2 4h2m-2 2h2m-2 2h2m-2 9h2m-2 3h2m-2 1h2m-2 1h2m-2 2h2m-2 3h2m-2 0h2m-2 1h2m-2 2h2m-2 4h2m-2 0h2m-2 1h2m-2 2h2m-2 0h2m-2 3h2m-1-401h2m-2 0h2m-2 0h2m-2 0h2m-2 1h2m-2 0h2m-2 4h2m-2 1h2m-2 2h2m-2 370h2m-2 1h2m-2 2h2m-2 0h2m-2 1h2m-2 0h2m-2 4h2m-2 1h2m-2 2h2m-2 3h2m-2 0h2m-2 1h2m-2 1h2m-2 1h2m-2 1h2m-2 1h2m-2 1h2m-2 0h2m-2 3h2m-2 2h2m-2 2h2m-2 1h2m-1-406h2m-2 1h2m-2 1h2m-2 0h2m-2 3h2m-2 362h2m-2 10h2m-2 2h2m-2 0h2m-2 3h2m-2 1h2m-2 1h2m-2 1h2m-2 1h2m-2 0h2m-2 2h2m-2 0h2m-2 3h2m-2 1h2m-2 1h2m-2 1h2m-2 3h2m-2 1h2m-2 2h2m-2 1h2m-2 0h2m-2 0h2m-2 1h2m-2 1h2m-2 2h2m-1-406h2m-2 2h2m-2 0h2m-2 1h2m-2 3h2m-2 2h2m-2 369h2m-2 4h2m-2 2h2m-2 1h2m-2 1h2m-2 1h2m-2 0h2m-2 3h2m-2 1h2m-2 9h2m-2 0h2m-2 1h2m-2 4h2m-2 0h2m-2 0h2m-2 2h2m-2 0h2m-2 1h2m-1-405h2m-2 3h2m-2 1h2m-2 0h2m-2 1h2m-2 0h2m-2 0h2m-2 0h2m-2 1h2m-2 367h2m-2 1h2m-2 1h2m-2 0h2m-2 0h2m-2 5h2m-2 1h2m-2 1h2m-2 1h2m-2 1h2m-2 2h2m-2 0h2m-2 1h2m-2 2h2m-2 3h2m-2 0h2m-2 1h2m-2 0h2m-2 2h2m-2 8h2m-1-405h2m-2 1h2m-2 0h2m-2 4h2m-2 0h2m-2 362h2m-2 7h2m-2 3h2m-2 0h2m-2 2h2m-2 1h2m-2 0h2m-2 1h2m-2 0h2m-2 2h2m-2 2h2m-2 1h2m-2 2h2m-2 0h2m-2 3h2m-2 0h2m-2 1h2m-2 2h2m-2 2h2m-2 0h2m-2 0h2m-2 1h2m-2 1h2m-2 3h2m-1-402h2m-2 1h2m-2 1h2m-2 1h2m-2 2h2m-2 2h2m-2 1h2m-2 370h2m-2 2h2m-2 0h2m-2 6h2m-2 3h2m-2 3h2m-2 2h2m-2 2h2m-2 2h2m-2 4h2m-1-400h2m-2 1h2m-2 2h2m-2 2h2m-2 1h2m-2 362h2m-2 3h2m-2 3h2m-2 1h2m-2 7h2m-2 0h2m-2 1h2m-2 0h2m-2 1h2m-2 1h2m-2 1h2m-2 1h2m-2 3h2m-2 2h2m-2 2h2m-2 0h2m-2 0h2m-2 2h2m-2 0h2m-2 2h2m-2 1h2m-2 2h2m-2 1h2m-1-404h2m-2 0h2m-2 1h2m-2 2h2m-2 2h2m-2 0h2m-2 2h2m-2 1h2m-2 0h2m-2 0h2m-2 359h2m-2 4h2m-2 8h2m-2 1h2m-2 2h2m-2 0h2m-2 3h2m-2 0h2m-2 1h2m-2 1h2m-2 0h2m-2 2h2m-2 0h2m-2 3h2m-2 1h2m-2 0h2m-2 3h2m-2 3h2m-2 6h2m-1-403h2m-2 1h2m-2 0h2m-2 4h2m-2 2h2m-2 350h2m-2 9h2m-2 6h2m-2 6h2m-2 1h2m-2 1h2m-2 0h2m-2 2h2m-2 2h2m-2 1h2m-2 0h2m-2 1h2m-2 3h2m-2 1h2m-2 0h2m-2 1h2m-2 0h2m-2 0h2m-2 1h2m-2 1h2m-2 1h2m-2 1h2m-2 0h2m-2 0h2m-2 2h2m-2 0h2m-2 1h2m-2 2h2m-2 1h2m-2 0h2m-2 1h2m-2 2h2m-1-406h2m-2 2h2m-2 1h2m-2 1h2m-2 0h2m-2 1h2m-2 0h2m-2 0h2m-2 356h2m-2 19h2m-2 1h2m-2 2h2m-2 1h2m-2 0h2m-2 6h2m-2 1h2m-2 0h2m-2 1h2m-2 1h2m-2 1h2m-2 1h2m-2 2h2m-2 1h2m-2 2h2m-2 0h2m-1-399h2m-2 7h2m-2 357h2m-2 18h2m-2 1h2m-2 1h2m-2 1h2m-2 0h2m-2 0h2m-2 0h2m-2 1h2m-2 6h2m-2 0h2m-2 0h2m-2 4h2m-2 3h2m-2 2h2m-2 2h2m-2 1h2m-1-404h2m-2 0h2m-2 2h2m-2 0h2m-2 0h2m-2 0h2m-2 1h2m-2 1h2m-2 0h2m-2 356h2m-2 19h2m-2 2h2m-2 2h2m-2 0h2m-2 4h2m-2 4h2m-2 0h2m-2 0h2m-2 2h2m-2 0h2m-2 1h2m-2 1h2m-2 0h2m-2 0h2m-2 2h2m-2 2h2m-2 0h2m-2 0h2m-2 1h2m-1-398h2m-2 2h2m-2 372h2m-2 3h2m-2 3h2m-2 0h2m-2 1h2m-2 1h2m-2 1h2m-2 1h2m-2 2h2m-2 1h2m-2 2h2m-2 1h2m-2 1h2m-2 0h2m-2 1h2m-2 2h2m-2 1h2m-2 0h2m-2 1h2m-2 0h2m-2 1h2m-1-400h2m-2 1h2m-2 1h2m-2 1h2m-2 0h2m-2 1h2m-2 0h2m-2 1h2m-2 2h2m-2 357h2m-2 15h2m-2 0h2m-2 3h2m-2 4h2m-2 0h2m-2 1h2m-2 0h2m-2 4h2m-2 0h2m-2 5h2m-2 2h2m-2 1h2m-2 2h2m-2 3h2m-1-403h2m-2 0h2m-2 3h2m-2 0h2m-2 2h2m-2 1h2m-2 372h2m-2 1h2m-2 1h2m-2 0h2m-2 1h2m-2 1h2m-2 0h2m-2 1h2m-2 2h2m-2 3h2m-2 0h2m-2 2h2m-2 0h2m-2 1h2m-2 0h2m-2 0h2m-2 1h2m-2 1h2m-2 2h2m-2 1h2m-2 0h2m-2 4h2m-2 0h2m-2 3h2m-2 1h2m-1-405h2m-2 1h2m-2 1h2m-2 0h2m-2 2h2m-2 2h2m-2 353h2m-2 17h2m-2 1h2m-2 5h2m-2 0h2m-2 2h2m-2 2h2m-2 2h2m-2 1h2m-2 1h2m-2 1h2m-2 0h2m-2 6h2m-2 2h2m-2 0h2m-2 0h2m-2 3h2m-2 2h2m-2 1h2m-1-406h2m-2 1h2m-2 1h2m-2 3h2m-2 2h2m-2 1h2m-2 358h2m-2 1h2m-2 12h2m-2 1h2m-2 2h2m-2 0h2m-2 1h2m-2 0h2m-2 2h2m-2 2h2m-2 2h2m-2 1h2m-2 0h2m-2 0h2m-2 1h2m-2 2h2m-2 1h2m-2 2h2m-2 0h2m-2 0h2m-2 0h2m-2 1h2m-2 0h2m-2 0h2m-2 0h2m-2 1h2m-2 1h2m-2 1h2m-2 2h2m-1-399h2m-2 0h2m-2 1h2m-2 1h2m-2 0h2m-2 377h2m-2 4h2m-2 1h2m-2 2h2m-2 0h2m-2 1h2m-2 5h2m-2 8h2m-2 1h2m-1-400h2m-2 2h2m-2 0h2m-2 1h2m-2 2h2m-2 355h2m-2 19h2m-2 5h2m-2 1h2m-2 1h2m-2 1h2m-2 1h2m-2 0h2m-2 0h2m-2 1h2m-2 1h2m-2 1h2m-2 1h2m-2 4h2m-2 0h2m-2 3h2m-2 0h2m-2 1h2m-2 0h2m-2 1h2m-2 1h2m-1-404h2m-2 0h2m-2 1h2m-2 0h2m-2 1h2m-2 1h2m-2 0h2m-2 1h2m-2 1h2m-2 1h2m-2 354h2m-2 4h2m-2 21h2m-2 4h2m-2 1h2m-2 1h2m-2 0h2m-2 3h2m-2 0h2m-2 2h2m-2 1h2m-2 0h2m-2 1h2m-2 4h2m-2 1h2m-2 1h2m-1-404h2m-2 1h2m-2 0h2m-2 5h2m-2 359h2m-2 6h2m-2 4h2m-2 7h2m-2 1h2m-2 4h2m-2 1h2m-2 2h2m-2 0h2m-2 1h2m-2 1h2m-2 1h2m-2 2h2m-2 1h2m-2 0h2m-2 1h2m-2 4h2m-2 2h2m-2 1h2m-2 1h2m-2 1h2m-2 1h2m-1-406h2m-2 5h2m-2 1h2m-2 376h2m-2 2h2m-2 0h2m-2 2h2m-2 0h2m-2 0h2m-2 3h2m-2 0h2m-2 1h2m-2 1h2m-2 2h2m-2 0h2m-2 5h2m-2 1h2m-2 0h2m-2 1h2m-2 0h2m-2 2h2m-2 0h2m-2 2h2m-2 2h2m-1-408h2m-2 1h2m-2 1h2m-2 0h2m-2 0h2m-2 1h2m-2 1h2m-2 0h2m-2 0h2m-2 4h2m-2 0h2m-2 354h2m-2 7h2m-2 6h2m-2 4h2m-2 7h2m-2 2h2m-2 3h2m-2 2h2m-2 2h2m-2 3h2m-2 2h2m-2 7h2m-2 0h2m-1-406h2m-2 1h2m-2 1h2m-2 1h2m-2 2h2m-2 0h2m-2 374h2m-2 1h2m-2 0h2m-2 1h2m-2 1h2m-2 0h2m-2 4h2m-2 1h2m-2 2h2m-2 0h2m-2 1h2m-2 2h2m-2 1h2m-2 0h2m-2 0h2m-2 0h2m-2 2h2m-2 0h2m-2 2h2m-2 0h2m-2 2h2m-2 3h2m-2 1h2m-2 2h2m-1-406h2m-2 1h2m-2 3h2m-2 0h2m-2 2h2m-2 0h2m-2 1h2m-2 375h2m-2 0h2m-2 0h2m-2 2h2m-2 11h2m-2 2h2m-2 1h2m-2 1h2m-2 5h2m-1-402h2m-2 3h2m-2 1h2m-1-3h2m-2 0h2m-2 1h2m-2 1h2m-2 3h2m-2 0h2m-2 0h2m-1-7h2m-2 2h2m-2 0h2m-2 2h2m-2 1h2m-2 1h2m-2 1h2m-2 0h2m-2 1h2m-1-7h2m-2 1h2m-2 1h2m-2 5h2m-1-8h2m-2 1h2m-2 0h2m-2 1h2m-2 2h2m-2 0h2m-2 2h2m-2 1h2m-1-4h2m-2 1h2m-2 2h2m-2 1h2m-2 2h2m-1-7h2m-2 1h2m-2 0h2m-2 0h2m-2 1h2m-2 0h2m-2 2h2m-2 2h2m-1-4h2m-2 0h2m-2 1h2m-2 3h2m-1-7h2m-2 1h2m-2 0h2m-2 1h2m-2 3h2m-2 0h2m-2 1h2m-2 2h2m-1-9h2m-2 3h2m-2 1h2m-2 0h2m-2 2h2m-2 2h2m-2 1h2m-1-6h2m-2 1h2m-2 0h2m-2 2h2m-2 0h2m-2 1h2m-2 0h2m-2 0h2m-2 1h2m-1-6h2m-2 0h2m-2 6h2m-2 0h2m-1-8h2m-2 2h2m-2 1h2m-2 3h2m-2 0h2m-2 0h2m-1-6h2m-2 3h2m-2 1h2m-2 1h2m-2 1h2m-2 2h2m-2 2h2m-1-9h2m-2 2h2m-2 2h2m-2 0h2m-2 1h2m-2 1h2m-1-6h2m-2 2h2m-2 2h2m-2 0h2m-2 4h2m-2 0h2m-2 0h2m-2 0h2m-1-7h2m-2 1h2m-2 0h2m-2 1h2m-2 2h2m-2 3h2m-1-8h2m-2 0h2m-2 3h2m-2 1h2m-2 0h2m-2 2h2m-2 0h2m-2 3h2m-2 1h2m-2 0h2m-2 1h2m-1-7h2m-2 1h2m-2 1h2m-2 1h2m-2 0h2m-2 1h2m-2 2h2m-2 0h2m-1-6h2m-2 1h2m-2 1h2m-2 3h2m-2 1h2m-2 1h2m-2 1h2m-2 0h2m-1-6h2m-2 1h2m-2 1h2m-2 1h2m-2 0h2m-1-7h2m-2 0h2m-2 0h2m-2 4h2m-2 0h2m-2 0h2m-2 3h2m-2 1h2m-2 0h2m-2 1h2m-2 1h2m-2 1h2m-1-12h2m-2 1h2m-2 0h2m-2 2h2m-2 2h2m-2 2h2m-2 1h2m-2 0h2m-2 1h2m-2 1h2m-2 0h2m-2 4h2m-1-12h2m-2 0h2m-2 1h2m-2 1h2m-2 1h2m-2 0h2m-2 0h2m-2 3h2m-2 1h2m-2 1h2m-2 1h2m-2 0h2m-2 1h2m-1-12h2m-2 2h2m-2 2h2m-2 0h2m-2 4h2m-2 3h2m-2 1h2m-2 2h2m-1-12h2m-2 1h2m-2 2h2m-2 1h2m-2 1h2m-2 1h2m-2 1h2m-2 1h2m-2 2h2m-2 1h2m-2 0h2m-2 2h2m-2 1h2m-2 0h2m-1-10h2m-2 1h2m-2 2h2m-2 1h2m-2 0h2m-2 0h2m-2 1h2m-2 5h2m-1-12h2m-2 1h2m-2 0h2m-2 4h2m-2 0h2m-2 0h2m-2 2h2m-2 1h2m-2 2h2m-2 3h2m-1-15h2m-2 0h2m-2 3h2m-2 0h2m-2 0h2m-2 1h2m-2 1h2m-2 2h2m-2 2h2m-2 1h2m-2 2h2m-2 1h2m-2 0h2m-2 2h2m-1-15h2m-2 2h2m-2 1h2m-2 2h2m-2 5h2m-2 0h2m-2 0h2m-2 0h2m-2 4h2m-1-14h2m-2 0h2m-2 0h2m-2 3h2m-2 1h2m-2 2h2m-2 3h2m-2 0h2m-2 1h2m-2 3h2m-2 0h2m-1-12h2m-2 2h2m-2 2h2m-2 1h2m-2 0h2m-2 1h2m-2 1h2m-2 0h2m-2 0h2m-2 2h2m-2 1h2m-2 1h2m-1-12h2m-2 3h2m-2 0h2m-2 0h2m-2 4h2m-2 1h2m-2 1h2m-2 2h2m-2 0h2m-2 1h2m-2 0h2m-2 0h2m-2 4h2m-1-14h2m-2 1h2m-2 1h2m-2 3h2m-2 0h2m-2 2h2m-2 1h2m-2 2h2m-2 0h2m-2 1h2m-2 3h2m-2 0h2m-2 0h2m-2 1h2m-1-15h2m-2 3h2m-2 4h2m-2 0h2m-2 1h2m-2 1h2m-2 1h2m-2 1h2m-2 0h2m-2 1h2m-2 1h2m-2 2h2m-1-10h2m-2 0h2m-2 1h2m-2 2h2m-2 0h2m-2 1h2m-2 2h2m-2 1h2m-2 4h2m-2 4h2m-2 1h2m-2 0h2m-1-19h2m-2 0h2m-2 1h2m-2 2h2m-2 0h2m-2 0h2m-2 3h2m-2 3h2m-2 0h2m-2 1h2m-2 1h2m-2 1h2m-2 0h2m-2 1h2m-2 1h2m-2 3h2m-2 3h2m-2 0h2m-1-21h2m-2 4h2m-2 1h2m-2 4h2m-2 3h2m-2 1h2m-2 1h2m-2 0h2m-2 0h2m-2 2h2m-2 1h2m-2 3h2m-2 0h2m-1-19h2m-2 0h2m-2 1h2m-2 2h2m-2 2h2m-2 0h2m-2 3h2m-2 2h2m-2 0h2m-2 1h2m-2 1h2m-2 1h2m-2 0h2m-2 0h2m-2 2h2m-2 2h2m-2 1h2m-2 4h2m-1-23h2m-2 7h2m-2 2h2m-2 1h2m-2 0h2m-2 1h2m-2 2h2m-2 0h2m-2 1h2m-2 0h2m-2 0h2m-2 2h2m-2 0h2m-2 1h2m-2 0h2m-2 1h2m-2 1h2m-2 0h2m-2 1h2m-2 2h2m-2 1h2m-2 3h2m-2 1h2m-1-27h2m-2 4h2m-2 3h2m-2 0h2m-2 2h2m-2 4h2m-2 0h2m-2 2h2m-2 1h2m-2 0h2m-2 3h2m-2 1h2m-2 1h2m-2 1h2m-2 0h2m-2 2h2m-2 1h2m-1-24h2m-2 0h2m-2 1h2m-2 0h2m-2 3h2m-2 1h2m-2 0h2m-2 4h2m-2 2h2m-2 1h2m-2 0h2m-2 3h2m-2 1h2m-2 2h2m-2 0h2m-2 0h2m-2 1h2m-2 0h2m-2 2h2m-2 1h2m-2 1h2m-2 1h2m-2 5h2m-1-28h2m-2 2h2m-2 1h2m-2 1h2m-2 2h2m-2 3h2m-2 2h2m-2 0h2m-2 0h2m-2 2h2m-2 0h2m-2 2h2m-2 2h2m-2 2h2m-2 3h2m-2 7h2m-1-26h2m-2 0h2m-2 0h2m-2 4h2m-2 0h2m-2 0h2m-2 0h2m-2 0h2m-2 1h2m-2 1h2m-2 1h2m-2 0h2m-2 1h2m-2 1h2m-2 3h2m-2 1h2m-2 1h2m-2 1h2m-2 2h2m-2 1h2m-2 1h2m-2 1h2m-2 1h2m-2 1h2m-2 1h2m-2 0h2m-2 1h2m-2 1h2m-2 2h2m-1-24h2m-2 0h2m-2 1h2m-2 2h2m-2 0h2m-2 0h2m-2 0h2m-2 1h2m-2 2h2m-2 1h2m-2 0h2m-2 0h2m-2 1h2m-2 2h2m-2 1h2m-2 2h2m-2 1h2m-2 1h2m-2 0h2m-2 2h2m-2 0h2m-2 0h2m-2 3h2m-2 4h2m-1-23h2m-2 1h2m-2 5h2m-2 2h2m-2 4h2m-2 2h2m-2 3h2m-2 0h2m-2 2h2m-2 1h2m-2 0h2m-2 0h2m-2 2h2m-2 1h2m-2 1h2m-2 0h2m-1-29h2m-2 2h2m-2 6h2m-2 3h2m-2 3h2m-2 4h2m-2 1h2m-2 1h2m-2 1h2m-2 3h2m-2 1h2m-2 1h2m-2 0h2m-2 2h2m-2 1h2m-2 0h2m-2 1h2m-1-31h2m-2 5h2m-2 1h2m-2 2h2m-2 4h2m-2 3h2m-2 0h2m-2 1h2m-2 1h2m-2 1h2m-2 2h2m-2 0h2m-2 1h2m-2 1h2m-2 1h2m-2 1h2m-2 0h2m-2 1h2m-2 2h2m-2 1h2m-1-28h2m-2 4h2m-2 0h2m-2 1h2m-2 1h2m-2 1h2m-2 0h2m-2 2h2m-2 1h2m-2 0h2m-2 2h2m-2 2h2m-2 0h2m-2 0h2m-2 2h2m-2 3h2m-2 0h2m-2 2h2m-2 2h2m-2 0h2m-2 2h2m-2 4h2m-2 1h2m-1-30h2m-2 3h2m-2 1h2m-2 0h2m-2 2h2m-2 1h2m-2 3h2m-2 2h2m-2 2h2m-2 1h2m-2 3h2m-2 1h2m-2 1h2m-2 0h2m-2 0h2m-2 2h2m-2 1h2m-1-24h2m-2 6h2m-2 1h2m-2 0h2m-2 0h2m-2 2h2m-2 0h2m-2 1h2m-2 3h2m-2 0h2m-2 2h2m-2 1h2m-2 1h2m-2 0h2m-2 2h2m-2 1h2m-2 1h2m-2 3h2m-1-23h2m-2 1h2m-2 3h2m-2 0h2m-2 1h2m-2 0h2m-2 2h2m-2 0h2m-2 0h2m-2 2h2m-2 0h2m-2 3h2m-2 5h2m-2 1h2m-2 0h2m-2 1h2m-2 1h2m-2 1h2m-2 1h2m-2 2h2m-1-21h2m-2 1h2m-2 0h2m-2 0h2m-2 1h2m-2 3h2m-2 0h2m-2 2h2m-2 3h2m-2 1h2m-2 0h2m-2 1h2m-2 0h2m-2 1h2m-2 2h2m-2 1h2m-2 2h2m-2 1h2m-2 0h2m-1-21h2m-2 3h2m-2 0h2m-2 1h2m-2 2h2m-2 1h2m-2 1h2m-2 2h2m-2 2h2m-2 2h2m-2 0h2m-2 1h2m-2 0h2m-2 1h2m-2 0h2m-2 1h2m-2 5h2m-2 3h2m-2 1h2m-1-24h2m-2 3h2m-2 0h2m-2 4h2m-2 1h2m-2 0h2m-2 2h2m-2 0h2m-2 2h2m-2 1h2m-2 1h2m-2 2h2m-2 0h2m-2 0h2m-2 3h2m-2 3h2m-2 0h2m-1-22h2m-2 0h2m-2 5h2m-2 1h2m-2 1h2m-2 1h2m-2 2h2m-2 1h2m-2 0h2m-2 2h2m-2 1h2m-2 2h2m-2 0h2m-2 1h2m-1-17h2m-2 0h2m-2 0h2m-2 1h2m-2 0h2m-2 0h2m-2 3h2m-2 1h2m-2 0h2m-2 3h2m-2 0h2m-2 1h2m-2 1h2m-2 1h2m-2 2h2m-2 1h2m-2 0h2m-2 3h2m-2 2h2m-1-16h2m-2 2h2m-2 0h2m-2 1h2m-2 1h2m-2 4h2m-2 1h2m-2 2h2m-2 1h2m-2 4h2m-2 0h2m-1-18h2m-2 0h2m-2 0h2m-2 1h2m-2 0h2m-2 4h2m-2 1h2m-2 2h2m-2 1h2m-2 1h2m-2 1h2m-2 1h2m-2 2h2m-2 1h2m-1-13h2m-2 0h2m-2 1h2m-2 2h2m-2 3h2m-2 0h2m-2 0h2m-2 1h2m-2 0h2m-2 1h2m-1-8h2m-2 0h2m-2 2h2m-2 0h2m-2 1h2m-2 1h2m-2 1h2m-2 2h2m-1-10h2m-2 4h2m-2 3h2m-2 1h2m-2 0h2m-1-6h2m-2 0h2m-2 2h2m-2 2h2m-2 1h2m-2 0h2m-2 1h2m-2 0h2m-1-7h2m-2 4h2m-2 2h2m-1-4h2m-2 1h2m-2 0h2m-2 1h2m-2 0h2m-2 1h2m-2 0h2m-2 1h2m-2 0h2m-2 1h2m-2 378h2m-2 8h2m-1-394h2m-2 2h2m-2 0h2m-2 2h2m-2 1h2m-2 0h2m-2 0h2m-2 1h2m-2 4h2m-2 375h2m-2 1h2m-2 1h2m-2 0h2m-2 1h2m-2 2h2m-2 0h2m-2 6h2m-2 0h2m-2 8h2m-1-405h2m-2 3h2m-2 0h2m-2 1h2m-2 1h2m-2 377h2m-2 1h2m-2 0h2m-2 2h2m-2 0h2m-2 1h2m-2 0h2m-2 1h2m-2 1h2m-2 1h2m-2 0h2m-2 1h2m-2 1h2m-2 1h2m-2 4h2m-2 0h2m-2 0h2m-2 2h2m-2 0h2m-2 2h2m-2 0h2m-2 2h2m-2 3h2m-1-403h2m-2 1h2m-2 1h2m-2 0h2m-2 1h2m-2 1h2m-2 373h2m-2 7h2m-2 3h2m-2 1h2m-2 2h2m-2 1h2m-2 2h2m-2 0h2m-2 2h2m-2 0h2m-2 0h2m-2 1h2m-2 4h2m-1-402h2m-2 1h2m-2 1h2m-2 3h2m-2 1h2m-2 1h2m-2 2h2m-2 370h2m-2 0h2m-2 1h2m-2 7h2m-2 1h2m-2 1h2m-2 0h2m-2 1h2m-2 2h2m-2 1h2m-2 2h2m-2 4h2m-2 0h2m-1-397h2m-2 1h2m-2 1h2m-2 0h2m-2 2h2m-2 0h2m-2 0h2m-2 366h2m-2 0h2m-2 6h2m-2 0h2m-2 1h2m-2 1h2m-2 0h2m-2 1h2m-2 2h2m-2 1h2m-2 3h2m-2 2h2m-2 3h2m-2 1h2m-2 1h2m-2 0h2m-2 2h2m-1-395h2m-2 2h2m-2 3h2m-2 0h2m-2 1h2m-2 367h2m-2 1h2m-2 5h2m-2 1h2m-2 2h2m-2 0h2m-2 1h2m-2 2h2m-2 1h2m-2 0h2m-2 3h2m-2 0h2m-2 1h2m-2 1h2m-2 1h2m-2 0h2m-2 3h2m-2 3h2m-2 0h2m-2 2h2m-2 0h2m-2 0h2m-1-399h2m-2 1h2m-2 0h2m-2 1h2m-2 1h2m-2 1h2m-2 0h2m-2 365h2m-2 0h2m-2 7h2m-2 1h2m-2 0h2m-2 1h2m-2 4h2m-2 1h2m-2 0h2m-2 2h2m-2 0h2m-2 1h2m-2 3h2m-2 5h2m-2 0h2m-2 1h2m-2 2h2m-1-400h2m-2 1h2m-2 1h2m-2 1h2m-2 0h2m-2 0h2m-2 2h2m-2 3h2m-2 0h2m-2 363h2m-2 1h2m-2 1h2m-2 7h2m-2 1h2m-2 0h2m-2 0h2m-2 3h2m-2 2h2m-2 2h2m-2 1h2m-2 1h2m-2 4h2m-2 1h2m-1-395h2m-2 1h2m-2 1h2m-2 0h2m-2 1h2m-2 1h2m-2 2h2m-2 368h2m-2 2h2m-2 0h2m-2 2h2m-2 2h2m-2 1h2m-2 0h2m-2 0h2m-2 6h2m-2 0h2m-2 0h2m-2 1h2m-2 0h2m-2 1h2m-2 2h2m-2 2h2m-2 1h2m-1-392h2m-2 0h2m-2 5h2m-2 366h2m-2 2h2m-2 4h2m-2 2h2m-2 1h2m-2 0h2m-2 0h2m-2 0h2m-2 1h2m-2 3h2m-2 0h2m-2 0h2m-2 1h2m-2 1h2m-2 2h2m-2 4h2m-2 1h2m-1-394h2m-2 0h2m-2 1h2m-2 0h2m-2 0h2m-2 3h2m-2 0h2m-2 366h2m-2 5h2m-2 2h2m-2 0h2m-2 1h2m-2 1h2m-2 1h2m-2 3h2m-2 0h2m-2 0h2m-2 2h2m-2 0h2m-2 3h2m-2 1h2m-2 2h2m-2 1h2m-2 3h2m-1-395h2m-2 0h2m-2 1h2m-2 0h2m-2 1h2m-2 1h2m-2 1h2m-2 370h2m-2 3h2m-2 0h2m-2 0h2m-2 0h2m-2 9h2m-2 0h2m-2 4h2m-2 0h2m-2 1h2m-2 1h2m-2 0h2m-2 1h2m-2 1h2m-2 1h2m-2 0h2m-1-397h2m-2 0h2m-2 6h2m-2 1h2m-2 361h2m-2 0h2m-2 2h2m-2 2h2m-2 3h2m-2 1h2m-2 1h2m-2 0h2m-2 2h2m-2 4h2m-2 0h2m-2 1h2m-2 1h2m-2 1h2m-2 0h2m-2 1h2m-2 1h2m-2 2h2m-2 0h2m-2 2h2m-2 1h2m-1-393h2m-2 0h2m-2 2h2m-2 2h2m-2 0h2m-2 3h2m-2 1h2m-2 0h2m-2 361h2m-2 1h2m-2 0h2m-2 1h2m-2 3h2m-2 1h2m-2 0h2m-2 2h2m-2 3h2m-2 0h2m-2 1h2m-2 1h2m-2 3h2m-2 1h2m-2 3h2m-2 3h2m-2 0h2m-2 1h2m-2 1h2m-2 1h2m-2 1h2m-1-397h2m-2 1h2m-2 3h2m-2 1h2m-2 1h2m-2 0h2m-2 3h2m-2 362h2m-2 1h2m-2 2h2m-2 4h2m-2 1h2m-2 1h2m-2 2h2m-2 1h2m-2 0h2m-2 1h2m-2 2h2m-2 1h2m-2 3h2m-2 0h2m-2 1h2m-2 2h2m-2 0h2m-2 1h2m-2 2h2m-1-395h2m-2 2h2m-2 4h2m-2 0h2m-2 1h2m-2 1h2m-2 366h2m-2 1h2m-2 1h2m-2 1h2m-2 1h2m-2 1h2m-2 2h2m-2 1h2m-2 2h2m-2 0h2m-2 1h2m-2 4h2m-2 1h2m-2 0h2m-2 2h2m-2 4h2m-1-395h2m-2 1h2m-2 0h2m-2 1h2m-2 1h2m-2 1h2m-2 0h2m-2 2h2m-2 0h2m-2 364h2m-2 0h2m-2 2h2m-2 0h2m-2 1h2m-2 0h2m-2 1h2m-2 3h2m-2 0h2m-2 1h2m-2 3h2m-2 2h2m-2 0h2m-2 1h2m-2 4h2m-2 0h2m-2 4h2m-2 1h2m-2 0h2m-2 1h2m-1-395h2m-2 1h2m-2 3h2m-2 1h2m-2 1h2m-2 0h2m-2 363h2m-2 1h2m-2 3h2m-2 1h2m-2 2h2m-2 2h2m-2 1h2m-2 3h2m-2 2h2m-2 0h2m-2 2h2m-2 0h2m-2 1h2m-2 2h2m-1-389h2m-2 0h2m-2 0h2m-2 2h2m-2 5h2m-2 362h2m-2 4h2m-2 1h2m-2 1h2m-2 0h2m-2 2h2m-2 0h2m-2 1h2m-2 1h2m-2 2h2m-2 2h2m-2 2h2m-2 5h2m-2 1h2m-2 1h2m-2 0h2m-1-393h2m-2 1h2m-2 3h2m-2 0h2m-2 0h2m-2 2h2m-2 361h2m-2 2h2m-2 9h2m-2 2h2m-2 0h2m-2 2h2m-2 0h2m-2 2h2m-2 0h2m-2 0h2m-2 2h2m-2 3h2m-2 1h2m-2 1h2m-2 2h2m-2 1h2m-1-394h2m-2 0h2m-2 1h2m-2 0h2m-2 1h2m-2 1h2m-2 376h2m-2 1h2m-2 1h2m-2 4h2m-2 0h2m-2 4h2m-2 1h2m-2 0h2m-2 1h2m-2 2h2m-2 0h2m-2 1h2m-2 0h2m-1-394h2m-2 0h2m-2 1h2m-2 2h2m-2 1h2m-2 1h2m-2 0h2m-2 0h2m-2 0h2m-2 0h2m-2 4h2m-2 355h2m-2 1h2m-2 1h2m-2 5h2m-2 0h2m-2 3h2m-2 0h2m-2 0h2m-2 1h2m-2 4h2m-2 2h2m-2 2h2m-2 0h2m-2 2h2m-2 3h2m-2 0h2m-2 1h2m-2 0h2m-2 2h2m-2 1h2m-2 1h2m-2 1h2m-1-394h2m-2 3h2m-2 0h2m-2 2h2m-2 0h2m-2 1h2m-2 1h2m-2 358h2m-2 1h2m-2 0h2m-2 3h2m-2 1h2m-2 1h2m-2 1h2m-2 1h2m-2 3h2m-2 0h2m-2 1h2m-2 0h2m-2 3h2m-2 5h2m-2 9h2m-2 0h2m-1-392h2m-2 1h2m-2 2h2m-2 0h2m-2 2h2m-2 0h2m-2 362h2m-2 0h2m-2 2h2m-2 1h2m-2 2h2m-2 1h2m-2 1h2m-2 0h2m-2 1h2m-2 4h2m-2 3h2m-2 0h2m-2 0h2m-2 2h2m-2 3h2m-1-385h2m-2 0h2m-2 0h2m-2 2h2m-2 1h2m-2 358h2m-2 2h2m-2 1h2m-2 1h2m-2 4h2m-2 0h2m-2 2h2m-2 1h2m-2 1h2m-2 1h2m-2 0h2m-2 0h2m-2 2h2m-2 2h2m-2 0h2m-2 3h2m-2 1h2m-2 1h2m-2 0h2m-2 4h2m-1-391h2m-2 2h2m-2 0h2m-2 2h2m-2 1h2m-2 1h2m-2 2h2m-2 358h2m-2 3h2m-2 1h2m-2 1h2m-2 0h2m-2 1h2m-2 2h2m-2 1h2m-2 2h2m-2 5h2m-2 6h2m-2 0h2m-2 4h2m-2 0h2m-1-391h2m-2 1h2m-2 2h2m-2 2h2m-2 1h2m-2 0h2m-2 362h2m-2 4h2m-2 0h2m-2 1h2m-2 1h2m-2 3h2m-2 0h2m-2 2h2m-2 0h2m-2 0h2m-2 1h2m-2 4h2m-2 0h2m-2 1h2m-2 1h2m-2 3h2m-1-390h2m-2 3h2m-2 2h2m-2 0h2m-2 1h2m-2 1h2m-2 362h2m-2 3h2m-2 1h2m-2 2h2m-2 1h2m-2 2h2m-2 3h2m-2 2h2m-2 0h2m-2 1h2m-2 0h2m-2 0h2m-2 3h2m-2 1h2m-1-389h2m-2 1h2m-2 3h2m-2 0h2m-2 1h2m-2 2h2m-2 2h2m-2 356h2m-2 3h2m-2 0h2m-2 1h2m-2 1h2m-2 2h2m-2 1h2m-2 1h2m-2 0h2m-2 1h2m-2 3h2m-2 2h2m-2 1h2m-2 1h2m-2 1h2m-2 0h2m-2 2h2m-2 2h2m-2 0h2m-2 1h2m-1-386h2m-2 1h2m-2 1h2m-2 2h2m-2 1h2m-2 360h2m-2 2h2m-2 0h2m-2 2h2m-2 1h2m-2 0h2m-2 1h2m-2 1h2m-2 0h2m-2 1h2m-2 2h2m-2 1h2m-2 2h2m-2 0h2m-2 2h2m-2 2h2m-2 0h2m-2 3h2m-1-386h2m-2 1h2m-2 2h2m-2 3h2m-2 1h2m-2 1h2m-2 353h2m-2 1h2m-2 1h2m-2 0h2m-2 8h2m-2 4h2m-2 0h2m-2 2h2m-2 0h2m-2 0h2m-2 0h2m-2 5h2m-2 2h2m-1-381h2m-2 0h2m-2 1h2m-2 2h2m-2 355h2m-2 4h2m-2 3h2m-2 0h2m-2 2h2m-2 0h2m-2 1h2m-2 1h2m-2 2h2m-2 1h2m-2 1h2m-2 2h2m-2 0h2m-2 1h2m-2 1h2m-1-380h2m-2 0h2m-2 3h2m-2 0h2m-2 1h2m-2 0h2m-2 1h2m-2 1h2m-2 360h2m-2 0h2m-2 2h2m-2 0h2m-2 1h2m-2 0h2m-2 2h2m-2 1h2m-2 3h2m-2 2h2m-2 0h2m-2 1h2m-2 2h2m-2 3h2m-1-383h2m-2 1h2m-2 3h2m-2 1h2m-2 2h2m-2 354h2m-2 1h2m-2 1h2m-2 6h2m-2 4h2m-2 2h2m-2 0h2m-2 5h2m-2 1h2m-2 0h2m-2 3h2m-2 0h2m-1-384h2m-2 1h2m-2 0h2m-2 1h2m-2 0h2m-2 360h2m-2 4h2m-2 0h2m-2 1h2m-2 1h2m-2 1h2m-2 4h2m-2 2h2m-2 0h2m-2 0h2m-2 1h2m-2 1h2m-2 0h2m-2 2h2m-2 3h2m-2 2h2m-1-385h2m-2 2h2m-2 2h2m-2 1h2m-2 2h2m-2 359h2m-2 3h2m-2 0h2m-2 1h2m-2 2h2m-2 1h2m-2 1h2m-2 0h2m-2 0h2m-2 2h2m-2 0h2m-2 2h2m-2 0h2m-2 2h2m-1-380h2m-2 2h2m-2 0h2m-2 1h2m-2 1h2m-2 2h2m-2 1h2m-2 361h2m-2 2h2m-2 3h2m-2 1h2m-2 2h2m-2 1h2m-2 1h2m-2 2h2m-2 2h2m-1-381h2m-2 5h2m-2 0h2m-2 358h2m-2 4h2m-2 0h2m-2 3h2m-2 1h2m-2 2h2m-2 3h2m-2 2h2m-2 1h2m-2 1h2m-2 1h2m-2 0h2m-1-381h2m-2 2h2m-2 0h2m-2 1h2m-2 2h2m-2 341h2m-2 18h2m-2 0h2m-2 8h2m-2 0h2m-2 1h2m-2 0h2m-2 1h2m-2 0h2m-2 2h2m-2 1h2m-2 1h2m-2 1h2m-2 1h2m-2 2h2m-2 0h2m-2 0h2m-2 0h2m-1-382h2m-2 0h2m-2 0h2m-2 2h2m-2 1h2m-2 0h2m-2 2h2m-2 344h2m-2 11h2m-2 4h2m-2 0h2m-2 5h2m-2 2h2m-2 0h2m-2 4h2m-2 1h2m-2 1h2m-2 1h2m-2 0h2m-2 4h2m-2 1h2m-1-385h2m-2 1h2m-2 0h2m-2 1h2m-2 1h2m-2 1h2m-2 0h2m-2 0h2m-2 0h2m-2 359h2m-2 4h2m-2 2h2m-2 3h2m-2 0h2m-2 4h2m-2 1h2m-2 0h2m-2 2h2m-2 2h2m-2 1h2m-2 1h2m-1-382h2m-2 6h2m-2 1h2m-2 356h2m-2 2h2m-2 3h2m-2 2h2m-2 2h2m-2 1h2m-2 0h2m-2 0h2m-2 1h2m-2 1h2m-2 0h2m-2 1h2m-2 1h2m-2 1h2m-2 0h2m-2 1h2m-2 1h2m-1-380h2m-2 0h2m-2 2h2m-2 2h2m-2 1h2m-2 366h2m-2 0h2m-2 3h2m-2 1h2m-2 0h2m-2 1h2m-2 2h2m-1-379h2m-2 2h2m-2 1h2m-2 0h2m-2 0h2m-2 1h2m-2 0h2m-2 1h2m-2 0h2m-2 355h2m-2 3h2m-2 3h2m-2 0h2m-2 1h2m-2 2h2m-2 1h2m-2 1h2m-2 0h2m-2 1h2m-2 4h2m-2 3h2m-2 0h2m-2 0h2m-2 1h2m-2 0h2m-2 2h2m-2 0h2m-1-382h2m-2 1h2m-2 2h2m-2 4h2m-2 352h2m-2 4h2m-2 0h2m-2 1h2m-2 1h2m-2 0h2m-2 2h2m-2 0h2m-2 1h2m-2 0h2m-2 3h2m-2 1h2m-2 3h2m-2 1h2m-2 1h2m-2 0h2m-2 1h2m-2 0h2m-2 0h2m-2 2h2m-1-379h2m-2 1h2m-2 1h2m-2 0h2m-2 3h2m-2 331h2m-2 25h2m-2 0h2m-2 4h2m-2 0h2m-2 6h2m-2 1h2m-2 0h2m-2 0h2m-2 0h2m-2 2h2m-2 8h2m-1-382h2m-2 0h2m-2 0h2m-2 1h2m-2 1h2m-2 0h2m-2 1h2m-2 1h2m-2 357h2m-2 0h2m-2 7h2m-2 0h2m-2 1h2m-2 2h2m-2 3h2m-2 1h2m-2 0h2m-2 2h2m-2 0h2m-2 2h2m-1-379h2m-2 1h2m-2 0h2m-2 1h2m-2 1h2m-2 1h2m-2 359h2m-2 4h2m-2 2h2m-2 1h2m-2 4h2m-2 1h2m-2 1h2m-2 1h2m-2 0h2m-2 1h2m-2 0h2m-2 3h2m-1-379h2m-2 0h2m-2 1h2m-2 0h2m-2 1h2m-2 338h2m-2 23h2m-2 3h2m-2 0h2m-2 2h2m-2 0h2m-2 0h2m-2 0h2m-2 1h2m-2 1h2m-2 1h2m-2 5h2m-2 0h2m-2 0h2m-2 3h2m-1-380h2m-2 0h2m-2 0h2m-2 2h2m-2 2h2m-2 0h2m-2 358h2m-2 4h2m-2 2h2m-2 3h2m-2 1h2m-2 0h2m-2 0h2m-2 5h2m-2 3h2m-2 1h2m-2 0h2m-2 0h2m-1-382h2m-2 0h2m-2 1h2m-2 2h2m-2 1h2m-2 359h2m-2 2h2m-2 0h2m-2 0h2m-2 3h2m-2 1h2m-2 0h2m-2 1h2m-2 1h2m-2 1h2m-2 3h2m-2 0h2m-2 1h2m-2 2h2m-2 1h2m-2 1h2m-1-381h2m-2 2h2m-2 1h2m-2 1h2m-2 317h2m-2 45h2m-2 1h2m-2 0h2m-2 1h2m-2 2h2m-2 0h2m-2 2h2m-2 2h2m-2 5h2m-2 1h2m-2 0h2m-1-379h2m-2 1h2m-2 1h2m-2 1h2m-2 0h2m-2 3h2m-2 352h2m-2 4h2m-2 2h2m-2 0h2m-2 1h2m-2 0h2m-2 0h2m-2 2h2m-2 3h2m-2 0h2m-2 6h2m-2 0h2m-2 1h2m-2 0h2m-2 4h2m-2 1h2m-1-384h2m-2 4h2m-2 1h2m-2 0h2m-2 1h2m-2 0h2m-2 1h2m-2 307h2m-2 48h2m-2 2h2m-2 0h2m-2 2h2m-2 1h2m-2 2h2m-2 0h2m-2 1h2m-2 1h2m-2 3h2m-2 6h2m-2 2h2m-2 3h2m-1-382h2m-2 2h2m-2 0h2m-2 0h2m-2 1h2m-2 349h2m-2 8h2m-2 2h2m-2 0h2m-2 1h2m-2 0h2m-2 0h2m-2 2h2m-2 4h2m-2 3h2m-2 0h2m-2 4h2m-2 4h2m-2 0h2m-2 0h2m-2 2h2m-1-385h2m-2 2h2m-2 1h2m-2 1h2m-2 2h2m-2 0h2m-2 358h2m-2 0h2m-2 1h2m-2 1h2m-2 2h2m-2 0h2m-2 2h2m-2 4h2m-2 2h2m-2 0h2m-2 3h2m-2 0h2m-2 0h2m-2 1h2m-1-375h2m-2 0h2m-2 1h2m-2 1h2m-2 0h2m-2 362h2m-2 0h2m-2 2h2m-2 0h2m-2 2h2m-2 1h2m-2 2h2m-2 1h2m-2 0h2m-2 0h2m-2 1h2m-2 2h2m-2 3h2m-1-382h2m-2 2h2m-2 0h2m-2 3h2m-2 0h2m-2 358h2m-2 0h2m-2 2h2m-2 0h2m-2 1h2m-2 0h2m-2 1h2m-2 1h2m-2 1h2m-2 3h2m-2 2h2m-2 3h2m-2 1h2m-1-377h2m-2 2h2m-2 2h2m-2 0h2m-2 1h2m-2 355h2m-2 0h2m-2 1h2m-2 2h2m-2 4h2m-2 2h2m-2 0h2m-2 0h2m-2 1h2m-2 0h2m-2 1h2m-2 2h2m-2 0h2m-2 1h2m-2 3h2m-2 1h2m-1-380h2m-2 0h2m-2 3h2m-2 3h2m-2 1h2m-2 0h2m-2 355h2m-2 4h2m-2 3h2m-2 1h2m-2 0h2m-2 2h2m-2 2h2m-2 2h2m-2 0h2m-2 1h2m-2 0h2m-2 4h2m-1-380h2m-2 1h2m-2 0h2m-2 2h2m-2 0h2m-2 331h2m-2 29h2m-2 0h2m-2 1h2m-2 3h2m-2 1h2m-2 1h2m-2 1h2m-2 0h2m-2 1h2m-2 0h2m-2 5h2m-1-377h2m-2 1h2m-2 1h2m-2 0h2m-2 2h2m-2 1h2m-2 1h2m-2 359h2m-2 0h2m-2 2h2m-2 4h2m-2 0h2m-2 1h2m-2 0h2m-2 5h2m-2 0h2m-2 0h2m-1-375h2m-2 0h2m-2 3h2m-2 2h2m-2 335h2m-2 19h2m-2 2h2m-2 0h2m-2 6h2m-2 1h2m-2 1h2m-2 0h2m-2 1h2m-2 0h2m-2 1h2m-2 0h2m-2 2h2m-2 0h2m-2 1h2m-2 2h2m-2 2h2m-2 1h2m-2 1h2m-2 1h2m-2 0h2m-2 1h2m-2 0h2m-1-383h2m-2 1h2m-2 0h2m-2 2h2m-2 2h2m-2 0h2m-2 358h2m-2 0h2m-2 5h2m-2 0h2m-2 3h2m-2 1h2m-2 3h2m-2 1h2m-2 0h2m-2 1h2m-2 1h2m-2 0h2m-2 1h2m-2 0h2m-2 0h2m-2 1h2m-2 3h2m-2 1h2m-1-383h2m-2 1h2m-2 1h2m-2 2h2m-2 356h2m-2 1h2m-2 2h2m-2 1h2m-2 0h2m-2 1h2m-2 0h2m-2 2h2m-2 2h2m-2 2h2m-2 1h2m-2 1h2m-2 1h2m-2 1h2m-2 1h2m-1-377h2m-2 1h2m-2 1h2m-2 1h2m-2 0h2m-2 1h2m-2 0h2m-2 0h2m-2 363h2m-2 1h2m-2 0h2m-2 2h2m-2 1h2m-2 1h2m-2 1h2m-2 4h2m-2 1h2m-2 2h2m-2 2h2m-1-382h2m-2 0h2m-2 1h2m-2 2h2m-2 332h2m-2 31h2m-2 3h2m-2 1h2m-2 0h2m-2 3h2m-2 0h2m-2 1h2m-2 1h2m-2 2h2m-2 0h2m-2 1h2m-2 2h2m-2 1h2m-2 1h2m-2 1h2m-2 0h2m-1-382h2m-2 1h2m-2 2h2m-2 358h2m-2 2h2m-2 7h2m-2 2h2m-2 1h2m-2 3h2m-2 1h2m-2 1h2m-2 2h2m-2 0h2m-2 1h2m-2 0h2m-2 0h2m-2 1h2m-1-383h2m-2 1h2m-2 0h2m-2 1h2m-2 0h2m-2 2h2m-2 0h2m-2 0h2m-2 1h2m-2 356h2m-2 5h2m-2 1h2m-2 3h2m-2 3h2m-2 0h2m-2 2h2m-2 0h2m-2 1h2m-2 0h2m-2 0h2m-2 0h2m-2 4h2m-2 0h2m-2 2h2m-2 2h2m-2 1h2m-1-386h2m-2 3h2m-2 2h2m-2 329h2m-2 36h2m-2 4h2m-2 2h2m-2 0h2m-2 0h2m-2 0h2m-2 2h2m-2 3h2m-2 0h2m-2 2h2m-2 2h2m-1-385h2m-2 1h2m-2 0h2m-2 0h2m-2 1h2m-2 4h2m-2 355h2m-2 2h2m-2 1h2m-2 4h2m-2 2h2m-2 6h2m-2 2h2m-2 0h2m-2 5h2m-2 0h2m-2 1h2m-2 1h2m-2 0h2m-2 0h2m-2 1h2m-1-387h2m-2 0h2m-2 3h2m-2 1h2m-2 1h2m-2 357h2m-2 7h2m-2 3h2m-2 5h2m-2 1h2m-2 2h2m-2 1h2m-2 0h2m-2 2h2m-2 0h2m-2 4h2m-1-387h2m-2 1h2m-2 2h2m-2 1h2m-2 0h2m-2 1h2m-2 359h2m-2 1h2m-2 6h2m-2 1h2m-2 0h2m-2 1h2m-2 1h2m-2 0h2m-2 2h2m-2 2h2m-2 2h2m-2 0h2m-2 2h2m-1-383h2m-2 0h2m-2 2h2m-2 1h2m-2 1h2m-2 2h2m-2 1h2m-2 359h2m-2 3h2m-2 1h2m-2 1h2m-2 0h2m-2 0h2m-2 3h2m-2 0h2m-2 3h2m-2 4h2m-2 1h2m-2 4h2m-2 0h2m-2 1h2m-2 0h2m-1-387h2m-2 2h2m-2 1h2m-2 1h2m-2 1h2m-2 1h2m-2 0h2m-2 361h2m-2 2h2m-2 1h2m-2 1h2m-2 0h2m-2 1h2m-2 1h2m-2 0h2m-2 2h2m-2 1h2m-2 0h2m-2 1h2m-2 0h2m-2 2h2m-2 1h2m-2 3h2m-2 1h2m-2 3h2m-2 0h2m-1-385h2m-2 1h2m-2 0h2m-2 363h2m-2 1h2m-2 2h2m-2 2h2m-2 0h2m-2 2h2m-2 1h2m-2 1h2m-2 4h2m-2 2h2m-2 4h2m-1-383h2m-2 1h2m-2 1h2m-2 1h2m-2 0h2m-2 1h2m-2 0h2m-2 336h2m-2 24h2m-2 1h2m-2 1h2m-2 1h2m-2 0h2m-2 3h2m-2 9h2m-2 2h2m-2 3h2m-1-385h2m-2 0h2m-2 2h2m-2 2h2m-2 0h2m-2 368h2m-2 1h2m-2 3h2m-2 1h2m-2 7h2m-1-385h2m-2 4h2" stroke="#00b050" stroke-width="2.4" fill="none"/>
<path transform="scale(.5)" d="M513 395v10m1-11v10m1-10v9m1-9v8m1-9v9m0-9v9m2-9v12m1-13v14m0-13v12m1-13v14m1-15v15m1-16v15m0-14v14m1-13v12m1-14v11m0-10v14m1-15v13m1-15v18m1-15v12m1-13v14m1-17v20m1-19v19m0-13v12m1-15v17m1-19v15m1-15v19m0-14v14m1-21v18m1-21v22m1-22v21m1-21v24m0-22v20m1-22v25m1-19v19m1-23v23m0-20v20m1-20v17m1-22v26m1-27v27m1-27v27m0-25v25m1-18v18m1-24v25m1-26v25m1-26v23m0-20v21m2-27v27m0-27v28m1-29v31m1-31v27m0-27v30m133 3v7m1-8v8m1-8v11m1-10v9m1-10v7m1-7v8m2-9v9m0-9v10m2-10v7m1-7v10m1-9v7m1-8v7m2-8v7m0-7v9m1-10v11m1-11v8m1-8v10m2-10v9m1-8v8m1-10v12m1-12v11m1-9v9m1-11v11m1-10v7m2-9v11m0-7v7m1-11v11m1-11v8m2-10v12m1-12v11m1-9v7m1-9v10m1-12v13m1-18v14m1-14v11m1-7v12m2-24v23m0-21v15m2-12v14m1-19v23m1-21v17m1-20v24m2-24v15m0-15v24m1-23v22m2-21v21m1-19v19m0-16v16m2-17v19m1-24v24m1-23v23m1-23v15m1-15v13m1-13v22m1-19v18m2-10v13m1-17v13m1-19v22m1-21v21m1-18v14m1-13v16m1-16v15m1-18v23m1-21v21m2-13v11m1-19v23m0-15v13m66 10v12m1-12v8m2-10v14m0-8v7m2-10v12m1-10v10m1-17v16m2-15v11m1-13v15m1-14v12m1-13v9m1-10v9m1-8v13m1-13v13m1-12v10m2-10v11m1-14v11m1-10v11m2-13v12m1-13v13m1-13v12m1-10v9m1-12v12m2-8v7m1-9v7m1-10v12m1-9v7m1-11v7m2-7v11m1-11v10m1-8v8m1-12v12m2-11v10m1-10v8m1-9v8m1-8v11m1-11v8m2-11v12m0-11v10m2-10v8m1-9v10m1-8v7m1-9v10m2-9v8m1-9v7m1-9v11m1-10v9m1-8v7m1-7v8m2-11v10m1-13v12m1-12v7m1-7v10m2-8v7m1-9v8m1-10v7m1-7v9m1-10v7m2-8v10m1-9v7m1-7v10m1-11v11m1-12v10m2-9v7m1-7v7m1-8v7m1-9v9m1-9v7m1-9v7m2-8v12m1-12v12m1-13v12" stroke="#00b050" stroke-width="2" fill="none"/>
<path transform="scale(.5)" d="M536 374h2m-2 3h2m-2 5h2m-1 6h2m-2 3h2m-1-16h2m-1 9h2m-1-5h2m-2 15h2m-1-5h2m-1-1h2m-1-5h2m-2 4h2m-2 1h2m-2 3h2m-2 4h2m-2 1h2m-1-18h2m-2 18h2m-1-15h2m-2 8h2m-1-13h2m-2 4h2m-2 13h2m-1-20h2m-1 14h2m-2 6h2m-2 3h2m-1-18h2m-2 12h2m-1-8h2m-2 3h2m-1 11h2m-1-23h2m-2 22h2m-1-12h2m-2 12h2m-2 0h2m-1-17h2m-2 5h2" stroke="#ff0000" stroke-width="2.4" fill="none"/>
<circle cx="494.2" cy="62.5" r="2.9" fill="#00b050" stroke="#222" stroke-width="0.8"/>
<circle cx="535" cy="81.7" r="2.9" fill="#00b050" stroke="#222" stroke-width="0.8"/>
<circle cx="535" cy="117" r="2.9" fill="#ff0000" stroke="#222" stroke-width="0.8"/>
<circle cx="573" cy="66.6" r="2.9" fill="#00b050" stroke="#222" stroke-width="0.8"/>
<circle cx="590.1" cy="63" r="2.9" fill="#00b050" stroke="#222" stroke-width="0.8"/>
<circle cx="640.5" cy="67.8" r="2.9" fill="#ff0000" stroke="#222" stroke-width="0.8"/>
<circle cx="640.5" cy="71.8" r="2.9" fill="#00b050" stroke="#222" stroke-width="0.8"/>
<circle cx="681.5" cy="65.8" r="2.9" fill="#00b050" stroke="#222" stroke-width="0.8"/>
<circle cx="263.4" cy="197.5" r="2.9" fill="#00b050" stroke="#222" stroke-width="0.8"/>
<circle cx="304.8" cy="208.4" r="2.9" fill="#00b050" stroke="#222" stroke-width="0.8"/>
<circle cx="304.8" cy="233.3" r="2.9" fill="#ff0000" stroke="#222" stroke-width="0.8"/>
<circle cx="343.6" cy="206.6" r="2.9" fill="#ff0000" stroke="#222" stroke-width="0.8"/>
<circle cx="343.6" cy="202.9" r="2.9" fill="#00b050" stroke="#222" stroke-width="0.8"/>
<circle cx="360.8" cy="206.8" r="2.9" fill="#ff0000" stroke="#222" stroke-width="0.8"/>
<circle cx="360.8" cy="202.4" r="2.9" fill="#00b050" stroke="#222" stroke-width="0.8"/>
<circle cx="413.1" cy="216" r="2.9" fill="#ff0000" stroke="#222" stroke-width="0.8"/>
<circle cx="413.1" cy="212.2" r="2.9" fill="#00b050" stroke="#222" stroke-width="0.8"/>
<circle cx="454.6" cy="199.5" r="2.9" fill="#ff0000" stroke="#222" stroke-width="0.8"/>
<circle cx="454.6" cy="196.4" r="2.9" fill="#00b050" stroke="#222" stroke-width="0.8"/>
<circle cx="494.4" cy="251" r="2.9" fill="#ff0000" stroke="#222" stroke-width="0.8"/>
<circle cx="494.4" cy="250" r="2.9" fill="#00b050" stroke="#222" stroke-width="0.8"/>
<circle cx="535.3" cy="252.3" r="2.9" fill="#00b050" stroke="#222" stroke-width="0.8"/>
<circle cx="535.3" cy="288.9" r="2.9" fill="#ff0000" stroke="#222" stroke-width="0.8"/>
<circle cx="573.2" cy="259.5" r="2.9" fill="#ff0000" stroke="#222" stroke-width="0.8"/>
<circle cx="573.2" cy="253.7" r="2.9" fill="#00b050" stroke="#222" stroke-width="0.8"/>
<circle cx="589.9" cy="266.9" r="2.9" fill="#ff0000" stroke="#222" stroke-width="0.8"/>
<circle cx="589.9" cy="259.7" r="2.9" fill="#00b050" stroke="#222" stroke-width="0.8"/>
<circle cx="641.2" cy="265.7" r="2.9" fill="#ff0000" stroke="#222" stroke-width="0.8"/>
<circle cx="641.2" cy="261.3" r="2.9" fill="#00b050" stroke="#222" stroke-width="0.8"/>
<circle cx="681.8" cy="255.9" r="2.9" fill="#ff0000" stroke="#222" stroke-width="0.8"/>
<circle cx="681.8" cy="249.8" r="2.9" fill="#00b050" stroke="#222" stroke-width="0.8"/>
<rect x="63.5" y="193" width="122" height="77.5" fill="#fff" stroke="#595959" stroke-width="1"/>
<text x="77.9" y="206.1" font-size="10.3" font-weight="normal" text-anchor="start" fill="#262626" textLength="71.6" lengthAdjust="spacingAndGlyphs" font-family="Liberation Sans, sans-serif">Control (sensor)</text>
<rect x="71.8" y="202.0" width="1.2" height="1.2" fill="#00b050"/>
<text x="77.9" y="225.5" font-size="10.3" font-weight="normal" text-anchor="start" fill="#262626" textLength="102.9" lengthAdjust="spacingAndGlyphs" font-family="Liberation Sans, sans-serif">Control (water sample)</text>
<circle cx="72.5" cy="222.2" r="2.9" fill="#00b050" stroke="#222" stroke-width="0.8"/>
<text x="77.9" y="244.89999999999998" font-size="10.3" font-weight="normal" text-anchor="start" fill="#262626" textLength="60.5" lengthAdjust="spacingAndGlyphs" font-family="Liberation Sans, sans-serif">Seep (sensor)</text>
<rect x="71.8" y="240.8" width="1.2" height="1.2" fill="#ff0000"/>
<text x="77.9" y="264.3" font-size="10.3" font-weight="normal" text-anchor="start" fill="#262626" textLength="91.2" lengthAdjust="spacingAndGlyphs" font-family="Liberation Sans, sans-serif">Seep (water sample)</text>
<circle cx="72.5" cy="261.0" r="2.9" fill="#ff0000" stroke="#222" stroke-width="0.8"/>
</svg></body></html>
